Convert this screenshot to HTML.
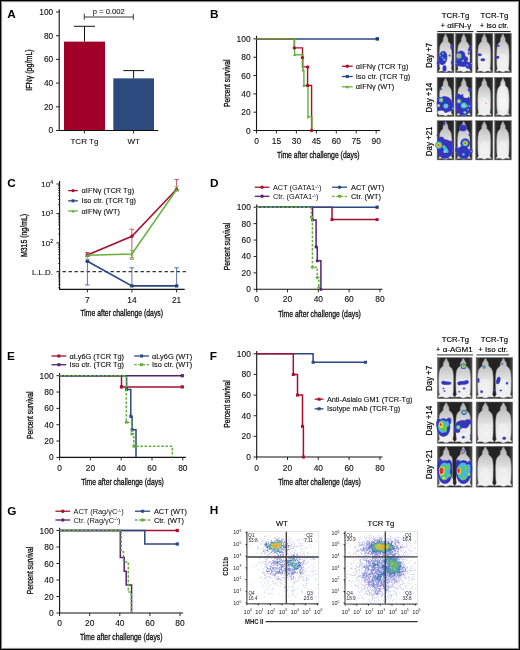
<!DOCTYPE html>
<html><head><meta charset="utf-8"><style>
html,body{margin:0;padding:0;background:#fff;}
svg{display:block;will-change:transform;}
text{font-family:"Liberation Sans", sans-serif;}
</style></head><body>
<svg width="520" height="650" viewBox="0 0 520 650">
<defs>
<filter id="b03" x="-5%" y="-5%" width="110%" height="110%"><feGaussianBlur stdDeviation="0.3"/></filter>
<filter id="b05" x="-20%" y="-20%" width="140%" height="140%"><feGaussianBlur stdDeviation="0.45"/></filter>
<filter id="b04" x="-50%" y="-50%" width="200%" height="200%"><feGaussianBlur stdDeviation="0.55"/></filter>
<filter id="b06" x="-50%" y="-50%" width="200%" height="200%"><feGaussianBlur stdDeviation="0.7"/></filter>
<radialGradient id="mg2" cx="0.5" cy="0.6" r="0.6"><stop offset="0" stop-color="#fafafa"/><stop offset="0.6" stop-color="#eeeeee"/><stop offset="1" stop-color="#bdbdbd"/></radialGradient>
<linearGradient id="mg" x1="0" y1="0" x2="0" y2="1"><stop offset="0" stop-color="#b0b0b0"/><stop offset="0.3" stop-color="#cdcdcd"/><stop offset="0.55" stop-color="#e6e6e6"/><stop offset="1" stop-color="#f2f2f2"/></linearGradient>
<linearGradient id="bgg" x1="0" y1="0" x2="1" y2="0"><stop offset="0" stop-color="#5a5a5a"/><stop offset="0.1" stop-color="#282828"/><stop offset="0.5" stop-color="#222"/><stop offset="0.9" stop-color="#282828"/><stop offset="1" stop-color="#4a4a4a"/></linearGradient>
</defs>
<rect x="0" y="0" width="520" height="650" fill="#fff"/>
<text transform="translate(7.30,17.90)" font-size="11.8" text-anchor="start" font-weight="bold" fill="#000" >A</text>
<line x1="59.20" y1="9.20" x2="59.20" y2="131.00" stroke="#111" stroke-width="1.1" stroke-linecap="butt"/>
<line x1="56.00" y1="130.50" x2="59.20" y2="130.50" stroke="#111" stroke-width="0.9" stroke-linecap="butt"/>
<text transform="translate(53.20,133.49)" font-size="8.3" text-anchor="end" font-weight="normal" fill="#111" stroke="#111" stroke-width="0.12">0</text>
<line x1="56.00" y1="106.80" x2="59.20" y2="106.80" stroke="#111" stroke-width="0.9" stroke-linecap="butt"/>
<text transform="translate(53.20,109.79)" font-size="8.3" text-anchor="end" font-weight="normal" fill="#111" stroke="#111" stroke-width="0.12">20</text>
<line x1="56.00" y1="83.10" x2="59.20" y2="83.10" stroke="#111" stroke-width="0.9" stroke-linecap="butt"/>
<text transform="translate(53.20,86.09)" font-size="8.3" text-anchor="end" font-weight="normal" fill="#111" stroke="#111" stroke-width="0.12">40</text>
<line x1="56.00" y1="59.40" x2="59.20" y2="59.40" stroke="#111" stroke-width="0.9" stroke-linecap="butt"/>
<text transform="translate(53.20,62.39)" font-size="8.3" text-anchor="end" font-weight="normal" fill="#111" stroke="#111" stroke-width="0.12">60</text>
<line x1="56.00" y1="35.70" x2="59.20" y2="35.70" stroke="#111" stroke-width="0.9" stroke-linecap="butt"/>
<text transform="translate(53.20,38.69)" font-size="8.3" text-anchor="end" font-weight="normal" fill="#111" stroke="#111" stroke-width="0.12">80</text>
<line x1="56.00" y1="12.00" x2="59.20" y2="12.00" stroke="#111" stroke-width="0.9" stroke-linecap="butt"/>
<text transform="translate(53.20,14.99)" font-size="8.3" text-anchor="end" font-weight="normal" fill="#111" stroke="#111" stroke-width="0.12">100</text>
<rect x="64.00" y="41.62" width="41.00" height="88.88" fill="#a1002b"/>
<rect x="113.30" y="78.36" width="40.70" height="52.14" fill="#2d4a7f"/>
<line x1="84.50" y1="41.62" x2="84.50" y2="26.30" stroke="#111" stroke-width="1.0" stroke-linecap="butt"/>
<line x1="74.00" y1="26.30" x2="95.00" y2="26.30" stroke="#111" stroke-width="1.0" stroke-linecap="butt"/>
<line x1="133.60" y1="78.36" x2="133.60" y2="70.60" stroke="#111" stroke-width="1.0" stroke-linecap="butt"/>
<line x1="123.30" y1="70.60" x2="144.20" y2="70.60" stroke="#111" stroke-width="1.0" stroke-linecap="butt"/>
<line x1="58.70" y1="130.50" x2="158.30" y2="130.50" stroke="#111" stroke-width="1.1" stroke-linecap="butt"/>
<line x1="84.40" y1="130.50" x2="84.40" y2="133.50" stroke="#111" stroke-width="0.9" stroke-linecap="butt"/>
<line x1="133.60" y1="130.50" x2="133.60" y2="133.50" stroke="#111" stroke-width="0.9" stroke-linecap="butt"/>
<text transform="translate(84.40,144.20)" font-size="8.0" text-anchor="middle" font-weight="normal" fill="#111" stroke="#111" stroke-width="0.12">TCR Tg</text>
<text transform="translate(133.60,144.20)" font-size="8.0" text-anchor="middle" font-weight="normal" fill="#111" stroke="#111" stroke-width="0.12">WT</text>
<line x1="84.30" y1="17.00" x2="133.30" y2="17.00" stroke="#222" stroke-width="0.9" stroke-linecap="butt"/>
<line x1="84.30" y1="13.80" x2="84.30" y2="19.80" stroke="#222" stroke-width="0.9" stroke-linecap="butt"/>
<line x1="133.30" y1="13.80" x2="133.30" y2="19.80" stroke="#222" stroke-width="0.9" stroke-linecap="butt"/>
<text transform="translate(108.80,13.90)" font-size="7.6" text-anchor="middle" font-weight="normal" fill="#222" stroke="#222" stroke-width="0.12">p = 0.002</text>
<text transform="translate(32.30,70.00) rotate(-90) scale(0.726,1)" font-size="9.8" text-anchor="middle" font-weight="normal" fill="#111" stroke="#111" stroke-width="0.34">IFNγ (pg/mL)</text>
<text transform="translate(209.90,18.00)" font-size="11.8" text-anchor="start" font-weight="bold" fill="#000" >B</text>
<line x1="256.50" y1="35.80" x2="256.50" y2="131.00" stroke="#111" stroke-width="1.1" stroke-linecap="butt"/>
<line x1="253.30" y1="130.50" x2="256.50" y2="130.50" stroke="#111" stroke-width="0.9" stroke-linecap="butt"/>
<text transform="translate(250.60,133.52)" font-size="8.4" text-anchor="end" font-weight="normal" fill="#111" stroke="#111" stroke-width="0.12">0</text>
<line x1="253.30" y1="112.18" x2="256.50" y2="112.18" stroke="#111" stroke-width="0.9" stroke-linecap="butt"/>
<text transform="translate(250.60,115.20)" font-size="8.4" text-anchor="end" font-weight="normal" fill="#111" stroke="#111" stroke-width="0.12">20</text>
<line x1="253.30" y1="93.86" x2="256.50" y2="93.86" stroke="#111" stroke-width="0.9" stroke-linecap="butt"/>
<text transform="translate(250.60,96.88)" font-size="8.4" text-anchor="end" font-weight="normal" fill="#111" stroke="#111" stroke-width="0.12">40</text>
<line x1="253.30" y1="75.54" x2="256.50" y2="75.54" stroke="#111" stroke-width="0.9" stroke-linecap="butt"/>
<text transform="translate(250.60,78.56)" font-size="8.4" text-anchor="end" font-weight="normal" fill="#111" stroke="#111" stroke-width="0.12">60</text>
<line x1="253.30" y1="57.22" x2="256.50" y2="57.22" stroke="#111" stroke-width="0.9" stroke-linecap="butt"/>
<text transform="translate(250.60,60.24)" font-size="8.4" text-anchor="end" font-weight="normal" fill="#111" stroke="#111" stroke-width="0.12">80</text>
<line x1="253.30" y1="38.90" x2="256.50" y2="38.90" stroke="#111" stroke-width="0.9" stroke-linecap="butt"/>
<text transform="translate(250.60,41.92)" font-size="8.4" text-anchor="end" font-weight="normal" fill="#111" stroke="#111" stroke-width="0.12">100</text>
<line x1="256.00" y1="130.50" x2="380.00" y2="130.50" stroke="#111" stroke-width="1.1" stroke-linecap="butt"/>
<line x1="256.50" y1="130.50" x2="256.50" y2="133.50" stroke="#111" stroke-width="0.9" stroke-linecap="butt"/>
<text transform="translate(256.50,144.00)" font-size="8.4" text-anchor="middle" font-weight="normal" fill="#111" stroke="#111" stroke-width="0.12">0</text>
<line x1="276.45" y1="130.50" x2="276.45" y2="133.50" stroke="#111" stroke-width="0.9" stroke-linecap="butt"/>
<text transform="translate(276.45,144.00)" font-size="8.4" text-anchor="middle" font-weight="normal" fill="#111" stroke="#111" stroke-width="0.12">15</text>
<line x1="296.40" y1="130.50" x2="296.40" y2="133.50" stroke="#111" stroke-width="0.9" stroke-linecap="butt"/>
<text transform="translate(296.40,144.00)" font-size="8.4" text-anchor="middle" font-weight="normal" fill="#111" stroke="#111" stroke-width="0.12">30</text>
<line x1="316.35" y1="130.50" x2="316.35" y2="133.50" stroke="#111" stroke-width="0.9" stroke-linecap="butt"/>
<text transform="translate(316.35,144.00)" font-size="8.4" text-anchor="middle" font-weight="normal" fill="#111" stroke="#111" stroke-width="0.12">45</text>
<line x1="336.30" y1="130.50" x2="336.30" y2="133.50" stroke="#111" stroke-width="0.9" stroke-linecap="butt"/>
<text transform="translate(336.30,144.00)" font-size="8.4" text-anchor="middle" font-weight="normal" fill="#111" stroke="#111" stroke-width="0.12">60</text>
<line x1="356.25" y1="130.50" x2="356.25" y2="133.50" stroke="#111" stroke-width="0.9" stroke-linecap="butt"/>
<text transform="translate(356.25,144.00)" font-size="8.4" text-anchor="middle" font-weight="normal" fill="#111" stroke="#111" stroke-width="0.12">75</text>
<line x1="376.20" y1="130.50" x2="376.20" y2="133.50" stroke="#111" stroke-width="0.9" stroke-linecap="butt"/>
<text transform="translate(376.20,144.00)" font-size="8.4" text-anchor="middle" font-weight="normal" fill="#111" stroke="#111" stroke-width="0.12">90</text>
<text transform="translate(230.40,83.30) rotate(-90) scale(0.68,1)" font-size="9.8" text-anchor="middle" font-weight="normal" fill="#111" stroke="#111" stroke-width="0.34">Percent survival</text>
<text transform="translate(318.30,157.70) scale(0.7,1)" font-size="9.8" text-anchor="middle" font-weight="normal" fill="#111" stroke="#111" stroke-width="0.34">Time after challenge (days)</text>
<path d="M256.5,38.89999999999999H377.3" stroke="#2b4784" stroke-width="1.5" fill="none" stroke-linejoin="miter"/>
<rect x="375.60" y="37.20" width="3.40" height="3.40" fill="#1f3a78"/>
<path d="M256.5,38.90H294.3V47.9H302.5V66.9H307.6V85.5H311.6V130.5" stroke="#a8102f" stroke-width="1.4" fill="none" stroke-linejoin="miter"/>
<path d="M256.5,38.90H294.6V54.7H302.9V70.1H303.9V85.5H308.0V116.9H312.0V130.5" stroke="#66b03c" stroke-width="1.4" fill="none" stroke-linejoin="miter"/>
<path d="M293.00,56.10L294.60,53.30L296.20,56.10Z" fill="#66b03c"/>
<path d="M301.30,71.50L302.90,68.70L304.50,71.50Z" fill="#66b03c"/>
<path d="M302.30,86.90L303.90,84.10L305.50,86.90Z" fill="#66b03c"/>
<path d="M306.40,118.30L308.00,115.50L309.60,118.30Z" fill="#66b03c"/>
<circle cx="294.30" cy="47.90" r="1.70" fill="#a8102f"/>
<circle cx="302.40" cy="57.60" r="1.70" fill="#a8102f"/>
<circle cx="307.70" cy="66.90" r="1.70" fill="#a8102f"/>
<circle cx="307.60" cy="85.50" r="1.70" fill="#a8102f"/>
<circle cx="311.60" cy="130.50" r="1.70" fill="#a8102f"/>
<line x1="341.90" y1="66.20" x2="352.70" y2="66.20" stroke="#a8102f" stroke-width="1.3" stroke-linecap="butt"/>
<circle cx="347.30" cy="66.20" r="1.70" fill="#a8102f"/>
<text transform="translate(355.80,68.79)" font-size="7.4" text-anchor="start" font-weight="normal" fill="#111" stroke="#111" stroke-width="0.12">αIFNγ (TCR Tg)</text>
<line x1="341.90" y1="76.50" x2="352.70" y2="76.50" stroke="#2b4784" stroke-width="1.3" stroke-linecap="butt"/>
<rect x="345.80" y="75.00" width="3.00" height="3.00" fill="#2b4784"/>
<text transform="translate(355.80,79.09)" font-size="7.4" text-anchor="start" font-weight="normal" fill="#111" stroke="#111" stroke-width="0.12">Iso ctr. (TCR Tg)</text>
<line x1="341.90" y1="86.80" x2="352.70" y2="86.80" stroke="#66b03c" stroke-width="1.3" stroke-linecap="butt"/>
<path d="M345.60,88.30L347.30,85.30L349.00,88.30Z" fill="#66b03c"/>
<text transform="translate(355.80,89.39)" font-size="7.4" text-anchor="start" font-weight="normal" fill="#111" stroke="#111" stroke-width="0.12">αIFNγ (WT)</text>
<text transform="translate(7.30,186.80)" font-size="11.8" text-anchor="start" font-weight="bold" fill="#000" >C</text>
<line x1="59.60" y1="181.00" x2="59.60" y2="289.40" stroke="#111" stroke-width="1.1" stroke-linecap="butt"/>
<line x1="56.40" y1="184.00" x2="59.60" y2="184.00" stroke="#111" stroke-width="0.9" stroke-linecap="butt"/>
<text transform="translate(50.20,186.90)" font-size="8.0" text-anchor="end" font-weight="normal" fill="#111" stroke="#111" stroke-width="0.12">10</text>
<text transform="translate(50.30,184.10)" font-size="5.2" text-anchor="start" font-weight="normal" fill="#111" stroke="#111" stroke-width="0.12">4</text>
<line x1="56.40" y1="213.45" x2="59.60" y2="213.45" stroke="#111" stroke-width="0.9" stroke-linecap="butt"/>
<text transform="translate(50.20,216.35)" font-size="8.0" text-anchor="end" font-weight="normal" fill="#111" stroke="#111" stroke-width="0.12">10</text>
<text transform="translate(50.30,213.55)" font-size="5.2" text-anchor="start" font-weight="normal" fill="#111" stroke="#111" stroke-width="0.12">3</text>
<line x1="56.40" y1="242.90" x2="59.60" y2="242.90" stroke="#111" stroke-width="0.9" stroke-linecap="butt"/>
<text transform="translate(50.20,245.80)" font-size="8.0" text-anchor="end" font-weight="normal" fill="#111" stroke="#111" stroke-width="0.12">10</text>
<text transform="translate(50.30,243.00)" font-size="5.2" text-anchor="start" font-weight="normal" fill="#111" stroke="#111" stroke-width="0.12">2</text>
<line x1="58.00" y1="204.58" x2="59.60" y2="204.58" stroke="#111" stroke-width="0.7" stroke-linecap="butt"/>
<line x1="58.00" y1="199.40" x2="59.60" y2="199.40" stroke="#111" stroke-width="0.7" stroke-linecap="butt"/>
<line x1="58.00" y1="195.72" x2="59.60" y2="195.72" stroke="#111" stroke-width="0.7" stroke-linecap="butt"/>
<line x1="58.00" y1="192.87" x2="59.60" y2="192.87" stroke="#111" stroke-width="0.7" stroke-linecap="butt"/>
<line x1="58.00" y1="190.53" x2="59.60" y2="190.53" stroke="#111" stroke-width="0.7" stroke-linecap="butt"/>
<line x1="58.00" y1="188.56" x2="59.60" y2="188.56" stroke="#111" stroke-width="0.7" stroke-linecap="butt"/>
<line x1="58.00" y1="186.85" x2="59.60" y2="186.85" stroke="#111" stroke-width="0.7" stroke-linecap="butt"/>
<line x1="58.00" y1="185.35" x2="59.60" y2="185.35" stroke="#111" stroke-width="0.7" stroke-linecap="butt"/>
<line x1="58.00" y1="234.03" x2="59.60" y2="234.03" stroke="#111" stroke-width="0.7" stroke-linecap="butt"/>
<line x1="58.00" y1="228.85" x2="59.60" y2="228.85" stroke="#111" stroke-width="0.7" stroke-linecap="butt"/>
<line x1="58.00" y1="225.17" x2="59.60" y2="225.17" stroke="#111" stroke-width="0.7" stroke-linecap="butt"/>
<line x1="58.00" y1="222.32" x2="59.60" y2="222.32" stroke="#111" stroke-width="0.7" stroke-linecap="butt"/>
<line x1="58.00" y1="219.98" x2="59.60" y2="219.98" stroke="#111" stroke-width="0.7" stroke-linecap="butt"/>
<line x1="58.00" y1="218.01" x2="59.60" y2="218.01" stroke="#111" stroke-width="0.7" stroke-linecap="butt"/>
<line x1="58.00" y1="216.30" x2="59.60" y2="216.30" stroke="#111" stroke-width="0.7" stroke-linecap="butt"/>
<line x1="58.00" y1="214.80" x2="59.60" y2="214.80" stroke="#111" stroke-width="0.7" stroke-linecap="butt"/>
<line x1="58.00" y1="263.48" x2="59.60" y2="263.48" stroke="#111" stroke-width="0.7" stroke-linecap="butt"/>
<line x1="58.00" y1="258.30" x2="59.60" y2="258.30" stroke="#111" stroke-width="0.7" stroke-linecap="butt"/>
<line x1="58.00" y1="254.62" x2="59.60" y2="254.62" stroke="#111" stroke-width="0.7" stroke-linecap="butt"/>
<line x1="58.00" y1="251.77" x2="59.60" y2="251.77" stroke="#111" stroke-width="0.7" stroke-linecap="butt"/>
<line x1="58.00" y1="249.43" x2="59.60" y2="249.43" stroke="#111" stroke-width="0.7" stroke-linecap="butt"/>
<line x1="58.00" y1="247.46" x2="59.60" y2="247.46" stroke="#111" stroke-width="0.7" stroke-linecap="butt"/>
<line x1="58.00" y1="245.75" x2="59.60" y2="245.75" stroke="#111" stroke-width="0.7" stroke-linecap="butt"/>
<line x1="58.00" y1="244.25" x2="59.60" y2="244.25" stroke="#111" stroke-width="0.7" stroke-linecap="butt"/>
<line x1="58.00" y1="287.75" x2="59.60" y2="287.75" stroke="#111" stroke-width="0.7" stroke-linecap="butt"/>
<line x1="58.00" y1="284.07" x2="59.60" y2="284.07" stroke="#111" stroke-width="0.7" stroke-linecap="butt"/>
<line x1="58.00" y1="281.22" x2="59.60" y2="281.22" stroke="#111" stroke-width="0.7" stroke-linecap="butt"/>
<line x1="58.00" y1="278.88" x2="59.60" y2="278.88" stroke="#111" stroke-width="0.7" stroke-linecap="butt"/>
<line x1="58.00" y1="276.91" x2="59.60" y2="276.91" stroke="#111" stroke-width="0.7" stroke-linecap="butt"/>
<line x1="58.00" y1="275.20" x2="59.60" y2="275.20" stroke="#111" stroke-width="0.7" stroke-linecap="butt"/>
<line x1="58.00" y1="273.70" x2="59.60" y2="273.70" stroke="#111" stroke-width="0.7" stroke-linecap="butt"/>
<line x1="56.50" y1="271.70" x2="186.00" y2="271.70" stroke="#333" stroke-width="1.2" stroke-linecap="butt" stroke-dasharray="3.4,2.6"/>
<text transform="translate(53.00,274.60)" font-size="7.9" text-anchor="end" font-weight="normal" fill="#111" stroke="#111" stroke-width="0.12">L.L.D.</text>
<line x1="59.10" y1="289.40" x2="184.70" y2="289.40" stroke="#111" stroke-width="1.1" stroke-linecap="butt"/>
<line x1="87.40" y1="289.40" x2="87.40" y2="292.40" stroke="#111" stroke-width="0.9" stroke-linecap="butt"/>
<text transform="translate(87.40,303.40)" font-size="8.4" text-anchor="middle" font-weight="normal" fill="#111" stroke="#111" stroke-width="0.12">7</text>
<line x1="131.90" y1="289.40" x2="131.90" y2="292.40" stroke="#111" stroke-width="0.9" stroke-linecap="butt"/>
<text transform="translate(131.90,303.40)" font-size="8.4" text-anchor="middle" font-weight="normal" fill="#111" stroke="#111" stroke-width="0.12">14</text>
<line x1="176.60" y1="289.40" x2="176.60" y2="292.40" stroke="#111" stroke-width="0.9" stroke-linecap="butt"/>
<text transform="translate(176.60,303.40)" font-size="8.4" text-anchor="middle" font-weight="normal" fill="#111" stroke="#111" stroke-width="0.12">21</text>
<text transform="translate(121.70,316.10) scale(0.7,1)" font-size="9.8" text-anchor="middle" font-weight="normal" fill="#111" stroke="#111" stroke-width="0.34">Time after challenge (days)</text>
<text transform="translate(26.50,235.50) rotate(-90) scale(0.71,1)" font-size="9.8" text-anchor="middle" font-weight="normal" fill="#111" stroke="#111" stroke-width="0.34">M315 (ng/mL)</text>
<line x1="87.40" y1="252.70" x2="87.40" y2="256.30" stroke="#8a3050" stroke-width="0.9" stroke-linecap="butt"/>
<line x1="85.10" y1="252.70" x2="89.70" y2="252.70" stroke="#8a3050" stroke-width="0.9" stroke-linecap="butt"/>
<line x1="85.10" y1="256.30" x2="89.70" y2="256.30" stroke="#8a3050" stroke-width="0.9" stroke-linecap="butt"/>
<line x1="87.40" y1="255.00" x2="87.40" y2="259.00" stroke="#7fbf55" stroke-width="0.9" stroke-linecap="butt"/>
<line x1="85.10" y1="255.00" x2="89.70" y2="255.00" stroke="#7fbf55" stroke-width="0.9" stroke-linecap="butt"/>
<line x1="85.10" y1="259.00" x2="89.70" y2="259.00" stroke="#7fbf55" stroke-width="0.9" stroke-linecap="butt"/>
<line x1="87.40" y1="261.30" x2="87.40" y2="285.00" stroke="#4a66a0" stroke-width="0.9" stroke-linecap="butt"/>
<line x1="85.10" y1="261.30" x2="89.70" y2="261.30" stroke="#4a66a0" stroke-width="0.9" stroke-linecap="butt"/>
<line x1="85.10" y1="285.00" x2="89.70" y2="285.00" stroke="#4a66a0" stroke-width="0.9" stroke-linecap="butt"/>
<line x1="131.90" y1="229.20" x2="131.90" y2="258.00" stroke="#c0405e" stroke-width="0.9" stroke-linecap="butt"/>
<line x1="129.60" y1="229.20" x2="134.20" y2="229.20" stroke="#c0405e" stroke-width="0.9" stroke-linecap="butt"/>
<line x1="129.60" y1="258.00" x2="134.20" y2="258.00" stroke="#c0405e" stroke-width="0.9" stroke-linecap="butt"/>
<line x1="131.90" y1="250.40" x2="131.90" y2="259.60" stroke="#7fbf55" stroke-width="0.9" stroke-linecap="butt"/>
<line x1="129.60" y1="250.40" x2="134.20" y2="250.40" stroke="#7fbf55" stroke-width="0.9" stroke-linecap="butt"/>
<line x1="129.60" y1="259.60" x2="134.20" y2="259.60" stroke="#7fbf55" stroke-width="0.9" stroke-linecap="butt"/>
<line x1="131.90" y1="267.80" x2="131.90" y2="285.90" stroke="#4a66a0" stroke-width="0.9" stroke-linecap="butt"/>
<line x1="129.60" y1="267.80" x2="134.20" y2="267.80" stroke="#4a66a0" stroke-width="0.9" stroke-linecap="butt"/>
<line x1="129.60" y1="285.90" x2="134.20" y2="285.90" stroke="#4a66a0" stroke-width="0.9" stroke-linecap="butt"/>
<line x1="176.60" y1="179.60" x2="176.60" y2="190.50" stroke="#c0405e" stroke-width="0.9" stroke-linecap="butt"/>
<line x1="174.30" y1="179.60" x2="178.90" y2="179.60" stroke="#c0405e" stroke-width="0.9" stroke-linecap="butt"/>
<line x1="174.30" y1="190.50" x2="178.90" y2="190.50" stroke="#c0405e" stroke-width="0.9" stroke-linecap="butt"/>
<line x1="176.60" y1="186.60" x2="176.60" y2="191.30" stroke="#7fbf55" stroke-width="0.9" stroke-linecap="butt"/>
<line x1="174.30" y1="186.60" x2="178.90" y2="186.60" stroke="#7fbf55" stroke-width="0.9" stroke-linecap="butt"/>
<line x1="174.30" y1="191.30" x2="178.90" y2="191.30" stroke="#7fbf55" stroke-width="0.9" stroke-linecap="butt"/>
<line x1="176.60" y1="267.80" x2="176.60" y2="285.90" stroke="#4a66a0" stroke-width="0.9" stroke-linecap="butt"/>
<line x1="174.30" y1="267.80" x2="178.90" y2="267.80" stroke="#4a66a0" stroke-width="0.9" stroke-linecap="butt"/>
<line x1="174.30" y1="285.90" x2="178.90" y2="285.90" stroke="#4a66a0" stroke-width="0.9" stroke-linecap="butt"/>
<path d="M87.4,261.3L131.9,285.9L176.6,285.9" stroke="#2b4784" stroke-width="1.6" fill="none" stroke-linejoin="miter"/>
<rect x="85.80" y="259.70" width="3.20" height="3.20" fill="#22407a"/>
<rect x="130.30" y="284.30" width="3.20" height="3.20" fill="#22407a"/>
<rect x="175.00" y="284.30" width="3.20" height="3.20" fill="#22407a"/>
<path d="M87.4,255.0L131.9,236.3L176.6,189.2" stroke="#a8102f" stroke-width="1.6" fill="none" stroke-linejoin="miter"/>
<circle cx="87.40" cy="255.00" r="1.70" fill="#a8102f"/>
<circle cx="131.90" cy="236.30" r="1.70" fill="#a8102f"/>
<circle cx="176.60" cy="189.20" r="1.70" fill="#a8102f"/>
<path d="M87.4,255.3L131.9,254.0L176.6,189.6" stroke="#66b03c" stroke-width="1.6" fill="none" stroke-linejoin="miter"/>
<path d="M85.80,256.70L87.40,253.90L89.00,256.70Z" fill="#66b03c"/>
<path d="M130.30,255.40L131.90,252.60L133.50,255.40Z" fill="#66b03c"/>
<path d="M175.00,191.00L176.60,188.20L178.20,191.00Z" fill="#66b03c"/>
<line x1="68.20" y1="190.60" x2="77.90" y2="190.60" stroke="#a8102f" stroke-width="1.3" stroke-linecap="butt"/>
<circle cx="73.05" cy="190.60" r="1.70" fill="#a8102f"/>
<text transform="translate(81.60,193.19)" font-size="7.4" text-anchor="start" font-weight="normal" fill="#111" stroke="#111" stroke-width="0.12">αIFNγ (TCR Tg)</text>
<line x1="68.20" y1="200.80" x2="77.90" y2="200.80" stroke="#2b4784" stroke-width="1.3" stroke-linecap="butt"/>
<rect x="71.55" y="199.30" width="3.00" height="3.00" fill="#2b4784"/>
<text transform="translate(81.60,203.39)" font-size="7.4" text-anchor="start" font-weight="normal" fill="#111" stroke="#111" stroke-width="0.12">Iso ctr. (TCR Tg)</text>
<line x1="68.20" y1="211.00" x2="77.90" y2="211.00" stroke="#66b03c" stroke-width="1.3" stroke-linecap="butt"/>
<path d="M71.35,212.50L73.05,209.50L74.75,212.50Z" fill="#66b03c"/>
<text transform="translate(81.60,213.59)" font-size="7.4" text-anchor="start" font-weight="normal" fill="#111" stroke="#111" stroke-width="0.12">αIFNγ (WT)</text>
<text transform="translate(209.90,186.60)" font-size="11.8" text-anchor="start" font-weight="bold" fill="#000" >D</text>
<line x1="256.70" y1="204.40" x2="256.70" y2="289.80" stroke="#111" stroke-width="1.1" stroke-linecap="butt"/>
<line x1="253.50" y1="289.30" x2="256.70" y2="289.30" stroke="#111" stroke-width="0.9" stroke-linecap="butt"/>
<text transform="translate(250.80,292.32)" font-size="8.4" text-anchor="end" font-weight="normal" fill="#111" stroke="#111" stroke-width="0.12">0</text>
<line x1="253.50" y1="272.88" x2="256.70" y2="272.88" stroke="#111" stroke-width="0.9" stroke-linecap="butt"/>
<text transform="translate(250.80,275.90)" font-size="8.4" text-anchor="end" font-weight="normal" fill="#111" stroke="#111" stroke-width="0.12">20</text>
<line x1="253.50" y1="256.46" x2="256.70" y2="256.46" stroke="#111" stroke-width="0.9" stroke-linecap="butt"/>
<text transform="translate(250.80,259.48)" font-size="8.4" text-anchor="end" font-weight="normal" fill="#111" stroke="#111" stroke-width="0.12">40</text>
<line x1="253.50" y1="240.04" x2="256.70" y2="240.04" stroke="#111" stroke-width="0.9" stroke-linecap="butt"/>
<text transform="translate(250.80,243.06)" font-size="8.4" text-anchor="end" font-weight="normal" fill="#111" stroke="#111" stroke-width="0.12">60</text>
<line x1="253.50" y1="223.62" x2="256.70" y2="223.62" stroke="#111" stroke-width="0.9" stroke-linecap="butt"/>
<text transform="translate(250.80,226.64)" font-size="8.4" text-anchor="end" font-weight="normal" fill="#111" stroke="#111" stroke-width="0.12">80</text>
<line x1="253.50" y1="207.20" x2="256.70" y2="207.20" stroke="#111" stroke-width="0.9" stroke-linecap="butt"/>
<text transform="translate(250.80,210.22)" font-size="8.4" text-anchor="end" font-weight="normal" fill="#111" stroke="#111" stroke-width="0.12">100</text>
<line x1="256.20" y1="289.30" x2="382.50" y2="289.30" stroke="#111" stroke-width="1.1" stroke-linecap="butt"/>
<line x1="256.70" y1="289.30" x2="256.70" y2="292.30" stroke="#111" stroke-width="0.9" stroke-linecap="butt"/>
<text transform="translate(256.70,302.40)" font-size="8.4" text-anchor="middle" font-weight="normal" fill="#111" stroke="#111" stroke-width="0.12">0</text>
<line x1="287.50" y1="289.30" x2="287.50" y2="292.30" stroke="#111" stroke-width="0.9" stroke-linecap="butt"/>
<text transform="translate(287.50,302.40)" font-size="8.4" text-anchor="middle" font-weight="normal" fill="#111" stroke="#111" stroke-width="0.12">20</text>
<line x1="318.30" y1="289.30" x2="318.30" y2="292.30" stroke="#111" stroke-width="0.9" stroke-linecap="butt"/>
<text transform="translate(318.30,302.40)" font-size="8.4" text-anchor="middle" font-weight="normal" fill="#111" stroke="#111" stroke-width="0.12">40</text>
<line x1="349.10" y1="289.30" x2="349.10" y2="292.30" stroke="#111" stroke-width="0.9" stroke-linecap="butt"/>
<text transform="translate(349.10,302.40)" font-size="8.4" text-anchor="middle" font-weight="normal" fill="#111" stroke="#111" stroke-width="0.12">60</text>
<line x1="379.90" y1="289.30" x2="379.90" y2="292.30" stroke="#111" stroke-width="0.9" stroke-linecap="butt"/>
<text transform="translate(379.90,302.40)" font-size="8.4" text-anchor="middle" font-weight="normal" fill="#111" stroke="#111" stroke-width="0.12">80</text>
<text transform="translate(229.90,246.50) rotate(-90) scale(0.68,1)" font-size="9.8" text-anchor="middle" font-weight="normal" fill="#111" stroke="#111" stroke-width="0.34">Percent survival</text>
<text transform="translate(319.50,316.70) scale(0.7,1)" font-size="9.8" text-anchor="middle" font-weight="normal" fill="#111" stroke="#111" stroke-width="0.34">Time after challenge (days)</text>
<path d="M256.7,207.2H332.0V219.6H377.1" stroke="#a8102f" stroke-width="1.5" fill="none" stroke-linejoin="miter"/>
<rect x="330.50" y="218.10" width="3.00" height="3.00" fill="#a8102f"/>
<rect x="375.60" y="218.10" width="3.00" height="3.00" fill="#a8102f"/>
<path d="M256.7,207.2H312.6V219.9H316.1V246.9H317.3V260.8H320.9V289.3" stroke="#55236f" stroke-width="1.5" fill="none" stroke-linejoin="miter"/>
<circle cx="312.60" cy="219.90" r="1.60" fill="#55236f"/>
<circle cx="316.10" cy="246.90" r="1.60" fill="#55236f"/>
<circle cx="317.30" cy="260.80" r="1.60" fill="#55236f"/>
<circle cx="320.90" cy="289.30" r="1.60" fill="#55236f"/>
<path d="M256.7,207.2H377.1" stroke="#2b4784" stroke-width="1.5" fill="none" stroke-linejoin="miter"/>
<rect x="375.50" y="205.60" width="3.20" height="3.20" fill="#1f3a78"/>
<path d="M256.7,207.2H311.3V217.0H312.4V267.2H317.2V277.4H318.8V289.3" stroke="#66b03c" stroke-width="1.5" fill="none" stroke-linejoin="miter" stroke-dasharray="2.6,1.6"/>
<circle cx="311.30" cy="217.00" r="1.50" fill="#66b03c"/>
<circle cx="312.40" cy="267.20" r="1.50" fill="#66b03c"/>
<circle cx="317.20" cy="277.40" r="1.50" fill="#66b03c"/>
<circle cx="318.80" cy="287.50" r="1.50" fill="#66b03c"/>
<line x1="254.80" y1="187.20" x2="269.40" y2="187.20" stroke="#a8102f" stroke-width="1.3" stroke-linecap="butt"/>
<circle cx="262.10" cy="187.20" r="1.70" fill="#a8102f"/>
<text transform="translate(272.90,189.79)" font-size="7.4" text-anchor="start" font-weight="normal" fill="#111" stroke="#111" stroke-width="0.12"></text>
<text transform="translate(272.90,189.80)" font-size="7.4" fill="#111">ACT (GATA1<tspan font-size="4.14" dy="-2.2">-/-</tspan><tspan dy="2.2">)</tspan></text>
<line x1="254.80" y1="196.30" x2="269.40" y2="196.30" stroke="#55236f" stroke-width="1.3" stroke-linecap="butt"/>
<circle cx="262.10" cy="196.30" r="1.70" fill="#55236f"/>
<text transform="translate(272.90,198.89)" font-size="7.4" text-anchor="start" font-weight="normal" fill="#111" stroke="#111" stroke-width="0.12"></text>
<text transform="translate(272.90,198.90)" font-size="7.4" fill="#111">Ctr. (GATA1<tspan font-size="4.14" dy="-2.2">-/-</tspan><tspan dy="2.2">)</tspan></text>
<line x1="332.10" y1="187.20" x2="347.00" y2="187.20" stroke="#2b4784" stroke-width="1.3" stroke-linecap="butt"/>
<circle cx="339.55" cy="187.20" r="1.70" fill="#2b4784"/>
<text transform="translate(351.00,189.79)" font-size="7.4" text-anchor="start" font-weight="normal" fill="#111" stroke="#111" stroke-width="0.12">ACT (WT)</text>
<line x1="332.10" y1="196.30" x2="347.00" y2="196.30" stroke="#66b03c" stroke-width="1.3" stroke-linecap="butt" stroke-dasharray="2.6,1.6"/>
<circle cx="339.55" cy="196.30" r="1.70" fill="#66b03c"/>
<text transform="translate(351.00,198.89)" font-size="7.4" text-anchor="start" font-weight="normal" fill="#111" stroke="#111" stroke-width="0.12">Ctr. (WT)</text>
<text transform="translate(7.00,360.00)" font-size="11.8" text-anchor="start" font-weight="bold" fill="#000" >E</text>
<line x1="59.60" y1="372.90" x2="59.60" y2="457.90" stroke="#111" stroke-width="1.1" stroke-linecap="butt"/>
<line x1="56.40" y1="457.40" x2="59.60" y2="457.40" stroke="#111" stroke-width="0.9" stroke-linecap="butt"/>
<text transform="translate(53.60,460.42)" font-size="8.4" text-anchor="end" font-weight="normal" fill="#111" stroke="#111" stroke-width="0.12">0</text>
<line x1="56.40" y1="441.06" x2="59.60" y2="441.06" stroke="#111" stroke-width="0.9" stroke-linecap="butt"/>
<text transform="translate(53.60,444.08)" font-size="8.4" text-anchor="end" font-weight="normal" fill="#111" stroke="#111" stroke-width="0.12">20</text>
<line x1="56.40" y1="424.72" x2="59.60" y2="424.72" stroke="#111" stroke-width="0.9" stroke-linecap="butt"/>
<text transform="translate(53.60,427.74)" font-size="8.4" text-anchor="end" font-weight="normal" fill="#111" stroke="#111" stroke-width="0.12">40</text>
<line x1="56.40" y1="408.38" x2="59.60" y2="408.38" stroke="#111" stroke-width="0.9" stroke-linecap="butt"/>
<text transform="translate(53.60,411.40)" font-size="8.4" text-anchor="end" font-weight="normal" fill="#111" stroke="#111" stroke-width="0.12">60</text>
<line x1="56.40" y1="392.04" x2="59.60" y2="392.04" stroke="#111" stroke-width="0.9" stroke-linecap="butt"/>
<text transform="translate(53.60,395.06)" font-size="8.4" text-anchor="end" font-weight="normal" fill="#111" stroke="#111" stroke-width="0.12">80</text>
<line x1="56.40" y1="375.70" x2="59.60" y2="375.70" stroke="#111" stroke-width="0.9" stroke-linecap="butt"/>
<text transform="translate(53.60,378.72)" font-size="8.4" text-anchor="end" font-weight="normal" fill="#111" stroke="#111" stroke-width="0.12">100</text>
<line x1="59.10" y1="457.40" x2="185.80" y2="457.40" stroke="#111" stroke-width="1.1" stroke-linecap="butt"/>
<line x1="59.60" y1="457.40" x2="59.60" y2="460.40" stroke="#111" stroke-width="0.9" stroke-linecap="butt"/>
<text transform="translate(59.60,471.00)" font-size="8.4" text-anchor="middle" font-weight="normal" fill="#111" stroke="#111" stroke-width="0.12">0</text>
<line x1="90.40" y1="457.40" x2="90.40" y2="460.40" stroke="#111" stroke-width="0.9" stroke-linecap="butt"/>
<text transform="translate(90.40,471.00)" font-size="8.4" text-anchor="middle" font-weight="normal" fill="#111" stroke="#111" stroke-width="0.12">20</text>
<line x1="121.20" y1="457.40" x2="121.20" y2="460.40" stroke="#111" stroke-width="0.9" stroke-linecap="butt"/>
<text transform="translate(121.20,471.00)" font-size="8.4" text-anchor="middle" font-weight="normal" fill="#111" stroke="#111" stroke-width="0.12">40</text>
<line x1="152.00" y1="457.40" x2="152.00" y2="460.40" stroke="#111" stroke-width="0.9" stroke-linecap="butt"/>
<text transform="translate(152.00,471.00)" font-size="8.4" text-anchor="middle" font-weight="normal" fill="#111" stroke="#111" stroke-width="0.12">60</text>
<line x1="182.80" y1="457.40" x2="182.80" y2="460.40" stroke="#111" stroke-width="0.9" stroke-linecap="butt"/>
<text transform="translate(182.80,471.00)" font-size="8.4" text-anchor="middle" font-weight="normal" fill="#111" stroke="#111" stroke-width="0.12">80</text>
<text transform="translate(33.10,415.30) rotate(-90) scale(0.68,1)" font-size="9.8" text-anchor="middle" font-weight="normal" fill="#111" stroke="#111" stroke-width="0.34">Percent survival</text>
<text transform="translate(122.50,484.90) scale(0.7,1)" font-size="9.8" text-anchor="middle" font-weight="normal" fill="#111" stroke="#111" stroke-width="0.34">Time after challenge (days)</text>
<path d="M59.6,375.7H182.3" stroke="#55236f" stroke-width="1.5" fill="none" stroke-linejoin="miter"/>
<rect x="180.70" y="374.10" width="3.20" height="3.20" fill="#55236f"/>
<path d="M59.6,375.7H121.5V386.9H182.3" stroke="#a8102f" stroke-width="1.5" fill="none" stroke-linejoin="miter"/>
<rect x="119.90" y="385.30" width="3.20" height="3.20" fill="#a8102f"/>
<rect x="180.70" y="385.30" width="3.20" height="3.20" fill="#a8102f"/>
<path d="M59.6,375.7H126.6V389.4H130.8V416.4H132.1V429.8H136.0V457.4" stroke="#2b4784" stroke-width="1.5" fill="none" stroke-linejoin="miter"/>
<rect x="125.10" y="387.90" width="3.00" height="3.00" fill="#2b4784"/>
<rect x="129.30" y="414.90" width="3.00" height="3.00" fill="#2b4784"/>
<rect x="130.60" y="428.30" width="3.00" height="3.00" fill="#2b4784"/>
<path d="M59.6,375.7H126.3V422.3H131.9V434.0H133.8V446.2H172.3V457.4" stroke="#66b03c" stroke-width="1.5" fill="none" stroke-linejoin="miter" stroke-dasharray="2.6,1.6"/>
<rect x="124.90" y="420.90" width="2.80" height="2.80" fill="#66b03c"/>
<rect x="130.50" y="432.60" width="2.80" height="2.80" fill="#66b03c"/>
<rect x="132.40" y="444.80" width="2.80" height="2.80" fill="#66b03c"/>
<line x1="51.50" y1="356.00" x2="66.30" y2="356.00" stroke="#a8102f" stroke-width="1.3" stroke-linecap="butt"/>
<rect x="57.40" y="354.50" width="3.00" height="3.00" fill="#a8102f"/>
<text transform="translate(69.60,358.59)" font-size="7.4" text-anchor="start" font-weight="normal" fill="#111" stroke="#111" stroke-width="0.12">αLy6G (TCR Tg)</text>
<line x1="51.50" y1="364.70" x2="66.30" y2="364.70" stroke="#55236f" stroke-width="1.3" stroke-linecap="butt"/>
<rect x="57.40" y="363.20" width="3.00" height="3.00" fill="#55236f"/>
<text transform="translate(69.60,367.29)" font-size="7.4" text-anchor="start" font-weight="normal" fill="#111" stroke="#111" stroke-width="0.12">Iso ctr. (TCR Tg)</text>
<line x1="134.20" y1="356.00" x2="149.00" y2="356.00" stroke="#2b4784" stroke-width="1.3" stroke-linecap="butt"/>
<rect x="140.10" y="354.50" width="3.00" height="3.00" fill="#2b4784"/>
<text transform="translate(152.00,358.59)" font-size="7.4" text-anchor="start" font-weight="normal" fill="#111" stroke="#111" stroke-width="0.12">αLy6G (WT)</text>
<line x1="134.20" y1="364.70" x2="149.00" y2="364.70" stroke="#66b03c" stroke-width="1.3" stroke-linecap="butt" stroke-dasharray="2.6,1.6"/>
<rect x="140.10" y="363.20" width="3.00" height="3.00" fill="#66b03c"/>
<text transform="translate(152.00,367.29)" font-size="7.4" text-anchor="start" font-weight="normal" fill="#111" stroke="#111" stroke-width="0.12">Iso ctr. (WT)</text>
<text transform="translate(209.70,360.10)" font-size="11.8" text-anchor="start" font-weight="bold" fill="#000" >F</text>
<line x1="256.70" y1="351.00" x2="256.70" y2="457.50" stroke="#111" stroke-width="1.1" stroke-linecap="butt"/>
<line x1="253.50" y1="457.00" x2="256.70" y2="457.00" stroke="#111" stroke-width="0.9" stroke-linecap="butt"/>
<text transform="translate(250.80,460.02)" font-size="8.4" text-anchor="end" font-weight="normal" fill="#111" stroke="#111" stroke-width="0.12">0</text>
<line x1="253.50" y1="436.36" x2="256.70" y2="436.36" stroke="#111" stroke-width="0.9" stroke-linecap="butt"/>
<text transform="translate(250.80,439.38)" font-size="8.4" text-anchor="end" font-weight="normal" fill="#111" stroke="#111" stroke-width="0.12">20</text>
<line x1="253.50" y1="415.72" x2="256.70" y2="415.72" stroke="#111" stroke-width="0.9" stroke-linecap="butt"/>
<text transform="translate(250.80,418.74)" font-size="8.4" text-anchor="end" font-weight="normal" fill="#111" stroke="#111" stroke-width="0.12">40</text>
<line x1="253.50" y1="395.08" x2="256.70" y2="395.08" stroke="#111" stroke-width="0.9" stroke-linecap="butt"/>
<text transform="translate(250.80,398.10)" font-size="8.4" text-anchor="end" font-weight="normal" fill="#111" stroke="#111" stroke-width="0.12">60</text>
<line x1="253.50" y1="374.44" x2="256.70" y2="374.44" stroke="#111" stroke-width="0.9" stroke-linecap="butt"/>
<text transform="translate(250.80,377.46)" font-size="8.4" text-anchor="end" font-weight="normal" fill="#111" stroke="#111" stroke-width="0.12">80</text>
<line x1="253.50" y1="353.80" x2="256.70" y2="353.80" stroke="#111" stroke-width="0.9" stroke-linecap="butt"/>
<text transform="translate(250.80,356.82)" font-size="8.4" text-anchor="end" font-weight="normal" fill="#111" stroke="#111" stroke-width="0.12">100</text>
<line x1="256.20" y1="457.00" x2="382.50" y2="457.00" stroke="#111" stroke-width="1.1" stroke-linecap="butt"/>
<line x1="256.70" y1="457.00" x2="256.70" y2="460.00" stroke="#111" stroke-width="0.9" stroke-linecap="butt"/>
<text transform="translate(256.70,471.00)" font-size="8.4" text-anchor="middle" font-weight="normal" fill="#111" stroke="#111" stroke-width="0.12">0</text>
<line x1="287.50" y1="457.00" x2="287.50" y2="460.00" stroke="#111" stroke-width="0.9" stroke-linecap="butt"/>
<text transform="translate(287.50,471.00)" font-size="8.4" text-anchor="middle" font-weight="normal" fill="#111" stroke="#111" stroke-width="0.12">20</text>
<line x1="318.30" y1="457.00" x2="318.30" y2="460.00" stroke="#111" stroke-width="0.9" stroke-linecap="butt"/>
<text transform="translate(318.30,471.00)" font-size="8.4" text-anchor="middle" font-weight="normal" fill="#111" stroke="#111" stroke-width="0.12">40</text>
<line x1="349.10" y1="457.00" x2="349.10" y2="460.00" stroke="#111" stroke-width="0.9" stroke-linecap="butt"/>
<text transform="translate(349.10,471.00)" font-size="8.4" text-anchor="middle" font-weight="normal" fill="#111" stroke="#111" stroke-width="0.12">60</text>
<line x1="379.90" y1="457.00" x2="379.90" y2="460.00" stroke="#111" stroke-width="0.9" stroke-linecap="butt"/>
<text transform="translate(379.90,471.00)" font-size="8.4" text-anchor="middle" font-weight="normal" fill="#111" stroke="#111" stroke-width="0.12">80</text>
<text transform="translate(230.10,404.00) rotate(-90) scale(0.68,1)" font-size="9.8" text-anchor="middle" font-weight="normal" fill="#111" stroke="#111" stroke-width="0.34">Percent survival</text>
<text transform="translate(319.50,484.80) scale(0.7,1)" font-size="9.8" text-anchor="middle" font-weight="normal" fill="#111" stroke="#111" stroke-width="0.34">Time after challenge (days)</text>
<path d="M256.7,353.8H313.1V362.3H365.5" stroke="#2b4784" stroke-width="1.5" fill="none" stroke-linejoin="miter"/>
<rect x="311.60" y="360.80" width="3.00" height="3.00" fill="#2b4784"/>
<rect x="364.00" y="360.80" width="3.00" height="3.00" fill="#2b4784"/>
<path d="M256.7,353.8H293.3V374.5H297.5V395.1H302.5V426.4H303.4V457.0" stroke="#a8102f" stroke-width="1.5" fill="none" stroke-linejoin="miter"/>
<rect x="291.80" y="373.00" width="3.00" height="3.00" fill="#a8102f"/>
<rect x="296.00" y="393.60" width="3.00" height="3.00" fill="#a8102f"/>
<rect x="301.00" y="424.90" width="3.00" height="3.00" fill="#a8102f"/>
<rect x="301.90" y="455.50" width="3.00" height="3.00" fill="#a8102f"/>
<line x1="314.70" y1="399.20" x2="323.50" y2="399.20" stroke="#a8102f" stroke-width="1.3" stroke-linecap="butt"/>
<rect x="317.60" y="397.70" width="3.00" height="3.00" fill="#a8102f"/>
<text transform="translate(326.90,401.75)" font-size="7.3" text-anchor="start" font-weight="normal" fill="#111" stroke="#111" stroke-width="0.12">Anti-Asialo GM1 (TCR-Tg)</text>
<line x1="314.70" y1="408.80" x2="323.50" y2="408.80" stroke="#2b4784" stroke-width="1.3" stroke-linecap="butt"/>
<rect x="317.60" y="407.30" width="3.00" height="3.00" fill="#2b4784"/>
<text transform="translate(326.90,411.36)" font-size="7.3" text-anchor="start" font-weight="normal" fill="#111" stroke="#111" stroke-width="0.12">Isotype mAb (TCR-Tg)</text>
<text transform="translate(7.30,514.60)" font-size="11.8" text-anchor="start" font-weight="bold" fill="#000" >G</text>
<line x1="59.60" y1="527.70" x2="59.60" y2="613.50" stroke="#111" stroke-width="1.1" stroke-linecap="butt"/>
<line x1="56.40" y1="613.00" x2="59.60" y2="613.00" stroke="#111" stroke-width="0.9" stroke-linecap="butt"/>
<text transform="translate(53.60,616.02)" font-size="8.4" text-anchor="end" font-weight="normal" fill="#111" stroke="#111" stroke-width="0.12">0</text>
<line x1="56.40" y1="596.50" x2="59.60" y2="596.50" stroke="#111" stroke-width="0.9" stroke-linecap="butt"/>
<text transform="translate(53.60,599.52)" font-size="8.4" text-anchor="end" font-weight="normal" fill="#111" stroke="#111" stroke-width="0.12">20</text>
<line x1="56.40" y1="580.00" x2="59.60" y2="580.00" stroke="#111" stroke-width="0.9" stroke-linecap="butt"/>
<text transform="translate(53.60,583.02)" font-size="8.4" text-anchor="end" font-weight="normal" fill="#111" stroke="#111" stroke-width="0.12">40</text>
<line x1="56.40" y1="563.50" x2="59.60" y2="563.50" stroke="#111" stroke-width="0.9" stroke-linecap="butt"/>
<text transform="translate(53.60,566.52)" font-size="8.4" text-anchor="end" font-weight="normal" fill="#111" stroke="#111" stroke-width="0.12">60</text>
<line x1="56.40" y1="547.00" x2="59.60" y2="547.00" stroke="#111" stroke-width="0.9" stroke-linecap="butt"/>
<text transform="translate(53.60,550.02)" font-size="8.4" text-anchor="end" font-weight="normal" fill="#111" stroke="#111" stroke-width="0.12">80</text>
<line x1="56.40" y1="530.50" x2="59.60" y2="530.50" stroke="#111" stroke-width="0.9" stroke-linecap="butt"/>
<text transform="translate(53.60,533.52)" font-size="8.4" text-anchor="end" font-weight="normal" fill="#111" stroke="#111" stroke-width="0.12">100</text>
<line x1="59.10" y1="613.00" x2="183.00" y2="613.00" stroke="#111" stroke-width="1.1" stroke-linecap="butt"/>
<line x1="59.60" y1="613.00" x2="59.60" y2="616.00" stroke="#111" stroke-width="0.9" stroke-linecap="butt"/>
<text transform="translate(59.60,625.60)" font-size="8.4" text-anchor="middle" font-weight="normal" fill="#111" stroke="#111" stroke-width="0.12">0</text>
<line x1="89.70" y1="613.00" x2="89.70" y2="616.00" stroke="#111" stroke-width="0.9" stroke-linecap="butt"/>
<text transform="translate(89.70,625.60)" font-size="8.4" text-anchor="middle" font-weight="normal" fill="#111" stroke="#111" stroke-width="0.12">20</text>
<line x1="119.80" y1="613.00" x2="119.80" y2="616.00" stroke="#111" stroke-width="0.9" stroke-linecap="butt"/>
<text transform="translate(119.80,625.60)" font-size="8.4" text-anchor="middle" font-weight="normal" fill="#111" stroke="#111" stroke-width="0.12">40</text>
<line x1="149.90" y1="613.00" x2="149.90" y2="616.00" stroke="#111" stroke-width="0.9" stroke-linecap="butt"/>
<text transform="translate(149.90,625.60)" font-size="8.4" text-anchor="middle" font-weight="normal" fill="#111" stroke="#111" stroke-width="0.12">60</text>
<line x1="180.00" y1="613.00" x2="180.00" y2="616.00" stroke="#111" stroke-width="0.9" stroke-linecap="butt"/>
<text transform="translate(180.00,625.60)" font-size="8.4" text-anchor="middle" font-weight="normal" fill="#111" stroke="#111" stroke-width="0.12">80</text>
<text transform="translate(33.40,570.50) rotate(-90) scale(0.68,1)" font-size="9.8" text-anchor="middle" font-weight="normal" fill="#111" stroke="#111" stroke-width="0.34">Percent survival</text>
<text transform="translate(121.20,640.00) scale(0.7,1)" font-size="9.8" text-anchor="middle" font-weight="normal" fill="#111" stroke="#111" stroke-width="0.34">Time after challenge (days)</text>
<path d="M59.6,530.5H177.3" stroke="#a8102f" stroke-width="1.5" fill="none" stroke-linejoin="miter"/>
<rect x="175.70" y="528.90" width="3.20" height="3.20" fill="#a8102f"/>
<path d="M59.6,530.5H120.3V557.5H124.2V571.2H126.2V584.9H131.6V613.0" stroke="#55236f" stroke-width="1.5" fill="none" stroke-linejoin="miter"/>
<path d="M59.6,530.5H144.8V544.0H177.3" stroke="#2b4784" stroke-width="1.5" fill="none" stroke-linejoin="miter"/>
<rect x="175.70" y="542.40" width="3.20" height="3.20" fill="#2b4784"/>
<path d="M59.6,530.5H121.2V551.8H123.5V562.0H128.3V592.0H131.2V613.0" stroke="#66b03c" stroke-width="1.5" fill="none" stroke-linejoin="miter" stroke-dasharray="2.6,1.6"/>
<line x1="55.40" y1="511.20" x2="70.20" y2="511.20" stroke="#a8102f" stroke-width="1.3" stroke-linecap="butt"/>
<circle cx="62.80" cy="511.20" r="1.70" fill="#a8102f"/>
<text transform="translate(73.50,513.79)" font-size="7.4" text-anchor="start" font-weight="normal" fill="#111" stroke="#111" stroke-width="0.12"></text>
<text transform="translate(73.50,513.80)" font-size="7.4" fill="#111">ACT (Rag/γC<tspan font-size="4.14" dy="-2.2">-/-</tspan><tspan dy="2.2">)</tspan></text>
<line x1="55.40" y1="520.00" x2="70.20" y2="520.00" stroke="#55236f" stroke-width="1.3" stroke-linecap="butt"/>
<circle cx="62.80" cy="520.00" r="1.70" fill="#55236f"/>
<text transform="translate(73.50,522.59)" font-size="7.4" text-anchor="start" font-weight="normal" fill="#111" stroke="#111" stroke-width="0.12"></text>
<text transform="translate(73.50,522.60)" font-size="7.4" fill="#111">Ctr. (Rag/γC<tspan font-size="4.14" dy="-2.2">-/-</tspan><tspan dy="2.2">)</tspan></text>
<line x1="135.00" y1="511.20" x2="150.10" y2="511.20" stroke="#2b4784" stroke-width="1.3" stroke-linecap="butt"/>
<circle cx="142.55" cy="511.20" r="1.70" fill="#2b4784"/>
<text transform="translate(153.90,513.79)" font-size="7.4" text-anchor="start" font-weight="normal" fill="#111" stroke="#111" stroke-width="0.12">ACT (WT)</text>
<line x1="135.00" y1="520.00" x2="150.10" y2="520.00" stroke="#66b03c" stroke-width="1.3" stroke-linecap="butt" stroke-dasharray="2.6,1.6"/>
<circle cx="142.55" cy="520.00" r="1.70" fill="#66b03c"/>
<text transform="translate(153.90,522.59)" font-size="7.4" text-anchor="start" font-weight="normal" fill="#111" stroke="#111" stroke-width="0.12">Ctr. (WT)</text>
<text transform="translate(455.60,18.20)" font-size="7.8" text-anchor="middle" font-weight="normal" fill="#000" stroke="#000" stroke-width="0.15">TCR-Tg</text>
<text transform="translate(455.80,28.30)" font-size="7.9" text-anchor="middle" font-weight="normal" fill="#000" stroke="#000" stroke-width="0.15">+ αIFN-γ</text>
<text transform="translate(494.40,18.20)" font-size="7.8" text-anchor="middle" font-weight="normal" fill="#000" stroke="#000" stroke-width="0.15">TCR-Tg</text>
<text transform="translate(494.20,28.30)" font-size="7.7" text-anchor="middle" font-weight="normal" fill="#000" stroke="#000" stroke-width="0.15">+ iso ctr.</text>
<line x1="437.40" y1="31.60" x2="473.40" y2="31.60" stroke="#111" stroke-width="1.0" stroke-linecap="butt"/>
<line x1="476.80" y1="31.60" x2="510.60" y2="31.60" stroke="#111" stroke-width="1.0" stroke-linecap="butt"/>
<rect x="437.10" y="33.30" width="16.90" height="39.40" fill="url(#bgg)" stroke="#6a6a6a" stroke-width="0.5"/>
<path d="M445.55 34.09C446.18 34.09 446.49 35.27 446.81 36.45C447.75 37.24 448.22 39.21 448.06 41.18C449.00 42.36 450.57 43.54 451.20 45.91C451.83 49.06 451.99 54.97 451.83 58.91C451.83 64.03 451.67 66.79 451.20 68.76L452.62 71.52L448.69 71.12L445.55 72.31L442.41 71.12L438.49 71.52L439.90 68.76C439.43 66.79 439.27 64.03 439.27 58.91C439.11 54.97 439.27 49.06 439.90 45.91C440.53 43.54 442.10 42.36 443.04 41.18C442.88 39.21 443.35 37.24 444.29 36.45C444.61 35.27 444.92 34.09 445.55 34.09Z" fill="url(#mg)" stroke="#8a8a8a" stroke-opacity="0.6" stroke-width="0.8" filter="url(#b05)"/>
<ellipse cx="445.55" cy="60.09" rx="4.40" ry="6.30" fill="#f6f6f6" fill-opacity="0.45" filter="url(#b06)"/>
<rect x="455.40" y="33.30" width="16.70" height="39.40" fill="url(#bgg)" stroke="#6a6a6a" stroke-width="0.5"/>
<path d="M463.75 34.09C464.37 34.09 464.68 35.27 464.99 36.45C465.92 37.24 466.38 39.21 466.23 41.18C467.16 42.36 468.71 43.54 469.33 45.91C469.95 49.06 470.10 54.97 469.95 58.91C469.95 64.03 469.79 66.79 469.33 68.76L470.72 71.52L466.85 71.12L463.75 72.31L460.65 71.12L456.77 71.52L458.17 68.76C457.70 66.79 457.55 64.03 457.55 58.91C457.39 54.97 457.55 49.06 458.17 45.91C458.79 43.54 460.34 42.36 461.27 41.18C461.12 39.21 461.58 37.24 462.51 36.45C462.82 35.27 463.13 34.09 463.75 34.09Z" fill="url(#mg)" stroke="#8a8a8a" stroke-opacity="0.6" stroke-width="0.8" filter="url(#b05)"/>
<ellipse cx="463.75" cy="60.09" rx="4.34" ry="6.30" fill="#f6f6f6" fill-opacity="0.45" filter="url(#b06)"/>
<rect x="475.60" y="33.30" width="17.30" height="39.40" fill="url(#bgg)" stroke="#6a6a6a" stroke-width="0.5"/>
<path d="M484.25 34.09C484.89 34.09 485.22 35.27 485.54 36.45C486.50 37.24 486.99 39.21 486.83 41.18C487.79 42.36 489.40 43.54 490.05 45.91C490.69 49.06 490.85 54.97 490.69 58.91C490.69 64.03 490.53 66.79 490.05 68.76L491.49 71.52L487.47 71.12L484.25 72.31L481.03 71.12L477.00 71.52L478.45 68.76C477.97 66.79 477.81 64.03 477.81 58.91C477.65 54.97 477.81 49.06 478.45 45.91C479.10 43.54 480.71 42.36 481.67 41.18C481.51 39.21 482.00 37.24 482.96 36.45C483.28 35.27 483.61 34.09 484.25 34.09Z" fill="url(#mg)" stroke="#8a8a8a" stroke-opacity="0.6" stroke-width="0.8" filter="url(#b05)"/>
<ellipse cx="484.25" cy="60.09" rx="4.51" ry="6.30" fill="#f6f6f6" fill-opacity="0.45" filter="url(#b06)"/>
<rect x="494.50" y="33.30" width="16.80" height="39.40" fill="url(#bgg)" stroke="#6a6a6a" stroke-width="0.5"/>
<path d="M502.90 34.09C503.52 34.09 503.84 35.27 504.15 36.45C505.08 37.24 505.55 39.21 505.40 41.18C506.33 42.36 507.89 43.54 508.52 45.91C509.14 49.06 509.30 54.97 509.14 58.91C509.14 64.03 508.98 66.79 508.52 68.76L509.92 71.52L506.02 71.12L502.90 72.31L499.78 71.12L495.88 71.52L497.28 68.76C496.82 66.79 496.66 64.03 496.66 58.91C496.50 54.97 496.66 49.06 497.28 45.91C497.91 43.54 499.47 42.36 500.40 41.18C500.25 39.21 500.72 37.24 501.65 36.45C501.96 35.27 502.28 34.09 502.90 34.09Z" fill="url(#mg)" stroke="#8a8a8a" stroke-opacity="0.6" stroke-width="0.8" filter="url(#b05)"/>
<ellipse cx="502.90" cy="60.09" rx="4.37" ry="6.30" fill="#f6f6f6" fill-opacity="0.45" filter="url(#b06)"/>
<rect x="437.10" y="77.40" width="16.90" height="39.10" fill="url(#bgg)" stroke="#6a6a6a" stroke-width="0.5"/>
<path d="M445.55 78.18C446.18 78.18 446.49 79.35 446.81 80.53C447.75 81.31 448.22 83.26 448.06 85.22C449.00 86.39 450.57 87.57 451.20 89.91C451.83 93.04 451.99 98.91 451.83 102.81C451.83 107.90 451.67 110.63 451.20 112.59L452.62 115.33L448.69 114.94L445.55 116.11L442.41 114.94L438.49 115.33L439.90 112.59C439.43 110.63 439.27 107.90 439.27 102.81C439.11 98.91 439.27 93.04 439.90 89.91C440.53 87.57 442.10 86.39 443.04 85.22C442.88 83.26 443.35 81.31 444.29 80.53C444.61 79.35 444.92 78.18 445.55 78.18Z" fill="url(#mg)" stroke="#8a8a8a" stroke-opacity="0.6" stroke-width="0.8" filter="url(#b05)"/>
<ellipse cx="445.55" cy="103.99" rx="4.40" ry="6.26" fill="#f6f6f6" fill-opacity="0.45" filter="url(#b06)"/>
<rect x="455.40" y="77.40" width="16.70" height="39.10" fill="url(#bgg)" stroke="#6a6a6a" stroke-width="0.5"/>
<path d="M463.75 78.18C464.37 78.18 464.68 79.35 464.99 80.53C465.92 81.31 466.38 83.26 466.23 85.22C467.16 86.39 468.71 87.57 469.33 89.91C469.95 93.04 470.10 98.91 469.95 102.81C469.95 107.90 469.79 110.63 469.33 112.59L470.72 115.33L466.85 114.94L463.75 116.11L460.65 114.94L456.77 115.33L458.17 112.59C457.70 110.63 457.55 107.90 457.55 102.81C457.39 98.91 457.55 93.04 458.17 89.91C458.79 87.57 460.34 86.39 461.27 85.22C461.12 83.26 461.58 81.31 462.51 80.53C462.82 79.35 463.13 78.18 463.75 78.18Z" fill="url(#mg)" stroke="#8a8a8a" stroke-opacity="0.6" stroke-width="0.8" filter="url(#b05)"/>
<ellipse cx="463.75" cy="103.99" rx="4.34" ry="6.26" fill="#f6f6f6" fill-opacity="0.45" filter="url(#b06)"/>
<rect x="475.60" y="77.40" width="17.30" height="39.10" fill="url(#bgg)" stroke="#6a6a6a" stroke-width="0.5"/>
<path d="M484.25 78.18C484.89 78.18 485.22 79.35 485.54 80.53C486.50 81.31 486.99 83.26 486.83 85.22C487.79 86.39 489.40 87.57 490.05 89.91C490.69 93.04 490.85 98.91 490.69 102.81C490.69 107.90 490.53 110.63 490.05 112.59L491.49 115.33L487.47 114.94L484.25 116.11L481.03 114.94L477.00 115.33L478.45 112.59C477.97 110.63 477.81 107.90 477.81 102.81C477.65 98.91 477.81 93.04 478.45 89.91C479.10 87.57 480.71 86.39 481.67 85.22C481.51 83.26 482.00 81.31 482.96 80.53C483.28 79.35 483.61 78.18 484.25 78.18Z" fill="url(#mg)" stroke="#8a8a8a" stroke-opacity="0.6" stroke-width="0.8" filter="url(#b05)"/>
<ellipse cx="484.25" cy="103.99" rx="4.51" ry="6.26" fill="#f6f6f6" fill-opacity="0.45" filter="url(#b06)"/>
<rect x="494.50" y="77.40" width="16.80" height="39.10" fill="url(#bgg)" stroke="#6a6a6a" stroke-width="0.5"/>
<path d="M502.90 78.18C503.52 78.18 503.84 79.35 504.15 80.53C505.08 81.31 505.55 83.26 505.40 85.22C506.33 86.39 507.89 87.57 508.52 89.91C509.14 93.04 509.30 98.91 509.14 102.81C509.14 107.90 508.98 110.63 508.52 112.59L509.92 115.33L506.02 114.94L502.90 116.11L499.78 114.94L495.88 115.33L497.28 112.59C496.82 110.63 496.66 107.90 496.66 102.81C496.50 98.91 496.66 93.04 497.28 89.91C497.91 87.57 499.47 86.39 500.40 85.22C500.25 83.26 500.72 81.31 501.65 80.53C501.96 79.35 502.28 78.18 502.90 78.18Z" fill="url(#mg2)" stroke="#8a8a8a" stroke-opacity="0.6" stroke-width="0.8" filter="url(#b05)"/>
<ellipse cx="502.90" cy="103.99" rx="4.37" ry="6.26" fill="#f6f6f6" fill-opacity="0.45" filter="url(#b06)"/>
<rect x="437.10" y="120.70" width="16.90" height="39.20" fill="url(#bgg)" stroke="#6a6a6a" stroke-width="0.5"/>
<path d="M445.55 121.48C446.18 121.48 446.49 122.66 446.81 123.84C447.75 124.62 448.22 126.58 448.06 128.54C449.00 129.72 450.57 130.89 451.20 133.24C451.83 136.38 451.99 142.26 451.83 146.18C451.83 151.28 451.67 154.02 451.20 155.98L452.62 158.72L448.69 158.33L445.55 159.51L442.41 158.33L438.49 158.72L439.90 155.98C439.43 154.02 439.27 151.28 439.27 146.18C439.11 142.26 439.27 136.38 439.90 133.24C440.53 130.89 442.10 129.72 443.04 128.54C442.88 126.58 443.35 124.62 444.29 123.84C444.61 122.66 444.92 121.48 445.55 121.48Z" fill="url(#mg)" stroke="#8a8a8a" stroke-opacity="0.6" stroke-width="0.8" filter="url(#b05)"/>
<ellipse cx="445.55" cy="147.36" rx="4.40" ry="6.27" fill="#f6f6f6" fill-opacity="0.45" filter="url(#b06)"/>
<rect x="455.40" y="120.70" width="16.70" height="39.20" fill="url(#bgg)" stroke="#6a6a6a" stroke-width="0.5"/>
<path d="M463.75 121.48C464.37 121.48 464.68 122.66 464.99 123.84C465.92 124.62 466.38 126.58 466.23 128.54C467.16 129.72 468.71 130.89 469.33 133.24C469.95 136.38 470.10 142.26 469.95 146.18C469.95 151.28 469.79 154.02 469.33 155.98L470.72 158.72L466.85 158.33L463.75 159.51L460.65 158.33L456.77 158.72L458.17 155.98C457.70 154.02 457.55 151.28 457.55 146.18C457.39 142.26 457.55 136.38 458.17 133.24C458.79 130.89 460.34 129.72 461.27 128.54C461.12 126.58 461.58 124.62 462.51 123.84C462.82 122.66 463.13 121.48 463.75 121.48Z" fill="url(#mg)" stroke="#8a8a8a" stroke-opacity="0.6" stroke-width="0.8" filter="url(#b05)"/>
<ellipse cx="463.75" cy="147.36" rx="4.34" ry="6.27" fill="#f6f6f6" fill-opacity="0.45" filter="url(#b06)"/>
<rect x="475.60" y="120.70" width="17.30" height="39.20" fill="url(#bgg)" stroke="#6a6a6a" stroke-width="0.5"/>
<path d="M484.25 121.48C484.89 121.48 485.22 122.66 485.54 123.84C486.50 124.62 486.99 126.58 486.83 128.54C487.79 129.72 489.40 130.89 490.05 133.24C490.69 136.38 490.85 142.26 490.69 146.18C490.69 151.28 490.53 154.02 490.05 155.98L491.49 158.72L487.47 158.33L484.25 159.51L481.03 158.33L477.00 158.72L478.45 155.98C477.97 154.02 477.81 151.28 477.81 146.18C477.65 142.26 477.81 136.38 478.45 133.24C479.10 130.89 480.71 129.72 481.67 128.54C481.51 126.58 482.00 124.62 482.96 123.84C483.28 122.66 483.61 121.48 484.25 121.48Z" fill="url(#mg)" stroke="#8a8a8a" stroke-opacity="0.6" stroke-width="0.8" filter="url(#b05)"/>
<ellipse cx="484.25" cy="147.36" rx="4.51" ry="6.27" fill="#f6f6f6" fill-opacity="0.45" filter="url(#b06)"/>
<rect x="494.50" y="120.70" width="16.80" height="39.20" fill="url(#bgg)" stroke="#6a6a6a" stroke-width="0.5"/>
<path d="M502.90 121.48C503.52 121.48 503.84 122.66 504.15 123.84C505.08 124.62 505.55 126.58 505.40 128.54C506.33 129.72 507.89 130.89 508.52 133.24C509.14 136.38 509.30 142.26 509.14 146.18C509.14 151.28 508.98 154.02 508.52 155.98L509.92 158.72L506.02 158.33L502.90 159.51L499.78 158.33L495.88 158.72L497.28 155.98C496.82 154.02 496.66 151.28 496.66 146.18C496.50 142.26 496.66 136.38 497.28 133.24C497.91 130.89 499.47 129.72 500.40 128.54C500.25 126.58 500.72 124.62 501.65 123.84C501.96 122.66 502.28 121.48 502.90 121.48Z" fill="url(#mg)" stroke="#8a8a8a" stroke-opacity="0.6" stroke-width="0.8" filter="url(#b05)"/>
<ellipse cx="502.90" cy="147.36" rx="4.37" ry="6.27" fill="#f6f6f6" fill-opacity="0.45" filter="url(#b06)"/>
<g filter="url(#b06)" fill="#5a5ad8" fill-opacity="0.75">
<ellipse cx="442.80" cy="58.00" rx="4.65" ry="7.25" transform="rotate(8,442.80,58.00)"/>
<ellipse cx="444.50" cy="68.50" rx="2.15" ry="3.45" transform="rotate(0,444.50,68.50)"/>
<ellipse cx="438.20" cy="63.00" rx="1.65" ry="2.05" transform="rotate(0,438.20,63.00)"/>
</g>
<g filter="url(#b06)" fill="#3434bc">
<ellipse cx="442.80" cy="58.00" rx="4.20" ry="6.80" transform="rotate(8,442.80,58.00)"/>
<ellipse cx="444.50" cy="68.50" rx="1.70" ry="3.00" transform="rotate(0,444.50,68.50)"/>
<ellipse cx="438.20" cy="63.00" rx="1.20" ry="1.60" transform="rotate(0,438.20,63.00)"/>
</g>
<g filter="url(#b06)" fill="#5a5ad8" fill-opacity="0.75">
<ellipse cx="452.20" cy="62.60" rx="1.45" ry="2.45" transform="rotate(0,452.20,62.60)"/>
<ellipse cx="451.60" cy="47.00" rx="1.45" ry="2.85" transform="rotate(0,451.60,47.00)"/>
<ellipse cx="449.50" cy="55.60" rx="1.15" ry="1.15" transform="rotate(0,449.50,55.60)"/>
</g>
<g filter="url(#b06)" fill="#3434bc">
<ellipse cx="452.20" cy="62.60" rx="1.00" ry="2.00" transform="rotate(0,452.20,62.60)"/>
<ellipse cx="451.60" cy="47.00" rx="1.00" ry="2.40" transform="rotate(0,451.60,47.00)"/>
<ellipse cx="449.50" cy="55.60" rx="0.70" ry="0.70" transform="rotate(0,449.50,55.60)"/>
</g>
<g filter="url(#b04)">
<circle cx="442.80" cy="53.50" r="1.10" fill="#48b8e0"/>
</g>
<g filter="url(#b04)">
<circle cx="440.20" cy="55.50" r="0.90" fill="#48b8e0"/>
</g>
<g filter="url(#b04)">
<circle cx="442.50" cy="57.60" r="0.90" fill="#48b8e0"/>
</g>
<g filter="url(#b04)">
<circle cx="444.30" cy="59.80" r="1.30" fill="#48b8e0"/>
</g>
<g filter="url(#b06)" fill="#5a5ad8" fill-opacity="0.75">
<ellipse cx="461.00" cy="55.50" rx="4.45" ry="4.95" transform="rotate(0,461.00,55.50)"/>
<ellipse cx="463.00" cy="60.00" rx="5.45" ry="3.95" transform="rotate(-20,463.00,60.00)"/>
<ellipse cx="463.50" cy="64.00" rx="8.45" ry="2.95" transform="rotate(0,463.50,64.00)"/>
<ellipse cx="468.50" cy="66.00" rx="2.95" ry="2.95" transform="rotate(0,468.50,66.00)"/>
<ellipse cx="458.50" cy="62.00" rx="2.95" ry="3.45" transform="rotate(0,458.50,62.00)"/>
</g>
<g filter="url(#b06)" fill="#3434bc">
<ellipse cx="461.00" cy="55.50" rx="4.00" ry="4.50" transform="rotate(0,461.00,55.50)"/>
<ellipse cx="463.00" cy="60.00" rx="5.00" ry="3.50" transform="rotate(-20,463.00,60.00)"/>
<ellipse cx="463.50" cy="64.00" rx="8.00" ry="2.50" transform="rotate(0,463.50,64.00)"/>
<ellipse cx="468.50" cy="66.00" rx="2.50" ry="2.50" transform="rotate(0,468.50,66.00)"/>
<ellipse cx="458.50" cy="62.00" rx="2.50" ry="3.00" transform="rotate(0,458.50,62.00)"/>
</g>
<g filter="url(#b06)" fill="#5a5ad8" fill-opacity="0.75">
<ellipse cx="469.70" cy="48.50" rx="1.45" ry="3.45" transform="rotate(20,469.70,48.50)"/>
<ellipse cx="468.80" cy="53.50" rx="1.15" ry="1.35" transform="rotate(0,468.80,53.50)"/>
</g>
<g filter="url(#b06)" fill="#3434bc">
<ellipse cx="469.70" cy="48.50" rx="1.00" ry="3.00" transform="rotate(20,469.70,48.50)"/>
<ellipse cx="468.80" cy="53.50" rx="0.70" ry="0.90" transform="rotate(0,468.80,53.50)"/>
</g>
<g filter="url(#b04)">
<circle cx="458.90" cy="55.90" r="3.10" fill="#5a5ad8"/>
<circle cx="458.90" cy="55.90" r="2.50" fill="#48b8e0"/>
<circle cx="458.90" cy="55.90" r="1.91" fill="#68c858"/>
<circle cx="458.90" cy="55.90" r="1.31" fill="#eee040"/>
<circle cx="458.90" cy="55.90" r="0.72" fill="#e03020"/>
</g>
<g filter="url(#b04)">
<circle cx="462.90" cy="60.80" r="1.20" fill="#48b8e0"/>
<circle cx="462.90" cy="60.80" r="0.65" fill="#68c858"/>
</g>
<g filter="url(#b04)">
<circle cx="467.20" cy="65.10" r="0.90" fill="#48b8e0"/>
</g>
<g filter="url(#b04)">
<circle cx="455.90" cy="63.50" r="0.80" fill="#48b8e0"/>
</g>
<g filter="url(#b04)">
<circle cx="471.40" cy="63.50" r="0.80" fill="#48b8e0"/>
</g>
<g filter="url(#b06)" fill="#5a5ad8" fill-opacity="0.75">
<ellipse cx="479.60" cy="54.80" rx="2.35" ry="1.55" transform="rotate(0,479.60,54.80)"/>
<ellipse cx="482.80" cy="59.80" rx="2.45" ry="1.65" transform="rotate(0,482.80,59.80)"/>
</g>
<g filter="url(#b06)" fill="#3434bc">
<ellipse cx="479.60" cy="54.80" rx="1.90" ry="1.10" transform="rotate(0,479.60,54.80)"/>
<ellipse cx="482.80" cy="59.80" rx="2.00" ry="1.20" transform="rotate(0,482.80,59.80)"/>
</g>
<g filter="url(#b06)" fill="#5a5ad8" fill-opacity="0.75">
<ellipse cx="497.40" cy="57.30" rx="2.05" ry="1.65" transform="rotate(0,497.40,57.30)"/>
<ellipse cx="498.30" cy="45.80" rx="1.45" ry="1.25" transform="rotate(0,498.30,45.80)"/>
</g>
<g filter="url(#b06)" fill="#3434bc">
<ellipse cx="497.40" cy="57.30" rx="1.60" ry="1.20" transform="rotate(0,497.40,57.30)"/>
<ellipse cx="498.30" cy="45.80" rx="1.00" ry="0.80" transform="rotate(0,498.30,45.80)"/>
</g>
<g filter="url(#b06)" fill="#5a5ad8" fill-opacity="0.75">
<ellipse cx="445.00" cy="104.50" rx="7.95" ry="8.45" transform="rotate(-10,445.00,104.50)"/>
<ellipse cx="439.50" cy="104.00" rx="2.95" ry="7.45" transform="rotate(0,439.50,104.00)"/>
<ellipse cx="451.00" cy="107.00" rx="2.95" ry="4.45" transform="rotate(0,451.00,107.00)"/>
<ellipse cx="440.80" cy="89.10" rx="1.35" ry="1.25" transform="rotate(0,440.80,89.10)"/>
</g>
<g filter="url(#b06)" fill="#3434bc">
<ellipse cx="445.00" cy="104.50" rx="7.50" ry="8.00" transform="rotate(-10,445.00,104.50)"/>
<ellipse cx="439.50" cy="104.00" rx="2.50" ry="7.00" transform="rotate(0,439.50,104.00)"/>
<ellipse cx="451.00" cy="107.00" rx="2.50" ry="4.00" transform="rotate(0,451.00,107.00)"/>
<ellipse cx="440.80" cy="89.10" rx="0.90" ry="0.80" transform="rotate(0,440.80,89.10)"/>
</g>
<ellipse cx="441" cy="112.5" rx="3.5" ry="2" fill="#ececec" filter="url(#b04)"/>
<g filter="url(#b04)">
<circle cx="441.10" cy="100.10" r="2.30" fill="#48b8e0"/>
<circle cx="441.10" cy="100.10" r="1.58" fill="#68c858"/>
<circle cx="441.10" cy="100.10" r="0.86" fill="#eee040"/>
</g>
<g filter="url(#b04)">
<circle cx="438.60" cy="105.60" r="1.60" fill="#48b8e0"/>
<circle cx="438.60" cy="105.60" r="1.10" fill="#eee040"/>
<circle cx="438.60" cy="105.60" r="0.60" fill="#f09030"/>
</g>
<g filter="url(#b04)">
<circle cx="445.90" cy="105.90" r="2.50" fill="#48b8e0"/>
<circle cx="445.90" cy="105.90" r="1.72" fill="#80d8e8"/>
<circle cx="445.90" cy="105.90" r="0.94" fill="#68c858"/>
</g>
<g filter="url(#b04)">
<circle cx="453.00" cy="108.50" r="0.90" fill="#48b8e0"/>
</g>
<g filter="url(#b06)" fill="#5a5ad8" fill-opacity="0.75">
<ellipse cx="463.50" cy="105.00" rx="8.25" ry="10.95" transform="rotate(0,463.50,105.00)"/>
<ellipse cx="458.50" cy="99.00" rx="3.45" ry="5.45" transform="rotate(0,458.50,99.00)"/>
<ellipse cx="469.50" cy="89.80" rx="1.95" ry="1.95" transform="rotate(0,469.50,89.80)"/>
</g>
<g filter="url(#b06)" fill="#3434bc">
<ellipse cx="463.50" cy="105.00" rx="7.80" ry="10.50" transform="rotate(0,463.50,105.00)"/>
<ellipse cx="458.50" cy="99.00" rx="3.00" ry="5.00" transform="rotate(0,458.50,99.00)"/>
<ellipse cx="469.50" cy="89.80" rx="1.50" ry="1.50" transform="rotate(0,469.50,89.80)"/>
</g>
<ellipse cx="466" cy="95.5" rx="2.8" ry="2.5" fill="#e4e4e4" filter="url(#b04)"/>
<g filter="url(#b04)">
<circle cx="459.00" cy="101.20" r="2.20" fill="#48b8e0"/>
<circle cx="459.00" cy="101.20" r="1.68" fill="#68c858"/>
<circle cx="459.00" cy="101.20" r="1.15" fill="#eee040"/>
<circle cx="459.00" cy="101.20" r="0.63" fill="#f09030"/>
</g>
<g filter="url(#b04)">
<circle cx="463.80" cy="105.60" r="3.00" fill="#48b8e0"/>
<circle cx="463.80" cy="105.60" r="1.64" fill="#80d8e8"/>
</g>
<g filter="url(#b04)">
<circle cx="466.70" cy="105.90" r="1.30" fill="#68c858"/>
</g>
<g filter="url(#b04)">
<circle cx="464.90" cy="112.50" r="1.60" fill="#48b8e0"/>
<circle cx="464.90" cy="112.50" r="1.10" fill="#68c858"/>
<circle cx="464.90" cy="112.50" r="0.60" fill="#eee040"/>
</g>
<g filter="url(#b04)">
<circle cx="469.50" cy="106.00" r="1.00" fill="#48b8e0"/>
</g>
<g filter="url(#b04)">
<circle cx="468.00" cy="109.50" r="1.00" fill="#48b8e0"/>
</g>
<g filter="url(#b04)">
<circle cx="486.00" cy="103.60" r="0.50" fill="#e06050"/>
</g>
<g filter="url(#b06)" fill="#5a5ad8" fill-opacity="0.75">
<ellipse cx="445.00" cy="149.00" rx="8.25" ry="9.95" transform="rotate(0,445.00,149.00)"/>
<ellipse cx="441.00" cy="141.00" rx="3.95" ry="4.45" transform="rotate(0,441.00,141.00)"/>
<ellipse cx="450.00" cy="145.00" rx="2.95" ry="4.45" transform="rotate(0,450.00,145.00)"/>
<ellipse cx="444.40" cy="123.70" rx="1.25" ry="1.85" transform="rotate(0,444.40,123.70)"/>
<ellipse cx="437.50" cy="135.30" rx="1.05" ry="1.05" transform="rotate(0,437.50,135.30)"/>
</g>
<g filter="url(#b06)" fill="#3434bc">
<ellipse cx="445.00" cy="149.00" rx="7.80" ry="9.50" transform="rotate(0,445.00,149.00)"/>
<ellipse cx="441.00" cy="141.00" rx="3.50" ry="4.00" transform="rotate(0,441.00,141.00)"/>
<ellipse cx="450.00" cy="145.00" rx="2.50" ry="4.00" transform="rotate(0,450.00,145.00)"/>
<ellipse cx="444.40" cy="123.70" rx="0.80" ry="1.40" transform="rotate(0,444.40,123.70)"/>
<ellipse cx="437.50" cy="135.30" rx="0.60" ry="0.60" transform="rotate(0,437.50,135.30)"/>
</g>
<g filter="url(#b04)">
<circle cx="438.60" cy="145.20" r="3.60" fill="#48b8e0"/>
<circle cx="438.60" cy="145.20" r="2.74" fill="#68c858"/>
<circle cx="438.60" cy="145.20" r="1.89" fill="#eee040"/>
<circle cx="438.60" cy="145.20" r="1.03" fill="#e03020"/>
</g>
<g filter="url(#b05)" fill="#48b8e0">
<ellipse cx="445.50" cy="149.00" rx="1.80" ry="4.50" transform="rotate(-35,445.50,149.00)"/>
</g>
<g filter="url(#b04)" fill="#68c858">
<ellipse cx="444.00" cy="147.00" rx="0.90" ry="1.60" transform="rotate(-35,444.00,147.00)"/>
</g>
<g filter="url(#b04)">
<circle cx="445.00" cy="151.50" r="1.50" fill="#80d8e8"/>
</g>
<g filter="url(#b06)" fill="#5a5ad8" fill-opacity="0.75">
<ellipse cx="463.00" cy="128.00" rx="3.95" ry="3.45" transform="rotate(0,463.00,128.00)"/>
</g>
<g filter="url(#b06)" fill="#3434bc">
<ellipse cx="463.00" cy="128.00" rx="3.50" ry="3.00" transform="rotate(0,463.00,128.00)"/>
</g>
<g filter="url(#b06)" fill="#5a5ad8" fill-opacity="0.75">
<ellipse cx="465.20" cy="143.20" rx="4.95" ry="4.95" transform="rotate(0,465.20,143.20)"/>
<ellipse cx="463.50" cy="152.50" rx="6.95" ry="6.45" transform="rotate(45,463.50,152.50)"/>
<ellipse cx="456.80" cy="150.00" rx="1.95" ry="2.95" transform="rotate(0,456.80,150.00)"/>
<ellipse cx="470.80" cy="151.00" rx="1.95" ry="2.95" transform="rotate(0,470.80,151.00)"/>
<ellipse cx="469.50" cy="135.00" rx="1.15" ry="1.35" transform="rotate(0,469.50,135.00)"/>
</g>
<g filter="url(#b06)" fill="#3434bc">
<ellipse cx="465.20" cy="143.20" rx="4.50" ry="4.50" transform="rotate(0,465.20,143.20)"/>
<ellipse cx="463.50" cy="152.50" rx="6.50" ry="6.00" transform="rotate(45,463.50,152.50)"/>
<ellipse cx="456.80" cy="150.00" rx="1.50" ry="2.50" transform="rotate(0,456.80,150.00)"/>
<ellipse cx="470.80" cy="151.00" rx="1.50" ry="2.50" transform="rotate(0,470.80,151.00)"/>
<ellipse cx="469.50" cy="135.00" rx="0.70" ry="0.90" transform="rotate(0,469.50,135.00)"/>
</g>
<g filter="url(#b04)">
<circle cx="465.20" cy="143.20" r="3.00" fill="#48b8e0"/>
<circle cx="465.20" cy="143.20" r="2.29" fill="#68c858"/>
<circle cx="465.20" cy="143.20" r="1.57" fill="#eee040"/>
<circle cx="465.20" cy="143.20" r="0.86" fill="#e03020"/>
</g>
<g filter="url(#b04)">
<circle cx="463.40" cy="154.40" r="1.30" fill="#48b8e0"/>
<circle cx="463.40" cy="154.40" r="0.71" fill="#68c858"/>
</g>
<g filter="url(#b04)">
<circle cx="471.20" cy="151.20" r="0.80" fill="#48b8e0"/>
</g>
<text transform="translate(432.40,55.40) rotate(-90) scale(0.92,1)" font-size="8.6" text-anchor="middle" font-weight="normal" fill="#000" stroke="#000" stroke-width="0.2">Day +7</text>
<text transform="translate(432.40,97.60) rotate(-90) scale(0.92,1)" font-size="8.6" text-anchor="middle" font-weight="normal" fill="#000" stroke="#000" stroke-width="0.2">Day +14</text>
<text transform="translate(432.40,141.30) rotate(-90) scale(0.92,1)" font-size="8.6" text-anchor="middle" font-weight="normal" fill="#000" stroke="#000" stroke-width="0.2">Day +21</text>
<text transform="translate(455.40,341.80)" font-size="7.7" text-anchor="middle" font-weight="normal" fill="#000" stroke="#000" stroke-width="0.15">TCR-Tg</text>
<text transform="translate(454.20,351.60)" font-size="8.0" text-anchor="middle" font-weight="normal" fill="#000" stroke="#000" stroke-width="0.15">+ α-AGM1</text>
<text transform="translate(494.40,341.80)" font-size="7.7" text-anchor="middle" font-weight="normal" fill="#000" stroke="#000" stroke-width="0.15">TCR-Tg</text>
<text transform="translate(493.20,351.60)" font-size="7.8" text-anchor="middle" font-weight="normal" fill="#000" stroke="#000" stroke-width="0.15">+ Iso ctr.</text>
<rect x="437.00" y="354.10" width="36.00" height="1.50" fill="#7a7a7a"/>
<rect x="476.60" y="354.10" width="32.40" height="1.50" fill="#7a7a7a"/>
<rect x="437.30" y="357.60" width="34.80" height="41.00" fill="url(#bgg)" stroke="#6a6a6a" stroke-width="0.5"/>
<clipPath id="fc1"><rect x="437.60" y="357.90" width="34.20" height="40.40"/></clipPath>
<g clip-path="url(#fc1)">
<path d="M446.15 358.42C446.89 358.42 447.27 359.65 447.64 360.88C448.75 361.70 449.31 363.75 449.12 365.80C450.24 367.03 452.10 368.26 452.84 370.72C453.58 374.00 453.77 380.15 453.58 384.25C453.58 389.58 453.40 392.45 452.84 394.50L454.51 397.37L449.87 396.96L446.15 398.19L442.43 396.96L437.79 397.37L439.46 394.50C438.90 392.45 438.72 389.58 438.72 384.25C438.53 380.15 438.72 374.00 439.46 370.72C440.20 368.26 442.06 367.03 443.18 365.80C442.99 363.75 443.55 361.70 444.66 360.88C445.03 359.65 445.41 358.42 446.15 358.42Z" fill="url(#mg)" stroke="#8a8a8a" stroke-opacity="0.6" stroke-width="0.8" filter="url(#b05)"/>
<ellipse cx="446.15" cy="385.48" rx="5.20" ry="6.56" fill="#f6f6f6" fill-opacity="0.45" filter="url(#b06)"/>
<path d="M463.25 358.42C463.99 358.42 464.37 359.65 464.74 360.88C465.85 361.70 466.41 363.75 466.22 365.80C467.34 367.03 469.20 368.26 469.94 370.72C470.68 374.00 470.87 380.15 470.68 384.25C470.68 389.58 470.50 392.45 469.94 394.50L471.61 397.37L466.97 396.96L463.25 398.19L459.53 396.96L454.89 397.37L456.56 394.50C456.00 392.45 455.82 389.58 455.82 384.25C455.63 380.15 455.82 374.00 456.56 370.72C457.30 368.26 459.16 367.03 460.28 365.80C460.09 363.75 460.65 361.70 461.76 360.88C462.13 359.65 462.51 358.42 463.25 358.42Z" fill="url(#mg)" stroke="#8a8a8a" stroke-opacity="0.6" stroke-width="0.8" filter="url(#b05)"/>
<ellipse cx="463.25" cy="385.48" rx="5.20" ry="6.56" fill="#f6f6f6" fill-opacity="0.45" filter="url(#b06)"/>
</g>
<rect x="476.10" y="357.60" width="36.60" height="41.00" fill="url(#bgg)" stroke="#6a6a6a" stroke-width="0.5"/>
<clipPath id="fc2"><rect x="476.40" y="357.90" width="36.00" height="40.40"/></clipPath>
<g clip-path="url(#fc2)">
<path d="M485.40 358.42C486.18 358.42 486.57 359.65 486.96 360.88C488.13 361.70 488.72 363.75 488.52 365.80C489.70 367.03 491.65 368.26 492.43 370.72C493.21 374.00 493.41 380.15 493.21 384.25C493.21 389.58 493.02 392.45 492.43 394.50L494.19 397.37L489.31 396.96L485.40 398.19L481.49 396.96L476.61 397.37L478.37 394.50C477.78 392.45 477.59 389.58 477.59 384.25C477.39 380.15 477.59 374.00 478.37 370.72C479.15 368.26 481.10 367.03 482.28 365.80C482.08 363.75 482.67 361.70 483.84 360.88C484.23 359.65 484.62 358.42 485.40 358.42Z" fill="url(#mg)" stroke="#8a8a8a" stroke-opacity="0.6" stroke-width="0.8" filter="url(#b05)"/>
<ellipse cx="485.40" cy="385.48" rx="5.47" ry="6.56" fill="#f6f6f6" fill-opacity="0.45" filter="url(#b06)"/>
<path d="M503.40 358.42C504.18 358.42 504.57 359.65 504.96 360.88C506.13 361.70 506.72 363.75 506.52 365.80C507.70 367.03 509.65 368.26 510.43 370.72C511.21 374.00 511.41 380.15 511.21 384.25C511.21 389.58 511.02 392.45 510.43 394.50L512.19 397.37L507.31 396.96L503.40 398.19L499.49 396.96L494.61 397.37L496.37 394.50C495.78 392.45 495.59 389.58 495.59 384.25C495.39 380.15 495.59 374.00 496.37 370.72C497.15 368.26 499.10 367.03 500.28 365.80C500.08 363.75 500.67 361.70 501.84 360.88C502.23 359.65 502.62 358.42 503.40 358.42Z" fill="url(#mg)" stroke="#8a8a8a" stroke-opacity="0.6" stroke-width="0.8" filter="url(#b05)"/>
<ellipse cx="503.40" cy="385.48" rx="5.47" ry="6.56" fill="#f6f6f6" fill-opacity="0.45" filter="url(#b06)"/>
</g>
<rect x="437.30" y="402.00" width="34.80" height="41.30" fill="url(#bgg)" stroke="#6a6a6a" stroke-width="0.5"/>
<clipPath id="fc3"><rect x="437.60" y="402.30" width="34.20" height="40.70"/></clipPath>
<g clip-path="url(#fc3)">
<path d="M446.15 402.83C446.89 402.83 447.27 404.06 447.64 405.30C448.75 406.13 449.31 408.19 449.12 410.26C450.24 411.50 452.10 412.74 452.84 415.22C453.58 418.52 453.77 424.72 453.58 428.85C453.58 434.21 453.40 437.11 452.84 439.17L454.51 442.06L449.87 441.65L446.15 442.89L442.43 441.65L437.79 442.06L439.46 439.17C438.90 437.11 438.72 434.21 438.72 428.85C438.53 424.72 438.72 418.52 439.46 415.22C440.20 412.74 442.06 411.50 443.18 410.26C442.99 408.19 443.55 406.13 444.66 405.30C445.03 404.06 445.41 402.83 446.15 402.83Z" fill="url(#mg)" stroke="#8a8a8a" stroke-opacity="0.6" stroke-width="0.8" filter="url(#b05)"/>
<ellipse cx="446.15" cy="430.08" rx="5.20" ry="6.61" fill="#f6f6f6" fill-opacity="0.45" filter="url(#b06)"/>
<path d="M463.25 402.83C463.99 402.83 464.37 404.06 464.74 405.30C465.85 406.13 466.41 408.19 466.22 410.26C467.34 411.50 469.20 412.74 469.94 415.22C470.68 418.52 470.87 424.72 470.68 428.85C470.68 434.21 470.50 437.11 469.94 439.17L471.61 442.06L466.97 441.65L463.25 442.89L459.53 441.65L454.89 442.06L456.56 439.17C456.00 437.11 455.82 434.21 455.82 428.85C455.63 424.72 455.82 418.52 456.56 415.22C457.30 412.74 459.16 411.50 460.28 410.26C460.09 408.19 460.65 406.13 461.76 405.30C462.13 404.06 462.51 402.83 463.25 402.83Z" fill="url(#mg)" stroke="#8a8a8a" stroke-opacity="0.6" stroke-width="0.8" filter="url(#b05)"/>
<ellipse cx="463.25" cy="430.08" rx="5.20" ry="6.61" fill="#f6f6f6" fill-opacity="0.45" filter="url(#b06)"/>
</g>
<rect x="476.10" y="402.00" width="36.60" height="41.30" fill="url(#bgg)" stroke="#6a6a6a" stroke-width="0.5"/>
<clipPath id="fc4"><rect x="476.40" y="402.30" width="36.00" height="40.70"/></clipPath>
<g clip-path="url(#fc4)">
<path d="M485.40 402.83C486.18 402.83 486.57 404.06 486.96 405.30C488.13 406.13 488.72 408.19 488.52 410.26C489.70 411.50 491.65 412.74 492.43 415.22C493.21 418.52 493.41 424.72 493.21 428.85C493.21 434.21 493.02 437.11 492.43 439.17L494.19 442.06L489.31 441.65L485.40 442.89L481.49 441.65L476.61 442.06L478.37 439.17C477.78 437.11 477.59 434.21 477.59 428.85C477.39 424.72 477.59 418.52 478.37 415.22C479.15 412.74 481.10 411.50 482.28 410.26C482.08 408.19 482.67 406.13 483.84 405.30C484.23 404.06 484.62 402.83 485.40 402.83Z" fill="url(#mg)" stroke="#8a8a8a" stroke-opacity="0.6" stroke-width="0.8" filter="url(#b05)"/>
<ellipse cx="485.40" cy="430.08" rx="5.47" ry="6.61" fill="#f6f6f6" fill-opacity="0.45" filter="url(#b06)"/>
<path d="M503.40 402.83C504.18 402.83 504.57 404.06 504.96 405.30C506.13 406.13 506.72 408.19 506.52 410.26C507.70 411.50 509.65 412.74 510.43 415.22C511.21 418.52 511.41 424.72 511.21 428.85C511.21 434.21 511.02 437.11 510.43 439.17L512.19 442.06L507.31 441.65L503.40 442.89L499.49 441.65L494.61 442.06L496.37 439.17C495.78 437.11 495.59 434.21 495.59 428.85C495.39 424.72 495.59 418.52 496.37 415.22C497.15 412.74 499.10 411.50 500.28 410.26C500.08 408.19 500.67 406.13 501.84 405.30C502.23 404.06 502.62 402.83 503.40 402.83Z" fill="url(#mg)" stroke="#8a8a8a" stroke-opacity="0.6" stroke-width="0.8" filter="url(#b05)"/>
<ellipse cx="503.40" cy="430.08" rx="5.47" ry="6.61" fill="#f6f6f6" fill-opacity="0.45" filter="url(#b06)"/>
</g>
<rect x="437.30" y="446.30" width="34.80" height="40.80" fill="url(#bgg)" stroke="#6a6a6a" stroke-width="0.5"/>
<clipPath id="fc5"><rect x="437.60" y="446.60" width="34.20" height="40.20"/></clipPath>
<g clip-path="url(#fc5)">
<path d="M446.15 447.12C446.89 447.12 447.27 448.34 447.64 449.56C448.75 450.38 449.31 452.42 449.12 454.46C450.24 455.68 452.10 456.91 452.84 459.36C453.58 462.62 453.77 468.74 453.58 472.82C453.58 478.12 453.40 480.98 452.84 483.02L454.51 485.88L449.87 485.47L446.15 486.69L442.43 485.47L437.79 485.88L439.46 483.02C438.90 480.98 438.72 478.12 438.72 472.82C438.53 468.74 438.72 462.62 439.46 459.36C440.20 456.91 442.06 455.68 443.18 454.46C442.99 452.42 443.55 450.38 444.66 449.56C445.03 448.34 445.41 447.12 446.15 447.12Z" fill="url(#mg)" stroke="#8a8a8a" stroke-opacity="0.6" stroke-width="0.8" filter="url(#b05)"/>
<ellipse cx="446.15" cy="474.04" rx="5.20" ry="6.53" fill="#f6f6f6" fill-opacity="0.45" filter="url(#b06)"/>
<path d="M463.25 447.12C463.99 447.12 464.37 448.34 464.74 449.56C465.85 450.38 466.41 452.42 466.22 454.46C467.34 455.68 469.20 456.91 469.94 459.36C470.68 462.62 470.87 468.74 470.68 472.82C470.68 478.12 470.50 480.98 469.94 483.02L471.61 485.88L466.97 485.47L463.25 486.69L459.53 485.47L454.89 485.88L456.56 483.02C456.00 480.98 455.82 478.12 455.82 472.82C455.63 468.74 455.82 462.62 456.56 459.36C457.30 456.91 459.16 455.68 460.28 454.46C460.09 452.42 460.65 450.38 461.76 449.56C462.13 448.34 462.51 447.12 463.25 447.12Z" fill="url(#mg)" stroke="#8a8a8a" stroke-opacity="0.6" stroke-width="0.8" filter="url(#b05)"/>
<ellipse cx="463.25" cy="474.04" rx="5.20" ry="6.53" fill="#f6f6f6" fill-opacity="0.45" filter="url(#b06)"/>
</g>
<rect x="476.10" y="446.30" width="36.60" height="40.80" fill="url(#bgg)" stroke="#6a6a6a" stroke-width="0.5"/>
<clipPath id="fc6"><rect x="476.40" y="446.60" width="36.00" height="40.20"/></clipPath>
<g clip-path="url(#fc6)">
<path d="M485.40 447.12C486.18 447.12 486.57 448.34 486.96 449.56C488.13 450.38 488.72 452.42 488.52 454.46C489.70 455.68 491.65 456.91 492.43 459.36C493.21 462.62 493.41 468.74 493.21 472.82C493.21 478.12 493.02 480.98 492.43 483.02L494.19 485.88L489.31 485.47L485.40 486.69L481.49 485.47L476.61 485.88L478.37 483.02C477.78 480.98 477.59 478.12 477.59 472.82C477.39 468.74 477.59 462.62 478.37 459.36C479.15 456.91 481.10 455.68 482.28 454.46C482.08 452.42 482.67 450.38 483.84 449.56C484.23 448.34 484.62 447.12 485.40 447.12Z" fill="url(#mg)" stroke="#8a8a8a" stroke-opacity="0.6" stroke-width="0.8" filter="url(#b05)"/>
<ellipse cx="485.40" cy="474.04" rx="5.47" ry="6.53" fill="#f6f6f6" fill-opacity="0.45" filter="url(#b06)"/>
<path d="M503.40 447.12C504.18 447.12 504.57 448.34 504.96 449.56C506.13 450.38 506.72 452.42 506.52 454.46C507.70 455.68 509.65 456.91 510.43 459.36C511.21 462.62 511.41 468.74 511.21 472.82C511.21 478.12 511.02 480.98 510.43 483.02L512.19 485.88L507.31 485.47L503.40 486.69L499.49 485.47L494.61 485.88L496.37 483.02C495.78 480.98 495.59 478.12 495.59 472.82C495.39 468.74 495.59 462.62 496.37 459.36C497.15 456.91 499.10 455.68 500.28 454.46C500.08 452.42 500.67 450.38 501.84 449.56C502.23 448.34 502.62 447.12 503.40 447.12Z" fill="url(#mg)" stroke="#8a8a8a" stroke-opacity="0.6" stroke-width="0.8" filter="url(#b05)"/>
<ellipse cx="503.40" cy="474.04" rx="5.47" ry="6.53" fill="#f6f6f6" fill-opacity="0.45" filter="url(#b06)"/>
</g>
<g filter="url(#b06)" fill="#5a5ad8" fill-opacity="0.75">
<ellipse cx="446.50" cy="383.20" rx="4.95" ry="1.85" transform="rotate(0,446.50,383.20)"/>
<ellipse cx="443.50" cy="382.50" rx="2.25" ry="2.05" transform="rotate(0,443.50,382.50)"/>
</g>
<g filter="url(#b06)" fill="#3434bc">
<ellipse cx="446.50" cy="383.20" rx="4.50" ry="1.40" transform="rotate(0,446.50,383.20)"/>
<ellipse cx="443.50" cy="382.50" rx="1.80" ry="1.60" transform="rotate(0,443.50,382.50)"/>
</g>
<g filter="url(#b06)" fill="#5a5ad8" fill-opacity="0.75">
<ellipse cx="443.50" cy="388.50" rx="1.05" ry="1.05" transform="rotate(0,443.50,388.50)"/>
<ellipse cx="444.50" cy="391.00" rx="1.05" ry="1.05" transform="rotate(0,444.50,391.00)"/>
</g>
<g filter="url(#b06)" fill="#3434bc">
<ellipse cx="443.50" cy="388.50" rx="0.60" ry="0.60" transform="rotate(0,443.50,388.50)"/>
<ellipse cx="444.50" cy="391.00" rx="0.60" ry="0.60" transform="rotate(0,444.50,391.00)"/>
</g>
<g filter="url(#b06)" fill="#5a5ad8" fill-opacity="0.75">
<ellipse cx="463.00" cy="382.80" rx="5.45" ry="2.05" transform="rotate(0,463.00,382.80)"/>
<ellipse cx="459.50" cy="383.50" rx="2.25" ry="2.05" transform="rotate(0,459.50,383.50)"/>
<ellipse cx="466.50" cy="381.80" rx="2.45" ry="1.75" transform="rotate(0,466.50,381.80)"/>
</g>
<g filter="url(#b06)" fill="#3434bc">
<ellipse cx="463.00" cy="382.80" rx="5.00" ry="1.60" transform="rotate(0,463.00,382.80)"/>
<ellipse cx="459.50" cy="383.50" rx="1.80" ry="1.60" transform="rotate(0,459.50,383.50)"/>
<ellipse cx="466.50" cy="381.80" rx="2.00" ry="1.30" transform="rotate(0,466.50,381.80)"/>
</g>
<g filter="url(#b06)" fill="#5a5ad8" fill-opacity="0.75">
<ellipse cx="464.00" cy="388.50" rx="1.25" ry="1.25" transform="rotate(0,464.00,388.50)"/>
<ellipse cx="459.30" cy="391.70" rx="1.05" ry="1.05" transform="rotate(0,459.30,391.70)"/>
</g>
<g filter="url(#b06)" fill="#3434bc">
<ellipse cx="464.00" cy="388.50" rx="0.80" ry="0.80" transform="rotate(0,464.00,388.50)"/>
<ellipse cx="459.30" cy="391.70" rx="0.60" ry="0.60" transform="rotate(0,459.30,391.70)"/>
</g>
<g filter="url(#b04)">
<circle cx="463.50" cy="366.20" r="2.80" fill="#3434bc"/>
<circle cx="463.50" cy="366.20" r="2.26" fill="#48b8e0"/>
<circle cx="463.50" cy="366.20" r="1.72" fill="#68c858"/>
<circle cx="463.50" cy="366.20" r="1.18" fill="#eee040"/>
<circle cx="463.50" cy="366.20" r="0.65" fill="#e03020"/>
</g>
<g filter="url(#b04)">
<circle cx="484.00" cy="367.00" r="1.50" fill="#3434bc"/>
<circle cx="484.00" cy="367.00" r="1.03" fill="#48b8e0"/>
<circle cx="484.00" cy="367.00" r="0.56" fill="#68c858"/>
</g>
<g filter="url(#b06)" fill="#5a5ad8" fill-opacity="0.75">
<ellipse cx="478.30" cy="380.50" rx="1.35" ry="2.65" transform="rotate(0,478.30,380.50)"/>
<ellipse cx="481.60" cy="391.80" rx="1.55" ry="1.45" transform="rotate(0,481.60,391.80)"/>
<ellipse cx="502.20" cy="363.80" rx="1.05" ry="1.05" transform="rotate(0,502.20,363.80)"/>
</g>
<g filter="url(#b06)" fill="#3434bc">
<ellipse cx="478.30" cy="380.50" rx="0.90" ry="2.20" transform="rotate(0,478.30,380.50)"/>
<ellipse cx="481.60" cy="391.80" rx="1.10" ry="1.00" transform="rotate(0,481.60,391.80)"/>
<ellipse cx="502.20" cy="363.80" rx="0.60" ry="0.60" transform="rotate(0,502.20,363.80)"/>
</g>
<g filter="url(#b06)" fill="#5a5ad8" fill-opacity="0.75">
<ellipse cx="498.30" cy="380.50" rx="2.15" ry="3.95" transform="rotate(15,498.30,380.50)"/>
<ellipse cx="507.00" cy="383.20" rx="1.25" ry="1.55" transform="rotate(0,507.00,383.20)"/>
<ellipse cx="500.80" cy="390.50" rx="1.45" ry="1.05" transform="rotate(0,500.80,390.50)"/>
<ellipse cx="494.50" cy="390.20" rx="1.25" ry="1.05" transform="rotate(0,494.50,390.20)"/>
</g>
<g filter="url(#b06)" fill="#3434bc">
<ellipse cx="498.30" cy="380.50" rx="1.70" ry="3.50" transform="rotate(15,498.30,380.50)"/>
<ellipse cx="507.00" cy="383.20" rx="0.80" ry="1.10" transform="rotate(0,507.00,383.20)"/>
<ellipse cx="500.80" cy="390.50" rx="1.00" ry="0.60" transform="rotate(0,500.80,390.50)"/>
<ellipse cx="494.50" cy="390.20" rx="0.80" ry="0.60" transform="rotate(0,494.50,390.20)"/>
</g>
<g filter="url(#b06)" fill="#5a5ad8" fill-opacity="0.75">
<ellipse cx="443.50" cy="427.50" rx="6.95" ry="9.45" transform="rotate(0,443.50,427.50)"/>
<ellipse cx="439.00" cy="424.00" rx="2.95" ry="5.45" transform="rotate(0,439.00,424.00)"/>
<ellipse cx="449.00" cy="421.00" rx="2.45" ry="3.45" transform="rotate(0,449.00,421.00)"/>
</g>
<g filter="url(#b06)" fill="#3434bc">
<ellipse cx="443.50" cy="427.50" rx="6.50" ry="9.00" transform="rotate(0,443.50,427.50)"/>
<ellipse cx="439.00" cy="424.00" rx="2.50" ry="5.00" transform="rotate(0,439.00,424.00)"/>
<ellipse cx="449.00" cy="421.00" rx="2.00" ry="3.00" transform="rotate(0,449.00,421.00)"/>
</g>
<g filter="url(#b05)" fill="#48b8e0">
<ellipse cx="442.50" cy="426.50" rx="4.50" ry="6.50" transform="rotate(0,442.50,426.50)"/>
<ellipse cx="447.00" cy="424.00" rx="2.00" ry="3.00" transform="rotate(0,447.00,424.00)"/>
</g>
<g filter="url(#b05)" fill="#68c858">
<ellipse cx="441.50" cy="425.50" rx="3.00" ry="4.50" transform="rotate(0,441.50,425.50)"/>
<ellipse cx="445.50" cy="428.50" rx="1.50" ry="4.00" transform="rotate(0,445.50,428.50)"/>
</g>
<g filter="url(#b05)" fill="#eee040">
<ellipse cx="441.00" cy="425.00" rx="2.00" ry="3.00" transform="rotate(0,441.00,425.00)"/>
</g>
<g filter="url(#b04)" fill="#e03020">
<ellipse cx="440.60" cy="424.60" rx="1.00" ry="1.40" transform="rotate(0,440.60,424.60)"/>
</g>
<g filter="url(#b04)">
<circle cx="464.00" cy="412.30" r="2.60" fill="#3434bc"/>
<circle cx="464.00" cy="412.30" r="1.98" fill="#48b8e0"/>
<circle cx="464.00" cy="412.30" r="1.36" fill="#68c858"/>
<circle cx="464.00" cy="412.30" r="0.74" fill="#eee040"/>
</g>
<g filter="url(#b06)" fill="#5a5ad8" fill-opacity="0.75">
<ellipse cx="462.00" cy="425.00" rx="7.45" ry="4.95" transform="rotate(-10,462.00,425.00)"/>
<ellipse cx="457.50" cy="429.00" rx="3.45" ry="3.95" transform="rotate(0,457.50,429.00)"/>
<ellipse cx="468.00" cy="422.00" rx="3.45" ry="2.95" transform="rotate(0,468.00,422.00)"/>
</g>
<g filter="url(#b06)" fill="#3434bc">
<ellipse cx="462.00" cy="425.00" rx="7.00" ry="4.50" transform="rotate(-10,462.00,425.00)"/>
<ellipse cx="457.50" cy="429.00" rx="3.00" ry="3.50" transform="rotate(0,457.50,429.00)"/>
<ellipse cx="468.00" cy="422.00" rx="3.00" ry="2.50" transform="rotate(0,468.00,422.00)"/>
</g>
<ellipse cx="463.5" cy="430.5" rx="3.5" ry="2.5" fill="#e6e6e6" filter="url(#b04)"/>
<g filter="url(#b04)">
<circle cx="458.30" cy="427.30" r="2.20" fill="#48b8e0"/>
<circle cx="458.30" cy="427.30" r="1.51" fill="#68c858"/>
<circle cx="458.30" cy="427.30" r="0.83" fill="#eee040"/>
</g>
<g filter="url(#b06)" fill="#5a5ad8" fill-opacity="0.75">
<ellipse cx="463.30" cy="437.30" rx="1.65" ry="1.45" transform="rotate(0,463.30,437.30)"/>
<ellipse cx="471.00" cy="435.50" rx="1.25" ry="1.55" transform="rotate(0,471.00,435.50)"/>
</g>
<g filter="url(#b06)" fill="#3434bc">
<ellipse cx="463.30" cy="437.30" rx="1.20" ry="1.00" transform="rotate(0,463.30,437.30)"/>
<ellipse cx="471.00" cy="435.50" rx="0.80" ry="1.10" transform="rotate(0,471.00,435.50)"/>
</g>
<g filter="url(#b06)" fill="#5a5ad8" fill-opacity="0.75">
<ellipse cx="504.20" cy="438.30" rx="1.85" ry="1.75" transform="rotate(0,504.20,438.30)"/>
</g>
<g filter="url(#b06)" fill="#3434bc">
<ellipse cx="504.20" cy="438.30" rx="1.40" ry="1.30" transform="rotate(0,504.20,438.30)"/>
</g>
<g filter="url(#b06)" fill="#5a5ad8" fill-opacity="0.75">
<ellipse cx="445.00" cy="472.00" rx="7.65" ry="11.95" transform="rotate(0,445.00,472.00)"/>
<ellipse cx="440.50" cy="468.00" rx="3.45" ry="9.45" transform="rotate(0,440.50,468.00)"/>
<ellipse cx="449.00" cy="466.00" rx="3.45" ry="6.45" transform="rotate(0,449.00,466.00)"/>
</g>
<g filter="url(#b06)" fill="#3434bc">
<ellipse cx="445.00" cy="472.00" rx="7.20" ry="11.50" transform="rotate(0,445.00,472.00)"/>
<ellipse cx="440.50" cy="468.00" rx="3.00" ry="9.00" transform="rotate(0,440.50,468.00)"/>
<ellipse cx="449.00" cy="466.00" rx="3.00" ry="6.00" transform="rotate(0,449.00,466.00)"/>
</g>
<g filter="url(#b05)" fill="#48b8e0">
<ellipse cx="444.50" cy="471.50" rx="5.50" ry="9.00" transform="rotate(0,444.50,471.50)"/>
<ellipse cx="448.50" cy="467.00" rx="2.00" ry="4.00" transform="rotate(0,448.50,467.00)"/>
</g>
<g filter="url(#b05)" fill="#68c858">
<ellipse cx="442.50" cy="471.00" rx="3.50" ry="6.00" transform="rotate(0,442.50,471.00)"/>
<ellipse cx="447.50" cy="467.50" rx="1.80" ry="2.50" transform="rotate(0,447.50,467.50)"/>
<ellipse cx="444.00" cy="478.00" rx="2.50" ry="2.00" transform="rotate(0,444.00,478.00)"/>
<ellipse cx="449.50" cy="475.50" rx="1.50" ry="2.00" transform="rotate(0,449.50,475.50)"/>
</g>
<g filter="url(#b05)" fill="#eee040">
<ellipse cx="441.80" cy="471.00" rx="2.60" ry="4.20" transform="rotate(0,441.80,471.00)"/>
<ellipse cx="444.00" cy="478.00" rx="1.40" ry="1.00" transform="rotate(0,444.00,478.00)"/>
</g>
<g filter="url(#b04)" fill="#e03020">
<ellipse cx="441.50" cy="470.80" rx="1.80" ry="3.20" transform="rotate(0,441.50,470.80)"/>
</g>
<g filter="url(#b06)" fill="#5a5ad8" fill-opacity="0.75">
<ellipse cx="463.50" cy="472.00" rx="7.95" ry="11.95" transform="rotate(0,463.50,472.00)"/>
<ellipse cx="458.00" cy="468.00" rx="3.45" ry="8.45" transform="rotate(0,458.00,468.00)"/>
<ellipse cx="469.50" cy="469.00" rx="2.95" ry="8.45" transform="rotate(0,469.50,469.00)"/>
</g>
<g filter="url(#b06)" fill="#3434bc">
<ellipse cx="463.50" cy="472.00" rx="7.50" ry="11.50" transform="rotate(0,463.50,472.00)"/>
<ellipse cx="458.00" cy="468.00" rx="3.00" ry="8.00" transform="rotate(0,458.00,468.00)"/>
<ellipse cx="469.50" cy="469.00" rx="2.50" ry="8.00" transform="rotate(0,469.50,469.00)"/>
</g>
<g filter="url(#b05)" fill="#48b8e0">
<ellipse cx="463.00" cy="471.50" rx="6.00" ry="9.00" transform="rotate(0,463.00,471.50)"/>
<ellipse cx="468.50" cy="469.00" rx="2.00" ry="5.00" transform="rotate(0,468.50,469.00)"/>
</g>
<g filter="url(#b05)" fill="#68c858">
<ellipse cx="459.50" cy="471.00" rx="2.80" ry="4.50" transform="rotate(0,459.50,471.00)"/>
<ellipse cx="466.00" cy="468.00" rx="2.00" ry="2.50" transform="rotate(0,466.00,468.00)"/>
<ellipse cx="463.00" cy="478.00" rx="2.20" ry="2.00" transform="rotate(0,463.00,478.00)"/>
<ellipse cx="469.00" cy="474.00" rx="1.50" ry="2.20" transform="rotate(0,469.00,474.00)"/>
</g>
<g filter="url(#b05)" fill="#eee040">
<ellipse cx="458.90" cy="470.80" rx="2.00" ry="3.40" transform="rotate(0,458.90,470.80)"/>
<ellipse cx="469.00" cy="474.00" rx="0.80" ry="1.00" transform="rotate(0,469.00,474.00)"/>
</g>
<g filter="url(#b04)" fill="#e03020">
<ellipse cx="458.60" cy="470.60" rx="1.30" ry="2.60" transform="rotate(0,458.60,470.60)"/>
</g>
<g filter="url(#b04)">
<circle cx="462.60" cy="451.60" r="2.20" fill="#3434bc"/>
<circle cx="462.60" cy="451.60" r="1.68" fill="#48b8e0"/>
<circle cx="462.60" cy="451.60" r="1.15" fill="#eee040"/>
<circle cx="462.60" cy="451.60" r="0.63" fill="#e03020"/>
</g>
<path d="M452.5,458 L455.5,458 L456,478 L454,482 L452.5,478 Z" fill="#202020" filter="url(#b04)"/>
<text transform="translate(432.40,378.30) rotate(-90) scale(0.92,1)" font-size="8.6" text-anchor="middle" font-weight="normal" fill="#000" stroke="#000" stroke-width="0.2">Day +7</text>
<text transform="translate(432.40,420.70) rotate(-90) scale(0.92,1)" font-size="8.6" text-anchor="middle" font-weight="normal" fill="#000" stroke="#000" stroke-width="0.2">Day +14</text>
<text transform="translate(432.40,464.30) rotate(-90) scale(0.92,1)" font-size="8.6" text-anchor="middle" font-weight="normal" fill="#000" stroke="#000" stroke-width="0.2">Day +21</text>
<text transform="translate(209.70,514.20)" font-size="11.8" text-anchor="start" font-weight="bold" fill="#000" >H</text>
<text transform="translate(281.90,526.00)" font-size="7.7" text-anchor="middle" font-weight="normal" fill="#000" stroke="#000" stroke-width="0.12">WT</text>
<text transform="translate(381.00,526.00)" font-size="7.7" text-anchor="middle" font-weight="normal" fill="#000" stroke="#000" stroke-width="0.12">TCR Tg</text>
<rect x="247.30" y="531.70" width="71.50" height="71.80" fill="#fff" stroke="#d0d0d0" stroke-width="0.6"/>
<g filter="url(#b03)">
<path d="M311.6,539.7h.9v.9h-.9zM309.0,537.1h.9v.9h-.9zM315.7,541.2h.9v.9h-.9zM264.1,596.5h.9v.9h-.9zM315.5,588.6h.9v.9h-.9zM269.3,535.7h.9v.9h-.9zM258.0,569.5h.9v.9h-.9zM304.4,534.0h.9v.9h-.9zM249.8,544.2h.9v.9h-.9zM317.4,584.2h.9v.9h-.9zM257.5,594.9h.9v.9h-.9zM252.9,580.7h.9v.9h-.9zM254.0,539.1h.9v.9h-.9zM284.4,595.5h.9v.9h-.9zM281.1,595.4h.9v.9h-.9zM264.2,591.8h.9v.9h-.9zM278.7,593.5h.9v.9h-.9zM252.8,566.3h.9v.9h-.9zM312.7,554.5h.9v.9h-.9zM306.0,598.1h.9v.9h-.9zM256.7,552.8h.9v.9h-.9zM310.7,599.0h.9v.9h-.9zM254.2,554.4h.9v.9h-.9zM306.9,588.4h.9v.9h-.9zM314.2,553.2h.9v.9h-.9zM260.0,585.7h.9v.9h-.9zM303.4,599.0h.9v.9h-.9zM296.7,588.8h.9v.9h-.9zM263.5,586.7h.9v.9h-.9zM287.7,594.2h.9v.9h-.9zM287.9,596.3h.9v.9h-.9zM266.5,589.3h.9v.9h-.9zM271.7,593.1h.9v.9h-.9zM280.6,585.4h.9v.9h-.9zM268.4,587.8h.9v.9h-.9zM307.9,561.5h.9v.9h-.9zM310.9,589.2h.9v.9h-.9zM315.2,557.2h.9v.9h-.9zM296.5,593.6h.9v.9h-.9zM277.0,585.0h.9v.9h-.9zM314.3,562.6h.9v.9h-.9zM259.3,577.5h.9v.9h-.9zM284.7,590.9h.9v.9h-.9zM316.1,573.6h.9v.9h-.9zM261.2,581.8h.9v.9h-.9zM311.6,564.3h.9v.9h-.9zM266.6,536.5h.9v.9h-.9zM311.9,596.8h.9v.9h-.9zM291.3,538.2h.9v.9h-.9zM304.4,587.0h.9v.9h-.9zM308.8,570.9h.9v.9h-.9zM302.6,538.6h.9v.9h-.9zM316.1,596.3h.9v.9h-.9zM262.7,584.8h.9v.9h-.9zM260.4,548.5h.9v.9h-.9zM307.4,574.3h.9v.9h-.9zM264.1,582.4h.9v.9h-.9zM287.2,590.0h.9v.9h-.9zM312.5,594.4h.9v.9h-.9zM309.4,544.5h.9v.9h-.9zM255.8,564.3h.9v.9h-.9zM306.6,547.0h.9v.9h-.9zM305.5,540.6h.9v.9h-.9zM255.5,565.2h.9v.9h-.9zM286.5,582.8h.9v.9h-.9zM314.6,598.5h.9v.9h-.9zM312.5,569.3h.9v.9h-.9zM296.6,539.5h.9v.9h-.9zM298.8,539.1h.9v.9h-.9zM302.4,542.8h.9v.9h-.9zM301.9,545.1h.9v.9h-.9zM271.6,589.5h.9v.9h-.9zM257.8,539.5h.9v.9h-.9zM268.2,592.8h.9v.9h-.9zM304.5,541.9h.9v.9h-.9zM313.0,566.9h.9v.9h-.9zM303.5,540.0h.9v.9h-.9zM266.0,584.8h.9v.9h-.9zM272.3,588.0h.9v.9h-.9zM258.1,541.4h.9v.9h-.9zM263.4,579.3h.9v.9h-.9zM315.1,565.7h.9v.9h-.9zM287.9,535.9h.9v.9h-.9zM285.1,535.6h.9v.9h-.9zM310.4,547.2h.9v.9h-.9zM313.0,574.3h.9v.9h-.9zM258.2,562.5h.9v.9h-.9zM309.4,574.9h.9v.9h-.9zM315.5,570.3h.9v.9h-.9zM309.5,575.6h.9v.9h-.9zM269.4,593.2h.9v.9h-.9zM257.8,548.8h.9v.9h-.9zM261.1,564.5h.9v.9h-.9zM309.6,557.7h.9v.9h-.9zM308.1,579.1h.9v.9h-.9zM276.7,581.9h.9v.9h-.9zM262.6,568.3h.9v.9h-.9zM261.8,576.4h.9v.9h-.9zM304.9,549.7h.9v.9h-.9zM261.1,577.3h.9v.9h-.9zM267.8,580.8h.9v.9h-.9zM291.9,585.6h.9v.9h-.9zM303.5,551.5h.9v.9h-.9zM290.2,580.7h.9v.9h-.9zM259.8,557.0h.9v.9h-.9zM307.9,567.2h.9v.9h-.9zM308.1,567.2h.9v.9h-.9zM266.7,579.8h.9v.9h-.9zM298.1,542.7h.9v.9h-.9zM285.4,581.0h.9v.9h-.9zM292.6,540.9h.9v.9h-.9zM315.0,578.8h.9v.9h-.9zM259.6,542.9h.9v.9h-.9zM311.3,545.4h.9v.9h-.9zM291.7,550.8h.9v.9h-.9zM316.0,579.2h.9v.9h-.9zM289.8,540.8h.9v.9h-.9zM297.1,540.4h.9v.9h-.9zM305.0,547.6h.9v.9h-.9zM260.8,554.4h.9v.9h-.9zM311.0,570.9h.9v.9h-.9zM291.6,587.1h.9v.9h-.9zM313.3,574.1h.9v.9h-.9zM288.6,585.5h.9v.9h-.9zM302.3,584.4h.9v.9h-.9zM288.1,579.2h.9v.9h-.9zM305.5,571.0h.9v.9h-.9zM302.8,585.1h.9v.9h-.9zM267.4,583.0h.9v.9h-.9zM300.6,548.8h.9v.9h-.9zM308.8,555.0h.9v.9h-.9zM295.3,595.9h.9v.9h-.9zM260.5,543.9h.9v.9h-.9zM305.4,575.3h.9v.9h-.9zM295.1,595.9h.9v.9h-.9zM258.7,545.9h.9v.9h-.9zM269.9,585.9h.9v.9h-.9zM312.7,592.0h.9v.9h-.9zM312.5,592.1h.9v.9h-.9zM291.7,594.5h.9v.9h-.9zM266.9,539.1h.9v.9h-.9zM271.7,581.1h.9v.9h-.9zM301.7,548.2h.9v.9h-.9zM260.9,572.2h.9v.9h-.9zM263.6,569.1h.9v.9h-.9zM264.0,536.0h.9v.9h-.9zM306.7,583.4h.9v.9h-.9zM301.7,592.1h.9v.9h-.9zM264.3,578.0h.9v.9h-.9zM314.4,569.9h.9v.9h-.9zM314.6,580.4h.9v.9h-.9zM286.7,537.7h.9v.9h-.9zM264.3,535.7h.9v.9h-.9zM260.0,561.8h.9v.9h-.9zM303.1,576.5h.9v.9h-.9zM271.7,577.4h.9v.9h-.9zM305.4,568.3h.9v.9h-.9zM260.4,553.0h.9v.9h-.9zM261.5,539.7h.9v.9h-.9zM301.7,550.5h.9v.9h-.9zM283.9,587.8h.9v.9h-.9zM264.2,538.3h.9v.9h-.9zM289.2,537.8h.9v.9h-.9zM269.8,584.2h.9v.9h-.9zM306.3,562.0h.9v.9h-.9zM259.0,557.6h.9v.9h-.9zM259.4,558.2h.9v.9h-.9zM307.4,555.7h.9v.9h-.9zM275.1,583.3h.9v.9h-.9zM295.2,550.3h.9v.9h-.9zM314.0,558.5h.9v.9h-.9zM261.5,561.6h.9v.9h-.9zM299.6,551.8h.9v.9h-.9zM271.1,558.3h.9v.9h-.9zM299.6,552.5h.9v.9h-.9zM257.0,546.4h.9v.9h-.9zM257.0,548.3h.9v.9h-.9zM262.8,562.6h.9v.9h-.9zM308.7,553.2h.9v.9h-.9zM296.0,575.4h.9v.9h-.9zM273.3,583.4h.9v.9h-.9zM293.7,589.0h.9v.9h-.9zM273.5,580.6h.9v.9h-.9zM291.1,591.8h.9v.9h-.9zM300.1,543.1h.9v.9h-.9zM292.5,593.8h.9v.9h-.9zM300.4,543.9h.9v.9h-.9zM301.6,590.7h.9v.9h-.9zM301.0,590.9h.9v.9h-.9zM288.1,587.3h.9v.9h-.9zM287.5,587.4h.9v.9h-.9zM313.0,571.5h.9v.9h-.9zM261.2,541.0h.9v.9h-.9zM312.3,571.1h.9v.9h-.9zM268.0,584.9h.9v.9h-.9zM305.0,584.4h.9v.9h-.9zM283.1,584.2h.9v.9h-.9zM298.4,579.6h.9v.9h-.9zM269.8,578.0h.9v.9h-.9zM278.1,576.0h.9v.9h-.9zM282.0,583.2h.9v.9h-.9zM292.5,541.9h.9v.9h-.9zM300.3,546.5h.9v.9h-.9zM263.4,560.7h.9v.9h-.9zM294.3,590.3h.9v.9h-.9zM310.5,559.0h.9v.9h-.9zM258.1,547.3h.9v.9h-.9zM263.2,556.9h.9v.9h-.9zM306.0,585.1h.9v.9h-.9zM292.6,593.5h.9v.9h-.9zM297.6,581.4h.9v.9h-.9zM303.1,566.4h.9v.9h-.9zM274.2,537.5h.9v.9h-.9zM275.1,537.8h.9v.9h-.9zM306.8,552.5h.9v.9h-.9zM303.8,574.2h.9v.9h-.9zM306.0,583.1h.9v.9h-.9zM307.2,553.0h.9v.9h-.9zM292.9,548.3h.9v.9h-.9zM284.0,538.9h.9v.9h-.9zM267.9,557.6h.9v.9h-.9zM300.5,545.2h.9v.9h-.9zM296.8,551.8h.9v.9h-.9zM263.4,539.8h.9v.9h-.9zM292.1,589.6h.9v.9h-.9zM291.4,589.9h.9v.9h-.9zM262.8,571.4h.9v.9h-.9zM272.4,555.4h.9v.9h-.9zM283.0,580.9h.9v.9h-.9zM298.3,545.6h.9v.9h-.9zM296.2,581.2h.9v.9h-.9zM306.7,558.7h.9v.9h-.9zM273.0,582.7h.9v.9h-.9zM305.3,564.0h.9v.9h-.9zM285.2,585.8h.9v.9h-.9zM268.4,539.0h.9v.9h-.9z" fill="rgb(110, 110, 201)" fill-opacity="0.4"/>
<path d="M295.1,578.2h.9v.9h-.9zM304.4,569.9h.9v.9h-.9zM287.9,540.1h.9v.9h-.9zM287.5,539.0h.9v.9h-.9zM302.6,553.3h.9v.9h-.9zM264.0,575.1h.9v.9h-.9zM293.7,582.8h.9v.9h-.9zM293.6,583.0h.9v.9h-.9zM265.8,577.8h.9v.9h-.9zM293.6,582.9h.9v.9h-.9zM297.2,580.1h.9v.9h-.9zM278.9,537.4h.9v.9h-.9zM302.6,580.0h.9v.9h-.9zM269.0,576.2h.9v.9h-.9zM313.1,558.3h.9v.9h-.9zM301.9,580.4h.9v.9h-.9zM262.9,541.4h.9v.9h-.9zM269.2,556.3h.9v.9h-.9zM302.9,578.5h.9v.9h-.9zM281.8,576.8h.9v.9h-.9zM311.9,557.8h.9v.9h-.9zM305.7,577.9h.9v.9h-.9zM306.4,577.0h.9v.9h-.9zM267.8,576.1h.9v.9h-.9zM270.0,576.9h.9v.9h-.9zM262.2,543.5h.9v.9h-.9zM280.3,582.0h.9v.9h-.9zM269.7,577.0h.9v.9h-.9zM280.3,582.7h.9v.9h-.9zM306.0,580.4h.9v.9h-.9zM262.6,573.0h.9v.9h-.9zM306.4,557.6h.9v.9h-.9zM284.4,587.3h.9v.9h-.9zM304.1,579.5h.9v.9h-.9zM306.0,557.8h.9v.9h-.9zM292.6,591.1h.9v.9h-.9zM278.6,581.2h.9v.9h-.9zM261.0,552.3h.9v.9h-.9zM261.3,552.3h.9v.9h-.9zM313.8,559.1h.9v.9h-.9zM293.5,543.0h.9v.9h-.9zM290.0,554.6h.9v.9h-.9zM301.1,577.8h.9v.9h-.9zM264.5,576.5h.9v.9h-.9zM311.8,559.2h.9v.9h-.9zM292.0,548.1h.9v.9h-.9zM299.7,555.1h.9v.9h-.9zM290.3,578.6h.9v.9h-.9zM304.8,556.4h.9v.9h-.9zM286.3,578.7h.9v.9h-.9zM294.9,579.7h.9v.9h-.9zM277.4,576.2h.9v.9h-.9zM297.1,553.3h.9v.9h-.9zM266.9,557.8h.9v.9h-.9zM263.1,547.5h.9v.9h-.9zM303.7,553.6h.9v.9h-.9zM277.5,537.7h.9v.9h-.9zM290.8,543.7h.9v.9h-.9zM271.6,554.4h.9v.9h-.9zM284.6,586.4h.9v.9h-.9zM266.3,575.9h.9v.9h-.9zM284.3,586.1h.9v.9h-.9zM293.8,552.2h.9v.9h-.9zM277.9,537.7h.9v.9h-.9zM294.1,552.0h.9v.9h-.9zM294.5,581.6h.9v.9h-.9zM304.9,562.2h.9v.9h-.9zM283.5,575.0h.9v.9h-.9zM293.7,581.6h.9v.9h-.9zM294.6,546.9h.9v.9h-.9zM265.0,574.5h.9v.9h-.9zM287.5,577.0h.9v.9h-.9zM264.6,561.0h.9v.9h-.9zM268.1,573.5h.9v.9h-.9zM262.8,549.8h.9v.9h-.9zM269.2,555.4h.9v.9h-.9zM281.6,580.4h.9v.9h-.9zM290.9,553.0h.9v.9h-.9zM291.0,552.8h.9v.9h-.9zM301.4,576.0h.9v.9h-.9zM264.3,566.8h.9v.9h-.9zM266.4,560.5h.9v.9h-.9zM287.5,553.4h.9v.9h-.9zM300.1,556.9h.9v.9h-.9zM291.5,546.5h.9v.9h-.9zM275.3,578.9h.9v.9h-.9zM286.7,540.8h.9v.9h-.9zM267.9,562.6h.9v.9h-.9zM270.5,574.5h.9v.9h-.9zM301.1,554.9h.9v.9h-.9zM264.6,556.1h.9v.9h-.9zM290.3,548.1h.9v.9h-.9zM282.5,537.8h.9v.9h-.9zM266.2,561.6h.9v.9h-.9zM304.2,556.6h.9v.9h-.9zM288.1,541.9h.9v.9h-.9zM302.2,556.8h.9v.9h-.9zM266.4,558.9h.9v.9h-.9zM297.1,573.1h.9v.9h-.9zM291.4,579.2h.9v.9h-.9zM263.7,552.4h.9v.9h-.9zM302.7,553.6h.9v.9h-.9zM280.8,578.2h.9v.9h-.9zM266.9,564.6h.9v.9h-.9zM263.9,553.2h.9v.9h-.9zM263.4,572.1h.9v.9h-.9zM301.4,559.5h.9v.9h-.9zM265.3,541.2h.9v.9h-.9zM269.1,553.1h.9v.9h-.9zM265.0,574.0h.9v.9h-.9zM265.5,559.4h.9v.9h-.9zM270.1,553.8h.9v.9h-.9zM291.0,545.1h.9v.9h-.9zM291.5,544.1h.9v.9h-.9zM303.9,554.9h.9v.9h-.9zM270.3,540.1h.9v.9h-.9zM282.9,576.9h.9v.9h-.9zM264.9,562.5h.9v.9h-.9zM287.2,577.3h.9v.9h-.9zM281.4,580.0h.9v.9h-.9zM274.0,575.5h.9v.9h-.9zM298.7,575.5h.9v.9h-.9zM298.7,577.8h.9v.9h-.9zM298.3,577.1h.9v.9h-.9zM298.6,577.8h.9v.9h-.9zM272.7,559.2h.9v.9h-.9zM289.2,543.1h.9v.9h-.9zM288.4,553.7h.9v.9h-.9zM269.0,561.8h.9v.9h-.9zM268.1,562.1h.9v.9h-.9zM269.1,561.0h.9v.9h-.9zM306.4,578.2h.9v.9h-.9zM267.6,554.3h.9v.9h-.9zM265.2,553.3h.9v.9h-.9zM275.3,577.0h.9v.9h-.9zM265.0,553.3h.9v.9h-.9zM275.9,577.3h.9v.9h-.9zM304.1,563.4h.9v.9h-.9zM305.9,579.8h.9v.9h-.9zM306.1,579.8h.9v.9h-.9zM306.7,579.5h.9v.9h-.9zM286.1,576.5h.9v.9h-.9zM288.4,575.7h.9v.9h-.9zM262.5,550.5h.9v.9h-.9zM294.8,573.7h.9v.9h-.9zM284.5,574.8h.9v.9h-.9zM298.4,556.6h.9v.9h-.9zM266.4,556.2h.9v.9h-.9zM283.6,578.4h.9v.9h-.9zM284.5,579.0h.9v.9h-.9zM284.1,578.5h.9v.9h-.9zM268.0,554.7h.9v.9h-.9zM270.1,561.2h.9v.9h-.9zM303.3,571.6h.9v.9h-.9zM289.5,549.8h.9v.9h-.9zM303.8,571.7h.9v.9h-.9zM280.8,579.4h.9v.9h-.9zM264.8,564.0h.9v.9h-.9zM287.9,555.5h.9v.9h-.9zM265.1,563.6h.9v.9h-.9zM270.5,553.5h.9v.9h-.9zM265.4,557.6h.9v.9h-.9zM302.7,555.9h.9v.9h-.9zM264.3,558.4h.9v.9h-.9zM294.0,577.2h.9v.9h-.9zM285.5,576.7h.9v.9h-.9zM269.9,565.4h.9v.9h-.9zM272.4,575.0h.9v.9h-.9zM300.0,559.0h.9v.9h-.9zM264.4,571.9h.9v.9h-.9zM264.4,572.9h.9v.9h-.9zM290.4,545.5h.9v.9h-.9zM300.8,575.4h.9v.9h-.9zM292.7,579.5h.9v.9h-.9zM263.7,549.1h.9v.9h-.9zM299.5,576.2h.9v.9h-.9zM293.2,546.1h.9v.9h-.9zM296.2,545.9h.9v.9h-.9zM296.2,546.1h.9v.9h-.9zM266.4,567.1h.9v.9h-.9zM296.5,546.2h.9v.9h-.9zM266.6,567.9h.9v.9h-.9zM296.7,546.0h.9v.9h-.9zM297.3,572.5h.9v.9h-.9zM282.2,538.3h.9v.9h-.9zM283.9,577.0h.9v.9h-.9zM279.1,538.7h.9v.9h-.9zM288.8,575.6h.9v.9h-.9zM279.8,578.5h.9v.9h-.9zM274.6,555.3h.9v.9h-.9zM270.6,540.1h.9v.9h-.9zM270.6,540.1h.9v.9h-.9zM267.5,551.8h.9v.9h-.9zM267.6,551.6h.9v.9h-.9zM267.7,555.8h.9v.9h-.9zM294.1,544.7h.9v.9h-.9zM293.6,544.4h.9v.9h-.9zM267.4,555.5h.9v.9h-.9zM302.5,564.6h.9v.9h-.9zM267.6,555.6h.9v.9h-.9zM293.7,553.1h.9v.9h-.9zM285.8,555.0h.9v.9h-.9zM285.5,555.1h.9v.9h-.9zM279.6,579.8h.9v.9h-.9zM297.4,554.8h.9v.9h-.9zM264.2,546.2h.9v.9h-.9zM278.3,579.3h.9v.9h-.9zM266.7,564.1h.9v.9h-.9zM301.9,559.2h.9v.9h-.9zM302.2,558.7h.9v.9h-.9zM269.8,573.2h.9v.9h-.9zM270.0,573.7h.9v.9h-.9zM274.1,553.7h.9v.9h-.9zM274.3,554.7h.9v.9h-.9zM303.9,558.6h.9v.9h-.9zM293.9,545.9h.9v.9h-.9zM293.4,545.8h.9v.9h-.9zM265.1,551.9h.9v.9h-.9z" fill="rgb(96, 96, 197)" fill-opacity="0.4"/>
<path d="M285.7,556.9h.9v.9h-.9zM266.3,566.9h.9v.9h-.9zM296.6,572.6h.9v.9h-.9zM296.6,572.3h.9v.9h-.9zM272.3,573.7h.9v.9h-.9zM264.2,550.9h.9v.9h-.9zM263.1,551.0h.9v.9h-.9zM275.3,537.9h.9v.9h-.9zM291.0,578.6h.9v.9h-.9zM273.3,571.3h.9v.9h-.9zM277.8,538.4h.9v.9h-.9zM297.9,556.2h.9v.9h-.9zM286.4,554.4h.9v.9h-.9zM286.7,554.2h.9v.9h-.9zM265.5,565.7h.9v.9h-.9zM288.9,548.5h.9v.9h-.9zM276.7,579.2h.9v.9h-.9zM265.8,565.3h.9v.9h-.9zM276.8,578.5h.9v.9h-.9zM299.2,558.3h.9v.9h-.9zM265.0,549.8h.9v.9h-.9zM288.2,557.2h.9v.9h-.9zM302.8,567.0h.9v.9h-.9zM267.1,567.8h.9v.9h-.9zM271.3,551.8h.9v.9h-.9zM270.6,552.1h.9v.9h-.9zM283.7,573.1h.9v.9h-.9zM287.0,575.0h.9v.9h-.9zM265.9,570.3h.9v.9h-.9zM283.9,573.1h.9v.9h-.9zM278.6,578.1h.9v.9h-.9zM277.9,578.0h.9v.9h-.9zM290.0,576.6h.9v.9h-.9zM290.5,576.1h.9v.9h-.9zM273.2,552.7h.9v.9h-.9zM271.4,564.5h.9v.9h-.9zM270.8,563.6h.9v.9h-.9zM273.0,573.6h.9v.9h-.9zM285.5,553.2h.9v.9h-.9zM285.9,553.5h.9v.9h-.9zM282.8,539.2h.9v.9h-.9zM287.3,550.5h.9v.9h-.9zM273.0,574.7h.9v.9h-.9zM271.3,561.4h.9v.9h-.9zM301.9,563.8h.9v.9h-.9zM274.1,557.2h.9v.9h-.9zM274.0,556.6h.9v.9h-.9zM283.9,541.1h.9v.9h-.9zM289.1,545.0h.9v.9h-.9zM292.5,578.3h.9v.9h-.9zM292.2,577.9h.9v.9h-.9zM270.5,562.7h.9v.9h-.9zM303.4,561.0h.9v.9h-.9zM274.1,570.7h.9v.9h-.9zM302.5,573.0h.9v.9h-.9zM302.8,569.6h.9v.9h-.9zM296.8,553.9h.9v.9h-.9zM296.8,553.9h.9v.9h-.9zM296.1,553.9h.9v.9h-.9zM296.8,554.5h.9v.9h-.9zM292.8,575.7h.9v.9h-.9zM293.2,575.8h.9v.9h-.9zM303.3,560.5h.9v.9h-.9zM283.1,556.4h.9v.9h-.9zM282.9,557.1h.9v.9h-.9zM304.1,559.9h.9v.9h-.9zM303.5,560.5h.9v.9h-.9zM268.5,541.8h.9v.9h-.9zM266.1,570.7h.9v.9h-.9zM266.3,571.0h.9v.9h-.9zM269.9,566.6h.9v.9h-.9zM274.3,574.4h.9v.9h-.9zM274.7,574.9h.9v.9h-.9zM269.6,565.8h.9v.9h-.9zM274.4,575.3h.9v.9h-.9zM277.1,554.2h.9v.9h-.9zM289.5,556.7h.9v.9h-.9zM274.5,573.5h.9v.9h-.9zM292.9,577.3h.9v.9h-.9zM292.9,576.8h.9v.9h-.9zM296.4,555.7h.9v.9h-.9zM269.7,573.0h.9v.9h-.9zM285.5,558.0h.9v.9h-.9zM285.8,558.4h.9v.9h-.9zM291.0,575.7h.9v.9h-.9zM271.8,570.6h.9v.9h-.9zM267.0,568.4h.9v.9h-.9zM272.4,571.2h.9v.9h-.9zM286.9,552.3h.9v.9h-.9zM275.4,573.1h.9v.9h-.9zM275.2,574.0h.9v.9h-.9zM285.1,573.4h.9v.9h-.9zM272.1,560.2h.9v.9h-.9zM272.6,560.3h.9v.9h-.9zM283.2,559.4h.9v.9h-.9zM282.9,559.5h.9v.9h-.9zM274.2,557.5h.9v.9h-.9zM274.1,558.0h.9v.9h-.9zM275.1,557.4h.9v.9h-.9zM302.9,561.6h.9v.9h-.9zM302.8,561.4h.9v.9h-.9zM302.4,563.2h.9v.9h-.9zM303.0,562.7h.9v.9h-.9zM301.9,571.1h.9v.9h-.9zM274.2,566.8h.9v.9h-.9zM271.0,572.5h.9v.9h-.9zM284.7,571.9h.9v.9h-.9zM266.4,550.2h.9v.9h-.9zM271.4,572.8h.9v.9h-.9zM289.0,545.4h.9v.9h-.9zM283.3,553.8h.9v.9h-.9zM283.3,554.3h.9v.9h-.9zM286.1,551.7h.9v.9h-.9zM286.0,552.1h.9v.9h-.9zM271.5,564.7h.9v.9h-.9zM276.4,565.4h.9v.9h-.9zM287.6,549.0h.9v.9h-.9zM299.0,571.6h.9v.9h-.9zM288.3,549.1h.9v.9h-.9zM286.1,558.3h.9v.9h-.9zM284.8,550.7h.9v.9h-.9zM273.1,564.9h.9v.9h-.9zM272.8,565.3h.9v.9h-.9zM271.4,550.7h.9v.9h-.9zM292.5,574.4h.9v.9h-.9zM282.3,556.6h.9v.9h-.9zM264.2,543.8h.9v.9h-.9zM267.6,541.4h.9v.9h-.9zM299.2,559.4h.9v.9h-.9zM270.4,566.3h.9v.9h-.9zM271.4,566.6h.9v.9h-.9zM286.5,573.8h.9v.9h-.9zM287.0,573.8h.9v.9h-.9zM282.5,555.2h.9v.9h-.9zM283.1,555.0h.9v.9h-.9zM273.6,566.8h.9v.9h-.9zM269.5,568.2h.9v.9h-.9zM269.8,567.9h.9v.9h-.9zM267.3,550.0h.9v.9h-.9zM267.6,550.9h.9v.9h-.9zM299.4,570.0h.9v.9h-.9zM271.5,568.9h.9v.9h-.9zM272.6,568.8h.9v.9h-.9zM280.8,573.6h.9v.9h-.9zM280.7,573.6h.9v.9h-.9zM281.1,574.3h.9v.9h-.9zM278.2,554.8h.9v.9h-.9zM288.2,573.6h.9v.9h-.9zM287.8,573.2h.9v.9h-.9zM271.7,566.9h.9v.9h-.9zM275.1,560.8h.9v.9h-.9zM268.5,571.0h.9v.9h-.9zM268.3,571.2h.9v.9h-.9zM267.2,570.8h.9v.9h-.9zM273.9,560.4h.9v.9h-.9zM267.6,571.6h.9v.9h-.9zM273.1,560.6h.9v.9h-.9zM267.0,571.8h.9v.9h-.9zM282.3,539.7h.9v.9h-.9zM281.3,539.8h.9v.9h-.9zM288.8,572.2h.9v.9h-.9zM293.5,554.0h.9v.9h-.9z" fill="rgb(82, 84, 193)" fill-opacity="0.6"/>
<path d="M271.0,571.7h.9v.9h-.9zM271.1,570.1h.9v.9h-.9zM271.2,570.3h.9v.9h-.9zM271.3,571.5h.9v.9h-.9zM290.4,575.1h.9v.9h-.9zM266.6,549.2h.9v.9h-.9zM276.5,565.1h.9v.9h-.9zM277.5,565.3h.9v.9h-.9zM277.2,565.2h.9v.9h-.9zM291.1,555.1h.9v.9h-.9zM293.0,554.5h.9v.9h-.9zM290.6,556.1h.9v.9h-.9zM268.0,568.6h.9v.9h-.9zM268.6,568.2h.9v.9h-.9zM289.2,573.1h.9v.9h-.9zM288.5,573.6h.9v.9h-.9zM288.7,574.1h.9v.9h-.9zM276.0,553.2h.9v.9h-.9zM276.2,552.7h.9v.9h-.9zM266.9,570.4h.9v.9h-.9zM271.8,567.3h.9v.9h-.9zM272.1,568.1h.9v.9h-.9zM280.1,556.8h.9v.9h-.9zM280.2,556.8h.9v.9h-.9zM274.5,569.8h.9v.9h-.9zM279.8,554.1h.9v.9h-.9zM280.9,539.8h.9v.9h-.9zM280.9,539.5h.9v.9h-.9zM285.4,550.0h.9v.9h-.9zM280.1,554.5h.9v.9h-.9zM276.2,539.8h.9v.9h-.9zM275.8,539.4h.9v.9h-.9zM276.9,553.4h.9v.9h-.9zM270.1,569.3h.9v.9h-.9zM270.1,568.3h.9v.9h-.9zM300.4,573.9h.9v.9h-.9zM300.5,573.5h.9v.9h-.9zM300.4,573.7h.9v.9h-.9zM299.9,573.5h.9v.9h-.9zM282.1,554.1h.9v.9h-.9zM269.4,570.6h.9v.9h-.9zM286.5,550.1h.9v.9h-.9zM286.2,550.2h.9v.9h-.9zM285.0,541.7h.9v.9h-.9zM286.1,542.2h.9v.9h-.9zM273.7,563.7h.9v.9h-.9zM275.0,564.0h.9v.9h-.9zM274.1,564.1h.9v.9h-.9zM277.6,557.1h.9v.9h-.9zM277.0,556.3h.9v.9h-.9zM283.5,552.4h.9v.9h-.9zM282.6,552.2h.9v.9h-.9zM280.5,555.3h.9v.9h-.9zM273.8,552.1h.9v.9h-.9zM265.0,541.6h.9v.9h-.9zM271.9,562.5h.9v.9h-.9zM265.5,542.4h.9v.9h-.9zM273.5,551.2h.9v.9h-.9zM272.4,562.0h.9v.9h-.9zM271.6,562.7h.9v.9h-.9zM282.8,550.2h.9v.9h-.9zM290.6,570.9h.9v.9h-.9zM296.0,557.8h.9v.9h-.9zM275.4,572.4h.9v.9h-.9zM281.8,555.8h.9v.9h-.9zM282.2,555.8h.9v.9h-.9zM296.0,558.4h.9v.9h-.9zM276.0,567.6h.9v.9h-.9zM276.0,567.4h.9v.9h-.9zM268.6,569.8h.9v.9h-.9zM273.2,568.3h.9v.9h-.9zM276.8,567.2h.9v.9h-.9zM273.1,567.5h.9v.9h-.9zM301.4,564.7h.9v.9h-.9zM276.5,567.7h.9v.9h-.9zM275.9,557.9h.9v.9h-.9zM286.4,572.9h.9v.9h-.9zM286.6,572.4h.9v.9h-.9zM275.7,557.9h.9v.9h-.9zM279.8,565.9h.9v.9h-.9zM288.2,545.0h.9v.9h-.9zM278.3,555.7h.9v.9h-.9zM277.6,554.8h.9v.9h-.9zM278.0,555.2h.9v.9h-.9zM275.0,567.3h.9v.9h-.9zM301.3,562.2h.9v.9h-.9zM301.2,568.4h.9v.9h-.9zM301.8,569.3h.9v.9h-.9zM301.4,568.3h.9v.9h-.9zM287.5,546.5h.9v.9h-.9zM287.4,546.5h.9v.9h-.9zM300.8,567.0h.9v.9h-.9zM301.6,567.2h.9v.9h-.9zM288.3,546.6h.9v.9h-.9zM301.5,567.8h.9v.9h-.9zM283.3,560.3h.9v.9h-.9zM283.8,571.0h.9v.9h-.9zM283.5,560.2h.9v.9h-.9zM279.9,555.2h.9v.9h-.9zM282.8,560.2h.9v.9h-.9zM279.9,555.4h.9v.9h-.9zM290.2,570.1h.9v.9h-.9zM285.7,559.0h.9v.9h-.9zM286.0,558.8h.9v.9h-.9zM276.9,539.1h.9v.9h-.9zM277.4,540.0h.9v.9h-.9zM277.5,539.4h.9v.9h-.9zM281.7,560.6h.9v.9h-.9zM284.0,541.6h.9v.9h-.9zM270.9,540.3h.9v.9h-.9zM284.1,542.1h.9v.9h-.9zM295.0,571.8h.9v.9h-.9zM295.4,571.7h.9v.9h-.9zM270.9,540.6h.9v.9h-.9zM294.8,570.9h.9v.9h-.9zM284.2,541.7h.9v.9h-.9zM281.6,561.1h.9v.9h-.9zM286.3,548.8h.9v.9h-.9zM282.4,562.1h.9v.9h-.9zM295.6,556.3h.9v.9h-.9zM295.2,556.4h.9v.9h-.9zM286.9,548.9h.9v.9h-.9zM282.2,561.2h.9v.9h-.9zM286.6,543.3h.9v.9h-.9zM287.1,542.9h.9v.9h-.9zM282.6,569.5h.9v.9h-.9zM282.9,570.0h.9v.9h-.9zM276.1,559.8h.9v.9h-.9zM284.4,561.6h.9v.9h-.9zM284.6,561.0h.9v.9h-.9zM284.5,561.8h.9v.9h-.9zM300.5,561.9h.9v.9h-.9zM285.6,548.8h.9v.9h-.9zM285.8,548.9h.9v.9h-.9zM281.7,552.6h.9v.9h-.9zM287.7,571.8h.9v.9h-.9zM283.0,542.2h.9v.9h-.9zM288.8,558.2h.9v.9h-.9zM289.3,557.7h.9v.9h-.9zM289.5,558.2h.9v.9h-.9zM283.6,549.1h.9v.9h-.9zM275.7,571.4h.9v.9h-.9zM300.2,569.6h.9v.9h-.9zM300.2,569.5h.9v.9h-.9zM278.8,552.6h.9v.9h-.9zM283.2,567.3h.9v.9h-.9zM301.3,572.2h.9v.9h-.9zM275.7,570.5h.9v.9h-.9zM301.6,572.8h.9v.9h-.9zM273.7,540.2h.9v.9h-.9zM291.3,570.4h.9v.9h-.9zM281.4,569.7h.9v.9h-.9zM282.0,569.8h.9v.9h-.9zM272.7,550.3h.9v.9h-.9zM272.6,550.0h.9v.9h-.9zM281.0,559.6h.9v.9h-.9zM271.8,550.5h.9v.9h-.9zM281.0,558.7h.9v.9h-.9zM274.3,561.1h.9v.9h-.9zM284.8,560.0h.9v.9h-.9zM276.9,557.7h.9v.9h-.9zM300.8,571.6h.9v.9h-.9zM277.9,556.5h.9v.9h-.9zM275.8,568.4h.9v.9h-.9zM300.7,571.4h.9v.9h-.9zM277.6,557.1h.9v.9h-.9zM274.9,568.9h.9v.9h-.9zM274.8,568.7h.9v.9h-.9zM274.6,568.9h.9v.9h-.9zM274.4,568.6h.9v.9h-.9zM281.8,540.7h.9v.9h-.9zM281.8,540.7h.9v.9h-.9zM278.3,567.5h.9v.9h-.9zM265.0,545.4h.9v.9h-.9zM273.8,561.6h.9v.9h-.9zM264.7,545.5h.9v.9h-.9zM264.9,545.4h.9v.9h-.9zM273.1,561.5h.9v.9h-.9zM273.0,562.8h.9v.9h-.9zM281.9,573.0h.9v.9h-.9zM282.1,572.1h.9v.9h-.9zM299.7,569.0h.9v.9h-.9zM282.4,572.4h.9v.9h-.9zM273.8,562.6h.9v.9h-.9zM300.4,568.7h.9v.9h-.9zM290.4,572.4h.9v.9h-.9zM279.6,558.3h.9v.9h-.9zM279.8,557.8h.9v.9h-.9zM274.8,563.0h.9v.9h-.9zM274.6,562.4h.9v.9h-.9zM297.7,558.5h.9v.9h-.9zM298.0,558.5h.9v.9h-.9zM274.5,551.6h.9v.9h-.9zM288.2,546.0h.9v.9h-.9zM282.0,567.4h.9v.9h-.9zM281.5,567.4h.9v.9h-.9zM300.5,571.5h.9v.9h-.9zM281.4,567.4h.9v.9h-.9zM288.0,545.2h.9v.9h-.9zM287.7,545.6h.9v.9h-.9zM299.7,571.3h.9v.9h-.9zM274.5,540.4h.9v.9h-.9zM274.5,541.2h.9v.9h-.9zM274.6,541.2h.9v.9h-.9zM266.7,549.5h.9v.9h-.9zM267.7,549.6h.9v.9h-.9zM299.0,560.9h.9v.9h-.9zM267.9,549.2h.9v.9h-.9zM266.9,549.3h.9v.9h-.9zM276.6,559.2h.9v.9h-.9zM277.4,558.9h.9v.9h-.9zM276.6,558.7h.9v.9h-.9zM276.9,559.1h.9v.9h-.9zM285.2,571.2h.9v.9h-.9zM299.6,572.8h.9v.9h-.9zM285.9,571.8h.9v.9h-.9zM300.3,573.0h.9v.9h-.9zM300.1,572.3h.9v.9h-.9zM277.0,568.5h.9v.9h-.9zM285.5,570.8h.9v.9h-.9zM282.8,543.1h.9v.9h-.9zM282.7,542.8h.9v.9h-.9zM282.6,543.7h.9v.9h-.9zM277.9,557.5h.9v.9h-.9zM280.0,564.1h.9v.9h-.9zM286.5,558.7h.9v.9h-.9zM287.1,571.3h.9v.9h-.9zM266.0,547.2h.9v.9h-.9zM265.6,546.7h.9v.9h-.9zM293.8,572.6h.9v.9h-.9zM294.5,572.2h.9v.9h-.9zM297.2,568.6h.9v.9h-.9zM297.1,568.7h.9v.9h-.9zM297.5,568.4h.9v.9h-.9z" fill="rgb(70, 80, 187)" fill-opacity="0.6"/>
<path d="M278.6,563.4h.9v.9h-.9zM278.7,564.4h.9v.9h-.9zM291.5,569.2h.9v.9h-.9zM278.8,564.0h.9v.9h-.9zM291.6,569.2h.9v.9h-.9zM268.3,542.7h.9v.9h-.9zM285.2,559.8h.9v.9h-.9zM285.6,560.0h.9v.9h-.9zM290.6,566.1h.9v.9h-.9zM285.3,560.8h.9v.9h-.9zM284.5,570.5h.9v.9h-.9zM284.9,569.4h.9v.9h-.9zM275.6,551.8h.9v.9h-.9zM276.0,551.9h.9v.9h-.9zM275.2,551.9h.9v.9h-.9zM281.6,571.7h.9v.9h-.9zM281.9,571.1h.9v.9h-.9zM282.0,571.7h.9v.9h-.9zM281.5,571.1h.9v.9h-.9zM280.2,561.8h.9v.9h-.9zM281.1,562.0h.9v.9h-.9zM291.5,571.6h.9v.9h-.9zM292.9,573.3h.9v.9h-.9zM281.7,549.0h.9v.9h-.9zM282.2,549.2h.9v.9h-.9zM279.5,567.4h.9v.9h-.9zM289.5,569.9h.9v.9h-.9zM289.5,570.5h.9v.9h-.9zM279.3,567.1h.9v.9h-.9zM269.6,549.1h.9v.9h-.9zM277.0,564.2h.9v.9h-.9zM276.8,563.4h.9v.9h-.9zM281.1,568.3h.9v.9h-.9zM281.0,569.0h.9v.9h-.9zM280.6,567.3h.9v.9h-.9zM288.6,566.4h.9v.9h-.9zM294.1,555.6h.9v.9h-.9zM293.5,555.1h.9v.9h-.9zM294.0,555.3h.9v.9h-.9zM275.3,561.5h.9v.9h-.9zM281.7,551.6h.9v.9h-.9zM285.3,542.9h.9v.9h-.9zM282.3,551.7h.9v.9h-.9zM281.3,551.9h.9v.9h-.9zM285.6,543.9h.9v.9h-.9zM281.4,551.6h.9v.9h-.9zM281.9,551.3h.9v.9h-.9zM296.8,559.5h.9v.9h-.9zM292.7,554.9h.9v.9h-.9zM292.5,555.1h.9v.9h-.9zM276.1,562.2h.9v.9h-.9zM296.3,559.4h.9v.9h-.9zM292.9,555.4h.9v.9h-.9zM279.3,562.8h.9v.9h-.9zM292.5,555.1h.9v.9h-.9zM277.4,572.8h.9v.9h-.9zM276.4,573.0h.9v.9h-.9zM284.1,568.8h.9v.9h-.9zM290.8,557.9h.9v.9h-.9zM290.7,558.0h.9v.9h-.9zM286.5,546.9h.9v.9h-.9zM287.4,559.6h.9v.9h-.9zM288.2,558.5h.9v.9h-.9zM289.8,567.8h.9v.9h-.9zM282.6,544.4h.9v.9h-.9zM280.2,572.4h.9v.9h-.9zM280.7,571.9h.9v.9h-.9zM276.6,551.2h.9v.9h-.9zM285.3,562.3h.9v.9h-.9zM286.1,544.5h.9v.9h-.9zM277.0,560.7h.9v.9h-.9zM286.7,544.5h.9v.9h-.9zM281.7,541.6h.9v.9h-.9zM283.7,563.9h.9v.9h-.9zM284.4,563.9h.9v.9h-.9zM281.4,542.3h.9v.9h-.9zM284.2,563.6h.9v.9h-.9zM284.3,564.1h.9v.9h-.9zM284.2,567.9h.9v.9h-.9zM280.4,548.9h.9v.9h-.9zM282.9,565.8h.9v.9h-.9zM273.2,550.7h.9v.9h-.9zM281.2,566.9h.9v.9h-.9zM296.6,568.7h.9v.9h-.9zM284.5,565.9h.9v.9h-.9zM284.1,565.8h.9v.9h-.9zM292.3,570.3h.9v.9h-.9zM286.1,547.5h.9v.9h-.9zM286.0,547.5h.9v.9h-.9zM292.4,569.5h.9v.9h-.9zM291.8,567.7h.9v.9h-.9zM291.9,567.8h.9v.9h-.9zM291.5,568.1h.9v.9h-.9zM279.2,558.5h.9v.9h-.9zM279.8,559.5h.9v.9h-.9zM279.6,559.2h.9v.9h-.9zM279.0,558.5h.9v.9h-.9zM287.7,565.9h.9v.9h-.9zM281.0,540.7h.9v.9h-.9zM295.6,561.8h.9v.9h-.9zM300.5,562.2h.9v.9h-.9zM299.9,562.6h.9v.9h-.9zM295.5,561.5h.9v.9h-.9zM299.8,562.9h.9v.9h-.9zM300.3,563.3h.9v.9h-.9zM267.3,543.5h.9v.9h-.9zM267.9,543.6h.9v.9h-.9zM267.7,543.0h.9v.9h-.9zM283.7,544.3h.9v.9h-.9zM291.5,573.6h.9v.9h-.9zM296.8,559.8h.9v.9h-.9zM291.6,574.1h.9v.9h-.9zM290.9,574.1h.9v.9h-.9zM291.1,573.9h.9v.9h-.9zM292.0,573.1h.9v.9h-.9zM279.0,572.3h.9v.9h-.9zM279.8,573.0h.9v.9h-.9zM279.7,572.4h.9v.9h-.9zM288.5,565.4h.9v.9h-.9zM288.2,564.6h.9v.9h-.9zM287.8,564.6h.9v.9h-.9zM278.7,569.3h.9v.9h-.9zM294.0,570.8h.9v.9h-.9zM278.4,568.5h.9v.9h-.9zM278.4,568.7h.9v.9h-.9zM293.9,571.8h.9v.9h-.9zM284.6,565.8h.9v.9h-.9zM278.4,568.8h.9v.9h-.9zM280.3,564.2h.9v.9h-.9zM280.3,564.3h.9v.9h-.9zM281.2,550.1h.9v.9h-.9zM281.2,550.5h.9v.9h-.9zM283.6,548.3h.9v.9h-.9zM283.7,548.7h.9v.9h-.9zM286.5,564.9h.9v.9h-.9zM287.0,565.3h.9v.9h-.9zM286.4,545.4h.9v.9h-.9zM294.3,556.2h.9v.9h-.9zM297.9,560.5h.9v.9h-.9zM297.2,559.9h.9v.9h-.9zM278.2,572.5h.9v.9h-.9zM286.0,565.6h.9v.9h-.9zM278.3,573.1h.9v.9h-.9zM294.0,556.3h.9v.9h-.9zM278.6,572.0h.9v.9h-.9zM297.4,560.2h.9v.9h-.9zM280.3,552.2h.9v.9h-.9zM281.1,552.3h.9v.9h-.9zM267.2,547.7h.9v.9h-.9zM267.6,547.6h.9v.9h-.9zM298.8,562.1h.9v.9h-.9zM298.6,562.1h.9v.9h-.9zM299.2,561.7h.9v.9h-.9zM295.3,559.3h.9v.9h-.9zM294.8,559.4h.9v.9h-.9zM294.6,559.2h.9v.9h-.9zM299.9,566.6h.9v.9h-.9zM300.5,565.8h.9v.9h-.9zM299.6,566.4h.9v.9h-.9zM264.6,543.8h.9v.9h-.9zM264.8,543.7h.9v.9h-.9zM265.1,543.5h.9v.9h-.9zM264.5,543.9h.9v.9h-.9zM285.7,563.7h.9v.9h-.9zM285.2,564.0h.9v.9h-.9zM280.0,561.8h.9v.9h-.9zM285.3,563.5h.9v.9h-.9zM285.8,563.6h.9v.9h-.9zM281.5,548.7h.9v.9h-.9zM286.6,559.9h.9v.9h-.9zM279.7,561.8h.9v.9h-.9zM278.9,561.2h.9v.9h-.9zM281.6,548.2h.9v.9h-.9zM281.6,548.4h.9v.9h-.9zM282.2,548.2h.9v.9h-.9zM281.4,548.4h.9v.9h-.9zM292.6,569.0h.9v.9h-.9zM298.3,567.6h.9v.9h-.9zM282.0,566.4h.9v.9h-.9zM282.0,566.1h.9v.9h-.9zM292.8,570.7h.9v.9h-.9zM294.9,560.5h.9v.9h-.9zM287.6,570.3h.9v.9h-.9zM265.0,544.7h.9v.9h-.9zM287.9,569.8h.9v.9h-.9zM288.3,570.4h.9v.9h-.9zM265.3,544.7h.9v.9h-.9zM288.3,569.7h.9v.9h-.9zM294.7,559.9h.9v.9h-.9zM279.9,568.5h.9v.9h-.9zM285.2,543.9h.9v.9h-.9zM285.4,544.3h.9v.9h-.9zM279.4,569.2h.9v.9h-.9zM285.3,544.8h.9v.9h-.9zM285.7,544.5h.9v.9h-.9zM280.0,569.2h.9v.9h-.9zM278.7,551.6h.9v.9h-.9zM278.3,551.4h.9v.9h-.9zM284.9,570.6h.9v.9h-.9zM285.7,569.8h.9v.9h-.9zM286.0,566.0h.9v.9h-.9zM294.1,569.4h.9v.9h-.9zM293.8,569.5h.9v.9h-.9zM285.3,566.4h.9v.9h-.9zM293.4,570.5h.9v.9h-.9zM288.8,567.6h.9v.9h-.9zM275.1,550.8h.9v.9h-.9zM289.7,567.8h.9v.9h-.9zM288.6,568.0h.9v.9h-.9zM274.1,550.2h.9v.9h-.9zM288.7,567.8h.9v.9h-.9zM288.6,568.0h.9v.9h-.9zM274.8,550.7h.9v.9h-.9zM281.6,564.3h.9v.9h-.9zM282.3,563.5h.9v.9h-.9zM282.3,564.2h.9v.9h-.9zM282.2,563.5h.9v.9h-.9zM291.1,572.4h.9v.9h-.9zM281.4,564.3h.9v.9h-.9zM291.2,572.3h.9v.9h-.9zM291.7,572.8h.9v.9h-.9zM277.1,571.6h.9v.9h-.9zM276.4,571.8h.9v.9h-.9zM279.6,569.5h.9v.9h-.9zM279.5,570.3h.9v.9h-.9zM277.0,571.1h.9v.9h-.9zM277.0,571.8h.9v.9h-.9zM276.6,570.9h.9v.9h-.9zM277.9,562.7h.9v.9h-.9zM279.1,570.2h.9v.9h-.9zM280.6,565.7h.9v.9h-.9zM280.4,564.7h.9v.9h-.9zM279.3,551.5h.9v.9h-.9zM280.0,551.3h.9v.9h-.9zM280.7,565.0h.9v.9h-.9zM279.4,551.7h.9v.9h-.9zM279.3,552.1h.9v.9h-.9zM281.2,565.4h.9v.9h-.9zM282.9,565.3h.9v.9h-.9zM282.8,564.7h.9v.9h-.9zM289.7,565.3h.9v.9h-.9zM272.5,549.2h.9v.9h-.9zM292.3,557.0h.9v.9h-.9zM297.6,561.3h.9v.9h-.9zM297.4,562.1h.9v.9h-.9zM292.9,556.9h.9v.9h-.9zM297.7,561.4h.9v.9h-.9zM298.1,561.8h.9v.9h-.9zM279.2,560.7h.9v.9h-.9zM279.2,560.6h.9v.9h-.9zM279.8,560.0h.9v.9h-.9zM279.3,560.4h.9v.9h-.9zM286.1,561.6h.9v.9h-.9zM286.5,561.3h.9v.9h-.9zM299.8,563.5h.9v.9h-.9zM300.1,563.7h.9v.9h-.9z" fill="rgb(58, 76, 181)" fill-opacity="0.6"/>
<path d="M276.2,550.3h.9v.9h-.9zM292.6,572.3h.9v.9h-.9zM289.1,569.1h.9v.9h-.9zM292.4,572.2h.9v.9h-.9zM293.9,558.0h.9v.9h-.9zM293.9,558.0h.9v.9h-.9zM289.6,569.1h.9v.9h-.9zM288.6,569.1h.9v.9h-.9zM292.2,572.5h.9v.9h-.9zM293.1,573.0h.9v.9h-.9zM277.0,562.3h.9v.9h-.9zM277.0,562.6h.9v.9h-.9zM276.5,563.0h.9v.9h-.9zM266.0,545.4h.9v.9h-.9zM279.4,571.4h.9v.9h-.9zM279.1,571.3h.9v.9h-.9zM279.0,540.8h.9v.9h-.9zM299.7,564.7h.9v.9h-.9zM276.4,561.8h.9v.9h-.9zM279.2,540.2h.9v.9h-.9zM276.7,561.6h.9v.9h-.9zM277.1,561.4h.9v.9h-.9zM277.5,561.3h.9v.9h-.9zM279.9,541.0h.9v.9h-.9zM300.1,565.0h.9v.9h-.9zM300.1,565.3h.9v.9h-.9zM277.5,561.0h.9v.9h-.9zM287.2,562.1h.9v.9h-.9zM287.3,562.9h.9v.9h-.9zM287.2,563.0h.9v.9h-.9zM287.0,569.4h.9v.9h-.9zM283.4,546.0h.9v.9h-.9zM295.7,569.1h.9v.9h-.9zM295.4,568.5h.9v.9h-.9zM282.8,545.7h.9v.9h-.9zM282.6,545.7h.9v.9h-.9zM295.2,569.0h.9v.9h-.9zM295.5,568.4h.9v.9h-.9zM283.2,545.4h.9v.9h-.9zM270.1,543.8h.9v.9h-.9zM289.9,559.6h.9v.9h-.9zM291.6,557.3h.9v.9h-.9zM296.4,563.1h.9v.9h-.9zM291.6,557.7h.9v.9h-.9zM291.7,557.7h.9v.9h-.9zM291.3,558.4h.9v.9h-.9zM281.1,547.6h.9v.9h-.9zM276.4,540.6h.9v.9h-.9zM277.5,541.3h.9v.9h-.9zM298.4,562.8h.9v.9h-.9zM277.8,561.7h.9v.9h-.9zM278.0,561.4h.9v.9h-.9zM298.2,562.9h.9v.9h-.9zM285.6,545.9h.9v.9h-.9zM285.5,546.7h.9v.9h-.9zM285.3,546.8h.9v.9h-.9zM286.0,546.9h.9v.9h-.9zM285.1,547.0h.9v.9h-.9zM288.4,568.0h.9v.9h-.9zM294.7,563.2h.9v.9h-.9zM288.4,563.9h.9v.9h-.9zM277.6,540.4h.9v.9h-.9zM288.0,564.4h.9v.9h-.9zM287.5,563.9h.9v.9h-.9zM288.4,564.4h.9v.9h-.9zM265.8,543.5h.9v.9h-.9zM265.7,543.7h.9v.9h-.9zM266.2,542.8h.9v.9h-.9zM265.7,543.3h.9v.9h-.9zM293.4,568.9h.9v.9h-.9zM293.6,569.1h.9v.9h-.9zM288.4,560.6h.9v.9h-.9zM297.5,567.5h.9v.9h-.9zM287.7,560.7h.9v.9h-.9zM297.0,567.8h.9v.9h-.9zM270.4,542.3h.9v.9h-.9zM271.4,542.2h.9v.9h-.9zM297.5,568.1h.9v.9h-.9zM287.7,560.0h.9v.9h-.9zM297.5,567.3h.9v.9h-.9zM287.3,560.4h.9v.9h-.9zM270.9,541.8h.9v.9h-.9zM297.2,567.3h.9v.9h-.9zM283.0,546.9h.9v.9h-.9zM282.8,546.4h.9v.9h-.9zM284.6,545.2h.9v.9h-.9zM278.3,570.9h.9v.9h-.9zM278.4,571.2h.9v.9h-.9zM278.5,571.6h.9v.9h-.9zM289.0,560.6h.9v.9h-.9zM289.5,560.2h.9v.9h-.9zM289.0,560.9h.9v.9h-.9zM289.5,559.8h.9v.9h-.9zM282.4,565.4h.9v.9h-.9zM282.4,565.6h.9v.9h-.9zM279.8,550.7h.9v.9h-.9zM281.4,565.7h.9v.9h-.9zM292.9,567.4h.9v.9h-.9zM293.3,567.3h.9v.9h-.9zM285.9,567.1h.9v.9h-.9zM285.8,567.2h.9v.9h-.9zM285.4,568.1h.9v.9h-.9zM285.7,567.9h.9v.9h-.9zM267.1,546.4h.9v.9h-.9zM266.8,547.1h.9v.9h-.9zM267.1,547.1h.9v.9h-.9zM293.2,557.3h.9v.9h-.9zM266.7,544.3h.9v.9h-.9zM285.5,568.8h.9v.9h-.9zM285.0,569.2h.9v.9h-.9zM293.0,557.7h.9v.9h-.9zM286.0,568.6h.9v.9h-.9zM287.7,562.8h.9v.9h-.9zM298.3,566.6h.9v.9h-.9zM298.7,566.5h.9v.9h-.9zM298.6,566.0h.9v.9h-.9zM298.2,563.4h.9v.9h-.9zM299.1,564.2h.9v.9h-.9zM299.1,564.0h.9v.9h-.9zM276.8,551.1h.9v.9h-.9zM287.6,561.5h.9v.9h-.9zM287.4,561.3h.9v.9h-.9zM288.0,561.9h.9v.9h-.9zM288.3,568.6h.9v.9h-.9zM288.7,564.5h.9v.9h-.9zM289.5,563.6h.9v.9h-.9zM290.4,559.8h.9v.9h-.9zM290.5,560.2h.9v.9h-.9zM290.1,560.0h.9v.9h-.9zM286.5,568.1h.9v.9h-.9zM286.5,567.5h.9v.9h-.9zM286.7,567.2h.9v.9h-.9zM286.6,568.0h.9v.9h-.9zM293.7,559.2h.9v.9h-.9zM284.6,546.5h.9v.9h-.9zM284.0,547.1h.9v.9h-.9zM284.7,546.4h.9v.9h-.9zM284.8,546.4h.9v.9h-.9zM284.0,547.4h.9v.9h-.9zM266.5,544.5h.9v.9h-.9zM265.8,545.0h.9v.9h-.9zM265.8,544.1h.9v.9h-.9zM296.2,567.9h.9v.9h-.9zM268.8,548.2h.9v.9h-.9zM272.8,548.9h.9v.9h-.9zM282.0,545.3h.9v.9h-.9zM297.7,563.6h.9v.9h-.9zM298.3,565.6h.9v.9h-.9zM298.8,564.7h.9v.9h-.9zM299.3,565.7h.9v.9h-.9z" fill="rgb(53, 97, 180)" fill-opacity="0.9"/>
<path d="M291.7,565.0h.9v.9h-.9zM267.6,546.2h.9v.9h-.9zM286.3,569.4h.9v.9h-.9zM267.8,545.3h.9v.9h-.9zM266.9,546.1h.9v.9h-.9zM286.2,568.7h.9v.9h-.9zM291.1,565.1h.9v.9h-.9zM286.6,569.2h.9v.9h-.9zM297.2,565.8h.9v.9h-.9zM289.5,562.4h.9v.9h-.9zM289.1,562.6h.9v.9h-.9zM289.4,562.2h.9v.9h-.9zM288.9,562.3h.9v.9h-.9zM294.5,560.0h.9v.9h-.9zM293.4,560.7h.9v.9h-.9zM293.5,560.6h.9v.9h-.9zM292.0,559.2h.9v.9h-.9zM278.0,550.5h.9v.9h-.9zM278.0,550.4h.9v.9h-.9zM277.8,550.4h.9v.9h-.9zM277.7,550.9h.9v.9h-.9zM278.6,551.0h.9v.9h-.9zM295.1,567.8h.9v.9h-.9zM295.7,567.9h.9v.9h-.9zM294.6,568.2h.9v.9h-.9zM294.2,562.9h.9v.9h-.9zM294.5,563.2h.9v.9h-.9zM293.6,563.2h.9v.9h-.9zM280.7,541.6h.9v.9h-.9zM298.1,564.9h.9v.9h-.9zM292.2,566.0h.9v.9h-.9zM297.7,565.0h.9v.9h-.9zM293.3,566.8h.9v.9h-.9zM292.4,565.9h.9v.9h-.9zM274.8,542.2h.9v.9h-.9zM294.4,567.4h.9v.9h-.9zM294.0,567.8h.9v.9h-.9zM274.6,548.9h.9v.9h-.9zM274.7,549.8h.9v.9h-.9zM274.0,549.3h.9v.9h-.9zM274.7,548.9h.9v.9h-.9zM289.8,561.1h.9v.9h-.9zM292.2,559.1h.9v.9h-.9zM292.2,559.2h.9v.9h-.9zM292.7,559.1h.9v.9h-.9zM292.8,558.8h.9v.9h-.9zM279.3,547.7h.9v.9h-.9zM296.6,566.4h.9v.9h-.9zM295.8,566.7h.9v.9h-.9zM296.5,566.4h.9v.9h-.9zM279.8,547.7h.9v.9h-.9zM273.9,541.9h.9v.9h-.9zM273.6,542.5h.9v.9h-.9zM269.5,547.9h.9v.9h-.9zM269.7,548.2h.9v.9h-.9zM269.7,547.8h.9v.9h-.9zM269.9,548.2h.9v.9h-.9zM270.2,548.5h.9v.9h-.9zM269.8,548.0h.9v.9h-.9zM269.6,548.5h.9v.9h-.9zM296.4,563.8h.9v.9h-.9zM296.4,563.8h.9v.9h-.9zM296.4,564.3h.9v.9h-.9zM296.3,564.2h.9v.9h-.9zM295.8,563.9h.9v.9h-.9zM296.1,563.9h.9v.9h-.9zM272.3,542.3h.9v.9h-.9zM272.1,542.1h.9v.9h-.9zM271.9,542.0h.9v.9h-.9zM272.7,541.6h.9v.9h-.9zM271.8,542.6h.9v.9h-.9zM290.0,564.1h.9v.9h-.9zM290.5,564.0h.9v.9h-.9zM290.7,563.5h.9v.9h-.9zM291.7,559.8h.9v.9h-.9zM291.5,559.7h.9v.9h-.9zM291.0,560.1h.9v.9h-.9zM271.0,547.8h.9v.9h-.9zM270.9,548.7h.9v.9h-.9zM271.2,548.6h.9v.9h-.9zM270.5,547.9h.9v.9h-.9zM280.1,547.0h.9v.9h-.9zM275.5,541.7h.9v.9h-.9zM276.3,542.5h.9v.9h-.9zM292.2,564.7h.9v.9h-.9zM292.5,565.7h.9v.9h-.9zM292.7,565.2h.9v.9h-.9zM277.9,549.8h.9v.9h-.9zM278.7,549.9h.9v.9h-.9zM277.5,549.1h.9v.9h-.9zM277.7,549.0h.9v.9h-.9zM276.7,549.6h.9v.9h-.9zM276.6,549.6h.9v.9h-.9zM278.1,549.9h.9v.9h-.9zM277.8,549.5h.9v.9h-.9zM293.4,564.5h.9v.9h-.9zM294.8,563.6h.9v.9h-.9zM295.6,564.0h.9v.9h-.9zM295.2,563.5h.9v.9h-.9z" fill="rgb(50, 130, 180)" fill-opacity="0.9"/>
<path d="M268.3,545.5h.9v.9h-.9zM269.1,545.2h.9v.9h-.9zM268.0,545.8h.9v.9h-.9zM268.7,545.3h.9v.9h-.9zM268.8,546.2h.9v.9h-.9zM269.0,547.4h.9v.9h-.9zM268.1,546.6h.9v.9h-.9zM269.2,544.8h.9v.9h-.9zM296.6,564.7h.9v.9h-.9zM296.7,565.6h.9v.9h-.9zM270.3,544.4h.9v.9h-.9zM269.3,544.1h.9v.9h-.9zM269.4,544.8h.9v.9h-.9zM270.0,544.9h.9v.9h-.9zM292.6,560.5h.9v.9h-.9zM293.1,560.5h.9v.9h-.9zM293.1,560.4h.9v.9h-.9zM292.8,560.2h.9v.9h-.9zM293.3,560.6h.9v.9h-.9zM290.0,562.6h.9v.9h-.9zM290.7,562.3h.9v.9h-.9zM272.5,548.7h.9v.9h-.9zM272.3,547.7h.9v.9h-.9zM295.7,566.6h.9v.9h-.9zM294.1,566.9h.9v.9h-.9zM293.9,565.9h.9v.9h-.9zM294.2,565.9h.9v.9h-.9zM294.4,566.8h.9v.9h-.9zM294.2,566.3h.9v.9h-.9zM271.2,543.3h.9v.9h-.9zM270.4,543.7h.9v.9h-.9zM292.6,561.9h.9v.9h-.9zM292.4,562.0h.9v.9h-.9zM292.1,562.1h.9v.9h-.9zM270.8,543.6h.9v.9h-.9zM290.9,561.4h.9v.9h-.9zM292.6,561.1h.9v.9h-.9zM292.2,564.3h.9v.9h-.9zM293.6,565.4h.9v.9h-.9zM294.1,565.3h.9v.9h-.9zM294.5,564.7h.9v.9h-.9zM276.6,542.3h.9v.9h-.9zM276.7,541.9h.9v.9h-.9zM276.9,542.0h.9v.9h-.9zM277.5,541.9h.9v.9h-.9zM276.7,542.4h.9v.9h-.9zM291.4,563.6h.9v.9h-.9zM291.2,563.5h.9v.9h-.9zM291.4,563.4h.9v.9h-.9zM292.0,563.3h.9v.9h-.9zM291.5,563.8h.9v.9h-.9zM292.1,564.5h.9v.9h-.9zM294.8,564.9h.9v.9h-.9zM295.3,565.6h.9v.9h-.9zM294.8,565.5h.9v.9h-.9zM295.0,565.1h.9v.9h-.9zM295.1,564.9h.9v.9h-.9zM295.0,565.3h.9v.9h-.9zM279.7,542.5h.9v.9h-.9zM278.9,542.5h.9v.9h-.9zM279.9,541.5h.9v.9h-.9zM279.6,542.1h.9v.9h-.9zM292.8,562.2h.9v.9h-.9zM292.2,562.8h.9v.9h-.9zM292.8,563.1h.9v.9h-.9zM292.6,562.6h.9v.9h-.9zM292.2,563.0h.9v.9h-.9zM278.7,548.7h.9v.9h-.9zM278.8,548.3h.9v.9h-.9z" fill="rgb(66, 152, 145)" fill-opacity="0.9"/>
<path d="M280.9,543.0h.9v.9h-.9zM280.9,542.8h.9v.9h-.9zM281.0,543.3h.9v.9h-.9zM280.6,543.4h.9v.9h-.9zM269.3,547.1h.9v.9h-.9zM269.4,546.5h.9v.9h-.9zM269.9,547.2h.9v.9h-.9zM269.4,545.6h.9v.9h-.9zM270.2,546.0h.9v.9h-.9zM273.0,548.0h.9v.9h-.9zM278.2,542.5h.9v.9h-.9zM278.4,541.7h.9v.9h-.9zM273.9,547.5h.9v.9h-.9zM270.2,546.1h.9v.9h-.9zM272.8,548.6h.9v.9h-.9zM273.1,547.9h.9v.9h-.9zM278.2,542.6h.9v.9h-.9zM276.8,547.6h.9v.9h-.9zM276.5,548.2h.9v.9h-.9zM276.4,547.7h.9v.9h-.9zM276.8,548.7h.9v.9h-.9zM277.4,548.0h.9v.9h-.9zM291.9,562.4h.9v.9h-.9zM292.0,562.6h.9v.9h-.9zM292.1,563.0h.9v.9h-.9zM291.3,562.7h.9v.9h-.9zM291.3,563.1h.9v.9h-.9zM291.7,562.7h.9v.9h-.9zM275.3,548.1h.9v.9h-.9zM276.2,548.3h.9v.9h-.9zM275.7,547.7h.9v.9h-.9zM280.4,545.4h.9v.9h-.9zM280.9,546.3h.9v.9h-.9zM281.0,545.8h.9v.9h-.9zM280.8,546.3h.9v.9h-.9zM280.9,545.5h.9v.9h-.9zM274.5,548.1h.9v.9h-.9zM274.7,547.5h.9v.9h-.9zM274.7,548.4h.9v.9h-.9zM274.8,548.1h.9v.9h-.9zM279.5,546.7h.9v.9h-.9zM279.6,547.4h.9v.9h-.9zM279.2,546.3h.9v.9h-.9zM271.5,547.4h.9v.9h-.9zM279.0,546.5h.9v.9h-.9zM279.7,547.5h.9v.9h-.9zM281.1,545.0h.9v.9h-.9zM280.2,544.0h.9v.9h-.9zM280.3,544.2h.9v.9h-.9zM280.8,544.9h.9v.9h-.9zM280.7,543.9h.9v.9h-.9zM281.0,544.6h.9v.9h-.9z" fill="rgb(89, 170, 96)" fill-opacity="0.9"/>
<path d="M270.5,544.8h.9v.9h-.9zM271.5,544.8h.9v.9h-.9zM272.5,543.1h.9v.9h-.9zM272.6,543.2h.9v.9h-.9zM271.6,542.9h.9v.9h-.9zM274.9,543.2h.9v.9h-.9zM274.8,543.0h.9v.9h-.9zM274.3,543.7h.9v.9h-.9zM273.9,543.5h.9v.9h-.9zM273.0,542.9h.9v.9h-.9zM273.6,542.8h.9v.9h-.9zM273.2,543.0h.9v.9h-.9zM273.0,543.6h.9v.9h-.9zM278.2,546.6h.9v.9h-.9zM277.7,546.4h.9v.9h-.9zM277.8,546.7h.9v.9h-.9zM278.3,546.8h.9v.9h-.9zM278.7,546.4h.9v.9h-.9zM270.9,545.3h.9v.9h-.9zM271.3,546.3h.9v.9h-.9zM270.6,545.3h.9v.9h-.9zM271.2,545.1h.9v.9h-.9zM271.2,545.7h.9v.9h-.9zM272.4,546.8h.9v.9h-.9zM272.7,546.5h.9v.9h-.9zM272.6,546.6h.9v.9h-.9zM272.4,546.4h.9v.9h-.9z" fill="rgb(134, 181, 73)" fill-opacity="0.9"/>
<path d="M275.9,543.2h.9v.9h-.9zM275.8,542.8h.9v.9h-.9zM276.1,543.2h.9v.9h-.9zM275.8,543.1h.9v.9h-.9zM275.6,543.4h.9v.9h-.9zM277.5,547.4h.9v.9h-.9zM277.0,546.4h.9v.9h-.9zM279.2,543.0h.9v.9h-.9zM279.1,542.8h.9v.9h-.9zM279.3,543.1h.9v.9h-.9zM280.0,543.4h.9v.9h-.9zM279.1,542.9h.9v.9h-.9zM279.0,543.8h.9v.9h-.9zM279.1,543.3h.9v.9h-.9zM276.8,543.2h.9v.9h-.9zM276.5,542.9h.9v.9h-.9zM279.7,546.3h.9v.9h-.9zM279.0,545.3h.9v.9h-.9zM280.0,546.3h.9v.9h-.9zM279.5,545.6h.9v.9h-.9zM279.6,545.6h.9v.9h-.9zM279.5,545.6h.9v.9h-.9zM277.8,543.8h.9v.9h-.9zM277.9,542.8h.9v.9h-.9zM278.1,543.4h.9v.9h-.9zM277.7,543.6h.9v.9h-.9zM275.3,547.3h.9v.9h-.9zM275.5,546.6h.9v.9h-.9zM276.4,546.6h.9v.9h-.9z" fill="rgb(185, 190, 57)" fill-opacity="0.9"/>
<path d="M273.8,546.5h.9v.9h-.9zM273.7,546.5h.9v.9h-.9zM273.1,546.6h.9v.9h-.9zM273.2,546.6h.9v.9h-.9zM279.1,544.1h.9v.9h-.9zM279.6,545.0h.9v.9h-.9zM279.9,544.1h.9v.9h-.9zM279.1,544.2h.9v.9h-.9zM272.2,544.9h.9v.9h-.9zM274.6,547.3h.9v.9h-.9zM272.3,544.0h.9v.9h-.9zM275.0,547.2h.9v.9h-.9zM275.1,547.3h.9v.9h-.9zM271.7,544.4h.9v.9h-.9zM272.0,544.1h.9v.9h-.9zM274.2,547.3h.9v.9h-.9zM272.5,543.9h.9v.9h-.9zM275.0,546.4h.9v.9h-.9zM271.8,544.1h.9v.9h-.9zM272.6,544.5h.9v.9h-.9zM278.3,545.8h.9v.9h-.9zM278.3,545.6h.9v.9h-.9zM278.7,546.2h.9v.9h-.9zM278.7,545.9h.9v.9h-.9zM278.6,545.5h.9v.9h-.9zM272.7,545.8h.9v.9h-.9zM272.2,546.2h.9v.9h-.9zM272.6,545.8h.9v.9h-.9zM272.4,546.2h.9v.9h-.9zM272.3,546.0h.9v.9h-.9zM272.6,545.2h.9v.9h-.9zM272.2,545.1h.9v.9h-.9z" fill="rgb(214, 185, 46)" fill-opacity="0.9"/>
<path d="M277.7,544.7h.9v.9h-.9zM278.7,544.6h.9v.9h-.9zM278.7,544.5h.9v.9h-.9zM278.7,543.9h.9v.9h-.9zM277.3,545.2h.9v.9h-.9zM276.8,545.5h.9v.9h-.9zM276.6,546.0h.9v.9h-.9zM277.6,545.4h.9v.9h-.9zM273.5,544.8h.9v.9h-.9zM273.1,545.0h.9v.9h-.9zM273.2,544.2h.9v.9h-.9zM273.3,545.0h.9v.9h-.9zM272.8,544.7h.9v.9h-.9zM273.2,544.0h.9v.9h-.9zM274.3,544.6h.9v.9h-.9zM274.8,544.9h.9v.9h-.9zM274.9,544.7h.9v.9h-.9zM277.3,544.4h.9v.9h-.9zM276.5,544.5h.9v.9h-.9zM277.0,544.7h.9v.9h-.9zM276.5,544.6h.9v.9h-.9zM277.1,544.8h.9v.9h-.9zM276.7,544.0h.9v.9h-.9zM276.7,545.0h.9v.9h-.9zM276.6,544.9h.9v.9h-.9zM276.7,544.4h.9v.9h-.9zM277.5,544.1h.9v.9h-.9zM276.2,544.9h.9v.9h-.9zM276.0,544.5h.9v.9h-.9zM275.9,544.2h.9v.9h-.9zM275.6,544.2h.9v.9h-.9zM275.3,543.9h.9v.9h-.9zM275.8,545.1h.9v.9h-.9z" fill="rgb(222, 167, 40)" fill-opacity="0.9"/>
<path d="M275.9,546.3h.9v.9h-.9zM276.0,545.2h.9v.9h-.9zM275.7,546.0h.9v.9h-.9zM276.1,545.2h.9v.9h-.9zM276.3,545.3h.9v.9h-.9zM275.4,545.8h.9v.9h-.9zM276.2,545.7h.9v.9h-.9zM273.8,546.1h.9v.9h-.9zM273.4,545.6h.9v.9h-.9zM273.6,545.7h.9v.9h-.9zM273.4,545.4h.9v.9h-.9zM272.9,545.9h.9v.9h-.9zM273.1,545.3h.9v.9h-.9zM274.5,545.5h.9v.9h-.9zM274.8,546.0h.9v.9h-.9zM275.1,545.7h.9v.9h-.9zM274.2,545.1h.9v.9h-.9zM274.2,545.2h.9v.9h-.9zM274.7,545.6h.9v.9h-.9zM274.8,545.1h.9v.9h-.9zM275.0,545.8h.9v.9h-.9zM274.1,546.1h.9v.9h-.9z" fill="rgb(230, 150, 35)" fill-opacity="0.9"/>
</g>
<line x1="247.30" y1="557.00" x2="318.80" y2="557.00" stroke="#3c3c3c" stroke-width="1.3" stroke-linecap="butt"/>
<line x1="286.30" y1="531.70" x2="286.30" y2="603.50" stroke="#3c3c3c" stroke-width="1.3" stroke-linecap="butt"/>
<line x1="246.90" y1="531.40" x2="246.90" y2="603.80" stroke="#222" stroke-width="0.8" stroke-linecap="butt"/>
<line x1="246.90" y1="603.80" x2="318.80" y2="603.80" stroke="#222" stroke-width="0.8" stroke-linecap="butt"/>
<line x1="245.50" y1="602.90" x2="246.90" y2="602.90" stroke="#111" stroke-width="0.9" stroke-linecap="butt"/>
<line x1="246.90" y1="603.80" x2="246.90" y2="605.30" stroke="#111" stroke-width="0.9" stroke-linecap="butt"/>
<line x1="246.30" y1="599.38" x2="246.90" y2="599.38" stroke="#333" stroke-width="0.5" stroke-linecap="butt"/>
<line x1="250.44" y1="603.80" x2="250.44" y2="604.50" stroke="#333" stroke-width="0.5" stroke-linecap="butt"/>
<line x1="246.30" y1="597.32" x2="246.90" y2="597.32" stroke="#333" stroke-width="0.5" stroke-linecap="butt"/>
<line x1="252.52" y1="603.80" x2="252.52" y2="604.50" stroke="#333" stroke-width="0.5" stroke-linecap="butt"/>
<line x1="246.30" y1="595.86" x2="246.90" y2="595.86" stroke="#333" stroke-width="0.5" stroke-linecap="butt"/>
<line x1="253.99" y1="603.80" x2="253.99" y2="604.50" stroke="#333" stroke-width="0.5" stroke-linecap="butt"/>
<line x1="246.30" y1="594.72" x2="246.90" y2="594.72" stroke="#333" stroke-width="0.5" stroke-linecap="butt"/>
<line x1="255.13" y1="603.80" x2="255.13" y2="604.50" stroke="#333" stroke-width="0.5" stroke-linecap="butt"/>
<line x1="246.30" y1="593.80" x2="246.90" y2="593.80" stroke="#333" stroke-width="0.5" stroke-linecap="butt"/>
<line x1="256.06" y1="603.80" x2="256.06" y2="604.50" stroke="#333" stroke-width="0.5" stroke-linecap="butt"/>
<line x1="246.30" y1="593.01" x2="246.90" y2="593.01" stroke="#333" stroke-width="0.5" stroke-linecap="butt"/>
<line x1="256.85" y1="603.80" x2="256.85" y2="604.50" stroke="#333" stroke-width="0.5" stroke-linecap="butt"/>
<line x1="246.30" y1="592.33" x2="246.90" y2="592.33" stroke="#333" stroke-width="0.5" stroke-linecap="butt"/>
<line x1="257.53" y1="603.80" x2="257.53" y2="604.50" stroke="#333" stroke-width="0.5" stroke-linecap="butt"/>
<line x1="246.30" y1="591.74" x2="246.90" y2="591.74" stroke="#333" stroke-width="0.5" stroke-linecap="butt"/>
<line x1="258.13" y1="603.80" x2="258.13" y2="604.50" stroke="#333" stroke-width="0.5" stroke-linecap="butt"/>
<text transform="translate(239.30,604.60)" font-size="5.4" text-anchor="end" fill="#222">10</text>
<text transform="translate(239.50,602.50)" font-size="3.4" fill="#222">0</text>
<text transform="translate(246.70,613.60)" font-size="5.8" text-anchor="middle" fill="#222">10</text>
<text transform="translate(249.80,610.80)" font-size="3.5" fill="#222">0</text>
<line x1="245.50" y1="591.20" x2="246.90" y2="591.20" stroke="#111" stroke-width="0.9" stroke-linecap="butt"/>
<line x1="258.67" y1="603.80" x2="258.67" y2="605.30" stroke="#111" stroke-width="0.9" stroke-linecap="butt"/>
<line x1="246.30" y1="587.68" x2="246.90" y2="587.68" stroke="#333" stroke-width="0.5" stroke-linecap="butt"/>
<line x1="262.21" y1="603.80" x2="262.21" y2="604.50" stroke="#333" stroke-width="0.5" stroke-linecap="butt"/>
<line x1="246.30" y1="585.62" x2="246.90" y2="585.62" stroke="#333" stroke-width="0.5" stroke-linecap="butt"/>
<line x1="264.29" y1="603.80" x2="264.29" y2="604.50" stroke="#333" stroke-width="0.5" stroke-linecap="butt"/>
<line x1="246.30" y1="584.16" x2="246.90" y2="584.16" stroke="#333" stroke-width="0.5" stroke-linecap="butt"/>
<line x1="265.76" y1="603.80" x2="265.76" y2="604.50" stroke="#333" stroke-width="0.5" stroke-linecap="butt"/>
<line x1="246.30" y1="583.02" x2="246.90" y2="583.02" stroke="#333" stroke-width="0.5" stroke-linecap="butt"/>
<line x1="266.90" y1="603.80" x2="266.90" y2="604.50" stroke="#333" stroke-width="0.5" stroke-linecap="butt"/>
<line x1="246.30" y1="582.10" x2="246.90" y2="582.10" stroke="#333" stroke-width="0.5" stroke-linecap="butt"/>
<line x1="267.83" y1="603.80" x2="267.83" y2="604.50" stroke="#333" stroke-width="0.5" stroke-linecap="butt"/>
<line x1="246.30" y1="581.31" x2="246.90" y2="581.31" stroke="#333" stroke-width="0.5" stroke-linecap="butt"/>
<line x1="268.62" y1="603.80" x2="268.62" y2="604.50" stroke="#333" stroke-width="0.5" stroke-linecap="butt"/>
<line x1="246.30" y1="580.63" x2="246.90" y2="580.63" stroke="#333" stroke-width="0.5" stroke-linecap="butt"/>
<line x1="269.30" y1="603.80" x2="269.30" y2="604.50" stroke="#333" stroke-width="0.5" stroke-linecap="butt"/>
<line x1="246.30" y1="580.04" x2="246.90" y2="580.04" stroke="#333" stroke-width="0.5" stroke-linecap="butt"/>
<line x1="269.90" y1="603.80" x2="269.90" y2="604.50" stroke="#333" stroke-width="0.5" stroke-linecap="butt"/>
<text transform="translate(239.30,592.90)" font-size="5.4" text-anchor="end" fill="#222">10</text>
<text transform="translate(239.50,590.80)" font-size="3.4" fill="#222">1</text>
<text transform="translate(258.47,613.60)" font-size="5.8" text-anchor="middle" fill="#222">10</text>
<text transform="translate(261.57,610.80)" font-size="3.5" fill="#222">1</text>
<line x1="245.50" y1="579.50" x2="246.90" y2="579.50" stroke="#111" stroke-width="0.9" stroke-linecap="butt"/>
<line x1="270.44" y1="603.80" x2="270.44" y2="605.30" stroke="#111" stroke-width="0.9" stroke-linecap="butt"/>
<line x1="246.30" y1="575.98" x2="246.90" y2="575.98" stroke="#333" stroke-width="0.5" stroke-linecap="butt"/>
<line x1="273.98" y1="603.80" x2="273.98" y2="604.50" stroke="#333" stroke-width="0.5" stroke-linecap="butt"/>
<line x1="246.30" y1="573.92" x2="246.90" y2="573.92" stroke="#333" stroke-width="0.5" stroke-linecap="butt"/>
<line x1="276.06" y1="603.80" x2="276.06" y2="604.50" stroke="#333" stroke-width="0.5" stroke-linecap="butt"/>
<line x1="246.30" y1="572.46" x2="246.90" y2="572.46" stroke="#333" stroke-width="0.5" stroke-linecap="butt"/>
<line x1="277.53" y1="603.80" x2="277.53" y2="604.50" stroke="#333" stroke-width="0.5" stroke-linecap="butt"/>
<line x1="246.30" y1="571.32" x2="246.90" y2="571.32" stroke="#333" stroke-width="0.5" stroke-linecap="butt"/>
<line x1="278.67" y1="603.80" x2="278.67" y2="604.50" stroke="#333" stroke-width="0.5" stroke-linecap="butt"/>
<line x1="246.30" y1="570.40" x2="246.90" y2="570.40" stroke="#333" stroke-width="0.5" stroke-linecap="butt"/>
<line x1="279.60" y1="603.80" x2="279.60" y2="604.50" stroke="#333" stroke-width="0.5" stroke-linecap="butt"/>
<line x1="246.30" y1="569.61" x2="246.90" y2="569.61" stroke="#333" stroke-width="0.5" stroke-linecap="butt"/>
<line x1="280.39" y1="603.80" x2="280.39" y2="604.50" stroke="#333" stroke-width="0.5" stroke-linecap="butt"/>
<line x1="246.30" y1="568.93" x2="246.90" y2="568.93" stroke="#333" stroke-width="0.5" stroke-linecap="butt"/>
<line x1="281.07" y1="603.80" x2="281.07" y2="604.50" stroke="#333" stroke-width="0.5" stroke-linecap="butt"/>
<line x1="246.30" y1="568.34" x2="246.90" y2="568.34" stroke="#333" stroke-width="0.5" stroke-linecap="butt"/>
<line x1="281.67" y1="603.80" x2="281.67" y2="604.50" stroke="#333" stroke-width="0.5" stroke-linecap="butt"/>
<text transform="translate(239.30,581.20)" font-size="5.4" text-anchor="end" fill="#222">10</text>
<text transform="translate(239.50,579.10)" font-size="3.4" fill="#222">2</text>
<text transform="translate(270.24,613.60)" font-size="5.8" text-anchor="middle" fill="#222">10</text>
<text transform="translate(273.34,610.80)" font-size="3.5" fill="#222">2</text>
<line x1="245.50" y1="567.80" x2="246.90" y2="567.80" stroke="#111" stroke-width="0.9" stroke-linecap="butt"/>
<line x1="282.21" y1="603.80" x2="282.21" y2="605.30" stroke="#111" stroke-width="0.9" stroke-linecap="butt"/>
<line x1="246.30" y1="564.28" x2="246.90" y2="564.28" stroke="#333" stroke-width="0.5" stroke-linecap="butt"/>
<line x1="285.75" y1="603.80" x2="285.75" y2="604.50" stroke="#333" stroke-width="0.5" stroke-linecap="butt"/>
<line x1="246.30" y1="562.22" x2="246.90" y2="562.22" stroke="#333" stroke-width="0.5" stroke-linecap="butt"/>
<line x1="287.83" y1="603.80" x2="287.83" y2="604.50" stroke="#333" stroke-width="0.5" stroke-linecap="butt"/>
<line x1="246.30" y1="560.76" x2="246.90" y2="560.76" stroke="#333" stroke-width="0.5" stroke-linecap="butt"/>
<line x1="289.30" y1="603.80" x2="289.30" y2="604.50" stroke="#333" stroke-width="0.5" stroke-linecap="butt"/>
<line x1="246.30" y1="559.62" x2="246.90" y2="559.62" stroke="#333" stroke-width="0.5" stroke-linecap="butt"/>
<line x1="290.44" y1="603.80" x2="290.44" y2="604.50" stroke="#333" stroke-width="0.5" stroke-linecap="butt"/>
<line x1="246.30" y1="558.70" x2="246.90" y2="558.70" stroke="#333" stroke-width="0.5" stroke-linecap="butt"/>
<line x1="291.37" y1="603.80" x2="291.37" y2="604.50" stroke="#333" stroke-width="0.5" stroke-linecap="butt"/>
<line x1="246.30" y1="557.91" x2="246.90" y2="557.91" stroke="#333" stroke-width="0.5" stroke-linecap="butt"/>
<line x1="292.16" y1="603.80" x2="292.16" y2="604.50" stroke="#333" stroke-width="0.5" stroke-linecap="butt"/>
<line x1="246.30" y1="557.23" x2="246.90" y2="557.23" stroke="#333" stroke-width="0.5" stroke-linecap="butt"/>
<line x1="292.84" y1="603.80" x2="292.84" y2="604.50" stroke="#333" stroke-width="0.5" stroke-linecap="butt"/>
<line x1="246.30" y1="556.64" x2="246.90" y2="556.64" stroke="#333" stroke-width="0.5" stroke-linecap="butt"/>
<line x1="293.44" y1="603.80" x2="293.44" y2="604.50" stroke="#333" stroke-width="0.5" stroke-linecap="butt"/>
<text transform="translate(239.30,569.50)" font-size="5.4" text-anchor="end" fill="#222">10</text>
<text transform="translate(239.50,567.40)" font-size="3.4" fill="#222">3</text>
<text transform="translate(282.01,613.60)" font-size="5.8" text-anchor="middle" fill="#222">10</text>
<text transform="translate(285.11,610.80)" font-size="3.5" fill="#222">3</text>
<line x1="245.50" y1="556.10" x2="246.90" y2="556.10" stroke="#111" stroke-width="0.9" stroke-linecap="butt"/>
<line x1="293.98" y1="603.80" x2="293.98" y2="605.30" stroke="#111" stroke-width="0.9" stroke-linecap="butt"/>
<line x1="246.30" y1="552.58" x2="246.90" y2="552.58" stroke="#333" stroke-width="0.5" stroke-linecap="butt"/>
<line x1="297.52" y1="603.80" x2="297.52" y2="604.50" stroke="#333" stroke-width="0.5" stroke-linecap="butt"/>
<line x1="246.30" y1="550.52" x2="246.90" y2="550.52" stroke="#333" stroke-width="0.5" stroke-linecap="butt"/>
<line x1="299.60" y1="603.80" x2="299.60" y2="604.50" stroke="#333" stroke-width="0.5" stroke-linecap="butt"/>
<line x1="246.30" y1="549.06" x2="246.90" y2="549.06" stroke="#333" stroke-width="0.5" stroke-linecap="butt"/>
<line x1="301.07" y1="603.80" x2="301.07" y2="604.50" stroke="#333" stroke-width="0.5" stroke-linecap="butt"/>
<line x1="246.30" y1="547.92" x2="246.90" y2="547.92" stroke="#333" stroke-width="0.5" stroke-linecap="butt"/>
<line x1="302.21" y1="603.80" x2="302.21" y2="604.50" stroke="#333" stroke-width="0.5" stroke-linecap="butt"/>
<line x1="246.30" y1="547.00" x2="246.90" y2="547.00" stroke="#333" stroke-width="0.5" stroke-linecap="butt"/>
<line x1="303.14" y1="603.80" x2="303.14" y2="604.50" stroke="#333" stroke-width="0.5" stroke-linecap="butt"/>
<line x1="246.30" y1="546.21" x2="246.90" y2="546.21" stroke="#333" stroke-width="0.5" stroke-linecap="butt"/>
<line x1="303.93" y1="603.80" x2="303.93" y2="604.50" stroke="#333" stroke-width="0.5" stroke-linecap="butt"/>
<line x1="246.30" y1="545.53" x2="246.90" y2="545.53" stroke="#333" stroke-width="0.5" stroke-linecap="butt"/>
<line x1="304.61" y1="603.80" x2="304.61" y2="604.50" stroke="#333" stroke-width="0.5" stroke-linecap="butt"/>
<line x1="246.30" y1="544.94" x2="246.90" y2="544.94" stroke="#333" stroke-width="0.5" stroke-linecap="butt"/>
<line x1="305.21" y1="603.80" x2="305.21" y2="604.50" stroke="#333" stroke-width="0.5" stroke-linecap="butt"/>
<text transform="translate(239.30,557.80)" font-size="5.4" text-anchor="end" fill="#222">10</text>
<text transform="translate(239.50,555.70)" font-size="3.4" fill="#222">4</text>
<text transform="translate(293.78,613.60)" font-size="5.8" text-anchor="middle" fill="#222">10</text>
<text transform="translate(296.88,610.80)" font-size="3.5" fill="#222">4</text>
<line x1="245.50" y1="544.40" x2="246.90" y2="544.40" stroke="#111" stroke-width="0.9" stroke-linecap="butt"/>
<line x1="305.75" y1="603.80" x2="305.75" y2="605.30" stroke="#111" stroke-width="0.9" stroke-linecap="butt"/>
<line x1="246.30" y1="540.88" x2="246.90" y2="540.88" stroke="#333" stroke-width="0.5" stroke-linecap="butt"/>
<line x1="309.29" y1="603.80" x2="309.29" y2="604.50" stroke="#333" stroke-width="0.5" stroke-linecap="butt"/>
<line x1="246.30" y1="538.82" x2="246.90" y2="538.82" stroke="#333" stroke-width="0.5" stroke-linecap="butt"/>
<line x1="311.37" y1="603.80" x2="311.37" y2="604.50" stroke="#333" stroke-width="0.5" stroke-linecap="butt"/>
<line x1="246.30" y1="537.36" x2="246.90" y2="537.36" stroke="#333" stroke-width="0.5" stroke-linecap="butt"/>
<line x1="312.84" y1="603.80" x2="312.84" y2="604.50" stroke="#333" stroke-width="0.5" stroke-linecap="butt"/>
<line x1="246.30" y1="536.22" x2="246.90" y2="536.22" stroke="#333" stroke-width="0.5" stroke-linecap="butt"/>
<line x1="313.98" y1="603.80" x2="313.98" y2="604.50" stroke="#333" stroke-width="0.5" stroke-linecap="butt"/>
<line x1="246.30" y1="535.30" x2="246.90" y2="535.30" stroke="#333" stroke-width="0.5" stroke-linecap="butt"/>
<line x1="314.91" y1="603.80" x2="314.91" y2="604.50" stroke="#333" stroke-width="0.5" stroke-linecap="butt"/>
<line x1="246.30" y1="534.51" x2="246.90" y2="534.51" stroke="#333" stroke-width="0.5" stroke-linecap="butt"/>
<line x1="315.70" y1="603.80" x2="315.70" y2="604.50" stroke="#333" stroke-width="0.5" stroke-linecap="butt"/>
<line x1="246.30" y1="533.83" x2="246.90" y2="533.83" stroke="#333" stroke-width="0.5" stroke-linecap="butt"/>
<line x1="316.38" y1="603.80" x2="316.38" y2="604.50" stroke="#333" stroke-width="0.5" stroke-linecap="butt"/>
<line x1="246.30" y1="533.24" x2="246.90" y2="533.24" stroke="#333" stroke-width="0.5" stroke-linecap="butt"/>
<line x1="316.98" y1="603.80" x2="316.98" y2="604.50" stroke="#333" stroke-width="0.5" stroke-linecap="butt"/>
<text transform="translate(239.30,546.10)" font-size="5.4" text-anchor="end" fill="#222">10</text>
<text transform="translate(239.50,544.00)" font-size="3.4" fill="#222">5</text>
<text transform="translate(305.55,613.60)" font-size="5.8" text-anchor="middle" fill="#222">10</text>
<text transform="translate(308.65,610.80)" font-size="3.5" fill="#222">5</text>
<line x1="245.50" y1="532.70" x2="246.90" y2="532.70" stroke="#111" stroke-width="0.9" stroke-linecap="butt"/>
<line x1="317.52" y1="603.80" x2="317.52" y2="605.30" stroke="#111" stroke-width="0.9" stroke-linecap="butt"/>
<text transform="translate(239.30,534.40)" font-size="5.4" text-anchor="end" fill="#222">10</text>
<text transform="translate(239.50,532.30)" font-size="3.4" fill="#222">6</text>
<text transform="translate(317.32,613.60)" font-size="5.8" text-anchor="middle" fill="#222">10</text>
<text transform="translate(320.42,610.80)" font-size="3.5" fill="#222">6</text>
<text x="248.10" y="536.70" font-size="4.9" fill="#222">Q1</text>
<text x="248.50" y="541.50" font-size="4.6" fill="#222">53.8</text>
<text x="312.80" y="536.70" font-size="4.9" fill="#222" text-anchor="end">Q2</text>
<text x="312.80" y="541.50" font-size="4.6" fill="#222" text-anchor="end">7.11</text>
<text x="248.50" y="595.10" font-size="4.6" fill="#222">Q4</text>
<text x="248.50" y="600.10" font-size="4.6" fill="#222">16.4</text>
<text x="312.80" y="595.10" font-size="4.6" fill="#222" text-anchor="end">Q3</text>
<text x="312.80" y="600.10" font-size="4.6" fill="#222" text-anchor="end">23.6</text>
<rect x="345.40" y="531.50" width="72.10" height="72.30" fill="#fff" stroke="#d0d0d0" stroke-width="0.6"/>
<g filter="url(#b03)">
<path d="M415.3,587.7h.9v.9h-.9zM351.0,585.2h.9v.9h-.9zM347.3,566.3h.9v.9h-.9zM363.3,602.0h.9v.9h-.9zM353.3,593.8h.9v.9h-.9zM352.1,597.1h.9v.9h-.9zM415.3,584.1h.9v.9h-.9zM347.2,542.9h.9v.9h-.9zM396.2,602.4h.9v.9h-.9zM349.9,545.8h.9v.9h-.9zM415.4,553.1h.9v.9h-.9zM346.5,577.0h.9v.9h-.9zM356.4,602.6h.9v.9h-.9zM355.0,538.6h.9v.9h-.9zM358.4,597.8h.9v.9h-.9zM365.0,533.5h.9v.9h-.9zM396.3,597.8h.9v.9h-.9zM399.4,599.2h.9v.9h-.9zM408.2,562.0h.9v.9h-.9zM366.7,601.6h.9v.9h-.9zM410.7,545.1h.9v.9h-.9zM410.4,560.2h.9v.9h-.9zM360.8,595.2h.9v.9h-.9zM355.5,599.8h.9v.9h-.9zM411.4,583.5h.9v.9h-.9zM382.4,601.9h.9v.9h-.9zM353.2,558.2h.9v.9h-.9zM412.5,555.3h.9v.9h-.9zM412.2,557.9h.9v.9h-.9zM364.5,597.9h.9v.9h-.9zM399.4,593.1h.9v.9h-.9zM354.5,580.8h.9v.9h-.9zM410.2,591.5h.9v.9h-.9zM409.4,543.5h.9v.9h-.9zM356.0,558.0h.9v.9h-.9zM413.4,549.9h.9v.9h-.9zM406.9,588.8h.9v.9h-.9zM406.9,559.6h.9v.9h-.9zM388.3,601.7h.9v.9h-.9zM411.7,593.6h.9v.9h-.9zM375.9,600.8h.9v.9h-.9zM348.9,580.1h.9v.9h-.9zM358.1,590.9h.9v.9h-.9zM393.5,599.0h.9v.9h-.9zM415.6,540.2h.9v.9h-.9zM408.2,597.8h.9v.9h-.9zM408.9,557.2h.9v.9h-.9zM360.3,535.9h.9v.9h-.9z" fill="rgb(125, 125, 205)" fill-opacity="0.4"/>
<path d="M355.4,541.7h.9v.9h-.9zM373.7,601.8h.9v.9h-.9zM369.6,603.0h.9v.9h-.9zM358.2,587.8h.9v.9h-.9zM389.1,600.4h.9v.9h-.9zM402.3,538.3h.9v.9h-.9zM346.9,574.1h.9v.9h-.9zM352.3,580.1h.9v.9h-.9zM399.9,538.4h.9v.9h-.9zM391.9,600.3h.9v.9h-.9zM403.5,549.8h.9v.9h-.9zM369.5,532.7h.9v.9h-.9zM413.5,564.2h.9v.9h-.9zM414.5,542.9h.9v.9h-.9zM359.3,592.2h.9v.9h-.9zM377.4,534.7h.9v.9h-.9zM407.2,595.3h.9v.9h-.9zM362.1,598.1h.9v.9h-.9zM383.8,534.5h.9v.9h-.9zM353.3,562.5h.9v.9h-.9zM353.2,560.6h.9v.9h-.9zM412.2,586.3h.9v.9h-.9zM408.8,583.0h.9v.9h-.9zM361.7,597.0h.9v.9h-.9zM348.0,553.0h.9v.9h-.9zM408.0,593.6h.9v.9h-.9zM351.0,563.3h.9v.9h-.9zM412.3,588.7h.9v.9h-.9zM411.1,566.2h.9v.9h-.9zM357.4,562.8h.9v.9h-.9zM409.5,573.8h.9v.9h-.9zM410.1,553.3h.9v.9h-.9zM368.6,599.3h.9v.9h-.9zM404.0,590.9h.9v.9h-.9zM359.5,586.2h.9v.9h-.9zM349.3,552.4h.9v.9h-.9zM406.0,592.8h.9v.9h-.9zM348.3,573.2h.9v.9h-.9zM388.6,535.4h.9v.9h-.9zM356.5,579.8h.9v.9h-.9zM378.7,600.5h.9v.9h-.9zM410.3,594.2h.9v.9h-.9zM381.2,598.6h.9v.9h-.9zM393.8,594.6h.9v.9h-.9zM359.1,537.2h.9v.9h-.9zM353.7,546.7h.9v.9h-.9zM414.9,541.3h.9v.9h-.9zM409.1,539.5h.9v.9h-.9zM409.1,547.4h.9v.9h-.9zM414.6,547.5h.9v.9h-.9zM405.6,550.5h.9v.9h-.9zM414.3,548.2h.9v.9h-.9zM405.1,578.5h.9v.9h-.9zM404.9,592.1h.9v.9h-.9zM409.7,596.2h.9v.9h-.9zM407.2,581.8h.9v.9h-.9zM390.1,597.8h.9v.9h-.9zM354.3,585.0h.9v.9h-.9zM396.6,590.7h.9v.9h-.9zM405.6,541.6h.9v.9h-.9zM407.0,552.4h.9v.9h-.9zM369.0,600.8h.9v.9h-.9zM402.5,535.9h.9v.9h-.9zM403.1,535.5h.9v.9h-.9zM357.4,540.9h.9v.9h-.9zM366.2,535.6h.9v.9h-.9zM350.7,581.7h.9v.9h-.9zM349.0,581.1h.9v.9h-.9zM358.0,558.8h.9v.9h-.9zM383.1,535.6h.9v.9h-.9zM360.1,537.9h.9v.9h-.9zM349.1,555.4h.9v.9h-.9zM406.2,585.6h.9v.9h-.9zM356.1,586.2h.9v.9h-.9zM358.8,539.1h.9v.9h-.9zM413.8,578.5h.9v.9h-.9zM349.9,554.6h.9v.9h-.9zM357.6,581.2h.9v.9h-.9zM351.1,564.4h.9v.9h-.9zM356.1,564.9h.9v.9h-.9zM407.0,555.4h.9v.9h-.9zM414.6,570.2h.9v.9h-.9zM386.1,599.1h.9v.9h-.9zM355.8,554.5h.9v.9h-.9zM407.9,554.5h.9v.9h-.9zM352.2,565.9h.9v.9h-.9zM359.2,582.3h.9v.9h-.9zM411.2,550.2h.9v.9h-.9zM408.0,540.6h.9v.9h-.9zM407.9,575.8h.9v.9h-.9zM405.0,586.6h.9v.9h-.9zM402.0,542.4h.9v.9h-.9zM412.3,579.7h.9v.9h-.9zM408.2,577.0h.9v.9h-.9zM358.5,553.5h.9v.9h-.9zM396.2,594.7h.9v.9h-.9zM405.6,551.6h.9v.9h-.9zM410.0,551.3h.9v.9h-.9zM405.8,585.8h.9v.9h-.9zM410.2,540.7h.9v.9h-.9zM407.9,549.5h.9v.9h-.9zM369.2,534.8h.9v.9h-.9zM371.3,602.0h.9v.9h-.9zM349.8,574.1h.9v.9h-.9zM361.1,590.7h.9v.9h-.9zM358.2,554.8h.9v.9h-.9zM364.0,537.4h.9v.9h-.9zM364.3,593.6h.9v.9h-.9zM360.2,590.4h.9v.9h-.9zM364.4,536.5h.9v.9h-.9zM363.2,590.6h.9v.9h-.9zM353.3,571.8h.9v.9h-.9zM397.9,537.1h.9v.9h-.9zM409.7,589.1h.9v.9h-.9zM375.6,596.9h.9v.9h-.9zM406.3,543.3h.9v.9h-.9zM410.1,587.4h.9v.9h-.9zM405.8,557.2h.9v.9h-.9zM400.3,587.0h.9v.9h-.9zM393.4,591.3h.9v.9h-.9zM384.4,596.8h.9v.9h-.9zM398.7,588.4h.9v.9h-.9zM355.1,584.3h.9v.9h-.9zM414.9,562.9h.9v.9h-.9zM414.9,562.8h.9v.9h-.9zM414.6,568.9h.9v.9h-.9zM414.6,561.9h.9v.9h-.9zM414.1,569.9h.9v.9h-.9zM403.2,588.7h.9v.9h-.9zM352.8,553.8h.9v.9h-.9zM357.2,583.8h.9v.9h-.9zM360.8,540.4h.9v.9h-.9zM354.4,548.5h.9v.9h-.9zM378.5,600.0h.9v.9h-.9zM401.4,551.1h.9v.9h-.9zM409.5,550.4h.9v.9h-.9zM406.0,538.0h.9v.9h-.9zM408.6,578.7h.9v.9h-.9zM406.5,538.7h.9v.9h-.9zM413.1,575.9h.9v.9h-.9zM352.2,575.1h.9v.9h-.9zM412.0,573.9h.9v.9h-.9zM354.7,575.0h.9v.9h-.9zM356.9,585.6h.9v.9h-.9zM392.9,589.8h.9v.9h-.9zM359.1,556.4h.9v.9h-.9zM411.8,568.4h.9v.9h-.9zM410.6,587.7h.9v.9h-.9zM395.6,591.9h.9v.9h-.9zM392.1,593.7h.9v.9h-.9zM365.4,538.3h.9v.9h-.9zM394.3,589.9h.9v.9h-.9zM402.4,580.7h.9v.9h-.9zM370.7,600.5h.9v.9h-.9zM405.3,539.4h.9v.9h-.9zM405.8,577.8h.9v.9h-.9zM405.2,539.4h.9v.9h-.9zM408.4,572.4h.9v.9h-.9zM400.8,588.5h.9v.9h-.9zM355.5,576.7h.9v.9h-.9zM408.3,580.2h.9v.9h-.9zM390.2,591.1h.9v.9h-.9zM403.1,583.3h.9v.9h-.9zM382.9,599.8h.9v.9h-.9zM378.1,597.2h.9v.9h-.9zM383.3,599.8h.9v.9h-.9zM351.1,574.5h.9v.9h-.9zM376.7,597.3h.9v.9h-.9zM409.1,580.6h.9v.9h-.9zM396.4,593.6h.9v.9h-.9zM403.9,583.3h.9v.9h-.9zM351.6,568.3h.9v.9h-.9zM355.6,574.1h.9v.9h-.9zM366.7,594.6h.9v.9h-.9zM356.1,566.3h.9v.9h-.9zM410.5,570.1h.9v.9h-.9zM385.2,596.8h.9v.9h-.9zM378.0,598.8h.9v.9h-.9zM392.1,537.4h.9v.9h-.9zM405.0,554.0h.9v.9h-.9zM407.1,572.7h.9v.9h-.9zM384.8,599.3h.9v.9h-.9zM360.4,583.4h.9v.9h-.9zM413.7,574.2h.9v.9h-.9zM412.8,574.1h.9v.9h-.9zM406.4,544.0h.9v.9h-.9zM395.3,593.3h.9v.9h-.9zM410.1,566.7h.9v.9h-.9zM350.6,567.2h.9v.9h-.9zM396.7,536.5h.9v.9h-.9zM404.6,557.8h.9v.9h-.9zM396.0,589.2h.9v.9h-.9zM390.7,536.2h.9v.9h-.9zM374.0,599.9h.9v.9h-.9zM354.7,568.0h.9v.9h-.9zM350.3,568.3h.9v.9h-.9zM390.1,536.1h.9v.9h-.9zM351.0,568.0h.9v.9h-.9zM395.5,588.3h.9v.9h-.9zM404.0,552.1h.9v.9h-.9zM373.0,536.0h.9v.9h-.9zM354.3,546.1h.9v.9h-.9zM412.4,577.5h.9v.9h-.9zM355.6,572.6h.9v.9h-.9zM406.1,576.7h.9v.9h-.9zM394.8,537.4h.9v.9h-.9zM390.1,590.5h.9v.9h-.9zM400.8,550.7h.9v.9h-.9zM353.5,572.7h.9v.9h-.9zM402.7,589.1h.9v.9h-.9zM402.6,588.8h.9v.9h-.9zM354.6,569.2h.9v.9h-.9zM361.2,581.5h.9v.9h-.9zM358.1,542.1h.9v.9h-.9zM367.1,537.4h.9v.9h-.9zM359.0,579.6h.9v.9h-.9zM358.7,579.7h.9v.9h-.9zM371.2,598.7h.9v.9h-.9zM356.3,578.3h.9v.9h-.9zM358.4,563.5h.9v.9h-.9zM405.2,558.9h.9v.9h-.9zM387.9,594.6h.9v.9h-.9zM357.4,567.0h.9v.9h-.9zM362.7,541.0h.9v.9h-.9zM388.3,591.8h.9v.9h-.9zM409.3,571.0h.9v.9h-.9zM365.5,591.1h.9v.9h-.9zM364.8,593.0h.9v.9h-.9zM351.9,574.9h.9v.9h-.9zM388.5,597.8h.9v.9h-.9zM355.1,567.5h.9v.9h-.9zM387.6,597.0h.9v.9h-.9zM361.1,587.6h.9v.9h-.9zM390.2,594.0h.9v.9h-.9zM361.6,587.6h.9v.9h-.9zM404.7,563.2h.9v.9h-.9zM356.1,568.4h.9v.9h-.9zM353.5,574.8h.9v.9h-.9zM361.7,571.2h.9v.9h-.9zM405.8,546.5h.9v.9h-.9zM402.0,584.4h.9v.9h-.9zM405.7,546.2h.9v.9h-.9zM358.3,570.6h.9v.9h-.9zM411.5,578.4h.9v.9h-.9zM410.7,578.2h.9v.9h-.9zM378.9,535.7h.9v.9h-.9zM387.0,596.5h.9v.9h-.9zM386.9,596.1h.9v.9h-.9zM360.7,556.6h.9v.9h-.9zM354.7,553.4h.9v.9h-.9zM375.1,537.4h.9v.9h-.9zM358.2,566.0h.9v.9h-.9zM401.5,581.0h.9v.9h-.9zM391.4,596.1h.9v.9h-.9zM361.4,588.8h.9v.9h-.9zM381.2,535.7h.9v.9h-.9zM396.0,586.8h.9v.9h-.9zM397.3,588.0h.9v.9h-.9zM397.8,587.8h.9v.9h-.9zM360.8,570.7h.9v.9h-.9zM369.0,557.1h.9v.9h-.9zM411.3,579.1h.9v.9h-.9zM385.5,537.7h.9v.9h-.9zM402.3,582.8h.9v.9h-.9zM401.7,583.7h.9v.9h-.9zM398.2,585.6h.9v.9h-.9zM355.8,572.5h.9v.9h-.9zM356.3,570.6h.9v.9h-.9zM360.8,553.6h.9v.9h-.9zM405.7,566.1h.9v.9h-.9zM406.6,545.8h.9v.9h-.9zM402.4,544.6h.9v.9h-.9zM359.3,572.6h.9v.9h-.9zM364.2,589.1h.9v.9h-.9zM357.4,546.4h.9v.9h-.9zM365.6,592.3h.9v.9h-.9zM367.9,537.9h.9v.9h-.9zM395.0,586.9h.9v.9h-.9zM398.6,585.2h.9v.9h-.9zM411.4,568.3h.9v.9h-.9zM372.5,599.3h.9v.9h-.9zM399.8,541.1h.9v.9h-.9zM399.4,585.7h.9v.9h-.9zM403.4,558.8h.9v.9h-.9zM361.7,584.4h.9v.9h-.9zM361.3,554.6h.9v.9h-.9zM361.7,554.7h.9v.9h-.9zM362.0,584.2h.9v.9h-.9zM401.6,580.2h.9v.9h-.9zM399.7,583.8h.9v.9h-.9zM400.1,584.5h.9v.9h-.9zM390.2,536.5h.9v.9h-.9zM355.2,547.2h.9v.9h-.9zM355.1,546.4h.9v.9h-.9zM382.9,594.2h.9v.9h-.9zM400.8,578.7h.9v.9h-.9zM362.5,588.7h.9v.9h-.9zM409.4,568.6h.9v.9h-.9zM400.8,554.2h.9v.9h-.9zM393.7,587.0h.9v.9h-.9zM411.4,569.9h.9v.9h-.9zM407.2,571.1h.9v.9h-.9zM355.4,570.7h.9v.9h-.9zM370.8,535.2h.9v.9h-.9zM356.0,570.2h.9v.9h-.9zM369.6,535.8h.9v.9h-.9zM368.8,537.1h.9v.9h-.9zM409.2,569.8h.9v.9h-.9zM406.7,567.0h.9v.9h-.9zM396.4,584.2h.9v.9h-.9zM406.8,566.7h.9v.9h-.9zM402.0,557.6h.9v.9h-.9zM353.9,552.4h.9v.9h-.9zM407.1,568.2h.9v.9h-.9zM354.4,552.3h.9v.9h-.9zM355.4,552.9h.9v.9h-.9zM360.1,559.1h.9v.9h-.9zM357.1,577.3h.9v.9h-.9zM367.7,555.8h.9v.9h-.9zM358.6,566.9h.9v.9h-.9zM404.5,564.4h.9v.9h-.9zM357.2,551.1h.9v.9h-.9zM403.3,559.4h.9v.9h-.9zM401.8,544.1h.9v.9h-.9zM382.0,595.7h.9v.9h-.9zM382.1,596.2h.9v.9h-.9zM386.0,591.8h.9v.9h-.9zM405.4,544.8h.9v.9h-.9zM404.0,555.3h.9v.9h-.9zM362.9,585.6h.9v.9h-.9zM362.2,580.1h.9v.9h-.9zM373.4,597.5h.9v.9h-.9zM373.9,597.1h.9v.9h-.9zM403.5,553.2h.9v.9h-.9zM389.0,594.7h.9v.9h-.9zM358.1,574.7h.9v.9h-.9zM357.7,574.5h.9v.9h-.9zM381.0,596.0h.9v.9h-.9zM359.9,552.2h.9v.9h-.9zM359.1,566.1h.9v.9h-.9zM376.8,537.0h.9v.9h-.9zM372.8,536.7h.9v.9h-.9zM355.9,550.9h.9v.9h-.9zM399.9,549.7h.9v.9h-.9zM362.9,584.5h.9v.9h-.9zM359.4,559.2h.9v.9h-.9zM372.8,597.8h.9v.9h-.9zM372.2,598.0h.9v.9h-.9zM402.3,555.9h.9v.9h-.9zM366.2,539.3h.9v.9h-.9zM391.4,587.3h.9v.9h-.9zM402.9,553.4h.9v.9h-.9zM370.3,538.5h.9v.9h-.9zM385.0,592.2h.9v.9h-.9zM384.8,592.0h.9v.9h-.9zM366.1,590.2h.9v.9h-.9zM355.7,550.6h.9v.9h-.9zM358.8,568.8h.9v.9h-.9zM405.3,577.2h.9v.9h-.9zM363.9,587.4h.9v.9h-.9zM393.5,538.6h.9v.9h-.9zM394.5,538.2h.9v.9h-.9zM357.2,548.2h.9v.9h-.9zM389.1,590.4h.9v.9h-.9zM363.7,563.1h.9v.9h-.9zM360.6,568.4h.9v.9h-.9zM369.6,536.4h.9v.9h-.9zM369.0,595.2h.9v.9h-.9zM366.0,556.2h.9v.9h-.9zM368.4,594.8h.9v.9h-.9zM359.4,564.9h.9v.9h-.9zM368.7,554.9h.9v.9h-.9zM383.6,593.5h.9v.9h-.9zM403.4,561.1h.9v.9h-.9zM359.3,569.8h.9v.9h-.9zM391.0,594.6h.9v.9h-.9zM359.1,569.2h.9v.9h-.9zM358.7,569.3h.9v.9h-.9zM395.2,583.4h.9v.9h-.9zM360.9,573.4h.9v.9h-.9zM361.3,557.2h.9v.9h-.9zM402.4,559.4h.9v.9h-.9zM364.2,556.8h.9v.9h-.9zM362.0,557.8h.9v.9h-.9zM359.5,564.0h.9v.9h-.9zM364.6,587.9h.9v.9h-.9zM364.2,556.1h.9v.9h-.9zM364.6,587.2h.9v.9h-.9z" fill="rgb(110, 110, 201)" fill-opacity="0.4"/>
<path d="M390.7,595.5h.9v.9h-.9zM401.8,558.9h.9v.9h-.9zM390.7,595.6h.9v.9h-.9zM390.5,595.8h.9v.9h-.9zM382.2,538.5h.9v.9h-.9zM371.6,537.0h.9v.9h-.9zM365.9,587.8h.9v.9h-.9zM371.7,538.2h.9v.9h-.9zM379.8,594.5h.9v.9h-.9zM364.5,586.8h.9v.9h-.9zM357.8,544.3h.9v.9h-.9zM371.6,589.2h.9v.9h-.9zM393.6,586.2h.9v.9h-.9zM358.2,550.1h.9v.9h-.9zM403.9,546.9h.9v.9h-.9zM403.6,547.1h.9v.9h-.9zM403.6,546.2h.9v.9h-.9zM370.5,594.3h.9v.9h-.9zM361.4,562.0h.9v.9h-.9zM398.4,543.6h.9v.9h-.9zM402.8,555.2h.9v.9h-.9zM402.6,555.4h.9v.9h-.9zM360.1,559.8h.9v.9h-.9zM366.6,592.9h.9v.9h-.9zM364.8,540.2h.9v.9h-.9zM363.6,582.7h.9v.9h-.9zM363.8,554.8h.9v.9h-.9zM369.8,588.6h.9v.9h-.9zM370.4,588.7h.9v.9h-.9zM398.2,582.7h.9v.9h-.9zM386.4,538.4h.9v.9h-.9zM388.0,590.7h.9v.9h-.9zM360.7,548.0h.9v.9h-.9zM388.0,591.3h.9v.9h-.9zM369.3,539.4h.9v.9h-.9zM361.4,553.0h.9v.9h-.9zM361.5,552.9h.9v.9h-.9zM362.4,542.1h.9v.9h-.9zM406.5,567.0h.9v.9h-.9zM362.3,541.7h.9v.9h-.9zM359.2,574.7h.9v.9h-.9zM366.8,557.8h.9v.9h-.9zM399.0,581.6h.9v.9h-.9zM398.5,581.5h.9v.9h-.9zM400.4,579.0h.9v.9h-.9zM389.7,537.6h.9v.9h-.9zM367.1,587.5h.9v.9h-.9zM359.1,560.7h.9v.9h-.9zM359.0,560.6h.9v.9h-.9zM367.7,587.8h.9v.9h-.9zM357.6,577.2h.9v.9h-.9zM357.5,576.1h.9v.9h-.9zM364.3,585.2h.9v.9h-.9zM405.9,571.5h.9v.9h-.9zM406.5,571.6h.9v.9h-.9zM356.4,550.8h.9v.9h-.9zM371.6,590.6h.9v.9h-.9zM370.9,591.6h.9v.9h-.9zM371.8,590.1h.9v.9h-.9zM359.6,549.8h.9v.9h-.9zM357.1,549.5h.9v.9h-.9zM358.8,550.5h.9v.9h-.9zM357.3,549.6h.9v.9h-.9zM357.2,549.5h.9v.9h-.9zM387.5,538.3h.9v.9h-.9zM362.1,578.6h.9v.9h-.9zM381.3,595.3h.9v.9h-.9zM388.1,538.1h.9v.9h-.9zM361.9,578.7h.9v.9h-.9zM380.5,594.4h.9v.9h-.9zM363.8,542.3h.9v.9h-.9zM368.6,558.6h.9v.9h-.9zM363.6,557.7h.9v.9h-.9zM360.0,564.4h.9v.9h-.9zM360.1,565.1h.9v.9h-.9zM398.7,553.5h.9v.9h-.9zM405.4,573.9h.9v.9h-.9zM362.2,568.7h.9v.9h-.9zM405.3,574.0h.9v.9h-.9zM403.5,577.2h.9v.9h-.9zM404.1,576.2h.9v.9h-.9zM362.4,568.3h.9v.9h-.9zM403.5,564.0h.9v.9h-.9zM361.8,563.0h.9v.9h-.9zM361.6,564.0h.9v.9h-.9zM402.9,576.7h.9v.9h-.9zM365.3,585.2h.9v.9h-.9zM364.7,585.0h.9v.9h-.9zM402.0,545.2h.9v.9h-.9zM365.0,563.7h.9v.9h-.9zM362.7,560.2h.9v.9h-.9zM362.4,580.5h.9v.9h-.9zM382.3,593.8h.9v.9h-.9zM382.0,594.2h.9v.9h-.9zM367.0,593.4h.9v.9h-.9zM400.3,577.9h.9v.9h-.9zM367.1,593.7h.9v.9h-.9zM366.3,584.7h.9v.9h-.9zM372.2,596.1h.9v.9h-.9zM371.8,596.5h.9v.9h-.9zM404.6,573.4h.9v.9h-.9zM360.6,551.7h.9v.9h-.9zM388.7,583.7h.9v.9h-.9zM390.2,583.5h.9v.9h-.9zM372.5,589.2h.9v.9h-.9zM365.1,583.5h.9v.9h-.9zM365.7,583.9h.9v.9h-.9zM366.2,555.0h.9v.9h-.9zM400.0,549.4h.9v.9h-.9zM399.4,543.5h.9v.9h-.9zM382.2,590.7h.9v.9h-.9zM398.9,542.6h.9v.9h-.9zM382.2,590.9h.9v.9h-.9zM381.5,588.9h.9v.9h-.9zM382.1,590.7h.9v.9h-.9zM365.1,555.2h.9v.9h-.9zM403.7,564.2h.9v.9h-.9zM364.1,543.5h.9v.9h-.9zM379.0,537.1h.9v.9h-.9zM360.2,561.3h.9v.9h-.9zM360.4,560.5h.9v.9h-.9zM371.1,593.8h.9v.9h-.9zM359.1,576.1h.9v.9h-.9zM371.4,593.5h.9v.9h-.9zM359.5,576.1h.9v.9h-.9zM371.8,595.2h.9v.9h-.9zM398.6,550.4h.9v.9h-.9zM379.7,593.2h.9v.9h-.9zM399.5,559.0h.9v.9h-.9zM359.9,562.6h.9v.9h-.9zM360.3,562.5h.9v.9h-.9zM382.2,592.5h.9v.9h-.9zM362.0,566.7h.9v.9h-.9zM361.2,567.6h.9v.9h-.9zM374.1,538.6h.9v.9h-.9zM364.0,581.6h.9v.9h-.9zM365.7,582.2h.9v.9h-.9zM380.6,537.3h.9v.9h-.9zM367.9,590.3h.9v.9h-.9zM364.0,553.4h.9v.9h-.9zM400.8,576.4h.9v.9h-.9zM380.5,537.1h.9v.9h-.9zM367.1,589.4h.9v.9h-.9zM390.0,539.1h.9v.9h-.9zM390.6,539.8h.9v.9h-.9zM399.0,579.8h.9v.9h-.9zM398.5,580.0h.9v.9h-.9zM390.7,538.8h.9v.9h-.9zM393.5,586.3h.9v.9h-.9zM393.4,586.3h.9v.9h-.9zM369.9,558.9h.9v.9h-.9zM358.8,575.9h.9v.9h-.9zM397.7,539.1h.9v.9h-.9zM397.8,539.5h.9v.9h-.9zM398.0,539.6h.9v.9h-.9zM374.5,538.7h.9v.9h-.9zM374.4,538.1h.9v.9h-.9zM406.4,570.2h.9v.9h-.9zM367.2,586.6h.9v.9h-.9zM375.7,594.4h.9v.9h-.9zM398.5,579.5h.9v.9h-.9zM374.1,594.8h.9v.9h-.9zM388.9,539.4h.9v.9h-.9zM402.0,561.2h.9v.9h-.9zM385.2,590.7h.9v.9h-.9zM359.3,543.3h.9v.9h-.9zM359.4,542.7h.9v.9h-.9zM359.6,542.6h.9v.9h-.9zM385.2,591.4h.9v.9h-.9zM391.8,582.4h.9v.9h-.9zM365.3,541.7h.9v.9h-.9zM364.7,542.1h.9v.9h-.9zM399.7,555.2h.9v.9h-.9zM360.5,577.3h.9v.9h-.9zM402.5,547.0h.9v.9h-.9zM399.5,541.5h.9v.9h-.9zM398.3,541.5h.9v.9h-.9zM371.0,557.8h.9v.9h-.9zM377.2,595.2h.9v.9h-.9zM394.0,539.8h.9v.9h-.9zM391.1,582.0h.9v.9h-.9zM366.9,540.4h.9v.9h-.9zM362.6,559.0h.9v.9h-.9zM381.0,591.8h.9v.9h-.9zM362.6,558.7h.9v.9h-.9zM363.4,558.9h.9v.9h-.9zM370.1,591.7h.9v.9h-.9zM362.1,565.9h.9v.9h-.9zM370.6,592.8h.9v.9h-.9zM368.8,593.8h.9v.9h-.9zM369.1,590.2h.9v.9h-.9zM368.9,589.7h.9v.9h-.9zM359.0,544.8h.9v.9h-.9zM358.6,545.8h.9v.9h-.9zM391.8,586.5h.9v.9h-.9zM359.7,545.2h.9v.9h-.9zM359.1,545.1h.9v.9h-.9zM361.3,577.4h.9v.9h-.9zM370.3,540.4h.9v.9h-.9zM360.8,575.6h.9v.9h-.9zM360.4,575.2h.9v.9h-.9zM401.8,548.0h.9v.9h-.9zM398.1,552.7h.9v.9h-.9zM400.1,545.7h.9v.9h-.9zM379.6,537.1h.9v.9h-.9zM384.1,590.4h.9v.9h-.9zM398.1,554.3h.9v.9h-.9zM363.1,564.4h.9v.9h-.9zM383.5,588.7h.9v.9h-.9zM362.5,564.4h.9v.9h-.9zM364.5,559.4h.9v.9h-.9zM364.0,559.8h.9v.9h-.9zM363.9,560.0h.9v.9h-.9zM398.1,543.2h.9v.9h-.9zM365.1,560.5h.9v.9h-.9zM390.6,585.3h.9v.9h-.9zM367.9,590.9h.9v.9h-.9zM367.5,591.1h.9v.9h-.9zM397.8,578.8h.9v.9h-.9zM371.8,594.4h.9v.9h-.9zM361.9,543.5h.9v.9h-.9zM371.9,594.5h.9v.9h-.9zM364.5,558.3h.9v.9h-.9zM372.3,594.5h.9v.9h-.9zM361.6,542.7h.9v.9h-.9zM390.4,581.0h.9v.9h-.9zM390.5,581.3h.9v.9h-.9zM359.8,542.4h.9v.9h-.9zM386.7,539.8h.9v.9h-.9zM387.4,539.9h.9v.9h-.9zM398.3,577.7h.9v.9h-.9zM387.3,538.9h.9v.9h-.9zM360.1,549.0h.9v.9h-.9zM360.3,549.1h.9v.9h-.9zM389.3,585.5h.9v.9h-.9zM360.1,545.5h.9v.9h-.9zM398.1,552.0h.9v.9h-.9zM390.6,585.9h.9v.9h-.9zM398.0,551.1h.9v.9h-.9zM390.6,586.6h.9v.9h-.9zM366.0,563.3h.9v.9h-.9zM392.0,583.5h.9v.9h-.9zM369.3,541.1h.9v.9h-.9zM368.3,541.0h.9v.9h-.9zM380.2,589.0h.9v.9h-.9zM361.3,545.6h.9v.9h-.9zM361.5,572.7h.9v.9h-.9zM361.9,572.5h.9v.9h-.9zM366.0,558.2h.9v.9h-.9zM366.0,558.9h.9v.9h-.9zM366.7,558.6h.9v.9h-.9zM397.2,580.3h.9v.9h-.9zM364.5,545.2h.9v.9h-.9zM363.7,545.3h.9v.9h-.9zM396.1,579.5h.9v.9h-.9zM397.0,579.6h.9v.9h-.9zM364.3,545.1h.9v.9h-.9zM392.4,582.6h.9v.9h-.9zM401.1,561.2h.9v.9h-.9zM373.1,593.6h.9v.9h-.9zM381.8,588.0h.9v.9h-.9zM373.2,594.1h.9v.9h-.9zM396.0,577.8h.9v.9h-.9zM360.0,549.9h.9v.9h-.9zM371.9,539.9h.9v.9h-.9zM372.9,538.8h.9v.9h-.9zM388.1,584.4h.9v.9h-.9zM369.1,554.2h.9v.9h-.9zM397.9,577.6h.9v.9h-.9zM388.3,583.3h.9v.9h-.9zM368.9,553.7h.9v.9h-.9zM404.2,566.1h.9v.9h-.9zM393.8,583.0h.9v.9h-.9zM392.3,585.3h.9v.9h-.9zM380.7,591.3h.9v.9h-.9zM365.5,554.4h.9v.9h-.9zM389.3,587.1h.9v.9h-.9zM394.1,582.8h.9v.9h-.9zM389.8,587.2h.9v.9h-.9zM388.7,587.8h.9v.9h-.9zM393.3,584.7h.9v.9h-.9zM393.5,582.4h.9v.9h-.9zM396.0,539.8h.9v.9h-.9zM399.5,548.8h.9v.9h-.9zM367.9,540.6h.9v.9h-.9zM368.3,592.4h.9v.9h-.9zM369.0,592.1h.9v.9h-.9zM369.4,592.7h.9v.9h-.9zM367.1,541.0h.9v.9h-.9zM395.5,539.6h.9v.9h-.9zM394.8,538.9h.9v.9h-.9zM395.2,538.7h.9v.9h-.9zM374.1,592.9h.9v.9h-.9zM400.7,557.7h.9v.9h-.9zM367.6,553.9h.9v.9h-.9zM364.2,552.7h.9v.9h-.9zM399.5,557.9h.9v.9h-.9zM368.4,590.8h.9v.9h-.9zM364.0,552.8h.9v.9h-.9zM374.2,592.4h.9v.9h-.9zM400.3,556.9h.9v.9h-.9zM399.6,557.1h.9v.9h-.9zM391.3,585.1h.9v.9h-.9zM365.3,581.5h.9v.9h-.9zM402.0,562.8h.9v.9h-.9zM402.5,562.8h.9v.9h-.9zM402.8,562.3h.9v.9h-.9zM402.9,562.0h.9v.9h-.9zM402.6,563.9h.9v.9h-.9zM366.6,582.2h.9v.9h-.9zM366.7,553.9h.9v.9h-.9zM367.0,553.8h.9v.9h-.9zM366.2,561.7h.9v.9h-.9zM366.0,562.8h.9v.9h-.9zM364.5,570.1h.9v.9h-.9zM391.8,580.1h.9v.9h-.9zM363.8,570.8h.9v.9h-.9zM403.8,574.9h.9v.9h-.9zM404.0,575.8h.9v.9h-.9zM362.7,544.2h.9v.9h-.9zM398.0,550.0h.9v.9h-.9zM359.4,544.6h.9v.9h-.9zM363.1,544.4h.9v.9h-.9zM397.4,549.7h.9v.9h-.9zM362.5,543.7h.9v.9h-.9zM363.3,567.0h.9v.9h-.9zM397.5,544.9h.9v.9h-.9zM362.3,545.2h.9v.9h-.9zM363.4,545.7h.9v.9h-.9zM392.7,584.5h.9v.9h-.9zM392.7,584.1h.9v.9h-.9zM392.5,584.1h.9v.9h-.9zM369.4,586.7h.9v.9h-.9zM368.3,586.0h.9v.9h-.9zM399.9,556.3h.9v.9h-.9zM400.1,556.0h.9v.9h-.9zM364.1,580.4h.9v.9h-.9zM400.2,577.1h.9v.9h-.9zM392.5,540.7h.9v.9h-.9zM392.6,540.4h.9v.9h-.9zM388.2,588.4h.9v.9h-.9zM392.5,540.8h.9v.9h-.9zM388.3,588.9h.9v.9h-.9zM365.6,564.2h.9v.9h-.9zM365.7,564.6h.9v.9h-.9zM398.3,555.5h.9v.9h-.9zM399.5,554.5h.9v.9h-.9zM398.3,555.3h.9v.9h-.9zM373.4,590.9h.9v.9h-.9zM381.4,588.0h.9v.9h-.9zM403.0,565.1h.9v.9h-.9zM362.0,576.9h.9v.9h-.9zM368.5,559.9h.9v.9h-.9zM393.1,580.7h.9v.9h-.9zM393.9,582.0h.9v.9h-.9zM381.3,537.5h.9v.9h-.9zM381.3,538.7h.9v.9h-.9zM398.1,541.0h.9v.9h-.9zM367.9,571.6h.9v.9h-.9zM400.4,547.4h.9v.9h-.9zM398.1,539.9h.9v.9h-.9zM397.2,554.6h.9v.9h-.9zM389.3,585.9h.9v.9h-.9zM371.1,541.1h.9v.9h-.9zM388.8,581.8h.9v.9h-.9zM365.3,559.8h.9v.9h-.9zM396.9,542.6h.9v.9h-.9zM362.6,551.4h.9v.9h-.9zM362.0,544.6h.9v.9h-.9z" fill="rgb(96, 96, 197)" fill-opacity="0.4"/>
<path d="M378.4,593.0h.9v.9h-.9zM377.9,593.4h.9v.9h-.9zM404.5,571.0h.9v.9h-.9zM405.2,570.1h.9v.9h-.9zM373.8,589.8h.9v.9h-.9zM373.8,589.6h.9v.9h-.9zM373.6,589.6h.9v.9h-.9zM373.4,589.8h.9v.9h-.9zM367.2,570.2h.9v.9h-.9zM396.5,581.9h.9v.9h-.9zM391.0,580.7h.9v.9h-.9zM396.4,581.0h.9v.9h-.9zM396.4,581.3h.9v.9h-.9zM396.9,581.6h.9v.9h-.9zM396.5,581.6h.9v.9h-.9zM395.2,578.7h.9v.9h-.9zM374.6,593.7h.9v.9h-.9zM363.4,566.3h.9v.9h-.9zM363.3,566.0h.9v.9h-.9zM374.2,539.6h.9v.9h-.9zM373.4,539.2h.9v.9h-.9zM374.9,539.6h.9v.9h-.9zM370.1,554.0h.9v.9h-.9zM396.0,576.2h.9v.9h-.9zM396.3,553.3h.9v.9h-.9zM396.1,576.9h.9v.9h-.9zM398.0,541.8h.9v.9h-.9zM362.7,577.4h.9v.9h-.9zM388.1,541.0h.9v.9h-.9zM388.2,540.5h.9v.9h-.9zM397.2,541.2h.9v.9h-.9zM363.3,577.7h.9v.9h-.9zM370.4,586.4h.9v.9h-.9zM401.2,547.0h.9v.9h-.9zM401.4,546.6h.9v.9h-.9zM369.9,586.9h.9v.9h-.9zM401.3,546.5h.9v.9h-.9zM360.8,543.9h.9v.9h-.9zM360.6,544.7h.9v.9h-.9zM367.9,562.8h.9v.9h-.9zM404.7,567.7h.9v.9h-.9zM405.4,568.5h.9v.9h-.9zM390.5,578.9h.9v.9h-.9zM404.6,568.6h.9v.9h-.9zM366.6,541.5h.9v.9h-.9zM403.5,572.9h.9v.9h-.9zM403.5,572.8h.9v.9h-.9zM394.6,543.4h.9v.9h-.9zM394.5,542.7h.9v.9h-.9zM387.2,589.9h.9v.9h-.9zM386.4,590.1h.9v.9h-.9zM386.8,589.4h.9v.9h-.9zM368.1,560.0h.9v.9h-.9zM364.9,553.0h.9v.9h-.9zM369.1,579.0h.9v.9h-.9zM365.5,552.4h.9v.9h-.9zM364.9,552.7h.9v.9h-.9zM382.7,588.1h.9v.9h-.9zM383.7,587.3h.9v.9h-.9zM361.7,575.6h.9v.9h-.9zM390.0,540.4h.9v.9h-.9zM386.8,586.4h.9v.9h-.9zM386.4,586.2h.9v.9h-.9zM402.6,574.9h.9v.9h-.9zM385.8,590.3h.9v.9h-.9zM364.2,579.5h.9v.9h-.9zM383.1,541.1h.9v.9h-.9zM364.1,578.7h.9v.9h-.9zM388.1,587.2h.9v.9h-.9zM368.6,577.6h.9v.9h-.9zM369.1,578.2h.9v.9h-.9zM368.3,578.2h.9v.9h-.9zM379.0,538.6h.9v.9h-.9zM392.0,540.9h.9v.9h-.9zM394.9,581.9h.9v.9h-.9zM395.7,581.1h.9v.9h-.9zM378.9,538.4h.9v.9h-.9zM388.3,586.2h.9v.9h-.9zM388.6,586.4h.9v.9h-.9zM393.7,580.8h.9v.9h-.9zM387.5,586.3h.9v.9h-.9zM394.4,580.5h.9v.9h-.9zM366.0,577.6h.9v.9h-.9zM365.9,578.2h.9v.9h-.9zM366.9,578.5h.9v.9h-.9zM384.1,541.1h.9v.9h-.9zM384.6,540.6h.9v.9h-.9zM384.3,540.7h.9v.9h-.9zM365.0,546.5h.9v.9h-.9zM396.9,552.5h.9v.9h-.9zM396.8,552.5h.9v.9h-.9zM395.3,580.0h.9v.9h-.9zM396.6,550.9h.9v.9h-.9zM396.9,551.0h.9v.9h-.9zM366.3,551.9h.9v.9h-.9zM403.7,570.8h.9v.9h-.9zM403.5,571.1h.9v.9h-.9zM386.1,585.9h.9v.9h-.9zM367.9,552.7h.9v.9h-.9zM400.0,546.3h.9v.9h-.9zM399.7,546.6h.9v.9h-.9zM386.5,585.1h.9v.9h-.9zM368.0,552.1h.9v.9h-.9zM399.9,547.0h.9v.9h-.9zM400.4,546.9h.9v.9h-.9zM400.5,546.7h.9v.9h-.9zM386.9,585.7h.9v.9h-.9zM367.3,553.0h.9v.9h-.9zM384.5,589.0h.9v.9h-.9zM384.3,588.2h.9v.9h-.9zM398.7,548.2h.9v.9h-.9zM367.9,577.9h.9v.9h-.9zM397.9,576.2h.9v.9h-.9zM366.8,570.6h.9v.9h-.9zM364.5,551.3h.9v.9h-.9zM397.8,576.6h.9v.9h-.9zM386.1,540.9h.9v.9h-.9zM385.4,541.1h.9v.9h-.9zM395.1,543.8h.9v.9h-.9zM395.1,544.3h.9v.9h-.9zM366.3,561.1h.9v.9h-.9zM366.3,560.9h.9v.9h-.9zM365.4,577.4h.9v.9h-.9zM391.2,578.9h.9v.9h-.9zM391.1,578.7h.9v.9h-.9zM392.1,579.0h.9v.9h-.9zM379.6,591.0h.9v.9h-.9zM379.9,590.7h.9v.9h-.9zM365.0,551.4h.9v.9h-.9zM379.3,591.3h.9v.9h-.9zM371.7,585.7h.9v.9h-.9zM365.3,551.4h.9v.9h-.9zM369.6,559.4h.9v.9h-.9zM366.0,560.3h.9v.9h-.9zM370.1,576.7h.9v.9h-.9zM366.5,560.1h.9v.9h-.9zM371.5,576.7h.9v.9h-.9zM366.2,559.9h.9v.9h-.9zM370.1,576.4h.9v.9h-.9zM366.4,572.3h.9v.9h-.9zM376.6,539.6h.9v.9h-.9zM376.2,538.9h.9v.9h-.9zM393.5,550.9h.9v.9h-.9zM394.3,541.6h.9v.9h-.9zM405.4,569.9h.9v.9h-.9zM389.3,579.7h.9v.9h-.9zM364.2,578.4h.9v.9h-.9zM405.1,569.0h.9v.9h-.9zM404.5,569.0h.9v.9h-.9zM405.0,569.8h.9v.9h-.9zM364.3,567.0h.9v.9h-.9zM363.7,566.6h.9v.9h-.9zM368.5,570.4h.9v.9h-.9zM399.0,577.3h.9v.9h-.9zM388.2,581.7h.9v.9h-.9zM388.3,581.5h.9v.9h-.9zM388.4,581.7h.9v.9h-.9zM367.5,562.0h.9v.9h-.9zM393.6,553.1h.9v.9h-.9zM365.6,569.2h.9v.9h-.9zM364.7,569.6h.9v.9h-.9zM398.0,548.9h.9v.9h-.9zM395.1,576.8h.9v.9h-.9zM374.9,591.1h.9v.9h-.9zM374.3,591.5h.9v.9h-.9zM394.8,543.4h.9v.9h-.9zM364.5,565.7h.9v.9h-.9zM364.5,565.8h.9v.9h-.9zM363.8,565.6h.9v.9h-.9zM394.7,551.3h.9v.9h-.9zM375.0,591.9h.9v.9h-.9zM399.2,559.4h.9v.9h-.9zM375.4,592.7h.9v.9h-.9zM379.7,589.3h.9v.9h-.9zM379.5,588.6h.9v.9h-.9zM365.3,579.8h.9v.9h-.9zM364.8,580.9h.9v.9h-.9zM389.3,579.9h.9v.9h-.9zM365.6,570.9h.9v.9h-.9zM380.1,538.3h.9v.9h-.9zM364.9,580.7h.9v.9h-.9zM389.4,580.5h.9v.9h-.9zM366.2,579.3h.9v.9h-.9zM365.7,571.1h.9v.9h-.9zM379.8,538.3h.9v.9h-.9zM365.0,570.4h.9v.9h-.9zM364.7,579.7h.9v.9h-.9zM389.0,580.9h.9v.9h-.9zM368.6,552.6h.9v.9h-.9zM403.9,567.2h.9v.9h-.9zM368.3,553.0h.9v.9h-.9zM403.7,566.7h.9v.9h-.9zM403.7,567.1h.9v.9h-.9zM365.2,576.8h.9v.9h-.9zM387.2,581.7h.9v.9h-.9zM368.1,564.9h.9v.9h-.9zM375.5,590.5h.9v.9h-.9zM376.0,589.8h.9v.9h-.9zM367.8,564.4h.9v.9h-.9zM386.6,581.3h.9v.9h-.9zM381.2,539.2h.9v.9h-.9zM380.9,539.5h.9v.9h-.9zM394.1,543.7h.9v.9h-.9zM374.8,540.6h.9v.9h-.9zM374.3,540.1h.9v.9h-.9zM395.0,552.8h.9v.9h-.9zM387.1,588.4h.9v.9h-.9zM375.3,590.1h.9v.9h-.9zM387.3,588.4h.9v.9h-.9zM377.3,590.2h.9v.9h-.9zM377.6,590.2h.9v.9h-.9zM386.9,583.4h.9v.9h-.9zM362.1,550.1h.9v.9h-.9zM361.6,550.6h.9v.9h-.9zM396.9,540.3h.9v.9h-.9zM361.7,550.4h.9v.9h-.9zM395.6,540.0h.9v.9h-.9zM385.5,587.3h.9v.9h-.9zM385.2,587.8h.9v.9h-.9zM379.8,589.8h.9v.9h-.9zM369.1,563.4h.9v.9h-.9zM379.8,589.8h.9v.9h-.9zM379.3,589.8h.9v.9h-.9zM392.4,551.8h.9v.9h-.9zM398.8,555.8h.9v.9h-.9zM364.5,572.4h.9v.9h-.9zM393.8,579.7h.9v.9h-.9zM394.4,578.9h.9v.9h-.9zM393.7,579.2h.9v.9h-.9zM365.0,579.3h.9v.9h-.9zM365.0,579.3h.9v.9h-.9zM363.6,572.0h.9v.9h-.9zM403.1,570.0h.9v.9h-.9zM366.2,543.0h.9v.9h-.9zM366.0,542.9h.9v.9h-.9zM384.4,587.3h.9v.9h-.9zM387.2,582.6h.9v.9h-.9zM384.2,587.6h.9v.9h-.9zM386.3,582.2h.9v.9h-.9zM387.3,583.2h.9v.9h-.9zM367.5,560.6h.9v.9h-.9zM366.4,544.9h.9v.9h-.9zM368.0,561.1h.9v.9h-.9zM366.2,545.6h.9v.9h-.9zM387.4,580.6h.9v.9h-.9zM367.3,583.9h.9v.9h-.9zM402.0,570.2h.9v.9h-.9zM402.3,570.9h.9v.9h-.9zM368.4,569.6h.9v.9h-.9zM368.6,568.9h.9v.9h-.9zM365.7,549.8h.9v.9h-.9zM372.4,558.6h.9v.9h-.9zM368.3,568.1h.9v.9h-.9zM366.7,579.7h.9v.9h-.9zM377.7,588.1h.9v.9h-.9zM378.4,588.4h.9v.9h-.9zM372.0,558.4h.9v.9h-.9zM372.6,558.8h.9v.9h-.9zM379.0,588.6h.9v.9h-.9zM390.3,578.2h.9v.9h-.9zM375.0,581.6h.9v.9h-.9zM387.9,579.2h.9v.9h-.9zM379.6,588.1h.9v.9h-.9zM388.3,578.8h.9v.9h-.9zM387.7,579.3h.9v.9h-.9zM396.6,542.2h.9v.9h-.9zM392.9,578.5h.9v.9h-.9zM368.4,561.2h.9v.9h-.9zM366.0,543.8h.9v.9h-.9zM387.6,579.9h.9v.9h-.9zM366.4,544.2h.9v.9h-.9zM369.4,560.9h.9v.9h-.9zM381.4,585.8h.9v.9h-.9zM376.1,594.0h.9v.9h-.9zM374.2,587.3h.9v.9h-.9zM375.8,593.1h.9v.9h-.9zM376.3,593.4h.9v.9h-.9zM361.3,549.0h.9v.9h-.9zM361.4,549.0h.9v.9h-.9zM367.7,576.9h.9v.9h-.9zM368.9,562.1h.9v.9h-.9zM386.2,589.0h.9v.9h-.9zM368.9,541.5h.9v.9h-.9zM368.8,562.5h.9v.9h-.9zM368.0,577.1h.9v.9h-.9zM386.0,588.8h.9v.9h-.9zM385.6,588.3h.9v.9h-.9zM368.4,561.9h.9v.9h-.9zM367.9,580.6h.9v.9h-.9zM395.3,550.3h.9v.9h-.9zM370.4,569.6h.9v.9h-.9zM395.3,550.2h.9v.9h-.9zM370.6,569.6h.9v.9h-.9zM369.9,569.5h.9v.9h-.9zM367.9,579.9h.9v.9h-.9zM367.6,580.1h.9v.9h-.9zM396.5,575.3h.9v.9h-.9zM395.0,550.0h.9v.9h-.9zM399.6,561.5h.9v.9h-.9zM372.8,541.1h.9v.9h-.9zM372.8,540.7h.9v.9h-.9zM375.9,589.3h.9v.9h-.9zM376.6,588.6h.9v.9h-.9zM384.3,585.8h.9v.9h-.9zM378.7,587.9h.9v.9h-.9zM367.4,541.2h.9v.9h-.9zM378.5,589.4h.9v.9h-.9zM367.7,541.9h.9v.9h-.9zM379.0,587.7h.9v.9h-.9zM378.9,587.9h.9v.9h-.9zM380.1,559.1h.9v.9h-.9zM400.2,575.0h.9v.9h-.9zM400.6,575.6h.9v.9h-.9zM396.8,545.5h.9v.9h-.9zM372.2,557.7h.9v.9h-.9zM372.5,556.8h.9v.9h-.9zM399.8,575.0h.9v.9h-.9zM396.6,545.0h.9v.9h-.9zM395.4,553.3h.9v.9h-.9zM395.2,553.6h.9v.9h-.9zM395.5,553.3h.9v.9h-.9zM374.1,540.8h.9v.9h-.9zM395.2,553.5h.9v.9h-.9zM368.8,576.4h.9v.9h-.9zM394.7,554.7h.9v.9h-.9zM368.4,576.9h.9v.9h-.9zM369.4,551.3h.9v.9h-.9zM369.0,564.6h.9v.9h-.9zM368.5,551.2h.9v.9h-.9zM369.1,550.9h.9v.9h-.9zM362.9,576.8h.9v.9h-.9zM365.9,550.6h.9v.9h-.9zM368.5,567.5h.9v.9h-.9zM368.6,567.6h.9v.9h-.9zM363.3,576.8h.9v.9h-.9zM364.9,572.2h.9v.9h-.9zM393.9,578.4h.9v.9h-.9zM365.1,572.0h.9v.9h-.9zM394.5,578.4h.9v.9h-.9zM396.5,549.2h.9v.9h-.9zM371.7,577.7h.9v.9h-.9zM395.9,548.5h.9v.9h-.9zM362.2,573.3h.9v.9h-.9zM367.7,569.3h.9v.9h-.9zM370.8,560.2h.9v.9h-.9zM371.4,559.7h.9v.9h-.9zM371.4,560.1h.9v.9h-.9zM363.4,573.6h.9v.9h-.9zM371.7,560.2h.9v.9h-.9zM362.7,573.3h.9v.9h-.9zM362.4,573.6h.9v.9h-.9zM367.6,569.5h.9v.9h-.9zM367.9,569.1h.9v.9h-.9zM363.7,550.4h.9v.9h-.9zM402.9,571.3h.9v.9h-.9zM365.3,568.1h.9v.9h-.9zM402.0,571.3h.9v.9h-.9zM363.6,550.1h.9v.9h-.9zM365.7,567.7h.9v.9h-.9zM370.4,576.0h.9v.9h-.9zM370.2,576.0h.9v.9h-.9zM372.7,559.6h.9v.9h-.9zM378.1,590.8h.9v.9h-.9zM378.5,590.8h.9v.9h-.9zM363.0,547.9h.9v.9h-.9zM362.3,547.6h.9v.9h-.9zM377.7,593.7h.9v.9h-.9zM364.9,565.3h.9v.9h-.9zM362.8,547.2h.9v.9h-.9zM362.8,548.1h.9v.9h-.9zM362.9,547.5h.9v.9h-.9zM376.9,593.9h.9v.9h-.9zM377.3,593.2h.9v.9h-.9zM363.0,547.4h.9v.9h-.9zM402.8,565.9h.9v.9h-.9zM394.9,541.2h.9v.9h-.9zM394.7,541.4h.9v.9h-.9zM395.4,542.0h.9v.9h-.9zM394.8,541.7h.9v.9h-.9zM395.2,542.0h.9v.9h-.9zM395.4,542.3h.9v.9h-.9zM387.0,579.5h.9v.9h-.9zM375.2,588.5h.9v.9h-.9zM387.3,579.3h.9v.9h-.9zM375.0,588.2h.9v.9h-.9zM372.2,556.6h.9v.9h-.9zM372.2,556.7h.9v.9h-.9zM388.6,578.0h.9v.9h-.9zM387.5,578.0h.9v.9h-.9zM364.3,548.3h.9v.9h-.9zM364.2,547.3h.9v.9h-.9zM369.4,580.5h.9v.9h-.9zM369.0,580.5h.9v.9h-.9zM362.5,549.7h.9v.9h-.9zM362.4,550.2h.9v.9h-.9zM362.8,549.6h.9v.9h-.9zM381.1,557.4h.9v.9h-.9zM380.5,557.9h.9v.9h-.9zM397.6,575.3h.9v.9h-.9zM377.6,539.9h.9v.9h-.9zM380.9,560.3h.9v.9h-.9zM365.7,548.3h.9v.9h-.9zM377.3,539.5h.9v.9h-.9zM377.5,538.9h.9v.9h-.9zM377.6,539.8h.9v.9h-.9zM367.0,572.5h.9v.9h-.9zM402.8,574.3h.9v.9h-.9zM403.0,574.1h.9v.9h-.9zM366.1,572.7h.9v.9h-.9zM381.0,556.7h.9v.9h-.9zM402.8,573.9h.9v.9h-.9zM402.5,574.6h.9v.9h-.9zM402.5,574.5h.9v.9h-.9zM366.3,573.6h.9v.9h-.9zM380.8,556.5h.9v.9h-.9zM398.1,556.5h.9v.9h-.9zM366.3,546.7h.9v.9h-.9zM383.1,586.8h.9v.9h-.9zM397.5,556.7h.9v.9h-.9zM376.9,591.4h.9v.9h-.9zM377.3,590.9h.9v.9h-.9zM366.8,546.4h.9v.9h-.9zM383.3,585.9h.9v.9h-.9zM373.3,560.0h.9v.9h-.9zM364.4,576.6h.9v.9h-.9zM401.5,574.2h.9v.9h-.9zM400.9,574.3h.9v.9h-.9zM363.7,577.0h.9v.9h-.9zM366.1,576.0h.9v.9h-.9zM366.6,575.5h.9v.9h-.9zM379.3,555.3h.9v.9h-.9zM372.5,555.3h.9v.9h-.9zM381.2,553.9h.9v.9h-.9zM372.1,554.7h.9v.9h-.9zM372.2,554.5h.9v.9h-.9zM379.3,555.0h.9v.9h-.9zM368.6,565.4h.9v.9h-.9zM372.8,555.5h.9v.9h-.9zM379.4,554.6h.9v.9h-.9zM379.5,560.4h.9v.9h-.9zM397.6,546.9h.9v.9h-.9zM379.5,560.4h.9v.9h-.9zM402.6,573.5h.9v.9h-.9zM402.9,572.8h.9v.9h-.9zM369.3,585.4h.9v.9h-.9zM368.3,584.7h.9v.9h-.9zM378.1,585.9h.9v.9h-.9zM377.9,586.2h.9v.9h-.9zM365.2,548.5h.9v.9h-.9zM396.5,556.6h.9v.9h-.9zM365.6,548.4h.9v.9h-.9zM376.4,541.0h.9v.9h-.9zM369.7,561.0h.9v.9h-.9zM379.5,557.0h.9v.9h-.9zM380.0,557.8h.9v.9h-.9zM372.4,586.2h.9v.9h-.9zM374.4,582.4h.9v.9h-.9zM372.1,586.5h.9v.9h-.9zM380.1,557.9h.9v.9h-.9zM370.2,561.1h.9v.9h-.9zM378.2,558.9h.9v.9h-.9zM367.6,582.5h.9v.9h-.9zM370.0,563.5h.9v.9h-.9zM370.1,563.3h.9v.9h-.9zM375.6,592.7h.9v.9h-.9zM392.2,541.8h.9v.9h-.9zM391.8,542.0h.9v.9h-.9zM368.8,573.0h.9v.9h-.9zM391.8,541.3h.9v.9h-.9zM369.0,572.9h.9v.9h-.9zM392.3,541.7h.9v.9h-.9zM368.3,573.6h.9v.9h-.9zM391.1,541.7h.9v.9h-.9zM379.2,585.8h.9v.9h-.9zM380.0,586.5h.9v.9h-.9zM385.4,582.3h.9v.9h-.9zM371.0,553.2h.9v.9h-.9zM380.0,586.8h.9v.9h-.9zM401.1,563.3h.9v.9h-.9zM373.5,581.6h.9v.9h-.9zM371.4,553.7h.9v.9h-.9zM376.9,558.9h.9v.9h-.9zM386.1,580.0h.9v.9h-.9zM368.1,581.5h.9v.9h-.9zM367.1,581.6h.9v.9h-.9zM365.8,576.0h.9v.9h-.9zM367.5,581.9h.9v.9h-.9zM367.7,581.4h.9v.9h-.9zM367.2,549.9h.9v.9h-.9zM397.8,547.6h.9v.9h-.9zM367.3,550.2h.9v.9h-.9zM397.9,548.3h.9v.9h-.9zM376.6,587.4h.9v.9h-.9zM397.1,547.9h.9v.9h-.9zM367.1,550.1h.9v.9h-.9zM375.8,587.6h.9v.9h-.9zM369.8,561.7h.9v.9h-.9zM382.5,558.5h.9v.9h-.9zM370.5,571.1h.9v.9h-.9zM370.6,570.1h.9v.9h-.9zM371.0,568.8h.9v.9h-.9zM365.0,567.1h.9v.9h-.9zM363.8,549.2h.9v.9h-.9zM364.4,549.4h.9v.9h-.9zM371.7,542.0h.9v.9h-.9zM398.3,575.4h.9v.9h-.9zM398.8,575.4h.9v.9h-.9zM399.3,575.8h.9v.9h-.9zM371.4,541.8h.9v.9h-.9zM365.4,573.4h.9v.9h-.9zM398.6,575.1h.9v.9h-.9zM381.7,557.2h.9v.9h-.9zM381.9,557.6h.9v.9h-.9zM381.7,556.8h.9v.9h-.9zM382.2,554.5h.9v.9h-.9zM399.7,574.1h.9v.9h-.9zM369.3,549.9h.9v.9h-.9zM393.7,549.6h.9v.9h-.9zM394.3,550.0h.9v.9h-.9zM394.1,549.8h.9v.9h-.9zM394.2,550.3h.9v.9h-.9zM394.0,576.8h.9v.9h-.9zM393.6,576.7h.9v.9h-.9zM379.7,539.2h.9v.9h-.9zM379.8,539.6h.9v.9h-.9zM378.5,585.1h.9v.9h-.9zM378.8,585.4h.9v.9h-.9zM393.2,578.3h.9v.9h-.9zM393.1,577.7h.9v.9h-.9zM392.7,578.1h.9v.9h-.9zM367.7,575.3h.9v.9h-.9zM367.4,576.0h.9v.9h-.9zM380.2,585.6h.9v.9h-.9zM379.6,584.8h.9v.9h-.9zM379.2,585.4h.9v.9h-.9zM364.0,573.4h.9v.9h-.9zM378.3,556.9h.9v.9h-.9zM367.7,565.2h.9v.9h-.9zM378.8,556.9h.9v.9h-.9zM394.8,555.6h.9v.9h-.9zM363.7,572.7h.9v.9h-.9zM378.7,557.9h.9v.9h-.9zM385.2,583.5h.9v.9h-.9zM367.8,566.3h.9v.9h-.9zM373.3,583.0h.9v.9h-.9zM385.6,584.3h.9v.9h-.9zM385.1,583.6h.9v.9h-.9zM367.1,565.3h.9v.9h-.9zM385.7,584.4h.9v.9h-.9z" fill="rgb(82, 84, 193)" fill-opacity="0.6"/>
<path d="M371.8,574.0h.9v.9h-.9zM401.0,573.6h.9v.9h-.9zM366.3,566.2h.9v.9h-.9zM369.3,574.9h.9v.9h-.9zM362.3,575.5h.9v.9h-.9zM369.4,576.0h.9v.9h-.9zM363.0,575.3h.9v.9h-.9zM365.9,565.4h.9v.9h-.9zM366.0,565.6h.9v.9h-.9zM362.4,575.5h.9v.9h-.9zM378.2,539.9h.9v.9h-.9zM369.4,566.1h.9v.9h-.9zM363.0,548.5h.9v.9h-.9zM370.6,565.8h.9v.9h-.9zM370.1,565.7h.9v.9h-.9zM377.0,592.5h.9v.9h-.9zM377.2,592.0h.9v.9h-.9zM376.7,592.5h.9v.9h-.9zM377.5,592.3h.9v.9h-.9zM377.3,591.8h.9v.9h-.9zM369.6,564.7h.9v.9h-.9zM366.0,574.3h.9v.9h-.9zM366.0,574.9h.9v.9h-.9zM366.9,574.5h.9v.9h-.9zM369.9,565.2h.9v.9h-.9zM369.9,564.2h.9v.9h-.9zM366.3,574.6h.9v.9h-.9zM375.1,561.0h.9v.9h-.9zM394.2,553.3h.9v.9h-.9zM394.7,553.3h.9v.9h-.9zM377.7,557.0h.9v.9h-.9zM362.4,574.8h.9v.9h-.9zM363.4,574.8h.9v.9h-.9zM377.4,557.0h.9v.9h-.9zM370.3,574.5h.9v.9h-.9zM369.7,574.3h.9v.9h-.9zM374.6,559.6h.9v.9h-.9zM374.2,560.5h.9v.9h-.9zM375.3,559.6h.9v.9h-.9zM375.3,560.0h.9v.9h-.9zM374.8,559.7h.9v.9h-.9zM374.3,560.4h.9v.9h-.9zM381.4,584.9h.9v.9h-.9zM380.8,585.1h.9v.9h-.9zM380.6,584.6h.9v.9h-.9zM370.0,550.8h.9v.9h-.9zM382.4,553.7h.9v.9h-.9zM372.8,575.5h.9v.9h-.9zM372.4,575.8h.9v.9h-.9zM372.9,576.5h.9v.9h-.9zM372.4,577.0h.9v.9h-.9zM381.9,555.9h.9v.9h-.9zM382.1,556.4h.9v.9h-.9zM381.6,555.8h.9v.9h-.9zM378.9,556.6h.9v.9h-.9zM378.4,556.6h.9v.9h-.9zM378.4,556.3h.9v.9h-.9zM378.5,555.8h.9v.9h-.9zM401.4,570.8h.9v.9h-.9zM370.5,572.1h.9v.9h-.9zM400.9,571.0h.9v.9h-.9zM370.5,572.3h.9v.9h-.9zM395.0,575.4h.9v.9h-.9zM376.0,559.9h.9v.9h-.9zM376.5,560.0h.9v.9h-.9zM374.4,587.3h.9v.9h-.9zM391.0,541.2h.9v.9h-.9zM367.3,574.6h.9v.9h-.9zM390.9,542.1h.9v.9h-.9zM374.8,587.6h.9v.9h-.9zM367.4,574.5h.9v.9h-.9zM374.9,587.4h.9v.9h-.9zM364.8,574.6h.9v.9h-.9zM374.8,587.7h.9v.9h-.9zM377.3,559.7h.9v.9h-.9zM377.9,559.8h.9v.9h-.9zM378.0,559.5h.9v.9h-.9zM376.5,586.9h.9v.9h-.9zM378.5,560.0h.9v.9h-.9zM378.5,559.9h.9v.9h-.9zM376.6,586.6h.9v.9h-.9zM368.0,567.7h.9v.9h-.9zM376.6,585.7h.9v.9h-.9zM368.2,568.8h.9v.9h-.9zM402.5,568.7h.9v.9h-.9zM374.9,580.5h.9v.9h-.9zM366.9,548.4h.9v.9h-.9zM403.0,568.7h.9v.9h-.9zM401.9,567.9h.9v.9h-.9zM374.5,579.9h.9v.9h-.9zM367.0,549.5h.9v.9h-.9zM391.3,543.1h.9v.9h-.9zM369.7,550.7h.9v.9h-.9zM369.5,549.7h.9v.9h-.9zM377.2,585.6h.9v.9h-.9zM366.6,548.2h.9v.9h-.9zM376.9,585.1h.9v.9h-.9zM365.9,547.7h.9v.9h-.9zM401.1,571.9h.9v.9h-.9zM366.9,548.3h.9v.9h-.9zM365.9,548.3h.9v.9h-.9zM371.6,569.2h.9v.9h-.9zM401.7,571.6h.9v.9h-.9zM401.0,571.5h.9v.9h-.9zM384.5,585.4h.9v.9h-.9zM370.3,584.6h.9v.9h-.9zM369.7,584.6h.9v.9h-.9zM375.2,559.1h.9v.9h-.9zM375.3,558.3h.9v.9h-.9zM374.9,558.3h.9v.9h-.9zM368.7,574.3h.9v.9h-.9zM376.5,557.7h.9v.9h-.9zM376.0,558.0h.9v.9h-.9zM369.2,573.9h.9v.9h-.9zM376.0,557.9h.9v.9h-.9zM376.6,557.6h.9v.9h-.9zM376.0,557.5h.9v.9h-.9zM369.5,579.7h.9v.9h-.9zM368.2,573.9h.9v.9h-.9zM370.5,580.9h.9v.9h-.9zM378.4,584.2h.9v.9h-.9zM384.3,581.2h.9v.9h-.9zM384.1,582.0h.9v.9h-.9zM392.0,551.0h.9v.9h-.9zM378.8,555.5h.9v.9h-.9zM378.0,555.4h.9v.9h-.9zM391.1,551.4h.9v.9h-.9zM375.8,556.3h.9v.9h-.9zM383.8,556.8h.9v.9h-.9zM382.9,557.7h.9v.9h-.9zM376.2,555.8h.9v.9h-.9zM373.9,557.1h.9v.9h-.9zM373.1,557.5h.9v.9h-.9zM374.1,557.8h.9v.9h-.9zM371.0,560.5h.9v.9h-.9zM371.7,560.9h.9v.9h-.9zM374.1,554.8h.9v.9h-.9zM369.8,572.8h.9v.9h-.9zM370.6,573.2h.9v.9h-.9zM370.1,573.4h.9v.9h-.9zM364.3,575.6h.9v.9h-.9zM364.0,575.2h.9v.9h-.9zM364.1,575.3h.9v.9h-.9zM363.9,574.9h.9v.9h-.9zM370.7,567.5h.9v.9h-.9zM400.9,569.2h.9v.9h-.9zM379.8,553.6h.9v.9h-.9zM371.8,567.4h.9v.9h-.9zM371.8,566.5h.9v.9h-.9zM380.2,553.9h.9v.9h-.9zM375.5,580.1h.9v.9h-.9zM376.0,580.9h.9v.9h-.9zM387.9,576.7h.9v.9h-.9zM388.1,576.5h.9v.9h-.9zM388.5,576.6h.9v.9h-.9zM381.3,541.0h.9v.9h-.9zM380.7,540.1h.9v.9h-.9zM381.3,540.4h.9v.9h-.9zM366.8,568.0h.9v.9h-.9zM366.1,567.9h.9v.9h-.9zM366.8,568.0h.9v.9h-.9zM366.5,568.5h.9v.9h-.9zM387.4,576.7h.9v.9h-.9zM380.1,570.0h.9v.9h-.9zM387.5,542.0h.9v.9h-.9zM373.0,561.0h.9v.9h-.9zM388.3,541.6h.9v.9h-.9zM386.4,576.9h.9v.9h-.9zM387.8,542.1h.9v.9h-.9zM381.2,569.3h.9v.9h-.9zM381.1,569.1h.9v.9h-.9zM381.3,569.4h.9v.9h-.9zM368.0,542.9h.9v.9h-.9zM402.6,567.4h.9v.9h-.9zM402.9,566.5h.9v.9h-.9zM367.6,543.1h.9v.9h-.9zM401.9,566.9h.9v.9h-.9zM377.1,580.9h.9v.9h-.9zM376.5,583.0h.9v.9h-.9zM367.7,567.1h.9v.9h-.9zM382.3,585.7h.9v.9h-.9zM376.4,582.6h.9v.9h-.9zM382.3,584.5h.9v.9h-.9zM376.0,582.3h.9v.9h-.9zM367.2,566.6h.9v.9h-.9zM397.1,556.9h.9v.9h-.9zM398.0,559.1h.9v.9h-.9zM398.0,557.7h.9v.9h-.9zM386.7,541.4h.9v.9h-.9zM385.2,542.3h.9v.9h-.9zM387.2,542.2h.9v.9h-.9zM397.4,556.9h.9v.9h-.9zM369.0,581.7h.9v.9h-.9zM398.1,557.8h.9v.9h-.9zM386.2,541.7h.9v.9h-.9zM397.1,559.2h.9v.9h-.9zM374.0,573.6h.9v.9h-.9zM373.3,572.9h.9v.9h-.9zM372.7,574.2h.9v.9h-.9zM373.9,573.1h.9v.9h-.9zM372.1,574.0h.9v.9h-.9zM372.5,574.3h.9v.9h-.9zM372.4,573.9h.9v.9h-.9zM375.2,557.1h.9v.9h-.9zM374.2,572.1h.9v.9h-.9zM392.0,552.0h.9v.9h-.9zM385.3,578.7h.9v.9h-.9zM382.3,579.6h.9v.9h-.9zM391.4,552.4h.9v.9h-.9zM382.5,579.0h.9v.9h-.9zM385.8,579.3h.9v.9h-.9zM376.4,561.4h.9v.9h-.9zM376.0,561.2h.9v.9h-.9zM376.6,561.3h.9v.9h-.9zM382.4,578.4h.9v.9h-.9zM381.9,578.4h.9v.9h-.9zM364.4,573.8h.9v.9h-.9zM364.2,574.0h.9v.9h-.9zM363.8,574.6h.9v.9h-.9zM377.1,555.3h.9v.9h-.9zM373.1,542.0h.9v.9h-.9zM376.8,555.6h.9v.9h-.9zM373.4,542.3h.9v.9h-.9zM373.7,542.3h.9v.9h-.9zM374.7,554.5h.9v.9h-.9zM375.4,555.5h.9v.9h-.9zM381.4,571.0h.9v.9h-.9zM373.4,556.0h.9v.9h-.9zM373.4,556.0h.9v.9h-.9zM373.6,555.9h.9v.9h-.9zM373.9,556.2h.9v.9h-.9zM375.4,556.2h.9v.9h-.9zM374.8,556.1h.9v.9h-.9zM372.2,553.3h.9v.9h-.9zM396.4,547.8h.9v.9h-.9zM396.7,547.8h.9v.9h-.9zM396.9,547.4h.9v.9h-.9zM399.8,573.5h.9v.9h-.9zM382.0,559.4h.9v.9h-.9zM383.5,559.0h.9v.9h-.9zM382.6,559.7h.9v.9h-.9zM381.6,559.9h.9v.9h-.9zM382.1,559.8h.9v.9h-.9zM383.9,582.8h.9v.9h-.9zM394.6,545.2h.9v.9h-.9zM394.4,545.7h.9v.9h-.9zM393.9,545.5h.9v.9h-.9zM394.1,545.8h.9v.9h-.9zM375.3,573.1h.9v.9h-.9zM371.9,573.1h.9v.9h-.9zM375.8,555.5h.9v.9h-.9zM372.4,572.5h.9v.9h-.9zM375.5,555.0h.9v.9h-.9zM373.3,586.6h.9v.9h-.9zM399.3,574.0h.9v.9h-.9zM374.2,586.4h.9v.9h-.9zM373.6,585.9h.9v.9h-.9zM399.0,574.4h.9v.9h-.9zM399.3,574.8h.9v.9h-.9zM371.9,541.5h.9v.9h-.9zM371.6,579.1h.9v.9h-.9zM372.0,542.0h.9v.9h-.9zM370.8,578.7h.9v.9h-.9zM372.4,541.9h.9v.9h-.9zM372.9,541.6h.9v.9h-.9zM370.8,572.9h.9v.9h-.9zM371.4,573.5h.9v.9h-.9zM380.8,584.4h.9v.9h-.9zM371.3,585.1h.9v.9h-.9zM371.4,584.9h.9v.9h-.9zM380.3,583.9h.9v.9h-.9zM393.6,555.4h.9v.9h-.9zM393.8,554.6h.9v.9h-.9zM393.8,554.8h.9v.9h-.9zM371.1,570.4h.9v.9h-.9zM372.2,571.8h.9v.9h-.9zM376.5,584.7h.9v.9h-.9zM372.4,571.6h.9v.9h-.9zM370.8,570.4h.9v.9h-.9zM376.1,585.0h.9v.9h-.9zM392.4,576.4h.9v.9h-.9zM392.7,576.5h.9v.9h-.9zM378.3,582.3h.9v.9h-.9zM374.0,553.4h.9v.9h-.9zM378.0,583.2h.9v.9h-.9zM389.8,577.0h.9v.9h-.9zM389.8,577.2h.9v.9h-.9zM389.8,576.7h.9v.9h-.9zM368.9,542.7h.9v.9h-.9zM368.3,542.8h.9v.9h-.9zM368.9,542.6h.9v.9h-.9zM369.1,543.2h.9v.9h-.9zM368.8,584.0h.9v.9h-.9zM368.3,584.3h.9v.9h-.9zM367.9,548.9h.9v.9h-.9zM368.3,584.5h.9v.9h-.9zM368.4,584.2h.9v.9h-.9zM368.9,583.5h.9v.9h-.9zM368.0,548.9h.9v.9h-.9zM368.3,583.4h.9v.9h-.9zM367.8,549.6h.9v.9h-.9zM367.3,548.9h.9v.9h-.9zM366.3,566.9h.9v.9h-.9zM366.2,567.4h.9v.9h-.9zM379.4,560.6h.9v.9h-.9zM366.2,566.8h.9v.9h-.9zM366.7,567.4h.9v.9h-.9zM383.2,555.3h.9v.9h-.9zM382.9,555.1h.9v.9h-.9zM383.5,555.2h.9v.9h-.9zM383.5,554.7h.9v.9h-.9zM382.8,554.8h.9v.9h-.9zM383.4,554.8h.9v.9h-.9zM394.7,548.2h.9v.9h-.9zM382.3,580.8h.9v.9h-.9zM383.0,556.1h.9v.9h-.9zM383.1,585.5h.9v.9h-.9zM397.6,574.4h.9v.9h-.9zM382.8,584.8h.9v.9h-.9zM383.8,584.7h.9v.9h-.9zM383.7,584.7h.9v.9h-.9zM382.9,584.6h.9v.9h-.9zM372.9,582.5h.9v.9h-.9zM372.6,583.2h.9v.9h-.9zM375.0,584.3h.9v.9h-.9zM372.7,581.9h.9v.9h-.9zM370.3,542.5h.9v.9h-.9zM379.8,582.5h.9v.9h-.9zM370.5,542.9h.9v.9h-.9zM396.8,574.6h.9v.9h-.9zM396.6,574.2h.9v.9h-.9zM380.2,582.8h.9v.9h-.9zM396.1,546.1h.9v.9h-.9zM396.5,546.9h.9v.9h-.9zM396.3,546.9h.9v.9h-.9zM395.9,546.0h.9v.9h-.9zM395.9,546.5h.9v.9h-.9zM396.3,546.7h.9v.9h-.9zM396.8,546.2h.9v.9h-.9zM393.4,554.0h.9v.9h-.9zM393.2,554.0h.9v.9h-.9zM374.8,586.4h.9v.9h-.9zM371.6,562.1h.9v.9h-.9zM385.8,578.0h.9v.9h-.9zM371.6,562.6h.9v.9h-.9zM374.3,586.7h.9v.9h-.9zM386.0,577.7h.9v.9h-.9zM371.8,562.8h.9v.9h-.9zM379.8,570.8h.9v.9h-.9zM371.4,572.2h.9v.9h-.9zM373.5,580.4h.9v.9h-.9zM370.8,572.2h.9v.9h-.9zM370.7,571.7h.9v.9h-.9zM391.0,576.3h.9v.9h-.9zM373.2,579.9h.9v.9h-.9zM379.8,570.1h.9v.9h-.9zM371.5,571.5h.9v.9h-.9zM390.4,577.3h.9v.9h-.9zM373.9,579.8h.9v.9h-.9zM384.5,579.8h.9v.9h-.9zM397.4,559.4h.9v.9h-.9zM372.6,578.4h.9v.9h-.9zM372.4,577.9h.9v.9h-.9zM384.3,580.4h.9v.9h-.9zM384.8,580.5h.9v.9h-.9zM384.4,580.5h.9v.9h-.9zM375.1,572.2h.9v.9h-.9zM380.2,564.9h.9v.9h-.9zM375.2,571.7h.9v.9h-.9zM375.2,571.9h.9v.9h-.9zM370.3,581.6h.9v.9h-.9zM369.7,581.1h.9v.9h-.9zM385.0,541.3h.9v.9h-.9zM384.1,542.2h.9v.9h-.9zM379.7,568.0h.9v.9h-.9zM373.7,574.7h.9v.9h-.9zM373.3,574.5h.9v.9h-.9zM379.8,568.4h.9v.9h-.9zM368.3,548.5h.9v.9h-.9zM369.3,548.9h.9v.9h-.9zM391.6,576.3h.9v.9h-.9zM391.5,576.2h.9v.9h-.9zM391.3,576.9h.9v.9h-.9zM391.6,576.6h.9v.9h-.9zM394.4,556.2h.9v.9h-.9zM393.5,556.5h.9v.9h-.9zM387.1,575.0h.9v.9h-.9zM387.2,575.2h.9v.9h-.9zM382.6,576.4h.9v.9h-.9zM376.9,540.6h.9v.9h-.9zM368.1,547.0h.9v.9h-.9zM376.8,541.1h.9v.9h-.9zM367.2,546.5h.9v.9h-.9zM368.2,544.6h.9v.9h-.9zM367.1,543.7h.9v.9h-.9zM367.1,544.3h.9v.9h-.9zM367.4,543.9h.9v.9h-.9zM367.5,543.6h.9v.9h-.9zM384.9,583.4h.9v.9h-.9zM384.9,584.2h.9v.9h-.9zM384.2,584.3h.9v.9h-.9zM384.6,583.5h.9v.9h-.9zM382.8,581.9h.9v.9h-.9zM368.8,582.6h.9v.9h-.9zM383.4,581.3h.9v.9h-.9zM368.7,582.5h.9v.9h-.9zM383.4,581.6h.9v.9h-.9zM368.3,582.6h.9v.9h-.9zM368.3,583.3h.9v.9h-.9zM377.4,582.4h.9v.9h-.9zM377.6,583.3h.9v.9h-.9zM377.5,582.1h.9v.9h-.9zM377.7,582.2h.9v.9h-.9zM377.2,582.3h.9v.9h-.9zM377.6,584.2h.9v.9h-.9zM377.7,584.4h.9v.9h-.9zM382.7,553.4h.9v.9h-.9zM377.4,583.7h.9v.9h-.9zM383.1,553.7h.9v.9h-.9zM384.8,554.4h.9v.9h-.9zM384.1,554.9h.9v.9h-.9zM378.3,569.0h.9v.9h-.9zM375.3,574.8h.9v.9h-.9zM383.5,576.9h.9v.9h-.9zM383.2,576.2h.9v.9h-.9zM376.3,583.6h.9v.9h-.9zM376.3,583.7h.9v.9h-.9zM376.6,584.5h.9v.9h-.9zM393.6,548.9h.9v.9h-.9zM383.8,580.5h.9v.9h-.9zM375.6,583.9h.9v.9h-.9zM382.8,580.6h.9v.9h-.9zM394.2,548.7h.9v.9h-.9zM377.9,568.2h.9v.9h-.9zM378.8,568.9h.9v.9h-.9zM377.5,580.1h.9v.9h-.9zM373.0,570.1h.9v.9h-.9zM372.5,570.1h.9v.9h-.9zM372.1,570.3h.9v.9h-.9zM368.0,547.9h.9v.9h-.9zM385.4,576.5h.9v.9h-.9zM378.2,581.3h.9v.9h-.9zM382.4,568.9h.9v.9h-.9zM382.7,569.4h.9v.9h-.9zM377.9,581.6h.9v.9h-.9zM386.2,576.2h.9v.9h-.9zM386.1,576.6h.9v.9h-.9zM378.5,581.1h.9v.9h-.9zM381.7,569.7h.9v.9h-.9zM385.5,576.9h.9v.9h-.9zM401.2,565.6h.9v.9h-.9zM374.9,562.4h.9v.9h-.9zM400.8,566.3h.9v.9h-.9zM380.6,579.4h.9v.9h-.9zM400.7,565.7h.9v.9h-.9zM371.4,582.2h.9v.9h-.9zM395.8,546.6h.9v.9h-.9zM371.7,582.3h.9v.9h-.9zM395.5,546.1h.9v.9h-.9zM376.5,573.1h.9v.9h-.9zM377.1,561.1h.9v.9h-.9zM399.9,562.1h.9v.9h-.9zM400.4,562.4h.9v.9h-.9zM400.7,562.3h.9v.9h-.9zM376.2,573.3h.9v.9h-.9zM377.1,561.6h.9v.9h-.9zM376.0,572.7h.9v.9h-.9zM375.7,573.4h.9v.9h-.9zM400.6,561.7h.9v.9h-.9zM378.8,553.7h.9v.9h-.9zM383.3,577.7h.9v.9h-.9zM374.4,554.1h.9v.9h-.9zM382.8,577.3h.9v.9h-.9zM375.2,554.2h.9v.9h-.9zM382.9,577.9h.9v.9h-.9zM374.7,553.5h.9v.9h-.9zM371.6,566.4h.9v.9h-.9zM370.9,566.0h.9v.9h-.9zM371.2,565.8h.9v.9h-.9zM370.8,564.4h.9v.9h-.9zM374.6,585.2h.9v.9h-.9zM374.5,585.2h.9v.9h-.9zM371.2,564.5h.9v.9h-.9zM384.9,557.3h.9v.9h-.9zM384.3,557.2h.9v.9h-.9zM370.5,583.6h.9v.9h-.9zM369.6,582.2h.9v.9h-.9zM399.1,561.5h.9v.9h-.9zM371.2,581.2h.9v.9h-.9zM371.8,581.2h.9v.9h-.9zM369.5,582.3h.9v.9h-.9zM393.6,575.8h.9v.9h-.9zM399.3,560.9h.9v.9h-.9zM370.8,581.6h.9v.9h-.9zM393.9,574.9h.9v.9h-.9zM393.5,575.9h.9v.9h-.9zM381.7,570.6h.9v.9h-.9zM369.7,549.2h.9v.9h-.9zM373.8,583.6h.9v.9h-.9zM381.6,583.7h.9v.9h-.9zM374.1,584.4h.9v.9h-.9zM373.4,583.5h.9v.9h-.9zM374.2,583.9h.9v.9h-.9zM382.2,583.7h.9v.9h-.9zM381.0,568.5h.9v.9h-.9zM380.6,568.5h.9v.9h-.9zM376.0,571.4h.9v.9h-.9zM376.0,572.4h.9v.9h-.9zM376.2,571.6h.9v.9h-.9zM379.3,540.7h.9v.9h-.9zM378.8,560.9h.9v.9h-.9zM383.4,582.1h.9v.9h-.9zM378.7,560.9h.9v.9h-.9zM382.9,582.4h.9v.9h-.9zM383.4,582.6h.9v.9h-.9zM378.2,561.1h.9v.9h-.9zM379.6,541.1h.9v.9h-.9zM382.8,582.9h.9v.9h-.9zM391.8,544.5h.9v.9h-.9zM401.7,568.1h.9v.9h-.9zM380.5,552.1h.9v.9h-.9zM401.3,568.7h.9v.9h-.9zM401.7,568.0h.9v.9h-.9zM401.6,567.9h.9v.9h-.9zM382.1,580.9h.9v.9h-.9zM382.3,581.1h.9v.9h-.9zM388.4,575.8h.9v.9h-.9zM385.0,556.4h.9v.9h-.9zM384.3,556.7h.9v.9h-.9zM383.5,579.5h.9v.9h-.9zM380.4,564.8h.9v.9h-.9zM380.7,564.5h.9v.9h-.9zM384.5,556.7h.9v.9h-.9zM383.8,579.7h.9v.9h-.9zM383.4,579.5h.9v.9h-.9zM380.5,564.0h.9v.9h-.9zM380.8,563.3h.9v.9h-.9zM380.4,563.6h.9v.9h-.9zM380.5,579.9h.9v.9h-.9zM380.9,580.2h.9v.9h-.9zM381.0,562.9h.9v.9h-.9zM380.8,562.4h.9v.9h-.9zM380.9,562.8h.9v.9h-.9zM380.6,582.3h.9v.9h-.9zM380.6,562.7h.9v.9h-.9zM380.8,583.1h.9v.9h-.9zM381.0,582.5h.9v.9h-.9zM380.6,583.1h.9v.9h-.9zM380.6,582.6h.9v.9h-.9zM381.1,562.0h.9v.9h-.9zM377.6,572.4h.9v.9h-.9zM371.2,553.0h.9v.9h-.9zM371.0,553.0h.9v.9h-.9zM371.4,553.2h.9v.9h-.9zM370.7,552.9h.9v.9h-.9zM371.0,552.3h.9v.9h-.9zM390.2,553.0h.9v.9h-.9zM390.1,552.1h.9v.9h-.9zM390.4,552.4h.9v.9h-.9zM371.1,583.7h.9v.9h-.9zM370.8,583.9h.9v.9h-.9zM371.6,584.0h.9v.9h-.9zM370.7,583.6h.9v.9h-.9zM373.1,575.2h.9v.9h-.9zM380.2,565.4h.9v.9h-.9zM378.8,570.1h.9v.9h-.9zM378.8,571.1h.9v.9h-.9zM378.0,570.7h.9v.9h-.9zM373.2,575.3h.9v.9h-.9zM377.9,571.0h.9v.9h-.9zM379.0,570.5h.9v.9h-.9zM386.3,574.0h.9v.9h-.9zM380.0,565.9h.9v.9h-.9zM373.6,575.8h.9v.9h-.9zM382.1,561.6h.9v.9h-.9zM382.5,561.3h.9v.9h-.9zM382.6,561.5h.9v.9h-.9zM381.6,560.5h.9v.9h-.9zM378.4,572.3h.9v.9h-.9zM378.7,572.2h.9v.9h-.9zM378.5,572.0h.9v.9h-.9zM372.5,585.6h.9v.9h-.9zM387.4,563.6h.9v.9h-.9zM386.4,563.3h.9v.9h-.9zM372.1,585.2h.9v.9h-.9zM372.7,584.9h.9v.9h-.9zM371.4,580.8h.9v.9h-.9zM371.7,580.2h.9v.9h-.9zM400.0,571.6h.9v.9h-.9zM371.2,580.1h.9v.9h-.9zM399.8,571.5h.9v.9h-.9zM385.3,554.0h.9v.9h-.9zM371.3,580.0h.9v.9h-.9zM400.2,572.5h.9v.9h-.9zM371.4,580.3h.9v.9h-.9zM386.8,565.2h.9v.9h-.9zM387.1,564.7h.9v.9h-.9zM379.1,562.4h.9v.9h-.9zM379.3,562.1h.9v.9h-.9zM379.1,561.8h.9v.9h-.9zM379.1,561.9h.9v.9h-.9zM380.2,562.5h.9v.9h-.9z" fill="rgb(70, 80, 187)" fill-opacity="0.6"/>
<path d="M383.5,541.5h.9v.9h-.9zM383.1,583.7h.9v.9h-.9zM383.1,584.3h.9v.9h-.9zM383.1,584.3h.9v.9h-.9zM383.8,541.8h.9v.9h-.9zM379.2,571.4h.9v.9h-.9zM380.1,571.5h.9v.9h-.9zM371.7,550.3h.9v.9h-.9zM379.9,572.3h.9v.9h-.9zM375.6,567.4h.9v.9h-.9zM376.2,567.2h.9v.9h-.9zM375.6,566.9h.9v.9h-.9zM384.0,577.3h.9v.9h-.9zM384.4,576.5h.9v.9h-.9zM382.0,583.3h.9v.9h-.9zM372.5,569.2h.9v.9h-.9zM371.9,569.2h.9v.9h-.9zM372.0,569.6h.9v.9h-.9zM389.9,551.1h.9v.9h-.9zM372.1,568.9h.9v.9h-.9zM390.4,551.6h.9v.9h-.9zM396.6,557.7h.9v.9h-.9zM396.0,557.3h.9v.9h-.9zM371.2,542.7h.9v.9h-.9zM396.4,557.6h.9v.9h-.9zM396.2,557.4h.9v.9h-.9zM371.1,542.7h.9v.9h-.9zM371.7,543.1h.9v.9h-.9zM370.9,543.0h.9v.9h-.9zM396.2,557.6h.9v.9h-.9zM375.0,578.7h.9v.9h-.9zM377.8,568.4h.9v.9h-.9zM375.0,579.1h.9v.9h-.9zM377.5,568.6h.9v.9h-.9zM376.6,574.0h.9v.9h-.9zM376.6,573.8h.9v.9h-.9zM375.2,578.8h.9v.9h-.9zM375.6,541.5h.9v.9h-.9zM378.1,540.3h.9v.9h-.9zM378.4,540.1h.9v.9h-.9zM378.8,540.5h.9v.9h-.9zM372.5,568.2h.9v.9h-.9zM390.9,553.6h.9v.9h-.9zM390.5,553.4h.9v.9h-.9zM390.3,553.3h.9v.9h-.9zM373.0,568.3h.9v.9h-.9zM389.9,554.2h.9v.9h-.9zM390.2,553.3h.9v.9h-.9zM372.7,567.8h.9v.9h-.9zM389.5,553.7h.9v.9h-.9zM389.7,553.5h.9v.9h-.9zM391.9,553.8h.9v.9h-.9zM399.7,570.9h.9v.9h-.9zM391.3,553.9h.9v.9h-.9zM385.5,563.2h.9v.9h-.9zM385.4,563.1h.9v.9h-.9zM382.2,562.4h.9v.9h-.9zM392.2,553.8h.9v.9h-.9zM385.9,563.4h.9v.9h-.9zM400.6,570.9h.9v.9h-.9zM382.0,562.3h.9v.9h-.9zM384.5,579.4h.9v.9h-.9zM384.6,579.7h.9v.9h-.9zM380.6,578.4h.9v.9h-.9zM385.0,579.6h.9v.9h-.9zM384.7,579.4h.9v.9h-.9zM379.3,567.6h.9v.9h-.9zM379.4,567.0h.9v.9h-.9zM392.6,545.7h.9v.9h-.9zM392.8,545.1h.9v.9h-.9zM392.4,544.9h.9v.9h-.9zM385.5,555.1h.9v.9h-.9zM385.4,554.6h.9v.9h-.9zM377.8,553.5h.9v.9h-.9zM373.4,585.1h.9v.9h-.9zM379.7,581.7h.9v.9h-.9zM384.2,577.7h.9v.9h-.9zM373.9,584.9h.9v.9h-.9zM384.0,577.7h.9v.9h-.9zM373.3,584.9h.9v.9h-.9zM377.2,554.0h.9v.9h-.9zM377.2,553.9h.9v.9h-.9zM384.9,578.0h.9v.9h-.9zM384.8,578.0h.9v.9h-.9zM373.5,585.7h.9v.9h-.9zM376.7,573.0h.9v.9h-.9zM377.3,573.0h.9v.9h-.9zM372.6,583.9h.9v.9h-.9zM377.2,567.3h.9v.9h-.9zM372.7,583.5h.9v.9h-.9zM372.3,583.6h.9v.9h-.9zM372.9,584.0h.9v.9h-.9zM381.1,572.3h.9v.9h-.9zM392.6,575.6h.9v.9h-.9zM380.8,571.3h.9v.9h-.9zM380.8,572.3h.9v.9h-.9zM380.9,571.5h.9v.9h-.9zM380.9,581.8h.9v.9h-.9zM381.1,582.0h.9v.9h-.9zM380.6,581.0h.9v.9h-.9zM380.9,581.9h.9v.9h-.9zM380.9,581.1h.9v.9h-.9zM374.0,561.7h.9v.9h-.9zM374.0,562.5h.9v.9h-.9zM400.3,569.2h.9v.9h-.9zM399.8,569.6h.9v.9h-.9zM385.1,564.8h.9v.9h-.9zM399.8,569.7h.9v.9h-.9zM373.0,580.8h.9v.9h-.9zM372.9,580.6h.9v.9h-.9zM372.0,579.8h.9v.9h-.9zM372.4,580.5h.9v.9h-.9zM376.2,554.0h.9v.9h-.9zM376.1,554.0h.9v.9h-.9zM374.0,578.5h.9v.9h-.9zM376.4,554.2h.9v.9h-.9zM371.4,550.9h.9v.9h-.9zM370.8,551.8h.9v.9h-.9zM371.3,550.9h.9v.9h-.9zM381.9,562.9h.9v.9h-.9zM374.0,576.1h.9v.9h-.9zM381.7,563.5h.9v.9h-.9zM401.5,567.2h.9v.9h-.9zM401.7,567.4h.9v.9h-.9zM401.3,567.2h.9v.9h-.9zM394.7,574.7h.9v.9h-.9zM394.7,574.6h.9v.9h-.9zM395.2,574.4h.9v.9h-.9zM391.4,549.8h.9v.9h-.9zM391.4,549.7h.9v.9h-.9zM391.3,549.7h.9v.9h-.9zM372.6,579.0h.9v.9h-.9zM372.8,578.9h.9v.9h-.9zM371.9,579.3h.9v.9h-.9zM372.2,578.8h.9v.9h-.9zM372.0,579.2h.9v.9h-.9zM374.5,570.2h.9v.9h-.9zM372.6,562.2h.9v.9h-.9zM372.7,561.7h.9v.9h-.9zM372.1,562.4h.9v.9h-.9zM375.2,570.5h.9v.9h-.9zM374.7,570.5h.9v.9h-.9zM375.0,570.9h.9v.9h-.9zM372.4,562.2h.9v.9h-.9zM373.0,562.8h.9v.9h-.9zM372.8,561.9h.9v.9h-.9zM385.5,575.5h.9v.9h-.9zM385.3,574.9h.9v.9h-.9zM382.4,552.7h.9v.9h-.9zM382.2,552.1h.9v.9h-.9zM389.1,553.1h.9v.9h-.9zM384.8,558.2h.9v.9h-.9zM385.0,558.6h.9v.9h-.9zM389.7,552.1h.9v.9h-.9zM378.7,566.4h.9v.9h-.9zM392.5,555.6h.9v.9h-.9zM378.7,567.6h.9v.9h-.9zM393.4,554.7h.9v.9h-.9zM378.4,567.3h.9v.9h-.9zM392.5,554.7h.9v.9h-.9zM393.0,555.5h.9v.9h-.9zM378.0,566.7h.9v.9h-.9zM378.1,567.5h.9v.9h-.9zM378.4,567.6h.9v.9h-.9zM391.0,543.1h.9v.9h-.9zM390.5,542.7h.9v.9h-.9zM390.8,542.5h.9v.9h-.9zM390.5,543.1h.9v.9h-.9zM377.9,563.8h.9v.9h-.9zM378.6,563.1h.9v.9h-.9zM390.5,543.4h.9v.9h-.9zM395.4,557.1h.9v.9h-.9zM383.8,559.6h.9v.9h-.9zM382.9,560.3h.9v.9h-.9zM383.9,560.3h.9v.9h-.9zM377.0,570.7h.9v.9h-.9zM377.7,570.1h.9v.9h-.9zM378.3,562.1h.9v.9h-.9zM373.8,577.7h.9v.9h-.9zM374.1,578.1h.9v.9h-.9zM373.9,577.3h.9v.9h-.9zM377.3,571.1h.9v.9h-.9zM378.9,561.8h.9v.9h-.9zM373.8,577.4h.9v.9h-.9zM378.2,562.6h.9v.9h-.9zM373.3,577.6h.9v.9h-.9zM381.3,565.8h.9v.9h-.9zM372.2,567.1h.9v.9h-.9zM378.7,580.2h.9v.9h-.9zM378.1,580.5h.9v.9h-.9zM378.8,580.5h.9v.9h-.9zM376.8,562.6h.9v.9h-.9zM368.7,544.5h.9v.9h-.9zM376.7,562.3h.9v.9h-.9zM377.2,562.0h.9v.9h-.9zM377.1,562.4h.9v.9h-.9zM369.2,543.8h.9v.9h-.9zM377.6,562.1h.9v.9h-.9zM377.1,562.6h.9v.9h-.9zM393.5,547.5h.9v.9h-.9zM394.0,548.2h.9v.9h-.9zM394.5,548.0h.9v.9h-.9zM394.2,546.7h.9v.9h-.9zM392.1,575.2h.9v.9h-.9zM393.5,547.1h.9v.9h-.9zM391.4,575.3h.9v.9h-.9zM391.8,575.8h.9v.9h-.9zM391.6,575.8h.9v.9h-.9zM392.1,575.2h.9v.9h-.9zM393.9,546.7h.9v.9h-.9zM374.8,575.1h.9v.9h-.9zM375.2,575.4h.9v.9h-.9zM374.4,575.4h.9v.9h-.9zM374.8,575.8h.9v.9h-.9zM378.7,572.6h.9v.9h-.9zM393.4,555.7h.9v.9h-.9zM392.7,556.1h.9v.9h-.9zM380.2,553.0h.9v.9h-.9zM379.8,552.8h.9v.9h-.9zM380.2,553.1h.9v.9h-.9zM379.6,552.5h.9v.9h-.9zM379.6,552.3h.9v.9h-.9zM376.7,569.4h.9v.9h-.9zM377.6,569.0h.9v.9h-.9zM377.0,569.7h.9v.9h-.9zM382.2,568.3h.9v.9h-.9zM386.8,572.7h.9v.9h-.9zM387.0,573.6h.9v.9h-.9zM368.4,547.2h.9v.9h-.9zM368.5,548.1h.9v.9h-.9zM379.0,565.0h.9v.9h-.9zM378.9,565.0h.9v.9h-.9zM378.6,564.6h.9v.9h-.9zM369.4,547.7h.9v.9h-.9zM381.2,566.7h.9v.9h-.9zM380.3,567.0h.9v.9h-.9zM381.0,567.2h.9v.9h-.9zM380.7,567.5h.9v.9h-.9zM379.5,579.8h.9v.9h-.9zM380.0,580.2h.9v.9h-.9zM399.2,572.5h.9v.9h-.9zM379.7,580.3h.9v.9h-.9zM379.1,580.2h.9v.9h-.9zM380.0,580.3h.9v.9h-.9zM388.4,555.6h.9v.9h-.9zM387.6,554.4h.9v.9h-.9zM387.7,555.3h.9v.9h-.9zM388.0,555.1h.9v.9h-.9zM376.3,579.5h.9v.9h-.9zM375.6,578.6h.9v.9h-.9zM376.6,578.6h.9v.9h-.9zM387.7,574.7h.9v.9h-.9zM375.6,578.7h.9v.9h-.9zM371.8,548.4h.9v.9h-.9zM371.1,549.0h.9v.9h-.9zM376.2,570.9h.9v.9h-.9zM371.2,548.4h.9v.9h-.9zM371.3,548.5h.9v.9h-.9zM389.6,556.7h.9v.9h-.9zM389.1,555.6h.9v.9h-.9zM388.7,555.6h.9v.9h-.9zM389.6,556.6h.9v.9h-.9zM389.5,555.9h.9v.9h-.9zM383.7,563.5h.9v.9h-.9zM389.5,551.7h.9v.9h-.9zM389.7,551.0h.9v.9h-.9zM383.6,575.4h.9v.9h-.9zM394.5,557.8h.9v.9h-.9zM394.0,557.5h.9v.9h-.9zM393.6,557.2h.9v.9h-.9zM383.3,575.7h.9v.9h-.9zM392.1,555.2h.9v.9h-.9zM391.4,554.5h.9v.9h-.9zM390.7,556.6h.9v.9h-.9zM391.7,555.3h.9v.9h-.9zM390.2,556.0h.9v.9h-.9zM391.4,555.4h.9v.9h-.9zM391.9,555.3h.9v.9h-.9zM391.9,555.6h.9v.9h-.9zM376.6,575.8h.9v.9h-.9zM374.4,567.2h.9v.9h-.9zM375.8,575.8h.9v.9h-.9zM375.1,567.1h.9v.9h-.9zM376.3,575.7h.9v.9h-.9zM374.7,567.1h.9v.9h-.9zM376.2,568.8h.9v.9h-.9zM399.9,563.9h.9v.9h-.9zM400.3,563.9h.9v.9h-.9zM400.2,563.0h.9v.9h-.9zM383.5,569.1h.9v.9h-.9zM383.3,569.7h.9v.9h-.9zM373.6,552.3h.9v.9h-.9zM385.0,563.3h.9v.9h-.9zM384.0,563.1h.9v.9h-.9zM384.6,563.6h.9v.9h-.9zM381.7,574.9h.9v.9h-.9zM381.5,575.2h.9v.9h-.9zM382.3,575.2h.9v.9h-.9zM382.1,542.2h.9v.9h-.9zM382.0,541.4h.9v.9h-.9zM381.5,541.6h.9v.9h-.9zM382.1,541.6h.9v.9h-.9zM388.3,551.2h.9v.9h-.9zM388.0,551.0h.9v.9h-.9zM385.2,556.0h.9v.9h-.9zM385.1,556.8h.9v.9h-.9zM386.0,556.3h.9v.9h-.9zM385.2,556.2h.9v.9h-.9zM385.9,555.9h.9v.9h-.9zM379.0,566.3h.9v.9h-.9zM372.3,552.4h.9v.9h-.9zM372.0,552.3h.9v.9h-.9zM377.9,565.8h.9v.9h-.9zM373.0,553.2h.9v.9h-.9zM372.5,553.1h.9v.9h-.9zM372.9,552.6h.9v.9h-.9zM378.1,566.2h.9v.9h-.9zM379.1,572.6h.9v.9h-.9zM379.2,572.8h.9v.9h-.9zM388.6,553.9h.9v.9h-.9zM387.7,554.0h.9v.9h-.9zM388.2,553.4h.9v.9h-.9zM384.8,575.1h.9v.9h-.9zM384.4,575.5h.9v.9h-.9zM388.0,552.7h.9v.9h-.9zM391.9,556.4h.9v.9h-.9zM391.6,556.0h.9v.9h-.9zM388.5,552.7h.9v.9h-.9zM388.6,553.0h.9v.9h-.9zM387.8,552.7h.9v.9h-.9zM388.2,552.0h.9v.9h-.9zM383.3,561.6h.9v.9h-.9zM383.5,561.7h.9v.9h-.9zM388.8,576.1h.9v.9h-.9zM389.0,575.0h.9v.9h-.9zM388.9,575.4h.9v.9h-.9zM388.7,575.4h.9v.9h-.9zM389.7,575.7h.9v.9h-.9zM375.3,578.2h.9v.9h-.9zM386.6,554.2h.9v.9h-.9zM386.6,553.9h.9v.9h-.9zM399.7,568.7h.9v.9h-.9zM383.1,570.6h.9v.9h-.9zM383.8,570.5h.9v.9h-.9zM387.4,553.9h.9v.9h-.9zM400.4,568.7h.9v.9h-.9zM386.4,554.1h.9v.9h-.9zM383.1,571.2h.9v.9h-.9zM383.8,570.4h.9v.9h-.9zM373.6,569.0h.9v.9h-.9zM386.7,555.2h.9v.9h-.9zM373.3,569.2h.9v.9h-.9zM386.8,555.4h.9v.9h-.9zM387.3,554.8h.9v.9h-.9zM386.7,555.0h.9v.9h-.9zM373.1,570.0h.9v.9h-.9zM373.4,569.7h.9v.9h-.9zM373.6,569.4h.9v.9h-.9zM373.1,569.5h.9v.9h-.9zM386.6,555.5h.9v.9h-.9zM380.6,576.8h.9v.9h-.9zM380.7,576.9h.9v.9h-.9zM374.7,552.7h.9v.9h-.9zM375.4,552.8h.9v.9h-.9zM374.8,552.7h.9v.9h-.9zM386.2,562.4h.9v.9h-.9zM390.6,575.2h.9v.9h-.9zM390.7,575.7h.9v.9h-.9zM377.9,552.7h.9v.9h-.9zM378.6,552.0h.9v.9h-.9zM378.5,552.1h.9v.9h-.9zM382.5,564.3h.9v.9h-.9zM382.6,564.8h.9v.9h-.9zM382.6,564.4h.9v.9h-.9zM381.7,565.1h.9v.9h-.9zM372.3,565.5h.9v.9h-.9zM372.9,565.4h.9v.9h-.9zM372.6,565.9h.9v.9h-.9zM373.0,566.1h.9v.9h-.9zM372.9,565.7h.9v.9h-.9zM385.9,574.6h.9v.9h-.9zM385.9,574.5h.9v.9h-.9zM386.3,562.4h.9v.9h-.9zM384.4,565.0h.9v.9h-.9zM385.6,574.9h.9v.9h-.9zM374.7,566.4h.9v.9h-.9zM384.4,565.1h.9v.9h-.9zM385.2,574.5h.9v.9h-.9zM386.8,562.7h.9v.9h-.9zM385.3,574.2h.9v.9h-.9zM385.0,564.1h.9v.9h-.9zM387.3,562.0h.9v.9h-.9zM385.7,574.6h.9v.9h-.9zM385.9,572.0h.9v.9h-.9zM385.5,572.5h.9v.9h-.9zM386.2,571.7h.9v.9h-.9zM385.4,571.7h.9v.9h-.9zM374.3,576.6h.9v.9h-.9zM375.3,577.3h.9v.9h-.9zM374.5,577.0h.9v.9h-.9zM374.8,576.6h.9v.9h-.9zM374.9,576.2h.9v.9h-.9zM375.2,576.2h.9v.9h-.9zM374.7,576.6h.9v.9h-.9zM386.7,552.2h.9v.9h-.9zM386.3,552.4h.9v.9h-.9zM386.5,553.1h.9v.9h-.9zM377.7,565.7h.9v.9h-.9zM377.5,565.8h.9v.9h-.9zM377.1,566.1h.9v.9h-.9zM377.6,565.4h.9v.9h-.9zM392.2,574.6h.9v.9h-.9zM393.1,574.0h.9v.9h-.9zM393.2,574.7h.9v.9h-.9zM391.6,574.9h.9v.9h-.9zM380.0,579.4h.9v.9h-.9zM379.7,579.0h.9v.9h-.9zM380.2,579.0h.9v.9h-.9zM370.0,543.9h.9v.9h-.9zM395.9,558.9h.9v.9h-.9zM396.2,558.3h.9v.9h-.9zM396.6,558.5h.9v.9h-.9zM396.4,558.2h.9v.9h-.9zM386.3,565.6h.9v.9h-.9zM372.4,563.3h.9v.9h-.9zM372.2,563.1h.9v.9h-.9zM386.6,565.9h.9v.9h-.9zM372.5,564.0h.9v.9h-.9zM372.2,563.2h.9v.9h-.9zM386.6,566.2h.9v.9h-.9zM385.6,573.3h.9v.9h-.9zM373.1,567.1h.9v.9h-.9zM374.1,567.5h.9v.9h-.9zM385.3,573.0h.9v.9h-.9zM373.5,566.9h.9v.9h-.9zM373.6,567.2h.9v.9h-.9zM373.7,566.9h.9v.9h-.9zM387.9,556.1h.9v.9h-.9zM383.8,561.3h.9v.9h-.9zM383.0,560.6h.9v.9h-.9zM382.9,561.6h.9v.9h-.9zM369.4,545.8h.9v.9h-.9zM393.2,556.9h.9v.9h-.9zM368.8,545.7h.9v.9h-.9zM369.1,544.9h.9v.9h-.9zM392.5,557.2h.9v.9h-.9zM393.0,557.0h.9v.9h-.9zM368.6,545.8h.9v.9h-.9zM376.9,573.8h.9v.9h-.9zM377.1,563.1h.9v.9h-.9zM377.2,574.6h.9v.9h-.9zM377.6,574.8h.9v.9h-.9zM376.9,573.7h.9v.9h-.9zM394.0,574.8h.9v.9h-.9zM394.2,574.8h.9v.9h-.9zM393.9,573.7h.9v.9h-.9zM393.6,573.9h.9v.9h-.9zM394.5,574.6h.9v.9h-.9zM394.3,574.5h.9v.9h-.9zM393.8,574.1h.9v.9h-.9zM377.8,553.1h.9v.9h-.9zM377.7,552.9h.9v.9h-.9zM377.7,553.0h.9v.9h-.9zM376.7,553.0h.9v.9h-.9zM377.0,552.3h.9v.9h-.9zM375.5,569.9h.9v.9h-.9zM376.5,569.2h.9v.9h-.9zM375.8,568.9h.9v.9h-.9zM375.5,569.8h.9v.9h-.9zM376.6,568.9h.9v.9h-.9zM375.8,569.7h.9v.9h-.9zM376.4,569.0h.9v.9h-.9zM376.6,569.0h.9v.9h-.9zM397.4,560.4h.9v.9h-.9zM397.8,561.4h.9v.9h-.9zM397.9,561.4h.9v.9h-.9zM397.6,560.6h.9v.9h-.9zM397.9,560.6h.9v.9h-.9zM373.2,568.5h.9v.9h-.9zM386.6,551.1h.9v.9h-.9zM387.3,551.1h.9v.9h-.9zM386.6,551.4h.9v.9h-.9zM374.0,568.5h.9v.9h-.9zM385.0,570.1h.9v.9h-.9zM384.2,570.1h.9v.9h-.9zM384.6,570.4h.9v.9h-.9zM369.2,546.6h.9v.9h-.9zM368.3,546.6h.9v.9h-.9zM369.1,546.5h.9v.9h-.9zM369.3,546.8h.9v.9h-.9zM372.1,564.4h.9v.9h-.9zM372.7,564.7h.9v.9h-.9zM382.9,568.5h.9v.9h-.9zM383.0,567.9h.9v.9h-.9zM376.2,563.7h.9v.9h-.9zM383.4,568.6h.9v.9h-.9zM382.8,568.2h.9v.9h-.9zM376.0,563.8h.9v.9h-.9zM375.8,563.9h.9v.9h-.9zM375.6,576.5h.9v.9h-.9zM376.6,562.9h.9v.9h-.9zM374.2,569.7h.9v.9h-.9zM374.3,568.6h.9v.9h-.9zM374.8,568.6h.9v.9h-.9zM374.4,568.6h.9v.9h-.9zM375.1,567.8h.9v.9h-.9zM374.7,568.1h.9v.9h-.9zM388.9,543.3h.9v.9h-.9zM389.2,542.7h.9v.9h-.9zM376.3,553.1h.9v.9h-.9zM376.4,552.0h.9v.9h-.9zM376.2,552.2h.9v.9h-.9zM376.4,552.8h.9v.9h-.9zM377.6,579.7h.9v.9h-.9zM377.3,579.6h.9v.9h-.9zM377.8,578.6h.9v.9h-.9zM377.1,578.7h.9v.9h-.9zM385.5,552.1h.9v.9h-.9zM386.0,552.8h.9v.9h-.9zM392.7,548.9h.9v.9h-.9zM393.4,549.3h.9v.9h-.9zM392.4,549.2h.9v.9h-.9zM392.8,549.0h.9v.9h-.9zM386.9,571.3h.9v.9h-.9zM387.4,571.7h.9v.9h-.9zM385.2,565.8h.9v.9h-.9zM386.0,565.8h.9v.9h-.9zM385.7,566.2h.9v.9h-.9zM385.1,565.6h.9v.9h-.9zM400.5,565.2h.9v.9h-.9zM399.7,565.2h.9v.9h-.9zM400.5,565.0h.9v.9h-.9zM400.1,564.8h.9v.9h-.9zM400.6,564.5h.9v.9h-.9zM400.3,564.4h.9v.9h-.9zM390.8,550.1h.9v.9h-.9zM390.5,549.7h.9v.9h-.9zM383.5,564.5h.9v.9h-.9zM390.3,549.6h.9v.9h-.9zM383.0,565.0h.9v.9h-.9zM383.0,564.7h.9v.9h-.9zM391.0,550.1h.9v.9h-.9zM383.3,564.1h.9v.9h-.9zM384.3,562.6h.9v.9h-.9zM385.0,562.3h.9v.9h-.9zM384.9,561.9h.9v.9h-.9zM384.0,561.7h.9v.9h-.9zM385.0,562.6h.9v.9h-.9zM384.9,562.6h.9v.9h-.9zM384.4,561.7h.9v.9h-.9zM374.1,543.2h.9v.9h-.9zM373.6,542.8h.9v.9h-.9zM373.5,542.6h.9v.9h-.9zM369.9,547.5h.9v.9h-.9zM370.2,548.2h.9v.9h-.9zM370.1,547.8h.9v.9h-.9zM369.8,547.8h.9v.9h-.9zM370.1,547.9h.9v.9h-.9zM387.5,573.0h.9v.9h-.9zM384.7,559.9h.9v.9h-.9zM384.2,559.6h.9v.9h-.9zM388.3,572.8h.9v.9h-.9zM384.5,559.5h.9v.9h-.9zM384.0,559.5h.9v.9h-.9zM388.0,572.5h.9v.9h-.9z" fill="rgb(58, 76, 181)" fill-opacity="0.6"/>
<path d="M384.1,569.0h.9v.9h-.9zM387.3,555.9h.9v.9h-.9zM384.7,569.5h.9v.9h-.9zM384.7,569.6h.9v.9h-.9zM384.3,569.6h.9v.9h-.9zM384.1,569.2h.9v.9h-.9zM387.2,555.9h.9v.9h-.9zM376.3,578.3h.9v.9h-.9zM381.0,573.5h.9v.9h-.9zM380.8,573.5h.9v.9h-.9zM376.6,578.0h.9v.9h-.9zM375.6,577.6h.9v.9h-.9zM381.4,572.6h.9v.9h-.9zM399.7,566.6h.9v.9h-.9zM371.9,550.0h.9v.9h-.9zM399.5,566.8h.9v.9h-.9zM372.3,550.5h.9v.9h-.9zM399.7,567.3h.9v.9h-.9zM399.8,567.5h.9v.9h-.9zM396.8,559.7h.9v.9h-.9zM387.8,550.0h.9v.9h-.9zM388.2,549.8h.9v.9h-.9zM388.5,549.6h.9v.9h-.9zM388.1,550.2h.9v.9h-.9zM386.8,549.7h.9v.9h-.9zM374.8,563.7h.9v.9h-.9zM374.7,563.7h.9v.9h-.9zM382.2,567.4h.9v.9h-.9zM382.0,567.3h.9v.9h-.9zM375.1,563.4h.9v.9h-.9zM373.2,565.6h.9v.9h-.9zM382.2,567.0h.9v.9h-.9zM373.6,566.1h.9v.9h-.9zM373.8,565.5h.9v.9h-.9zM382.4,566.8h.9v.9h-.9zM381.6,567.3h.9v.9h-.9zM382.3,566.8h.9v.9h-.9zM374.9,563.8h.9v.9h-.9zM380.8,541.2h.9v.9h-.9zM384.7,572.1h.9v.9h-.9zM384.5,571.3h.9v.9h-.9zM384.9,571.3h.9v.9h-.9zM377.2,565.1h.9v.9h-.9zM377.1,565.1h.9v.9h-.9zM376.8,564.1h.9v.9h-.9zM377.8,564.5h.9v.9h-.9zM377.7,564.2h.9v.9h-.9zM376.7,564.4h.9v.9h-.9zM377.0,564.4h.9v.9h-.9zM377.4,564.1h.9v.9h-.9zM397.5,572.6h.9v.9h-.9zM398.0,572.7h.9v.9h-.9zM397.3,573.3h.9v.9h-.9zM397.3,573.4h.9v.9h-.9zM397.2,573.6h.9v.9h-.9zM372.5,551.5h.9v.9h-.9zM372.2,550.8h.9v.9h-.9zM372.4,551.6h.9v.9h-.9zM372.7,551.6h.9v.9h-.9zM373.0,550.9h.9v.9h-.9zM372.2,551.6h.9v.9h-.9zM378.1,578.9h.9v.9h-.9zM379.0,579.4h.9v.9h-.9zM378.5,579.6h.9v.9h-.9zM388.4,564.6h.9v.9h-.9zM387.5,564.2h.9v.9h-.9zM391.5,557.8h.9v.9h-.9zM391.6,557.6h.9v.9h-.9zM391.6,556.8h.9v.9h-.9zM399.8,566.2h.9v.9h-.9zM399.9,565.3h.9v.9h-.9zM376.4,564.0h.9v.9h-.9zM380.8,575.8h.9v.9h-.9zM381.3,575.9h.9v.9h-.9zM380.9,576.0h.9v.9h-.9zM383.8,552.6h.9v.9h-.9zM383.7,552.3h.9v.9h-.9zM383.1,552.5h.9v.9h-.9zM376.4,564.3h.9v.9h-.9zM383.8,553.0h.9v.9h-.9zM376.5,564.4h.9v.9h-.9zM382.6,565.3h.9v.9h-.9zM381.9,565.5h.9v.9h-.9zM382.1,566.4h.9v.9h-.9zM382.3,565.5h.9v.9h-.9zM382.5,566.3h.9v.9h-.9zM383.7,571.5h.9v.9h-.9zM385.4,570.1h.9v.9h-.9zM383.3,571.3h.9v.9h-.9zM382.8,571.8h.9v.9h-.9zM385.6,569.7h.9v.9h-.9zM383.4,571.9h.9v.9h-.9zM382.7,572.2h.9v.9h-.9zM383.4,572.4h.9v.9h-.9zM385.2,569.8h.9v.9h-.9zM398.4,569.0h.9v.9h-.9zM398.8,569.7h.9v.9h-.9zM398.9,569.7h.9v.9h-.9zM398.9,569.1h.9v.9h-.9zM374.3,542.6h.9v.9h-.9zM375.1,543.0h.9v.9h-.9zM389.0,550.7h.9v.9h-.9zM389.6,549.6h.9v.9h-.9zM389.9,550.5h.9v.9h-.9zM389.5,550.1h.9v.9h-.9zM377.8,575.2h.9v.9h-.9zM372.2,548.6h.9v.9h-.9zM372.0,549.2h.9v.9h-.9zM372.3,548.9h.9v.9h-.9zM372.1,548.9h.9v.9h-.9zM390.1,574.1h.9v.9h-.9zM390.7,574.1h.9v.9h-.9zM384.0,560.5h.9v.9h-.9zM398.4,562.8h.9v.9h-.9zM384.4,561.5h.9v.9h-.9zM398.4,562.5h.9v.9h-.9zM399.3,562.5h.9v.9h-.9zM399.2,562.4h.9v.9h-.9zM384.4,561.2h.9v.9h-.9zM398.3,562.5h.9v.9h-.9zM399.3,562.7h.9v.9h-.9zM384.4,560.7h.9v.9h-.9zM373.2,563.4h.9v.9h-.9zM373.1,563.0h.9v.9h-.9zM373.3,562.9h.9v.9h-.9zM373.7,563.5h.9v.9h-.9zM373.1,563.0h.9v.9h-.9zM399.0,572.1h.9v.9h-.9zM398.8,571.9h.9v.9h-.9zM398.5,571.9h.9v.9h-.9zM399.2,572.4h.9v.9h-.9zM398.4,572.2h.9v.9h-.9zM398.6,572.0h.9v.9h-.9zM385.7,561.3h.9v.9h-.9zM380.4,551.6h.9v.9h-.9zM385.9,561.0h.9v.9h-.9zM381.3,551.1h.9v.9h-.9zM385.4,561.4h.9v.9h-.9zM380.8,551.2h.9v.9h-.9zM385.6,561.4h.9v.9h-.9zM396.7,573.6h.9v.9h-.9zM396.9,573.7h.9v.9h-.9zM384.6,565.4h.9v.9h-.9zM384.6,565.3h.9v.9h-.9zM392.2,573.0h.9v.9h-.9zM391.4,573.1h.9v.9h-.9zM391.8,572.9h.9v.9h-.9zM385.0,566.1h.9v.9h-.9zM391.5,572.9h.9v.9h-.9zM392.1,572.6h.9v.9h-.9zM384.1,565.5h.9v.9h-.9zM371.5,544.3h.9v.9h-.9zM371.0,544.0h.9v.9h-.9zM371.2,544.2h.9v.9h-.9zM371.8,544.5h.9v.9h-.9zM388.9,574.2h.9v.9h-.9zM389.5,573.8h.9v.9h-.9zM389.8,574.3h.9v.9h-.9zM389.5,573.8h.9v.9h-.9zM389.5,574.3h.9v.9h-.9zM388.7,574.6h.9v.9h-.9zM389.8,574.7h.9v.9h-.9zM387.9,563.1h.9v.9h-.9zM398.9,570.3h.9v.9h-.9zM384.1,552.5h.9v.9h-.9zM384.6,552.7h.9v.9h-.9zM398.7,571.1h.9v.9h-.9zM387.7,564.0h.9v.9h-.9zM377.6,541.6h.9v.9h-.9zM376.8,541.9h.9v.9h-.9zM377.0,541.7h.9v.9h-.9zM387.2,570.9h.9v.9h-.9zM386.4,571.1h.9v.9h-.9zM383.9,568.2h.9v.9h-.9zM391.7,545.1h.9v.9h-.9zM387.0,570.7h.9v.9h-.9zM392.0,545.3h.9v.9h-.9zM387.0,570.2h.9v.9h-.9zM384.0,568.5h.9v.9h-.9zM387.1,571.1h.9v.9h-.9zM387.3,570.9h.9v.9h-.9zM386.9,570.3h.9v.9h-.9zM373.5,550.9h.9v.9h-.9zM373.1,551.7h.9v.9h-.9zM371.2,547.2h.9v.9h-.9zM373.4,551.3h.9v.9h-.9zM374.6,564.9h.9v.9h-.9zM374.3,564.7h.9v.9h-.9zM375.3,565.1h.9v.9h-.9zM371.5,548.0h.9v.9h-.9zM374.8,565.1h.9v.9h-.9zM375.0,564.5h.9v.9h-.9zM374.5,564.4h.9v.9h-.9zM384.2,574.8h.9v.9h-.9zM384.5,574.6h.9v.9h-.9zM383.9,573.8h.9v.9h-.9zM384.5,574.9h.9v.9h-.9zM384.6,573.9h.9v.9h-.9zM384.6,574.7h.9v.9h-.9zM378.6,573.9h.9v.9h-.9zM378.1,574.2h.9v.9h-.9zM378.8,573.9h.9v.9h-.9zM380.1,577.9h.9v.9h-.9zM378.9,574.3h.9v.9h-.9zM378.1,574.1h.9v.9h-.9zM380.2,577.6h.9v.9h-.9zM378.3,574.3h.9v.9h-.9zM379.1,578.3h.9v.9h-.9zM379.2,578.3h.9v.9h-.9zM379.6,578.2h.9v.9h-.9zM379.9,578.1h.9v.9h-.9zM380.0,577.4h.9v.9h-.9zM390.5,557.5h.9v.9h-.9zM380.3,574.6h.9v.9h-.9zM381.4,574.1h.9v.9h-.9zM390.1,556.9h.9v.9h-.9zM390.5,557.7h.9v.9h-.9zM380.5,573.8h.9v.9h-.9zM390.5,556.9h.9v.9h-.9zM380.3,574.7h.9v.9h-.9zM380.4,574.5h.9v.9h-.9zM389.9,557.6h.9v.9h-.9zM374.4,551.7h.9v.9h-.9zM375.3,550.9h.9v.9h-.9zM374.6,550.8h.9v.9h-.9zM374.4,551.3h.9v.9h-.9zM374.6,551.6h.9v.9h-.9zM375.4,552.0h.9v.9h-.9zM393.4,573.1h.9v.9h-.9zM393.4,572.6h.9v.9h-.9zM393.2,572.6h.9v.9h-.9zM383.3,567.6h.9v.9h-.9zM382.8,567.1h.9v.9h-.9zM387.7,565.6h.9v.9h-.9zM388.3,566.0h.9v.9h-.9zM379.4,574.2h.9v.9h-.9zM380.2,574.6h.9v.9h-.9zM388.2,542.8h.9v.9h-.9zM388.0,542.7h.9v.9h-.9zM388.5,542.5h.9v.9h-.9zM387.8,542.5h.9v.9h-.9zM388.6,543.2h.9v.9h-.9zM387.8,543.3h.9v.9h-.9zM379.5,541.2h.9v.9h-.9zM379.7,541.9h.9v.9h-.9zM379.3,542.1h.9v.9h-.9zM379.1,541.2h.9v.9h-.9zM376.1,550.8h.9v.9h-.9zM377.0,576.9h.9v.9h-.9zM376.4,550.9h.9v.9h-.9zM376.7,576.7h.9v.9h-.9zM377.5,576.1h.9v.9h-.9zM382.5,574.6h.9v.9h-.9zM382.4,574.8h.9v.9h-.9zM381.9,574.1h.9v.9h-.9zM382.5,574.1h.9v.9h-.9zM384.3,572.9h.9v.9h-.9zM384.2,573.4h.9v.9h-.9zM384.6,573.2h.9v.9h-.9zM398.9,567.7h.9v.9h-.9zM398.3,567.7h.9v.9h-.9zM398.3,568.1h.9v.9h-.9zM399.0,568.9h.9v.9h-.9zM373.2,565.1h.9v.9h-.9zM374.1,564.6h.9v.9h-.9zM373.7,565.2h.9v.9h-.9zM373.9,565.0h.9v.9h-.9zM374.1,564.1h.9v.9h-.9zM383.6,565.5h.9v.9h-.9zM383.4,566.2h.9v.9h-.9zM383.6,565.3h.9v.9h-.9zM392.8,546.8h.9v.9h-.9zM392.6,546.4h.9v.9h-.9zM393.2,546.9h.9v.9h-.9zM383.0,566.2h.9v.9h-.9zM393.1,547.0h.9v.9h-.9zM390.3,544.5h.9v.9h-.9zM390.9,543.6h.9v.9h-.9zM390.2,544.3h.9v.9h-.9zM391.0,544.6h.9v.9h-.9zM383.8,574.4h.9v.9h-.9zM383.5,574.1h.9v.9h-.9zM382.9,574.7h.9v.9h-.9zM390.3,543.8h.9v.9h-.9zM383.1,574.7h.9v.9h-.9zM382.0,573.0h.9v.9h-.9zM382.0,572.7h.9v.9h-.9zM382.6,573.2h.9v.9h-.9zM382.5,572.8h.9v.9h-.9zM382.4,573.6h.9v.9h-.9zM381.5,573.0h.9v.9h-.9zM387.9,571.9h.9v.9h-.9zM387.6,572.1h.9v.9h-.9zM388.4,572.2h.9v.9h-.9zM387.9,571.6h.9v.9h-.9zM387.7,571.4h.9v.9h-.9zM376.7,577.3h.9v.9h-.9zM377.4,577.4h.9v.9h-.9zM377.4,578.3h.9v.9h-.9zM377.4,577.8h.9v.9h-.9zM384.8,542.5h.9v.9h-.9zM376.7,577.9h.9v.9h-.9zM384.3,543.5h.9v.9h-.9zM377.0,578.1h.9v.9h-.9zM384.1,543.1h.9v.9h-.9zM377.8,577.6h.9v.9h-.9zM385.5,542.4h.9v.9h-.9zM380.0,551.2h.9v.9h-.9zM379.2,551.3h.9v.9h-.9zM379.4,551.9h.9v.9h-.9zM379.6,551.3h.9v.9h-.9zM380.0,551.6h.9v.9h-.9zM385.5,567.2h.9v.9h-.9zM385.4,566.5h.9v.9h-.9zM385.8,567.0h.9v.9h-.9zM377.1,550.8h.9v.9h-.9zM385.6,566.5h.9v.9h-.9zM376.8,551.4h.9v.9h-.9zM395.0,573.6h.9v.9h-.9zM394.8,558.8h.9v.9h-.9zM395.8,558.3h.9v.9h-.9zM385.6,568.8h.9v.9h-.9zM385.7,568.7h.9v.9h-.9zM394.7,558.9h.9v.9h-.9zM385.8,567.9h.9v.9h-.9zM385.4,568.2h.9v.9h-.9zM395.5,558.9h.9v.9h-.9zM395.2,558.5h.9v.9h-.9zM385.3,568.2h.9v.9h-.9zM386.0,567.9h.9v.9h-.9zM384.4,567.2h.9v.9h-.9zM384.2,566.9h.9v.9h-.9zM383.9,566.9h.9v.9h-.9zM384.8,567.2h.9v.9h-.9zM384.6,566.8h.9v.9h-.9zM389.8,557.4h.9v.9h-.9zM389.0,557.7h.9v.9h-.9zM389.0,557.3h.9v.9h-.9zM387.1,566.8h.9v.9h-.9zM386.5,567.6h.9v.9h-.9zM386.3,566.7h.9v.9h-.9zM396.0,560.9h.9v.9h-.9zM396.0,560.8h.9v.9h-.9zM396.0,560.7h.9v.9h-.9zM373.3,549.9h.9v.9h-.9zM374.2,550.2h.9v.9h-.9zM373.1,550.5h.9v.9h-.9zM374.1,550.0h.9v.9h-.9zM374.0,549.7h.9v.9h-.9zM386.6,569.0h.9v.9h-.9zM387.4,569.5h.9v.9h-.9zM386.6,569.0h.9v.9h-.9zM390.7,572.8h.9v.9h-.9zM390.6,573.1h.9v.9h-.9zM389.9,573.4h.9v.9h-.9zM378.1,551.2h.9v.9h-.9zM378.7,550.8h.9v.9h-.9zM370.4,545.4h.9v.9h-.9zM393.9,573.4h.9v.9h-.9zM370.2,545.6h.9v.9h-.9zM394.5,573.6h.9v.9h-.9zM370.0,545.2h.9v.9h-.9zM370.0,545.6h.9v.9h-.9zM369.5,545.8h.9v.9h-.9zM394.2,572.5h.9v.9h-.9zM370.0,545.5h.9v.9h-.9zM394.1,573.3h.9v.9h-.9zM386.7,543.2h.9v.9h-.9zM389.1,572.9h.9v.9h-.9zM389.3,573.4h.9v.9h-.9zM389.4,573.7h.9v.9h-.9zM389.3,572.5h.9v.9h-.9zM389.2,572.6h.9v.9h-.9zM388.9,572.9h.9v.9h-.9zM386.0,559.0h.9v.9h-.9zM386.2,558.4h.9v.9h-.9zM385.3,558.8h.9v.9h-.9zM385.8,558.9h.9v.9h-.9zM378.7,542.0h.9v.9h-.9zM378.6,542.1h.9v.9h-.9zM378.8,541.6h.9v.9h-.9zM386.8,561.2h.9v.9h-.9zM378.0,541.9h.9v.9h-.9zM386.4,561.5h.9v.9h-.9zM393.7,558.8h.9v.9h-.9zM394.6,558.6h.9v.9h-.9zM394.3,558.4h.9v.9h-.9zM393.9,558.3h.9v.9h-.9zM385.7,559.5h.9v.9h-.9zM385.1,559.3h.9v.9h-.9zM369.6,546.9h.9v.9h-.9zM385.5,559.9h.9v.9h-.9zM370.6,546.2h.9v.9h-.9zM386.0,559.8h.9v.9h-.9zM369.5,547.2h.9v.9h-.9zM369.9,546.9h.9v.9h-.9zM383.3,572.5h.9v.9h-.9zM383.5,573.1h.9v.9h-.9zM383.6,572.7h.9v.9h-.9zM383.7,572.7h.9v.9h-.9zM393.4,558.3h.9v.9h-.9zM392.3,558.4h.9v.9h-.9zM393.1,558.3h.9v.9h-.9zM392.7,559.1h.9v.9h-.9zM393.3,548.3h.9v.9h-.9zM392.8,548.3h.9v.9h-.9zM392.9,547.6h.9v.9h-.9zM392.7,548.3h.9v.9h-.9zM391.2,549.1h.9v.9h-.9zM387.3,568.1h.9v.9h-.9zM391.7,549.4h.9v.9h-.9zM387.3,568.1h.9v.9h-.9zM391.4,548.9h.9v.9h-.9zM378.3,577.4h.9v.9h-.9zM378.0,577.7h.9v.9h-.9zM382.3,551.8h.9v.9h-.9zM382.5,551.5h.9v.9h-.9zM382.4,551.4h.9v.9h-.9zM389.8,571.6h.9v.9h-.9zM389.8,571.8h.9v.9h-.9z" fill="rgb(53, 97, 180)" fill-opacity="0.9"/>
<path d="M385.8,551.1h.9v.9h-.9zM385.6,551.0h.9v.9h-.9zM385.3,552.0h.9v.9h-.9zM385.9,551.1h.9v.9h-.9zM386.1,551.1h.9v.9h-.9zM391.2,558.6h.9v.9h-.9zM391.2,559.0h.9v.9h-.9zM391.5,558.2h.9v.9h-.9zM392.1,558.9h.9v.9h-.9zM391.5,558.2h.9v.9h-.9zM383.4,543.2h.9v.9h-.9zM382.9,543.2h.9v.9h-.9zM383.1,543.5h.9v.9h-.9zM383.5,542.6h.9v.9h-.9zM383.0,543.5h.9v.9h-.9zM398.4,567.5h.9v.9h-.9zM388.6,558.0h.9v.9h-.9zM388.2,557.7h.9v.9h-.9zM388.5,556.9h.9v.9h-.9zM399.3,567.1h.9v.9h-.9zM399.1,567.6h.9v.9h-.9zM379.6,576.8h.9v.9h-.9zM379.2,577.2h.9v.9h-.9zM380.1,576.3h.9v.9h-.9zM379.7,577.2h.9v.9h-.9zM380.1,576.7h.9v.9h-.9zM379.5,576.5h.9v.9h-.9zM374.8,550.4h.9v.9h-.9zM374.7,549.9h.9v.9h-.9zM374.7,550.3h.9v.9h-.9zM387.4,557.3h.9v.9h-.9zM387.4,557.6h.9v.9h-.9zM387.5,557.1h.9v.9h-.9zM387.2,557.5h.9v.9h-.9zM386.3,557.4h.9v.9h-.9zM386.9,557.0h.9v.9h-.9zM387.5,570.1h.9v.9h-.9zM388.5,570.3h.9v.9h-.9zM387.7,570.6h.9v.9h-.9zM387.9,562.4h.9v.9h-.9zM388.0,562.5h.9v.9h-.9zM372.6,547.6h.9v.9h-.9zM372.3,547.7h.9v.9h-.9zM372.5,547.9h.9v.9h-.9zM372.2,548.2h.9v.9h-.9zM390.1,571.3h.9v.9h-.9zM390.5,571.4h.9v.9h-.9zM390.7,571.6h.9v.9h-.9zM390.2,571.8h.9v.9h-.9zM390.6,571.8h.9v.9h-.9zM379.4,575.8h.9v.9h-.9zM379.5,574.9h.9v.9h-.9zM380.2,575.8h.9v.9h-.9zM380.1,575.2h.9v.9h-.9zM398.3,563.5h.9v.9h-.9zM387.8,567.5h.9v.9h-.9zM388.6,566.9h.9v.9h-.9zM388.1,567.2h.9v.9h-.9zM388.3,566.9h.9v.9h-.9zM388.0,566.6h.9v.9h-.9zM388.6,566.6h.9v.9h-.9zM387.2,549.4h.9v.9h-.9zM373.7,548.7h.9v.9h-.9zM386.5,549.6h.9v.9h-.9zM374.1,549.1h.9v.9h-.9zM372.8,543.6h.9v.9h-.9zM372.4,544.5h.9v.9h-.9zM372.1,544.0h.9v.9h-.9zM372.5,544.5h.9v.9h-.9zM371.8,546.3h.9v.9h-.9zM371.4,546.4h.9v.9h-.9zM370.9,546.0h.9v.9h-.9zM388.3,548.6h.9v.9h-.9zM388.3,548.8h.9v.9h-.9zM388.3,549.4h.9v.9h-.9zM387.8,549.0h.9v.9h-.9zM388.4,548.7h.9v.9h-.9zM371.3,546.9h.9v.9h-.9zM371.1,546.5h.9v.9h-.9zM378.5,575.2h.9v.9h-.9zM378.5,575.2h.9v.9h-.9zM377.9,575.0h.9v.9h-.9zM378.0,575.4h.9v.9h-.9zM378.1,574.9h.9v.9h-.9zM378.5,575.8h.9v.9h-.9zM378.6,576.1h.9v.9h-.9zM378.3,574.9h.9v.9h-.9zM371.5,544.9h.9v.9h-.9zM370.7,545.3h.9v.9h-.9zM371.2,545.1h.9v.9h-.9zM371.7,545.9h.9v.9h-.9zM371.6,544.8h.9v.9h-.9zM398.2,562.4h.9v.9h-.9zM397.7,561.7h.9v.9h-.9zM397.1,562.7h.9v.9h-.9zM397.2,562.7h.9v.9h-.9zM397.6,562.2h.9v.9h-.9zM395.3,560.2h.9v.9h-.9zM389.9,559.1h.9v.9h-.9zM394.7,559.6h.9v.9h-.9zM395.5,560.0h.9v.9h-.9zM390.7,558.6h.9v.9h-.9zM395.5,559.8h.9v.9h-.9zM395.8,559.7h.9v.9h-.9zM394.9,559.5h.9v.9h-.9zM395.5,560.4h.9v.9h-.9zM390.5,558.8h.9v.9h-.9zM390.8,558.9h.9v.9h-.9zM377.9,576.3h.9v.9h-.9zM378.2,576.6h.9v.9h-.9zM378.7,576.5h.9v.9h-.9zM378.8,576.5h.9v.9h-.9zM390.4,549.1h.9v.9h-.9zM390.3,548.9h.9v.9h-.9zM389.9,549.4h.9v.9h-.9zM390.5,548.9h.9v.9h-.9zM386.2,550.6h.9v.9h-.9zM385.3,550.8h.9v.9h-.9zM385.8,550.2h.9v.9h-.9zM392.2,571.5h.9v.9h-.9zM391.5,571.9h.9v.9h-.9zM391.4,571.6h.9v.9h-.9zM389.1,570.8h.9v.9h-.9zM389.4,571.1h.9v.9h-.9zM389.5,570.5h.9v.9h-.9zM388.8,571.2h.9v.9h-.9zM389.7,570.3h.9v.9h-.9zM389.5,570.6h.9v.9h-.9zM389.0,548.4h.9v.9h-.9zM389.0,549.5h.9v.9h-.9zM388.8,548.9h.9v.9h-.9zM389.7,549.2h.9v.9h-.9zM387.8,569.8h.9v.9h-.9zM388.2,569.1h.9v.9h-.9zM388.0,568.9h.9v.9h-.9zM399.0,565.6h.9v.9h-.9zM398.7,565.9h.9v.9h-.9zM399.4,566.3h.9v.9h-.9zM398.3,565.8h.9v.9h-.9zM399.3,566.3h.9v.9h-.9zM399.4,566.1h.9v.9h-.9zM376.1,542.5h.9v.9h-.9zM376.2,543.0h.9v.9h-.9zM375.6,543.2h.9v.9h-.9zM375.7,543.1h.9v.9h-.9zM397.5,571.9h.9v.9h-.9zM397.7,571.6h.9v.9h-.9zM398.1,572.4h.9v.9h-.9zM397.5,571.8h.9v.9h-.9zM397.1,572.2h.9v.9h-.9zM397.7,571.4h.9v.9h-.9zM398.0,572.0h.9v.9h-.9zM397.2,571.5h.9v.9h-.9zM398.5,564.2h.9v.9h-.9zM399.0,564.5h.9v.9h-.9zM398.9,565.0h.9v.9h-.9zM399.3,565.0h.9v.9h-.9zM399.0,564.2h.9v.9h-.9zM387.8,567.8h.9v.9h-.9zM387.6,568.2h.9v.9h-.9zM387.9,568.8h.9v.9h-.9zM388.6,568.8h.9v.9h-.9zM388.6,568.0h.9v.9h-.9zM387.7,568.5h.9v.9h-.9zM395.7,561.3h.9v.9h-.9zM394.9,561.6h.9v.9h-.9zM395.3,561.4h.9v.9h-.9zM395.7,560.9h.9v.9h-.9zM395.3,561.3h.9v.9h-.9zM398.2,570.0h.9v.9h-.9zM398.0,569.7h.9v.9h-.9zM397.3,569.3h.9v.9h-.9zM392.3,571.3h.9v.9h-.9zM392.9,572.1h.9v.9h-.9zM376.0,549.7h.9v.9h-.9zM376.3,550.8h.9v.9h-.9zM375.9,550.2h.9v.9h-.9zM382.0,542.4h.9v.9h-.9zM382.4,543.5h.9v.9h-.9zM381.8,543.2h.9v.9h-.9zM397.3,571.0h.9v.9h-.9zM398.0,571.0h.9v.9h-.9zM397.5,570.2h.9v.9h-.9zM389.7,566.6h.9v.9h-.9zM389.1,566.7h.9v.9h-.9zM388.7,567.6h.9v.9h-.9zM389.8,558.3h.9v.9h-.9zM389.7,558.6h.9v.9h-.9zM389.0,558.7h.9v.9h-.9zM389.5,558.5h.9v.9h-.9zM388.7,558.2h.9v.9h-.9zM390.2,570.2h.9v.9h-.9zM388.9,544.2h.9v.9h-.9zM389.5,544.2h.9v.9h-.9zM390.9,570.3h.9v.9h-.9zM393.5,571.5h.9v.9h-.9zM394.2,572.3h.9v.9h-.9zM394.3,571.6h.9v.9h-.9zM392.3,546.0h.9v.9h-.9zM392.2,546.7h.9v.9h-.9zM391.6,546.2h.9v.9h-.9zM391.6,546.4h.9v.9h-.9zM389.2,565.9h.9v.9h-.9zM388.8,565.7h.9v.9h-.9zM389.5,565.4h.9v.9h-.9zM388.9,566.1h.9v.9h-.9zM397.4,568.8h.9v.9h-.9zM397.5,568.6h.9v.9h-.9zM398.0,568.7h.9v.9h-.9zM397.6,568.6h.9v.9h-.9zM380.8,550.8h.9v.9h-.9zM380.9,549.7h.9v.9h-.9zM381.1,549.9h.9v.9h-.9zM396.6,562.1h.9v.9h-.9zM397.0,562.0h.9v.9h-.9zM396.6,562.5h.9v.9h-.9zM387.3,560.4h.9v.9h-.9zM386.4,560.4h.9v.9h-.9zM390.1,545.6h.9v.9h-.9zM390.3,545.8h.9v.9h-.9zM390.0,545.0h.9v.9h-.9zM390.6,545.0h.9v.9h-.9zM372.9,546.6h.9v.9h-.9zM372.5,546.7h.9v.9h-.9zM390.1,545.1h.9v.9h-.9zM390.7,545.1h.9v.9h-.9zM371.8,546.3h.9v.9h-.9zM389.9,545.8h.9v.9h-.9zM394.5,560.2h.9v.9h-.9zM394.6,559.8h.9v.9h-.9zM394.2,560.1h.9v.9h-.9zM393.6,559.8h.9v.9h-.9z" fill="rgb(50, 130, 180)" fill-opacity="0.9"/>
<path d="M391.6,559.8h.9v.9h-.9zM391.6,559.5h.9v.9h-.9zM392.1,560.2h.9v.9h-.9zM388.9,569.8h.9v.9h-.9zM388.9,569.4h.9v.9h-.9zM389.2,568.9h.9v.9h-.9zM388.8,569.5h.9v.9h-.9zM389.8,569.8h.9v.9h-.9zM388.7,569.9h.9v.9h-.9zM395.2,572.4h.9v.9h-.9zM395.3,572.3h.9v.9h-.9zM394.9,572.1h.9v.9h-.9zM395.5,571.8h.9v.9h-.9zM395.0,572.1h.9v.9h-.9zM394.7,572.0h.9v.9h-.9zM395.8,572.4h.9v.9h-.9zM395.4,571.7h.9v.9h-.9zM395.1,572.0h.9v.9h-.9zM395.3,571.5h.9v.9h-.9zM390.3,560.2h.9v.9h-.9zM390.9,559.5h.9v.9h-.9zM390.8,559.3h.9v.9h-.9zM389.9,559.9h.9v.9h-.9zM397.0,572.2h.9v.9h-.9zM396.8,571.5h.9v.9h-.9zM396.2,571.9h.9v.9h-.9zM375.3,548.4h.9v.9h-.9zM374.4,549.2h.9v.9h-.9zM375.2,549.0h.9v.9h-.9zM375.4,549.5h.9v.9h-.9zM374.4,549.3h.9v.9h-.9zM389.0,568.8h.9v.9h-.9zM388.7,567.9h.9v.9h-.9zM388.7,568.1h.9v.9h-.9zM389.2,568.2h.9v.9h-.9zM388.9,568.5h.9v.9h-.9zM389.7,567.7h.9v.9h-.9zM389.6,568.6h.9v.9h-.9zM373.3,544.4h.9v.9h-.9zM373.1,544.5h.9v.9h-.9zM373.8,543.7h.9v.9h-.9zM373.2,544.4h.9v.9h-.9zM373.2,544.2h.9v.9h-.9zM373.9,544.7h.9v.9h-.9zM373.5,544.0h.9v.9h-.9zM373.3,544.7h.9v.9h-.9zM373.7,544.2h.9v.9h-.9zM372.4,544.8h.9v.9h-.9zM372.0,545.9h.9v.9h-.9zM372.3,544.8h.9v.9h-.9zM372.7,545.1h.9v.9h-.9zM386.8,558.7h.9v.9h-.9zM386.4,558.8h.9v.9h-.9zM387.3,559.2h.9v.9h-.9zM386.3,558.3h.9v.9h-.9zM386.8,558.6h.9v.9h-.9zM386.9,558.5h.9v.9h-.9zM387.2,559.0h.9v.9h-.9zM386.8,559.2h.9v.9h-.9zM387.2,558.1h.9v.9h-.9zM387.2,559.0h.9v.9h-.9zM386.5,558.7h.9v.9h-.9zM391.6,547.4h.9v.9h-.9zM391.5,547.8h.9v.9h-.9zM392.2,547.6h.9v.9h-.9zM391.3,548.1h.9v.9h-.9zM391.1,547.5h.9v.9h-.9zM392.2,547.3h.9v.9h-.9zM392.3,547.8h.9v.9h-.9zM391.4,548.3h.9v.9h-.9zM392.1,547.6h.9v.9h-.9zM392.1,547.6h.9v.9h-.9zM388.4,560.5h.9v.9h-.9zM387.8,560.6h.9v.9h-.9zM387.8,560.5h.9v.9h-.9zM387.9,561.2h.9v.9h-.9zM388.1,560.9h.9v.9h-.9zM388.5,560.9h.9v.9h-.9zM387.7,560.8h.9v.9h-.9zM392.5,559.5h.9v.9h-.9zM394.9,569.2h.9v.9h-.9zM392.8,559.9h.9v.9h-.9zM392.3,559.4h.9v.9h-.9zM393.3,560.0h.9v.9h-.9zM379.1,549.7h.9v.9h-.9zM379.6,549.7h.9v.9h-.9zM379.3,549.9h.9v.9h-.9zM380.2,550.6h.9v.9h-.9zM379.5,550.0h.9v.9h-.9zM380.2,550.4h.9v.9h-.9zM397.2,567.3h.9v.9h-.9zM398.0,566.8h.9v.9h-.9zM398.2,567.5h.9v.9h-.9zM397.9,566.7h.9v.9h-.9zM397.3,566.5h.9v.9h-.9zM388.8,564.4h.9v.9h-.9zM388.8,565.0h.9v.9h-.9zM382.8,550.8h.9v.9h-.9zM382.8,551.8h.9v.9h-.9zM389.8,564.7h.9v.9h-.9zM383.2,551.2h.9v.9h-.9zM383.4,551.5h.9v.9h-.9zM383.6,551.6h.9v.9h-.9zM389.8,564.4h.9v.9h-.9zM382.9,551.1h.9v.9h-.9zM383.7,551.6h.9v.9h-.9zM388.7,565.0h.9v.9h-.9zM389.7,564.3h.9v.9h-.9zM373.1,547.8h.9v.9h-.9zM373.1,548.3h.9v.9h-.9zM373.3,547.3h.9v.9h-.9zM373.6,547.8h.9v.9h-.9zM373.9,548.1h.9v.9h-.9zM373.4,548.3h.9v.9h-.9zM381.0,542.4h.9v.9h-.9zM381.4,543.4h.9v.9h-.9zM380.4,543.4h.9v.9h-.9zM380.6,542.7h.9v.9h-.9zM380.5,543.2h.9v.9h-.9zM380.3,543.4h.9v.9h-.9zM380.5,542.6h.9v.9h-.9zM380.4,542.9h.9v.9h-.9zM380.7,543.5h.9v.9h-.9zM380.5,542.8h.9v.9h-.9zM397.8,563.3h.9v.9h-.9zM397.7,563.1h.9v.9h-.9zM397.9,563.6h.9v.9h-.9zM398.1,563.5h.9v.9h-.9zM397.3,563.9h.9v.9h-.9zM397.8,563.8h.9v.9h-.9zM388.2,558.6h.9v.9h-.9zM388.1,558.2h.9v.9h-.9zM388.1,558.2h.9v.9h-.9zM388.2,559.1h.9v.9h-.9zM384.2,551.5h.9v.9h-.9zM384.3,551.1h.9v.9h-.9zM384.3,551.6h.9v.9h-.9zM384.4,550.9h.9v.9h-.9zM384.4,551.2h.9v.9h-.9zM384.0,551.4h.9v.9h-.9zM384.3,551.8h.9v.9h-.9zM385.0,550.9h.9v.9h-.9zM384.8,551.6h.9v.9h-.9zM384.1,551.9h.9v.9h-.9zM384.3,551.1h.9v.9h-.9zM377.7,550.4h.9v.9h-.9zM377.4,550.3h.9v.9h-.9zM377.8,549.6h.9v.9h-.9zM376.8,550.0h.9v.9h-.9zM376.8,550.1h.9v.9h-.9zM377.8,549.8h.9v.9h-.9zM377.5,550.6h.9v.9h-.9zM394.8,568.8h.9v.9h-.9zM395.0,568.2h.9v.9h-.9zM395.8,568.7h.9v.9h-.9zM395.5,568.2h.9v.9h-.9zM395.6,568.5h.9v.9h-.9zM395.2,568.7h.9v.9h-.9zM396.9,569.7h.9v.9h-.9zM396.8,569.2h.9v.9h-.9zM396.7,569.2h.9v.9h-.9zM396.9,568.9h.9v.9h-.9zM396.8,570.1h.9v.9h-.9zM395.9,569.5h.9v.9h-.9zM393.8,570.1h.9v.9h-.9zM394.2,569.9h.9v.9h-.9zM395.2,570.3h.9v.9h-.9zM395.7,571.2h.9v.9h-.9zM395.5,570.6h.9v.9h-.9zM394.9,571.0h.9v.9h-.9zM395.5,570.7h.9v.9h-.9zM395.2,570.4h.9v.9h-.9zM390.8,569.1h.9v.9h-.9zM390.3,569.6h.9v.9h-.9zM390.2,569.0h.9v.9h-.9zM390.6,569.7h.9v.9h-.9zM391.0,568.9h.9v.9h-.9zM386.1,549.2h.9v.9h-.9zM385.2,548.7h.9v.9h-.9zM394.1,570.5h.9v.9h-.9zM394.6,570.8h.9v.9h-.9zM385.4,548.8h.9v.9h-.9zM385.9,548.8h.9v.9h-.9zM394.6,571.2h.9v.9h-.9zM390.1,547.4h.9v.9h-.9zM390.9,547.6h.9v.9h-.9zM390.4,547.8h.9v.9h-.9zM390.3,547.2h.9v.9h-.9zM389.9,568.2h.9v.9h-.9zM390.7,568.2h.9v.9h-.9zM390.5,567.7h.9v.9h-.9zM390.5,568.7h.9v.9h-.9zM389.6,547.8h.9v.9h-.9zM388.7,547.2h.9v.9h-.9zM389.8,548.1h.9v.9h-.9zM389.5,547.9h.9v.9h-.9zM389.2,548.3h.9v.9h-.9zM395.5,561.9h.9v.9h-.9zM395.6,562.5h.9v.9h-.9zM395.0,562.4h.9v.9h-.9zM396.4,570.9h.9v.9h-.9zM395.9,571.0h.9v.9h-.9zM396.4,571.0h.9v.9h-.9zM396.7,571.1h.9v.9h-.9zM396.9,570.7h.9v.9h-.9zM396.7,570.6h.9v.9h-.9zM396.0,570.8h.9v.9h-.9zM396.9,571.1h.9v.9h-.9zM378.7,550.7h.9v.9h-.9zM378.4,550.7h.9v.9h-.9zM394.3,561.0h.9v.9h-.9zM378.6,549.7h.9v.9h-.9zM394.7,560.5h.9v.9h-.9zM393.7,560.7h.9v.9h-.9zM394.4,560.9h.9v.9h-.9zM394.5,560.5h.9v.9h-.9zM389.1,559.2h.9v.9h-.9zM389.1,560.3h.9v.9h-.9zM389.2,560.0h.9v.9h-.9zM389.2,560.0h.9v.9h-.9zM389.5,560.1h.9v.9h-.9zM390.7,566.6h.9v.9h-.9zM392.1,570.5h.9v.9h-.9zM392.0,571.0h.9v.9h-.9zM391.9,570.9h.9v.9h-.9zM391.8,570.4h.9v.9h-.9zM391.4,571.0h.9v.9h-.9zM397.7,565.8h.9v.9h-.9zM388.7,563.4h.9v.9h-.9zM389.2,563.8h.9v.9h-.9zM389.9,563.9h.9v.9h-.9zM397.2,565.7h.9v.9h-.9zM389.2,563.2h.9v.9h-.9zM388.9,563.3h.9v.9h-.9zM398.0,566.2h.9v.9h-.9zM389.5,563.5h.9v.9h-.9zM389.4,562.9h.9v.9h-.9zM394.4,568.8h.9v.9h-.9zM394.5,568.0h.9v.9h-.9zM394.3,568.6h.9v.9h-.9zM388.1,547.3h.9v.9h-.9zM388.6,547.5h.9v.9h-.9zM388.2,548.2h.9v.9h-.9zM387.8,548.4h.9v.9h-.9zM388.5,547.9h.9v.9h-.9zM387.6,548.2h.9v.9h-.9zM388.3,547.4h.9v.9h-.9zM388.6,547.8h.9v.9h-.9zM396.5,567.8h.9v.9h-.9zM396.2,568.4h.9v.9h-.9zM396.4,568.6h.9v.9h-.9zM396.0,568.6h.9v.9h-.9zM397.0,567.9h.9v.9h-.9zM396.7,568.0h.9v.9h-.9zM396.5,568.4h.9v.9h-.9zM397.0,568.1h.9v.9h-.9zM395.4,567.1h.9v.9h-.9zM395.6,567.5h.9v.9h-.9zM394.7,566.8h.9v.9h-.9zM395.7,567.1h.9v.9h-.9zM395.6,567.5h.9v.9h-.9zM395.7,566.9h.9v.9h-.9zM390.5,546.9h.9v.9h-.9zM390.3,546.9h.9v.9h-.9zM390.1,546.6h.9v.9h-.9zM390.3,546.9h.9v.9h-.9zM390.1,546.4h.9v.9h-.9zM390.7,546.0h.9v.9h-.9zM387.9,559.8h.9v.9h-.9zM388.0,560.3h.9v.9h-.9zM388.4,560.0h.9v.9h-.9zM388.4,560.3h.9v.9h-.9zM388.2,560.3h.9v.9h-.9zM388.5,559.9h.9v.9h-.9zM387.9,560.3h.9v.9h-.9zM379.9,543.2h.9v.9h-.9zM379.2,543.2h.9v.9h-.9zM397.8,564.5h.9v.9h-.9zM398.0,564.4h.9v.9h-.9zM397.8,565.2h.9v.9h-.9zM398.1,564.5h.9v.9h-.9zM397.4,564.5h.9v.9h-.9zM397.3,565.2h.9v.9h-.9zM397.3,565.2h.9v.9h-.9zM374.4,544.5h.9v.9h-.9zM374.5,544.0h.9v.9h-.9zM375.4,544.4h.9v.9h-.9zM381.6,550.2h.9v.9h-.9zM381.5,549.9h.9v.9h-.9zM382.4,550.2h.9v.9h-.9zM381.9,549.7h.9v.9h-.9zM389.2,562.3h.9v.9h-.9zM389.2,562.4h.9v.9h-.9zM388.7,562.4h.9v.9h-.9zM388.8,561.7h.9v.9h-.9zM389.7,561.9h.9v.9h-.9zM393.8,566.8h.9v.9h-.9zM393.5,566.7h.9v.9h-.9zM393.7,566.6h.9v.9h-.9zM395.8,565.3h.9v.9h-.9zM395.7,565.3h.9v.9h-.9zM394.9,565.8h.9v.9h-.9zM395.0,566.0h.9v.9h-.9zM394.6,565.5h.9v.9h-.9zM394.5,565.3h.9v.9h-.9zM393.7,565.3h.9v.9h-.9zM388.9,560.5h.9v.9h-.9zM389.4,560.4h.9v.9h-.9zM388.9,560.9h.9v.9h-.9zM389.4,560.8h.9v.9h-.9zM389.4,560.7h.9v.9h-.9zM389.0,560.8h.9v.9h-.9zM388.7,560.8h.9v.9h-.9zM388.7,560.6h.9v.9h-.9zM389.8,561.1h.9v.9h-.9zM393.3,570.1h.9v.9h-.9zM393.3,570.6h.9v.9h-.9zM393.4,571.0h.9v.9h-.9zM393.2,570.4h.9v.9h-.9zM392.6,570.4h.9v.9h-.9zM392.3,570.1h.9v.9h-.9zM392.8,570.5h.9v.9h-.9zM392.5,570.3h.9v.9h-.9zM392.5,571.1h.9v.9h-.9zM392.6,570.4h.9v.9h-.9zM393.3,570.5h.9v.9h-.9zM392.7,570.1h.9v.9h-.9zM393.1,570.7h.9v.9h-.9zM396.9,567.5h.9v.9h-.9zM396.4,567.4h.9v.9h-.9zM396.6,567.0h.9v.9h-.9zM395.9,566.9h.9v.9h-.9zM396.6,567.6h.9v.9h-.9zM396.4,567.0h.9v.9h-.9z" fill="rgb(66, 152, 145)" fill-opacity="0.9"/>
<path d="M387.8,544.4h.9v.9h-.9zM387.8,543.9h.9v.9h-.9zM388.1,544.2h.9v.9h-.9zM387.8,544.4h.9v.9h-.9zM387.5,544.2h.9v.9h-.9zM390.3,560.9h.9v.9h-.9zM390.8,565.4h.9v.9h-.9zM390.0,566.0h.9v.9h-.9zM390.1,565.3h.9v.9h-.9zM390.9,566.1h.9v.9h-.9zM390.2,565.7h.9v.9h-.9zM390.8,565.5h.9v.9h-.9zM389.9,565.4h.9v.9h-.9zM390.8,565.6h.9v.9h-.9zM390.5,565.7h.9v.9h-.9zM390.9,566.1h.9v.9h-.9zM389.8,545.7h.9v.9h-.9zM389.8,546.0h.9v.9h-.9zM389.3,545.1h.9v.9h-.9zM388.9,544.8h.9v.9h-.9zM389.4,544.8h.9v.9h-.9zM388.9,544.8h.9v.9h-.9zM388.7,545.2h.9v.9h-.9zM395.9,565.8h.9v.9h-.9zM395.9,565.3h.9v.9h-.9zM396.8,565.9h.9v.9h-.9zM396.1,565.9h.9v.9h-.9zM396.9,566.0h.9v.9h-.9zM396.6,565.7h.9v.9h-.9zM396.0,565.7h.9v.9h-.9zM376.8,543.2h.9v.9h-.9zM377.1,543.1h.9v.9h-.9zM376.8,543.1h.9v.9h-.9zM377.5,543.2h.9v.9h-.9zM396.4,563.6h.9v.9h-.9zM396.4,563.0h.9v.9h-.9zM377.6,543.0h.9v.9h-.9zM396.6,563.2h.9v.9h-.9zM377.8,542.9h.9v.9h-.9zM377.0,542.8h.9v.9h-.9zM396.3,563.5h.9v.9h-.9zM377.6,542.4h.9v.9h-.9zM384.5,544.2h.9v.9h-.9zM384.5,544.0h.9v.9h-.9zM384.7,543.9h.9v.9h-.9zM384.8,544.7h.9v.9h-.9zM383.9,543.8h.9v.9h-.9zM384.1,543.7h.9v.9h-.9zM383.0,544.4h.9v.9h-.9zM382.7,543.9h.9v.9h-.9zM383.7,544.2h.9v.9h-.9zM383.4,544.1h.9v.9h-.9zM394.0,562.0h.9v.9h-.9zM394.3,561.7h.9v.9h-.9zM393.8,562.2h.9v.9h-.9zM386.8,548.3h.9v.9h-.9zM387.4,547.6h.9v.9h-.9zM389.7,546.9h.9v.9h-.9zM388.7,547.0h.9v.9h-.9zM389.4,546.4h.9v.9h-.9zM388.7,546.3h.9v.9h-.9zM389.1,546.1h.9v.9h-.9zM391.6,569.5h.9v.9h-.9zM391.1,569.9h.9v.9h-.9zM392.2,569.4h.9v.9h-.9zM391.7,569.9h.9v.9h-.9zM392.0,569.3h.9v.9h-.9zM391.9,569.2h.9v.9h-.9zM392.5,561.5h.9v.9h-.9zM392.8,561.3h.9v.9h-.9zM393.0,560.9h.9v.9h-.9zM392.3,561.5h.9v.9h-.9zM393.3,561.5h.9v.9h-.9zM393.1,561.1h.9v.9h-.9zM392.7,561.4h.9v.9h-.9zM393.3,560.8h.9v.9h-.9zM393.2,564.8h.9v.9h-.9zM393.2,564.7h.9v.9h-.9zM392.3,565.0h.9v.9h-.9zM392.3,564.4h.9v.9h-.9zM393.2,564.5h.9v.9h-.9zM376.3,549.5h.9v.9h-.9zM376.2,548.9h.9v.9h-.9zM376.5,548.7h.9v.9h-.9zM376.6,549.4h.9v.9h-.9zM376.4,548.8h.9v.9h-.9zM394.1,564.4h.9v.9h-.9zM394.3,564.3h.9v.9h-.9zM394.3,564.7h.9v.9h-.9zM394.6,565.2h.9v.9h-.9zM393.8,565.1h.9v.9h-.9zM393.7,565.0h.9v.9h-.9zM394.6,565.2h.9v.9h-.9zM392.0,561.1h.9v.9h-.9zM391.1,561.4h.9v.9h-.9zM391.4,561.2h.9v.9h-.9zM392.1,561.1h.9v.9h-.9zM391.4,561.4h.9v.9h-.9zM391.3,560.7h.9v.9h-.9zM392.1,560.6h.9v.9h-.9zM391.1,560.7h.9v.9h-.9zM374.1,546.8h.9v.9h-.9zM374.0,546.9h.9v.9h-.9zM373.4,546.5h.9v.9h-.9zM373.9,546.5h.9v.9h-.9zM374.0,546.6h.9v.9h-.9zM373.0,546.3h.9v.9h-.9zM378.6,543.5h.9v.9h-.9zM378.5,542.5h.9v.9h-.9zM378.1,543.3h.9v.9h-.9zM378.3,543.0h.9v.9h-.9zM378.1,543.2h.9v.9h-.9zM384.0,549.7h.9v.9h-.9zM384.2,549.6h.9v.9h-.9zM383.9,550.6h.9v.9h-.9zM384.2,549.8h.9v.9h-.9zM396.6,564.3h.9v.9h-.9zM396.5,564.1h.9v.9h-.9zM396.0,565.2h.9v.9h-.9zM396.0,565.0h.9v.9h-.9zM397.0,564.3h.9v.9h-.9zM396.9,564.6h.9v.9h-.9zM396.3,564.2h.9v.9h-.9zM392.6,569.0h.9v.9h-.9zM393.1,570.0h.9v.9h-.9zM393.0,569.7h.9v.9h-.9zM393.1,569.5h.9v.9h-.9zM393.2,569.8h.9v.9h-.9zM392.5,570.0h.9v.9h-.9zM373.1,545.9h.9v.9h-.9zM373.8,544.9h.9v.9h-.9zM373.1,545.8h.9v.9h-.9zM373.6,545.2h.9v.9h-.9zM373.7,545.7h.9v.9h-.9zM373.1,545.2h.9v.9h-.9zM391.9,568.8h.9v.9h-.9zM375.2,548.1h.9v.9h-.9zM375.2,547.6h.9v.9h-.9zM391.8,568.7h.9v.9h-.9zM391.6,567.8h.9v.9h-.9zM374.7,547.9h.9v.9h-.9zM392.1,567.8h.9v.9h-.9zM392.0,568.3h.9v.9h-.9zM374.7,547.3h.9v.9h-.9zM374.4,547.4h.9v.9h-.9zM393.4,565.9h.9v.9h-.9zM392.4,565.8h.9v.9h-.9zM393.0,566.2h.9v.9h-.9zM392.3,565.8h.9v.9h-.9zM392.8,566.1h.9v.9h-.9zM393.1,566.1h.9v.9h-.9zM394.7,564.9h.9v.9h-.9zM394.9,565.1h.9v.9h-.9zM395.0,565.0h.9v.9h-.9zM395.1,563.0h.9v.9h-.9zM390.9,564.1h.9v.9h-.9zM395.0,563.7h.9v.9h-.9zM390.5,564.2h.9v.9h-.9zM395.1,563.7h.9v.9h-.9zM394.9,563.8h.9v.9h-.9zM395.8,563.1h.9v.9h-.9zM394.9,563.3h.9v.9h-.9zM395.7,563.2h.9v.9h-.9zM395.1,563.5h.9v.9h-.9zM395.5,563.3h.9v.9h-.9zM395.0,563.8h.9v.9h-.9zM390.4,564.7h.9v.9h-.9zM395.3,563.3h.9v.9h-.9zM395.5,563.9h.9v.9h-.9zM390.5,565.1h.9v.9h-.9zM394.9,563.3h.9v.9h-.9zM390.2,564.8h.9v.9h-.9zM392.0,564.3h.9v.9h-.9zM391.9,564.9h.9v.9h-.9zM392.2,565.0h.9v.9h-.9zM394.4,564.0h.9v.9h-.9zM394.1,563.6h.9v.9h-.9zM393.6,563.9h.9v.9h-.9zM394.3,563.4h.9v.9h-.9zM394.0,563.0h.9v.9h-.9zM393.7,563.4h.9v.9h-.9zM392.7,568.0h.9v.9h-.9zM392.8,562.9h.9v.9h-.9zM392.9,562.9h.9v.9h-.9zM392.4,568.0h.9v.9h-.9zM392.5,568.2h.9v.9h-.9zM393.3,568.4h.9v.9h-.9zM393.4,567.7h.9v.9h-.9zM392.3,563.3h.9v.9h-.9zM392.7,568.5h.9v.9h-.9zM393.3,567.9h.9v.9h-.9zM393.2,563.8h.9v.9h-.9zM392.3,568.3h.9v.9h-.9zM392.4,563.3h.9v.9h-.9zM393.4,568.7h.9v.9h-.9zM393.2,563.0h.9v.9h-.9zM391.9,566.7h.9v.9h-.9zM392.1,567.0h.9v.9h-.9zM391.4,566.6h.9v.9h-.9zM392.3,566.8h.9v.9h-.9zM391.4,567.2h.9v.9h-.9zM391.9,567.6h.9v.9h-.9zM391.8,566.0h.9v.9h-.9zM391.9,566.2h.9v.9h-.9zM392.0,565.8h.9v.9h-.9zM392.2,565.3h.9v.9h-.9zM391.6,566.4h.9v.9h-.9zM391.7,565.6h.9v.9h-.9zM391.5,566.3h.9v.9h-.9zM393.4,567.3h.9v.9h-.9zM392.7,566.8h.9v.9h-.9zM392.6,567.2h.9v.9h-.9zM393.1,567.5h.9v.9h-.9zM392.6,566.6h.9v.9h-.9zM392.7,566.9h.9v.9h-.9zM392.9,566.8h.9v.9h-.9zM392.4,567.6h.9v.9h-.9zM392.6,566.8h.9v.9h-.9zM392.4,567.1h.9v.9h-.9zM393.2,562.2h.9v.9h-.9zM392.8,562.5h.9v.9h-.9zM392.3,562.1h.9v.9h-.9zM392.7,562.8h.9v.9h-.9zM392.6,562.2h.9v.9h-.9zM392.6,562.3h.9v.9h-.9zM385.4,544.7h.9v.9h-.9zM385.4,544.5h.9v.9h-.9zM385.9,543.8h.9v.9h-.9zM385.8,544.1h.9v.9h-.9zM385.5,543.6h.9v.9h-.9zM385.2,544.7h.9v.9h-.9zM385.2,544.4h.9v.9h-.9zM386.1,544.5h.9v.9h-.9zM389.9,562.6h.9v.9h-.9zM391.0,562.1h.9v.9h-.9zM390.7,562.1h.9v.9h-.9zM390.7,561.7h.9v.9h-.9zM390.5,562.3h.9v.9h-.9zM390.4,562.0h.9v.9h-.9zM380.9,549.4h.9v.9h-.9zM380.6,548.8h.9v.9h-.9zM380.8,549.4h.9v.9h-.9zM380.9,549.1h.9v.9h-.9zM380.9,549.2h.9v.9h-.9zM375.7,544.4h.9v.9h-.9zM376.2,544.5h.9v.9h-.9zM375.6,543.6h.9v.9h-.9zM376.3,544.2h.9v.9h-.9zM375.8,544.7h.9v.9h-.9zM375.9,543.8h.9v.9h-.9z" fill="rgb(89, 170, 96)" fill-opacity="0.9"/>
<path d="M390.2,562.8h.9v.9h-.9zM390.8,563.7h.9v.9h-.9zM391.2,563.1h.9v.9h-.9zM391.6,564.0h.9v.9h-.9zM390.7,562.9h.9v.9h-.9zM390.3,563.9h.9v.9h-.9zM390.9,563.2h.9v.9h-.9zM392.2,563.7h.9v.9h-.9zM390.1,563.5h.9v.9h-.9zM391.8,563.9h.9v.9h-.9zM390.5,563.4h.9v.9h-.9zM390.6,563.1h.9v.9h-.9zM390.3,562.8h.9v.9h-.9zM392.2,563.6h.9v.9h-.9zM381.9,544.1h.9v.9h-.9zM382.0,544.4h.9v.9h-.9zM382.1,544.2h.9v.9h-.9zM382.3,544.2h.9v.9h-.9zM382.2,544.4h.9v.9h-.9zM381.6,543.8h.9v.9h-.9zM382.4,543.6h.9v.9h-.9zM386.5,544.7h.9v.9h-.9zM387.2,543.6h.9v.9h-.9zM386.6,544.6h.9v.9h-.9zM386.5,544.0h.9v.9h-.9zM386.5,543.6h.9v.9h-.9zM386.4,543.9h.9v.9h-.9zM386.6,543.6h.9v.9h-.9zM386.9,544.2h.9v.9h-.9zM382.7,550.5h.9v.9h-.9zM383.7,549.9h.9v.9h-.9zM383.5,549.8h.9v.9h-.9zM383.0,550.0h.9v.9h-.9zM383.4,549.6h.9v.9h-.9zM382.8,549.7h.9v.9h-.9zM388.4,546.9h.9v.9h-.9zM387.6,546.0h.9v.9h-.9zM387.5,546.4h.9v.9h-.9zM379.2,548.5h.9v.9h-.9zM380.2,548.8h.9v.9h-.9zM379.9,548.5h.9v.9h-.9zM379.6,548.9h.9v.9h-.9zM379.4,549.4h.9v.9h-.9zM391.5,561.8h.9v.9h-.9zM391.5,562.0h.9v.9h-.9zM391.2,562.8h.9v.9h-.9zM391.2,562.8h.9v.9h-.9zM391.3,561.8h.9v.9h-.9zM391.3,562.1h.9v.9h-.9zM391.2,561.7h.9v.9h-.9zM391.2,561.8h.9v.9h-.9zM391.4,562.0h.9v.9h-.9zM388.0,545.4h.9v.9h-.9zM388.5,545.5h.9v.9h-.9zM388.5,545.6h.9v.9h-.9zM387.8,545.5h.9v.9h-.9zM387.5,545.3h.9v.9h-.9zM388.1,545.9h.9v.9h-.9zM387.9,545.7h.9v.9h-.9zM388.2,545.5h.9v.9h-.9zM374.3,544.8h.9v.9h-.9zM375.1,545.3h.9v.9h-.9zM374.4,544.8h.9v.9h-.9zM374.9,544.9h.9v.9h-.9zM375.4,546.0h.9v.9h-.9zM374.8,545.0h.9v.9h-.9zM374.7,545.2h.9v.9h-.9zM375.4,544.9h.9v.9h-.9zM377.8,548.6h.9v.9h-.9zM377.0,549.5h.9v.9h-.9zM377.1,548.4h.9v.9h-.9zM377.1,548.5h.9v.9h-.9zM376.8,548.4h.9v.9h-.9zM377.2,548.6h.9v.9h-.9zM377.6,548.8h.9v.9h-.9zM376.7,548.7h.9v.9h-.9zM375.5,548.1h.9v.9h-.9zM376.1,547.5h.9v.9h-.9zM375.9,547.5h.9v.9h-.9zM376.4,547.6h.9v.9h-.9zM375.8,547.3h.9v.9h-.9zM375.6,547.5h.9v.9h-.9zM375.6,548.0h.9v.9h-.9zM375.2,546.9h.9v.9h-.9zM374.8,546.2h.9v.9h-.9zM375.0,546.7h.9v.9h-.9zM374.4,546.9h.9v.9h-.9zM375.2,547.0h.9v.9h-.9zM374.7,546.7h.9v.9h-.9zM374.4,546.1h.9v.9h-.9zM375.3,547.0h.9v.9h-.9zM374.8,546.4h.9v.9h-.9zM375.3,546.7h.9v.9h-.9zM380.6,543.7h.9v.9h-.9zM381.1,544.5h.9v.9h-.9zM381.1,543.7h.9v.9h-.9zM381.2,544.5h.9v.9h-.9zM380.5,544.6h.9v.9h-.9zM385.1,547.5h.9v.9h-.9zM385.7,548.1h.9v.9h-.9zM385.5,547.4h.9v.9h-.9zM385.6,547.5h.9v.9h-.9zM385.4,548.1h.9v.9h-.9zM386.2,548.0h.9v.9h-.9zM385.4,547.3h.9v.9h-.9zM385.7,548.0h.9v.9h-.9zM385.7,547.3h.9v.9h-.9zM386.0,548.1h.9v.9h-.9zM379.0,548.8h.9v.9h-.9zM378.8,549.3h.9v.9h-.9zM377.9,549.1h.9v.9h-.9zM378.2,548.8h.9v.9h-.9zM378.2,549.0h.9v.9h-.9zM378.5,549.4h.9v.9h-.9zM379.0,548.6h.9v.9h-.9zM378.5,548.6h.9v.9h-.9zM378.1,548.8h.9v.9h-.9zM384.2,549.1h.9v.9h-.9zM383.9,548.8h.9v.9h-.9zM383.9,549.5h.9v.9h-.9zM384.9,549.5h.9v.9h-.9zM379.2,544.5h.9v.9h-.9zM379.1,544.5h.9v.9h-.9zM379.7,544.6h.9v.9h-.9zM379.7,544.5h.9v.9h-.9zM380.2,544.6h.9v.9h-.9z" fill="rgb(134, 181, 73)" fill-opacity="0.9"/>
<path d="M376.6,545.6h.9v.9h-.9zM376.2,544.9h.9v.9h-.9zM375.7,545.9h.9v.9h-.9zM376.3,545.7h.9v.9h-.9zM375.9,544.9h.9v.9h-.9zM375.7,545.8h.9v.9h-.9zM375.8,545.1h.9v.9h-.9zM376.2,545.5h.9v.9h-.9zM376.0,545.1h.9v.9h-.9zM376.3,546.5h.9v.9h-.9zM375.8,546.1h.9v.9h-.9zM376.3,546.9h.9v.9h-.9zM377.5,543.8h.9v.9h-.9zM377.1,544.2h.9v.9h-.9zM377.8,544.2h.9v.9h-.9zM376.8,544.3h.9v.9h-.9zM377.8,544.2h.9v.9h-.9zM376.7,543.8h.9v.9h-.9zM376.9,543.8h.9v.9h-.9zM377.1,544.5h.9v.9h-.9zM377.4,544.7h.9v.9h-.9zM377.8,543.7h.9v.9h-.9zM381.7,548.6h.9v.9h-.9zM381.9,549.0h.9v.9h-.9zM382.6,548.9h.9v.9h-.9zM382.1,549.1h.9v.9h-.9zM381.7,549.2h.9v.9h-.9zM381.6,548.6h.9v.9h-.9zM386.4,546.3h.9v.9h-.9zM387.3,546.7h.9v.9h-.9zM386.9,546.5h.9v.9h-.9zM387.1,546.2h.9v.9h-.9zM386.8,546.8h.9v.9h-.9zM387.0,546.8h.9v.9h-.9zM387.2,546.4h.9v.9h-.9zM386.9,546.7h.9v.9h-.9zM378.0,544.5h.9v.9h-.9zM379.0,544.3h.9v.9h-.9zM378.3,543.9h.9v.9h-.9zM378.4,543.7h.9v.9h-.9zM378.5,544.6h.9v.9h-.9zM378.1,543.7h.9v.9h-.9zM378.5,544.1h.9v.9h-.9zM378.9,544.7h.9v.9h-.9zM377.9,543.7h.9v.9h-.9zM378.3,544.5h.9v.9h-.9zM377.8,544.7h.9v.9h-.9zM378.7,544.3h.9v.9h-.9zM377.3,546.1h.9v.9h-.9zM376.8,546.4h.9v.9h-.9zM377.6,546.8h.9v.9h-.9zM377.0,546.1h.9v.9h-.9zM376.7,546.3h.9v.9h-.9zM376.8,547.2h.9v.9h-.9zM377.6,546.3h.9v.9h-.9zM377.0,546.5h.9v.9h-.9zM377.6,547.5h.9v.9h-.9zM377.3,547.2h.9v.9h-.9zM377.2,547.7h.9v.9h-.9zM377.3,548.0h.9v.9h-.9zM376.8,547.7h.9v.9h-.9zM377.8,547.8h.9v.9h-.9zM377.5,548.0h.9v.9h-.9zM377.6,547.7h.9v.9h-.9zM377.8,547.5h.9v.9h-.9zM377.5,547.3h.9v.9h-.9zM376.7,545.3h.9v.9h-.9zM376.8,544.9h.9v.9h-.9zM377.2,544.9h.9v.9h-.9zM377.1,545.2h.9v.9h-.9zM377.4,544.8h.9v.9h-.9zM384.9,545.1h.9v.9h-.9zM385.0,545.1h.9v.9h-.9zM384.5,544.8h.9v.9h-.9zM384.6,544.9h.9v.9h-.9zM383.4,544.8h.9v.9h-.9zM383.1,545.4h.9v.9h-.9zM383.0,544.9h.9v.9h-.9zM383.2,545.1h.9v.9h-.9zM383.3,545.1h.9v.9h-.9zM383.0,545.7h.9v.9h-.9zM387.2,545.9h.9v.9h-.9zM387.0,545.2h.9v.9h-.9zM386.7,545.6h.9v.9h-.9zM387.0,545.8h.9v.9h-.9zM386.3,544.8h.9v.9h-.9zM386.3,545.6h.9v.9h-.9zM387.3,545.8h.9v.9h-.9zM386.4,545.8h.9v.9h-.9zM387.3,545.9h.9v.9h-.9zM386.8,544.9h.9v.9h-.9zM386.8,545.9h.9v.9h-.9z" fill="rgb(185, 190, 57)" fill-opacity="0.9"/>
<path d="M380.2,548.3h.9v.9h-.9zM379.8,548.3h.9v.9h-.9zM379.3,548.0h.9v.9h-.9zM379.4,547.3h.9v.9h-.9zM380.0,547.7h.9v.9h-.9zM379.9,548.4h.9v.9h-.9zM379.9,547.9h.9v.9h-.9zM379.2,547.8h.9v.9h-.9zM379.7,547.5h.9v.9h-.9zM379.3,547.7h.9v.9h-.9zM379.0,547.6h.9v.9h-.9zM378.4,545.2h.9v.9h-.9zM378.1,544.8h.9v.9h-.9zM378.6,544.9h.9v.9h-.9zM378.7,545.1h.9v.9h-.9zM378.8,545.6h.9v.9h-.9zM378.2,544.9h.9v.9h-.9zM378.9,545.3h.9v.9h-.9zM377.8,547.3h.9v.9h-.9zM378.1,548.3h.9v.9h-.9zM378.7,548.0h.9v.9h-.9zM378.6,548.1h.9v.9h-.9zM378.7,548.1h.9v.9h-.9zM377.9,547.9h.9v.9h-.9zM378.2,547.8h.9v.9h-.9zM385.8,545.3h.9v.9h-.9zM386.0,545.7h.9v.9h-.9zM385.6,545.6h.9v.9h-.9zM385.7,544.9h.9v.9h-.9zM385.3,545.0h.9v.9h-.9zM385.6,544.9h.9v.9h-.9zM385.9,545.9h.9v.9h-.9zM385.3,545.1h.9v.9h-.9zM386.2,545.9h.9v.9h-.9zM386.2,545.5h.9v.9h-.9zM385.5,545.7h.9v.9h-.9zM383.0,549.4h.9v.9h-.9zM383.4,549.3h.9v.9h-.9zM383.0,549.0h.9v.9h-.9zM383.2,549.0h.9v.9h-.9zM383.8,548.4h.9v.9h-.9zM383.4,549.2h.9v.9h-.9zM383.4,548.4h.9v.9h-.9zM383.3,549.1h.9v.9h-.9zM383.3,549.5h.9v.9h-.9zM382.9,548.6h.9v.9h-.9zM383.3,549.1h.9v.9h-.9zM383.2,549.2h.9v.9h-.9zM378.6,546.4h.9v.9h-.9zM378.4,546.9h.9v.9h-.9zM378.1,546.4h.9v.9h-.9zM378.3,546.9h.9v.9h-.9zM378.9,546.7h.9v.9h-.9zM378.3,547.0h.9v.9h-.9zM385.9,546.1h.9v.9h-.9zM386.1,546.3h.9v.9h-.9zM385.6,546.0h.9v.9h-.9zM385.7,546.7h.9v.9h-.9zM386.2,546.4h.9v.9h-.9zM386.1,546.8h.9v.9h-.9zM385.9,546.0h.9v.9h-.9zM385.2,546.5h.9v.9h-.9zM380.5,548.0h.9v.9h-.9zM380.5,548.1h.9v.9h-.9zM380.4,547.9h.9v.9h-.9zM380.3,547.4h.9v.9h-.9zM379.4,544.8h.9v.9h-.9zM379.5,545.0h.9v.9h-.9zM379.5,545.7h.9v.9h-.9zM379.8,546.0h.9v.9h-.9zM379.4,545.2h.9v.9h-.9zM379.9,545.8h.9v.9h-.9zM379.7,545.1h.9v.9h-.9zM379.7,545.9h.9v.9h-.9zM382.2,545.3h.9v.9h-.9zM381.6,545.0h.9v.9h-.9zM381.8,545.5h.9v.9h-.9zM381.7,545.5h.9v.9h-.9zM382.3,544.9h.9v.9h-.9zM382.1,545.9h.9v.9h-.9zM381.1,545.7h.9v.9h-.9zM381.4,544.8h.9v.9h-.9zM381.2,545.4h.9v.9h-.9zM381.4,545.6h.9v.9h-.9zM381.1,544.8h.9v.9h-.9zM381.3,545.0h.9v.9h-.9zM381.1,545.6h.9v.9h-.9zM380.7,545.4h.9v.9h-.9zM380.9,545.6h.9v.9h-.9zM380.6,545.3h.9v.9h-.9zM384.1,547.3h.9v.9h-.9zM384.3,547.2h.9v.9h-.9zM383.9,548.3h.9v.9h-.9zM384.7,548.0h.9v.9h-.9zM383.9,547.5h.9v.9h-.9zM384.8,547.7h.9v.9h-.9z" fill="rgb(214, 185, 46)" fill-opacity="0.9"/>
<path d="M379.6,546.0h.9v.9h-.9zM379.8,546.0h.9v.9h-.9zM379.5,546.1h.9v.9h-.9zM380.1,546.7h.9v.9h-.9zM379.6,546.7h.9v.9h-.9zM380.2,546.2h.9v.9h-.9zM379.8,546.5h.9v.9h-.9zM379.5,546.5h.9v.9h-.9zM379.4,546.3h.9v.9h-.9zM384.2,546.8h.9v.9h-.9zM384.5,546.8h.9v.9h-.9zM384.2,546.0h.9v.9h-.9zM384.6,546.0h.9v.9h-.9zM384.4,546.3h.9v.9h-.9zM384.8,546.1h.9v.9h-.9zM384.3,546.0h.9v.9h-.9zM384.2,546.9h.9v.9h-.9zM384.5,547.0h.9v.9h-.9zM381.7,547.8h.9v.9h-.9zM381.7,547.2h.9v.9h-.9zM382.2,547.6h.9v.9h-.9zM382.4,548.3h.9v.9h-.9zM382.4,548.3h.9v.9h-.9zM382.4,547.4h.9v.9h-.9zM380.6,546.5h.9v.9h-.9zM380.4,546.8h.9v.9h-.9zM380.9,546.7h.9v.9h-.9zM381.1,547.0h.9v.9h-.9zM380.8,546.9h.9v.9h-.9zM380.9,546.4h.9v.9h-.9zM381.0,546.5h.9v.9h-.9zM381.3,546.9h.9v.9h-.9zM380.6,547.0h.9v.9h-.9zM381.0,547.1h.9v.9h-.9zM381.1,546.1h.9v.9h-.9zM381.4,546.7h.9v.9h-.9z" fill="rgb(222, 167, 40)" fill-opacity="0.9"/>
<path d="M383.7,546.0h.9v.9h-.9zM383.6,547.0h.9v.9h-.9zM382.7,546.6h.9v.9h-.9zM383.1,546.8h.9v.9h-.9zM382.8,547.1h.9v.9h-.9zM383.8,546.0h.9v.9h-.9zM383.7,546.1h.9v.9h-.9zM383.4,546.7h.9v.9h-.9zM383.6,546.9h.9v.9h-.9zM383.0,546.9h.9v.9h-.9zM383.4,546.6h.9v.9h-.9zM382.9,546.8h.9v.9h-.9zM383.4,547.4h.9v.9h-.9zM383.1,547.3h.9v.9h-.9zM383.4,548.0h.9v.9h-.9zM383.6,548.2h.9v.9h-.9zM383.8,548.3h.9v.9h-.9zM383.8,547.2h.9v.9h-.9zM382.8,548.0h.9v.9h-.9zM383.7,547.6h.9v.9h-.9zM383.5,547.2h.9v.9h-.9zM383.3,547.2h.9v.9h-.9zM383.4,547.4h.9v.9h-.9zM383.1,547.3h.9v.9h-.9zM383.2,548.3h.9v.9h-.9zM383.8,547.3h.9v.9h-.9zM383.4,547.7h.9v.9h-.9zM382.8,548.2h.9v.9h-.9zM382.9,547.3h.9v.9h-.9zM381.5,547.0h.9v.9h-.9zM382.6,547.0h.9v.9h-.9zM382.5,546.5h.9v.9h-.9zM381.7,546.0h.9v.9h-.9zM381.6,546.2h.9v.9h-.9zM382.3,546.3h.9v.9h-.9zM381.6,546.5h.9v.9h-.9zM382.1,546.5h.9v.9h-.9zM382.0,546.6h.9v.9h-.9zM381.9,546.4h.9v.9h-.9zM382.1,546.0h.9v.9h-.9zM382.5,546.9h.9v.9h-.9zM381.6,546.6h.9v.9h-.9zM381.6,546.9h.9v.9h-.9z" fill="rgb(230, 150, 35)" fill-opacity="0.9"/>
</g>
<line x1="345.40" y1="556.80" x2="417.50" y2="556.80" stroke="#3c3c3c" stroke-width="1.3" stroke-linecap="butt"/>
<line x1="385.30" y1="531.50" x2="385.30" y2="603.80" stroke="#3c3c3c" stroke-width="1.3" stroke-linecap="butt"/>
<line x1="345.00" y1="531.20" x2="345.00" y2="604.10" stroke="#222" stroke-width="0.8" stroke-linecap="butt"/>
<line x1="345.00" y1="604.10" x2="417.50" y2="604.10" stroke="#222" stroke-width="0.8" stroke-linecap="butt"/>
<line x1="343.60" y1="603.20" x2="345.00" y2="603.20" stroke="#111" stroke-width="0.9" stroke-linecap="butt"/>
<line x1="345.00" y1="604.10" x2="345.00" y2="605.60" stroke="#111" stroke-width="0.9" stroke-linecap="butt"/>
<line x1="344.40" y1="599.68" x2="345.00" y2="599.68" stroke="#333" stroke-width="0.5" stroke-linecap="butt"/>
<line x1="348.54" y1="604.10" x2="348.54" y2="604.80" stroke="#333" stroke-width="0.5" stroke-linecap="butt"/>
<line x1="344.40" y1="597.62" x2="345.00" y2="597.62" stroke="#333" stroke-width="0.5" stroke-linecap="butt"/>
<line x1="350.62" y1="604.10" x2="350.62" y2="604.80" stroke="#333" stroke-width="0.5" stroke-linecap="butt"/>
<line x1="344.40" y1="596.16" x2="345.00" y2="596.16" stroke="#333" stroke-width="0.5" stroke-linecap="butt"/>
<line x1="352.09" y1="604.10" x2="352.09" y2="604.80" stroke="#333" stroke-width="0.5" stroke-linecap="butt"/>
<line x1="344.40" y1="595.02" x2="345.00" y2="595.02" stroke="#333" stroke-width="0.5" stroke-linecap="butt"/>
<line x1="353.23" y1="604.10" x2="353.23" y2="604.80" stroke="#333" stroke-width="0.5" stroke-linecap="butt"/>
<line x1="344.40" y1="594.10" x2="345.00" y2="594.10" stroke="#333" stroke-width="0.5" stroke-linecap="butt"/>
<line x1="354.16" y1="604.10" x2="354.16" y2="604.80" stroke="#333" stroke-width="0.5" stroke-linecap="butt"/>
<line x1="344.40" y1="593.31" x2="345.00" y2="593.31" stroke="#333" stroke-width="0.5" stroke-linecap="butt"/>
<line x1="354.95" y1="604.10" x2="354.95" y2="604.80" stroke="#333" stroke-width="0.5" stroke-linecap="butt"/>
<line x1="344.40" y1="592.63" x2="345.00" y2="592.63" stroke="#333" stroke-width="0.5" stroke-linecap="butt"/>
<line x1="355.63" y1="604.10" x2="355.63" y2="604.80" stroke="#333" stroke-width="0.5" stroke-linecap="butt"/>
<line x1="344.40" y1="592.04" x2="345.00" y2="592.04" stroke="#333" stroke-width="0.5" stroke-linecap="butt"/>
<line x1="356.23" y1="604.10" x2="356.23" y2="604.80" stroke="#333" stroke-width="0.5" stroke-linecap="butt"/>
<text transform="translate(337.40,604.90)" font-size="5.4" text-anchor="end" fill="#222">10</text>
<text transform="translate(337.60,602.80)" font-size="3.4" fill="#222">0</text>
<text transform="translate(344.80,613.90)" font-size="5.8" text-anchor="middle" fill="#222">10</text>
<text transform="translate(347.90,611.10)" font-size="3.5" fill="#222">0</text>
<line x1="343.60" y1="591.50" x2="345.00" y2="591.50" stroke="#111" stroke-width="0.9" stroke-linecap="butt"/>
<line x1="356.77" y1="604.10" x2="356.77" y2="605.60" stroke="#111" stroke-width="0.9" stroke-linecap="butt"/>
<line x1="344.40" y1="587.98" x2="345.00" y2="587.98" stroke="#333" stroke-width="0.5" stroke-linecap="butt"/>
<line x1="360.31" y1="604.10" x2="360.31" y2="604.80" stroke="#333" stroke-width="0.5" stroke-linecap="butt"/>
<line x1="344.40" y1="585.92" x2="345.00" y2="585.92" stroke="#333" stroke-width="0.5" stroke-linecap="butt"/>
<line x1="362.39" y1="604.10" x2="362.39" y2="604.80" stroke="#333" stroke-width="0.5" stroke-linecap="butt"/>
<line x1="344.40" y1="584.46" x2="345.00" y2="584.46" stroke="#333" stroke-width="0.5" stroke-linecap="butt"/>
<line x1="363.86" y1="604.10" x2="363.86" y2="604.80" stroke="#333" stroke-width="0.5" stroke-linecap="butt"/>
<line x1="344.40" y1="583.32" x2="345.00" y2="583.32" stroke="#333" stroke-width="0.5" stroke-linecap="butt"/>
<line x1="365.00" y1="604.10" x2="365.00" y2="604.80" stroke="#333" stroke-width="0.5" stroke-linecap="butt"/>
<line x1="344.40" y1="582.40" x2="345.00" y2="582.40" stroke="#333" stroke-width="0.5" stroke-linecap="butt"/>
<line x1="365.93" y1="604.10" x2="365.93" y2="604.80" stroke="#333" stroke-width="0.5" stroke-linecap="butt"/>
<line x1="344.40" y1="581.61" x2="345.00" y2="581.61" stroke="#333" stroke-width="0.5" stroke-linecap="butt"/>
<line x1="366.72" y1="604.10" x2="366.72" y2="604.80" stroke="#333" stroke-width="0.5" stroke-linecap="butt"/>
<line x1="344.40" y1="580.93" x2="345.00" y2="580.93" stroke="#333" stroke-width="0.5" stroke-linecap="butt"/>
<line x1="367.40" y1="604.10" x2="367.40" y2="604.80" stroke="#333" stroke-width="0.5" stroke-linecap="butt"/>
<line x1="344.40" y1="580.34" x2="345.00" y2="580.34" stroke="#333" stroke-width="0.5" stroke-linecap="butt"/>
<line x1="368.00" y1="604.10" x2="368.00" y2="604.80" stroke="#333" stroke-width="0.5" stroke-linecap="butt"/>
<text transform="translate(337.40,593.20)" font-size="5.4" text-anchor="end" fill="#222">10</text>
<text transform="translate(337.60,591.10)" font-size="3.4" fill="#222">1</text>
<text transform="translate(356.57,613.90)" font-size="5.8" text-anchor="middle" fill="#222">10</text>
<text transform="translate(359.67,611.10)" font-size="3.5" fill="#222">1</text>
<line x1="343.60" y1="579.80" x2="345.00" y2="579.80" stroke="#111" stroke-width="0.9" stroke-linecap="butt"/>
<line x1="368.54" y1="604.10" x2="368.54" y2="605.60" stroke="#111" stroke-width="0.9" stroke-linecap="butt"/>
<line x1="344.40" y1="576.28" x2="345.00" y2="576.28" stroke="#333" stroke-width="0.5" stroke-linecap="butt"/>
<line x1="372.08" y1="604.10" x2="372.08" y2="604.80" stroke="#333" stroke-width="0.5" stroke-linecap="butt"/>
<line x1="344.40" y1="574.22" x2="345.00" y2="574.22" stroke="#333" stroke-width="0.5" stroke-linecap="butt"/>
<line x1="374.16" y1="604.10" x2="374.16" y2="604.80" stroke="#333" stroke-width="0.5" stroke-linecap="butt"/>
<line x1="344.40" y1="572.76" x2="345.00" y2="572.76" stroke="#333" stroke-width="0.5" stroke-linecap="butt"/>
<line x1="375.63" y1="604.10" x2="375.63" y2="604.80" stroke="#333" stroke-width="0.5" stroke-linecap="butt"/>
<line x1="344.40" y1="571.62" x2="345.00" y2="571.62" stroke="#333" stroke-width="0.5" stroke-linecap="butt"/>
<line x1="376.77" y1="604.10" x2="376.77" y2="604.80" stroke="#333" stroke-width="0.5" stroke-linecap="butt"/>
<line x1="344.40" y1="570.70" x2="345.00" y2="570.70" stroke="#333" stroke-width="0.5" stroke-linecap="butt"/>
<line x1="377.70" y1="604.10" x2="377.70" y2="604.80" stroke="#333" stroke-width="0.5" stroke-linecap="butt"/>
<line x1="344.40" y1="569.91" x2="345.00" y2="569.91" stroke="#333" stroke-width="0.5" stroke-linecap="butt"/>
<line x1="378.49" y1="604.10" x2="378.49" y2="604.80" stroke="#333" stroke-width="0.5" stroke-linecap="butt"/>
<line x1="344.40" y1="569.23" x2="345.00" y2="569.23" stroke="#333" stroke-width="0.5" stroke-linecap="butt"/>
<line x1="379.17" y1="604.10" x2="379.17" y2="604.80" stroke="#333" stroke-width="0.5" stroke-linecap="butt"/>
<line x1="344.40" y1="568.64" x2="345.00" y2="568.64" stroke="#333" stroke-width="0.5" stroke-linecap="butt"/>
<line x1="379.77" y1="604.10" x2="379.77" y2="604.80" stroke="#333" stroke-width="0.5" stroke-linecap="butt"/>
<text transform="translate(337.40,581.50)" font-size="5.4" text-anchor="end" fill="#222">10</text>
<text transform="translate(337.60,579.40)" font-size="3.4" fill="#222">2</text>
<text transform="translate(368.34,613.90)" font-size="5.8" text-anchor="middle" fill="#222">10</text>
<text transform="translate(371.44,611.10)" font-size="3.5" fill="#222">2</text>
<line x1="343.60" y1="568.10" x2="345.00" y2="568.10" stroke="#111" stroke-width="0.9" stroke-linecap="butt"/>
<line x1="380.31" y1="604.10" x2="380.31" y2="605.60" stroke="#111" stroke-width="0.9" stroke-linecap="butt"/>
<line x1="344.40" y1="564.58" x2="345.00" y2="564.58" stroke="#333" stroke-width="0.5" stroke-linecap="butt"/>
<line x1="383.85" y1="604.10" x2="383.85" y2="604.80" stroke="#333" stroke-width="0.5" stroke-linecap="butt"/>
<line x1="344.40" y1="562.52" x2="345.00" y2="562.52" stroke="#333" stroke-width="0.5" stroke-linecap="butt"/>
<line x1="385.93" y1="604.10" x2="385.93" y2="604.80" stroke="#333" stroke-width="0.5" stroke-linecap="butt"/>
<line x1="344.40" y1="561.06" x2="345.00" y2="561.06" stroke="#333" stroke-width="0.5" stroke-linecap="butt"/>
<line x1="387.40" y1="604.10" x2="387.40" y2="604.80" stroke="#333" stroke-width="0.5" stroke-linecap="butt"/>
<line x1="344.40" y1="559.92" x2="345.00" y2="559.92" stroke="#333" stroke-width="0.5" stroke-linecap="butt"/>
<line x1="388.54" y1="604.10" x2="388.54" y2="604.80" stroke="#333" stroke-width="0.5" stroke-linecap="butt"/>
<line x1="344.40" y1="559.00" x2="345.00" y2="559.00" stroke="#333" stroke-width="0.5" stroke-linecap="butt"/>
<line x1="389.47" y1="604.10" x2="389.47" y2="604.80" stroke="#333" stroke-width="0.5" stroke-linecap="butt"/>
<line x1="344.40" y1="558.21" x2="345.00" y2="558.21" stroke="#333" stroke-width="0.5" stroke-linecap="butt"/>
<line x1="390.26" y1="604.10" x2="390.26" y2="604.80" stroke="#333" stroke-width="0.5" stroke-linecap="butt"/>
<line x1="344.40" y1="557.53" x2="345.00" y2="557.53" stroke="#333" stroke-width="0.5" stroke-linecap="butt"/>
<line x1="390.94" y1="604.10" x2="390.94" y2="604.80" stroke="#333" stroke-width="0.5" stroke-linecap="butt"/>
<line x1="344.40" y1="556.94" x2="345.00" y2="556.94" stroke="#333" stroke-width="0.5" stroke-linecap="butt"/>
<line x1="391.54" y1="604.10" x2="391.54" y2="604.80" stroke="#333" stroke-width="0.5" stroke-linecap="butt"/>
<text transform="translate(337.40,569.80)" font-size="5.4" text-anchor="end" fill="#222">10</text>
<text transform="translate(337.60,567.70)" font-size="3.4" fill="#222">3</text>
<text transform="translate(380.11,613.90)" font-size="5.8" text-anchor="middle" fill="#222">10</text>
<text transform="translate(383.21,611.10)" font-size="3.5" fill="#222">3</text>
<line x1="343.60" y1="556.40" x2="345.00" y2="556.40" stroke="#111" stroke-width="0.9" stroke-linecap="butt"/>
<line x1="392.08" y1="604.10" x2="392.08" y2="605.60" stroke="#111" stroke-width="0.9" stroke-linecap="butt"/>
<line x1="344.40" y1="552.88" x2="345.00" y2="552.88" stroke="#333" stroke-width="0.5" stroke-linecap="butt"/>
<line x1="395.62" y1="604.10" x2="395.62" y2="604.80" stroke="#333" stroke-width="0.5" stroke-linecap="butt"/>
<line x1="344.40" y1="550.82" x2="345.00" y2="550.82" stroke="#333" stroke-width="0.5" stroke-linecap="butt"/>
<line x1="397.70" y1="604.10" x2="397.70" y2="604.80" stroke="#333" stroke-width="0.5" stroke-linecap="butt"/>
<line x1="344.40" y1="549.36" x2="345.00" y2="549.36" stroke="#333" stroke-width="0.5" stroke-linecap="butt"/>
<line x1="399.17" y1="604.10" x2="399.17" y2="604.80" stroke="#333" stroke-width="0.5" stroke-linecap="butt"/>
<line x1="344.40" y1="548.22" x2="345.00" y2="548.22" stroke="#333" stroke-width="0.5" stroke-linecap="butt"/>
<line x1="400.31" y1="604.10" x2="400.31" y2="604.80" stroke="#333" stroke-width="0.5" stroke-linecap="butt"/>
<line x1="344.40" y1="547.30" x2="345.00" y2="547.30" stroke="#333" stroke-width="0.5" stroke-linecap="butt"/>
<line x1="401.24" y1="604.10" x2="401.24" y2="604.80" stroke="#333" stroke-width="0.5" stroke-linecap="butt"/>
<line x1="344.40" y1="546.51" x2="345.00" y2="546.51" stroke="#333" stroke-width="0.5" stroke-linecap="butt"/>
<line x1="402.03" y1="604.10" x2="402.03" y2="604.80" stroke="#333" stroke-width="0.5" stroke-linecap="butt"/>
<line x1="344.40" y1="545.83" x2="345.00" y2="545.83" stroke="#333" stroke-width="0.5" stroke-linecap="butt"/>
<line x1="402.71" y1="604.10" x2="402.71" y2="604.80" stroke="#333" stroke-width="0.5" stroke-linecap="butt"/>
<line x1="344.40" y1="545.24" x2="345.00" y2="545.24" stroke="#333" stroke-width="0.5" stroke-linecap="butt"/>
<line x1="403.31" y1="604.10" x2="403.31" y2="604.80" stroke="#333" stroke-width="0.5" stroke-linecap="butt"/>
<text transform="translate(337.40,558.10)" font-size="5.4" text-anchor="end" fill="#222">10</text>
<text transform="translate(337.60,556.00)" font-size="3.4" fill="#222">4</text>
<text transform="translate(391.88,613.90)" font-size="5.8" text-anchor="middle" fill="#222">10</text>
<text transform="translate(394.98,611.10)" font-size="3.5" fill="#222">4</text>
<line x1="343.60" y1="544.70" x2="345.00" y2="544.70" stroke="#111" stroke-width="0.9" stroke-linecap="butt"/>
<line x1="403.85" y1="604.10" x2="403.85" y2="605.60" stroke="#111" stroke-width="0.9" stroke-linecap="butt"/>
<line x1="344.40" y1="541.18" x2="345.00" y2="541.18" stroke="#333" stroke-width="0.5" stroke-linecap="butt"/>
<line x1="407.39" y1="604.10" x2="407.39" y2="604.80" stroke="#333" stroke-width="0.5" stroke-linecap="butt"/>
<line x1="344.40" y1="539.12" x2="345.00" y2="539.12" stroke="#333" stroke-width="0.5" stroke-linecap="butt"/>
<line x1="409.47" y1="604.10" x2="409.47" y2="604.80" stroke="#333" stroke-width="0.5" stroke-linecap="butt"/>
<line x1="344.40" y1="537.66" x2="345.00" y2="537.66" stroke="#333" stroke-width="0.5" stroke-linecap="butt"/>
<line x1="410.94" y1="604.10" x2="410.94" y2="604.80" stroke="#333" stroke-width="0.5" stroke-linecap="butt"/>
<line x1="344.40" y1="536.52" x2="345.00" y2="536.52" stroke="#333" stroke-width="0.5" stroke-linecap="butt"/>
<line x1="412.08" y1="604.10" x2="412.08" y2="604.80" stroke="#333" stroke-width="0.5" stroke-linecap="butt"/>
<line x1="344.40" y1="535.60" x2="345.00" y2="535.60" stroke="#333" stroke-width="0.5" stroke-linecap="butt"/>
<line x1="413.01" y1="604.10" x2="413.01" y2="604.80" stroke="#333" stroke-width="0.5" stroke-linecap="butt"/>
<line x1="344.40" y1="534.81" x2="345.00" y2="534.81" stroke="#333" stroke-width="0.5" stroke-linecap="butt"/>
<line x1="413.80" y1="604.10" x2="413.80" y2="604.80" stroke="#333" stroke-width="0.5" stroke-linecap="butt"/>
<line x1="344.40" y1="534.13" x2="345.00" y2="534.13" stroke="#333" stroke-width="0.5" stroke-linecap="butt"/>
<line x1="414.48" y1="604.10" x2="414.48" y2="604.80" stroke="#333" stroke-width="0.5" stroke-linecap="butt"/>
<line x1="344.40" y1="533.54" x2="345.00" y2="533.54" stroke="#333" stroke-width="0.5" stroke-linecap="butt"/>
<line x1="415.08" y1="604.10" x2="415.08" y2="604.80" stroke="#333" stroke-width="0.5" stroke-linecap="butt"/>
<text transform="translate(337.40,546.40)" font-size="5.4" text-anchor="end" fill="#222">10</text>
<text transform="translate(337.60,544.30)" font-size="3.4" fill="#222">5</text>
<text transform="translate(403.65,613.90)" font-size="5.8" text-anchor="middle" fill="#222">10</text>
<text transform="translate(406.75,611.10)" font-size="3.5" fill="#222">5</text>
<line x1="343.60" y1="533.00" x2="345.00" y2="533.00" stroke="#111" stroke-width="0.9" stroke-linecap="butt"/>
<line x1="415.62" y1="604.10" x2="415.62" y2="605.60" stroke="#111" stroke-width="0.9" stroke-linecap="butt"/>
<text transform="translate(337.40,534.70)" font-size="5.4" text-anchor="end" fill="#222">10</text>
<text transform="translate(337.60,532.60)" font-size="3.4" fill="#222">6</text>
<text transform="translate(415.42,613.90)" font-size="5.8" text-anchor="middle" fill="#222">10</text>
<text transform="translate(418.52,611.10)" font-size="3.5" fill="#222">6</text>
<text x="346.20" y="536.50" font-size="4.9" fill="#222">Q1</text>
<text x="346.60" y="541.30" font-size="4.6" fill="#222">30.9</text>
<text x="411.50" y="536.50" font-size="4.9" fill="#222" text-anchor="end">Q2</text>
<text x="411.50" y="541.30" font-size="4.6" fill="#222" text-anchor="end">16.4</text>
<text x="346.60" y="595.40" font-size="4.6" fill="#222">Q4</text>
<text x="346.60" y="600.40" font-size="4.6" fill="#222">18.9</text>
<text x="411.50" y="595.40" font-size="4.6" fill="#222" text-anchor="end">Q3</text>
<text x="411.50" y="600.40" font-size="4.6" fill="#222" text-anchor="end">33.8</text>
<text transform="translate(227.60,566.40) rotate(-90) scale(0.8,1)" font-size="7.6" text-anchor="middle" font-weight="bold" fill="#111" >CD11b</text>
<text transform="translate(245.00,624.00) scale(0.78,1)" font-size="7.6" text-anchor="start" font-weight="bold" fill="#111" >MHC II</text>
<line x1="265.60" y1="621.70" x2="417.60" y2="621.70" stroke="#333" stroke-width="1.3" stroke-linecap="butt"/>
<rect x="0.5" y="0.5" width="519" height="649" fill="none" stroke="#000" stroke-width="1"/>
<rect x="1.5" y="1.5" width="517" height="647" fill="none" stroke="#000" stroke-opacity="0.45" stroke-width="1"/>
<rect x="2.5" y="2.5" width="515" height="645" fill="none" stroke="#000" stroke-opacity="0.05" stroke-width="1"/>
</svg>
</body></html>
